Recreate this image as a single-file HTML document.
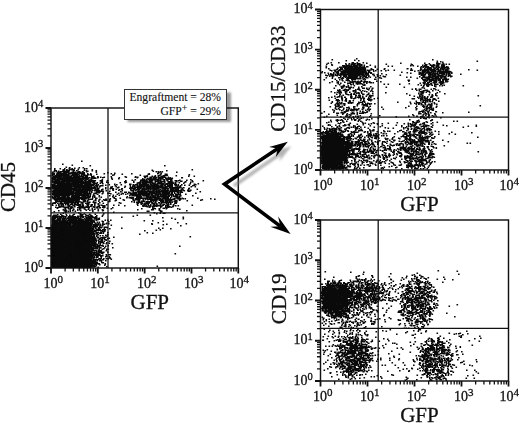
<!DOCTYPE html><html><head><meta charset="utf-8"><title>Flow cytometry</title><style>html,body{margin:0;padding:0;background:#fff;width:520px;height:423px;overflow:hidden}svg{display:block;filter:blur(0.35px)}text{font-family:"Liberation Serif",serif;fill:#111;stroke:#111;stroke-width:0.3px}</style></head><body><svg width="520" height="423" viewBox="0 0 520 423"><defs><clipPath id="cA"><rect x="51.0" y="108.0" width="187.3" height="160.0"/></clipPath><clipPath id="cB"><rect x="320.5" y="9.5" width="188.0" height="160.5"/></clipPath><clipPath id="cC"><rect x="320.5" y="220.0" width="188.0" height="161.0"/></clipPath><filter id="b2" x="-50%" y="-50%" width="200%" height="200%"><feGaussianBlur stdDeviation="2"/></filter></defs><g clip-path="url(#cA)"><g filter="url(#b2)"><ellipse cx="64" cy="186" rx="18" ry="11" fill="#000" fill-opacity="0.55"/><ellipse cx="153" cy="191" rx="14" ry="8" fill="#000" fill-opacity="0.5"/><rect x="45" y="224" width="47" height="50" fill="#000"/></g></g><g clip-path="url(#cB)"><g filter="url(#b2)"><ellipse cx="354.5" cy="70" rx="8" ry="4" fill="#000" fill-opacity="0.5"/><ellipse cx="331" cy="153" rx="12" ry="16" fill="#000" fill-opacity="1"/><ellipse cx="436" cy="73" rx="9" ry="6" fill="#000" fill-opacity="0.3"/></g></g><g clip-path="url(#cC)"><g filter="url(#b2)"><ellipse cx="334" cy="298.5" rx="11" ry="12" fill="#000" fill-opacity="0.8"/></g></g><path d="M51.5 173.3h1.6M51.5 173.8h1.6M51.5 175.8h1.6M51.5 178.3h1.6M51.5 181.3h1.6M51.5 184.8h1.6M51.5 187.3h1.6M51.5 196.8h1.6M51.5 204.8h1.6M51.5 218.3h1.6M51.5 218.8h1.6M51.5 219.3h1.6M51.5 221.3h1.6M51.5 225.8h1.6M51.5 226.8h1.6M51.5 231.8h1.6M51.5 242.8h1.6M51.5 243.8h1.6M51.5 246.3h1.6M51.5 246.8h1.6M51.5 248.8h1.6M51.5 254.8h1.6M51.5 257.8h1.6M51.5 260.8h1.6M52 172.3h1.6M52 172.8h1.6M52 174.8h1.6M52 175.3h1.6M52 177.8h1.6M52 178.8h1.6M52 179.8h1.6M52 181.8h1.6M52 182.3h1.6M52 186.3h1.6M52 187.3h1.6M52 188.3h1.6M52 191.8h1.6M52 193.8h1.6M52 194.3h1.6M52 194.8h1.6M52 197.8h1.6M52 203.3h1.6M52 205.3h1.6M52 216.3h1.6M52 217.3h1.6M52 219.3h1.6M52 220.8h1.6M52 222.8h1.6M52 223.3h1.6M52 224.8h1.6M52 225.3h1.6M52 226.3h1.6M52 227.8h1.6M52 228.3h1.6M52 230.8h1.6M52 231.3h1.6M52 231.8h1.6M52 233.3h1.6M52 235.3h1.6M52 236.3h1.6M52 237.3h1.6M52 238.8h1.6M52 242.3h1.6M52 244.8h1.6M52 246.3h1.6M52 247.3h1.6M52 247.8h1.6M52 248.8h1.6M52 253.3h1.6M52 254.8h1.6M52 256.8h1.6M52 257.8h1.6M52 258.3h1.6M52 259.3h1.6M52 265.3h1.6M52 265.8h1.6M52 266.3h1.6M52.5 176.8h1.6M52.5 184.8h1.6M52.5 185.3h1.6M52.5 186.8h1.6M52.5 187.3h1.6M52.5 187.8h1.6M52.5 190.3h1.6M52.5 190.8h1.6M52.5 193.3h1.6M52.5 198.3h1.6M52.5 198.8h1.6M52.5 220.3h1.6M52.5 221.3h1.6M52.5 222.3h1.6M52.5 222.8h1.6M52.5 223.3h1.6M52.5 224.8h1.6M52.5 225.3h1.6M52.5 225.8h1.6M52.5 226.3h1.6M52.5 226.8h1.6M52.5 228.3h1.6M52.5 228.8h1.6M52.5 229.8h1.6M52.5 230.3h1.6M52.5 234.3h1.6M52.5 236.3h1.6M52.5 238.3h1.6M52.5 240.3h1.6M52.5 243.3h1.6M52.5 245.3h1.6M52.5 246.3h1.6M52.5 246.8h1.6M52.5 248.8h1.6M52.5 250.3h1.6M52.5 250.8h1.6M52.5 254.3h1.6M52.5 256.8h1.6M52.5 257.8h1.6M52.5 260.3h1.6M52.5 260.8h1.6M52.5 265.8h1.6M52.5 267.3h1.6M53 173.8h1.6M53 174.8h1.6M53 178.3h1.6M53 179.8h1.6M53 184.3h1.6M53 184.8h1.6M53 185.3h1.6M53 186.8h1.6M53 187.3h1.6M53 188.3h1.6M53 190.8h1.6M53 192.8h1.6M53 193.3h1.6M53 193.8h1.6M53 197.8h1.6M53 198.3h1.6M53 215.3h1.6M53 216.3h1.6M53 218.3h1.6M53 221.3h1.6M53 222.3h1.6M53 223.8h1.6M53 225.3h1.6M53 225.8h1.6M53 230.8h1.6M53 231.3h1.6M53 231.8h1.6M53 232.3h1.6M53 233.3h1.6M53 234.8h1.6M53 235.3h1.6M53 235.8h1.6M53 238.3h1.6M53 239.3h1.6M53 239.8h1.6M53 240.3h1.6M53 241.3h1.6M53 242.3h1.6M53 242.8h1.6M53 243.3h1.6M53 243.8h1.6M53 244.3h1.6M53 245.3h1.6M53 245.8h1.6M53 253.8h1.6M53 256.8h1.6M53 257.8h1.6M53 259.8h1.6M53 260.8h1.6M53 261.8h1.6M53 262.8h1.6M53 263.8h1.6M53 264.3h1.6M53 264.8h1.6M53 265.8h1.6M53 266.8h1.6M53.5 171.3h1.6M53.5 171.8h1.6M53.5 173.8h1.6M53.5 174.8h1.6M53.5 178.8h1.6M53.5 179.3h1.6M53.5 181.8h1.6M53.5 185.8h1.6M53.5 186.3h1.6M53.5 186.8h1.6M53.5 187.3h1.6M53.5 191.8h1.6M53.5 193.3h1.6M53.5 194.8h1.6M53.5 195.3h1.6M53.5 196.8h1.6M53.5 198.8h1.6M53.5 202.8h1.6M53.5 203.3h1.6M53.5 211.8h1.6M53.5 217.3h1.6M53.5 219.3h1.6M53.5 220.8h1.6M53.5 222.3h1.6M53.5 223.3h1.6M53.5 223.8h1.6M53.5 225.3h1.6M53.5 226.3h1.6M53.5 228.3h1.6M53.5 228.8h1.6M53.5 229.3h1.6M53.5 231.3h1.6M53.5 232.3h1.6M53.5 233.3h1.6M53.5 235.3h1.6M53.5 237.3h1.6M53.5 238.3h1.6M53.5 239.8h1.6M53.5 240.3h1.6M53.5 242.3h1.6M53.5 244.8h1.6M53.5 245.3h1.6M53.5 246.3h1.6M53.5 246.8h1.6M53.5 247.3h1.6M53.5 247.8h1.6M53.5 249.8h1.6M53.5 251.3h1.6M53.5 251.8h1.6M53.5 253.3h1.6M53.5 253.8h1.6M53.5 257.3h1.6M53.5 258.3h1.6M53.5 260.3h1.6M53.5 262.8h1.6M53.5 263.8h1.6M53.5 266.8h1.6M54 168.8h1.6M54 170.3h1.6M54 176.8h1.6M54 177.3h1.6M54 177.8h1.6M54 181.3h1.6M54 182.8h1.6M54 184.8h1.6M54 185.3h1.6M54 187.3h1.6M54 188.3h1.6M54 189.8h1.6M54 190.3h1.6M54 196.3h1.6M54 196.8h1.6M54 197.8h1.6M54 199.3h1.6M54 202.8h1.6M54 215.3h1.6M54 218.8h1.6M54 219.3h1.6M54 219.8h1.6M54 220.3h1.6M54 221.3h1.6M54 221.8h1.6M54 222.8h1.6M54 224.3h1.6M54 224.8h1.6M54 225.8h1.6M54 226.8h1.6M54 227.3h1.6M54 228.3h1.6M54 229.3h1.6M54 229.8h1.6M54 230.8h1.6M54 231.3h1.6M54 232.3h1.6M54 232.8h1.6M54 233.8h1.6M54 234.8h1.6M54 235.8h1.6M54 237.8h1.6M54 240.3h1.6M54 242.3h1.6M54 242.8h1.6M54 243.8h1.6M54 244.8h1.6M54 245.3h1.6M54 245.8h1.6M54 246.3h1.6M54 247.3h1.6M54 250.8h1.6M54 251.8h1.6M54 253.8h1.6M54 254.8h1.6M54 258.8h1.6M54 260.3h1.6M54.5 176.3h1.6M54.5 177.8h1.6M54.5 179.3h1.6M54.5 181.3h1.6M54.5 183.3h1.6M54.5 185.8h1.6M54.5 187.3h1.6M54.5 188.3h1.6M54.5 189.3h1.6M54.5 191.3h1.6M54.5 194.8h1.6M54.5 196.8h1.6M54.5 200.3h1.6M54.5 203.3h1.6M54.5 216.3h1.6M54.5 216.8h1.6M54.5 218.3h1.6M54.5 221.8h1.6M54.5 223.3h1.6M54.5 224.8h1.6M54.5 225.8h1.6M54.5 227.8h1.6M54.5 228.8h1.6M54.5 229.8h1.6M54.5 230.3h1.6M54.5 230.8h1.6M54.5 233.3h1.6M54.5 234.8h1.6M54.5 236.3h1.6M54.5 236.8h1.6M54.5 240.3h1.6M54.5 241.3h1.6M54.5 243.8h1.6M54.5 246.8h1.6M54.5 248.8h1.6M54.5 250.8h1.6M54.5 251.8h1.6M54.5 253.8h1.6M54.5 254.3h1.6M54.5 257.3h1.6M54.5 263.8h1.6M54.5 265.3h1.6M54.5 266.8h1.6M55 175.8h1.6M55 179.3h1.6M55 179.8h1.6M55 180.3h1.6M55 180.8h1.6M55 181.3h1.6M55 186.8h1.6M55 188.3h1.6M55 190.3h1.6M55 191.3h1.6M55 191.8h1.6M55 193.3h1.6M55 194.8h1.6M55 196.8h1.6M55 197.8h1.6M55 198.3h1.6M55 198.8h1.6M55 201.8h1.6M55 207.3h1.6M55 220.8h1.6M55 221.3h1.6M55 223.3h1.6M55 224.3h1.6M55 225.3h1.6M55 226.8h1.6M55 227.8h1.6M55 229.8h1.6M55 230.3h1.6M55 230.8h1.6M55 231.8h1.6M55 232.8h1.6M55 233.3h1.6M55 237.3h1.6M55 237.8h1.6M55 239.3h1.6M55 241.3h1.6M55 242.3h1.6M55 244.3h1.6M55 244.8h1.6M55 245.3h1.6M55 248.8h1.6M55 251.8h1.6M55 253.8h1.6M55 255.3h1.6M55 256.3h1.6M55 258.3h1.6M55 260.3h1.6M55 260.8h1.6M55 261.3h1.6M55 263.8h1.6M55 264.3h1.6M55 264.8h1.6M55 266.8h1.6M55.5 170.8h1.6M55.5 171.3h1.6M55.5 171.8h1.6M55.5 175.8h1.6M55.5 180.8h1.6M55.5 181.8h1.6M55.5 182.3h1.6M55.5 183.3h1.6M55.5 185.8h1.6M55.5 187.3h1.6M55.5 187.8h1.6M55.5 188.8h1.6M55.5 189.3h1.6M55.5 189.8h1.6M55.5 190.3h1.6M55.5 191.8h1.6M55.5 194.8h1.6M55.5 195.3h1.6M55.5 200.8h1.6M55.5 202.3h1.6M55.5 205.3h1.6M55.5 215.3h1.6M55.5 217.3h1.6M55.5 220.8h1.6M55.5 221.8h1.6M55.5 222.8h1.6M55.5 225.3h1.6M55.5 228.3h1.6M55.5 228.8h1.6M55.5 229.8h1.6M55.5 233.3h1.6M55.5 234.8h1.6M55.5 235.8h1.6M55.5 236.8h1.6M55.5 239.3h1.6M55.5 240.8h1.6M55.5 243.3h1.6M55.5 243.8h1.6M55.5 244.3h1.6M55.5 245.3h1.6M55.5 246.8h1.6M55.5 247.3h1.6M55.5 253.8h1.6M55.5 254.8h1.6M55.5 256.3h1.6M55.5 256.8h1.6M55.5 257.3h1.6M55.5 258.3h1.6M55.5 258.8h1.6M55.5 261.8h1.6M55.5 262.3h1.6M55.5 262.8h1.6M55.5 264.3h1.6M55.5 266.3h1.6M56 174.3h1.6M56 177.3h1.6M56 179.3h1.6M56 181.8h1.6M56 183.3h1.6M56 188.3h1.6M56 188.8h1.6M56 189.3h1.6M56 189.8h1.6M56 190.8h1.6M56 192.3h1.6M56 193.3h1.6M56 198.8h1.6M56 199.3h1.6M56 200.3h1.6M56 215.8h1.6M56 220.3h1.6M56 224.3h1.6M56 225.8h1.6M56 227.3h1.6M56 229.8h1.6M56 230.8h1.6M56 233.8h1.6M56 236.3h1.6M56 236.8h1.6M56 240.3h1.6M56 240.8h1.6M56 241.8h1.6M56 243.8h1.6M56 244.8h1.6M56 246.3h1.6M56 246.8h1.6M56 248.3h1.6M56 249.3h1.6M56 252.3h1.6M56 252.8h1.6M56 253.3h1.6M56 255.8h1.6M56 258.3h1.6M56 258.8h1.6M56 259.3h1.6M56 260.8h1.6M56 261.3h1.6M56 262.8h1.6M56 264.3h1.6M56 264.8h1.6M56 265.3h1.6M56 267.3h1.6M56.5 173.8h1.6M56.5 175.3h1.6M56.5 175.8h1.6M56.5 176.8h1.6M56.5 180.8h1.6M56.5 182.3h1.6M56.5 187.3h1.6M56.5 191.3h1.6M56.5 193.8h1.6M56.5 194.8h1.6M56.5 195.3h1.6M56.5 196.8h1.6M56.5 200.8h1.6M56.5 201.3h1.6M56.5 208.3h1.6M56.5 217.8h1.6M56.5 219.8h1.6M56.5 220.3h1.6M56.5 220.8h1.6M56.5 221.8h1.6M56.5 222.3h1.6M56.5 224.8h1.6M56.5 226.3h1.6M56.5 226.8h1.6M56.5 227.8h1.6M56.5 229.3h1.6M56.5 229.8h1.6M56.5 232.3h1.6M56.5 232.8h1.6M56.5 233.3h1.6M56.5 234.3h1.6M56.5 234.8h1.6M56.5 235.8h1.6M56.5 236.3h1.6M56.5 237.8h1.6M56.5 238.8h1.6M56.5 239.3h1.6M56.5 240.8h1.6M56.5 241.3h1.6M56.5 241.8h1.6M56.5 244.8h1.6M56.5 245.8h1.6M56.5 246.8h1.6M56.5 247.8h1.6M56.5 248.3h1.6M56.5 249.8h1.6M56.5 250.8h1.6M56.5 251.3h1.6M56.5 253.8h1.6M56.5 256.8h1.6M56.5 259.8h1.6M56.5 261.8h1.6M56.5 263.8h1.6M56.5 264.3h1.6M56.5 264.8h1.6M56.5 265.3h1.6M56.5 266.3h1.6M56.5 266.8h1.6M57 172.8h1.6M57 174.8h1.6M57 176.3h1.6M57 177.3h1.6M57 177.8h1.6M57 179.3h1.6M57 180.3h1.6M57 180.8h1.6M57 181.8h1.6M57 183.3h1.6M57 183.8h1.6M57 185.3h1.6M57 185.8h1.6M57 187.8h1.6M57 188.3h1.6M57 189.3h1.6M57 189.8h1.6M57 190.3h1.6M57 191.8h1.6M57 192.3h1.6M57 192.8h1.6M57 194.3h1.6M57 197.8h1.6M57 199.3h1.6M57 201.3h1.6M57 203.3h1.6M57 207.8h1.6M57 214.8h1.6M57 216.8h1.6M57 217.8h1.6M57 218.8h1.6M57 220.3h1.6M57 222.3h1.6M57 222.8h1.6M57 223.8h1.6M57 226.8h1.6M57 227.8h1.6M57 230.3h1.6M57 231.3h1.6M57 233.8h1.6M57 235.8h1.6M57 237.8h1.6M57 238.8h1.6M57 239.3h1.6M57 242.3h1.6M57 242.8h1.6M57 243.8h1.6M57 245.3h1.6M57 245.8h1.6M57 246.8h1.6M57 247.8h1.6M57 248.3h1.6M57 248.8h1.6M57 249.8h1.6M57 250.8h1.6M57 251.3h1.6M57 254.3h1.6M57 255.3h1.6M57 257.3h1.6M57 259.8h1.6M57 260.3h1.6M57 261.8h1.6M57 262.8h1.6M57 263.3h1.6M57 263.8h1.6M57 264.8h1.6M57 265.8h1.6M57.5 171.8h1.6M57.5 173.3h1.6M57.5 177.8h1.6M57.5 179.3h1.6M57.5 180.8h1.6M57.5 183.3h1.6M57.5 183.8h1.6M57.5 185.8h1.6M57.5 188.3h1.6M57.5 189.3h1.6M57.5 189.8h1.6M57.5 191.3h1.6M57.5 191.8h1.6M57.5 192.3h1.6M57.5 193.8h1.6M57.5 194.8h1.6M57.5 195.3h1.6M57.5 198.3h1.6M57.5 218.8h1.6M57.5 222.8h1.6M57.5 223.8h1.6M57.5 225.8h1.6M57.5 226.8h1.6M57.5 229.8h1.6M57.5 232.3h1.6M57.5 232.8h1.6M57.5 235.3h1.6M57.5 236.3h1.6M57.5 236.8h1.6M57.5 237.3h1.6M57.5 239.3h1.6M57.5 241.3h1.6M57.5 241.8h1.6M57.5 243.3h1.6M57.5 245.8h1.6M57.5 247.8h1.6M57.5 250.8h1.6M57.5 251.3h1.6M57.5 251.8h1.6M57.5 255.8h1.6M57.5 256.8h1.6M57.5 257.3h1.6M57.5 261.8h1.6M57.5 263.3h1.6M57.5 264.8h1.6M57.5 265.3h1.6M57.5 267.3h1.6M58 171.3h1.6M58 173.3h1.6M58 176.3h1.6M58 176.8h1.6M58 177.3h1.6M58 180.8h1.6M58 182.8h1.6M58 183.3h1.6M58 184.3h1.6M58 186.8h1.6M58 188.8h1.6M58 189.3h1.6M58 189.8h1.6M58 190.3h1.6M58 191.3h1.6M58 191.8h1.6M58 192.8h1.6M58 193.8h1.6M58 194.3h1.6M58 194.8h1.6M58 196.3h1.6M58 197.3h1.6M58 198.8h1.6M58 204.3h1.6M58 205.3h1.6M58 207.3h1.6M58 210.8h1.6M58 216.8h1.6M58 219.8h1.6M58 220.8h1.6M58 223.3h1.6M58 224.8h1.6M58 225.8h1.6M58 227.3h1.6M58 228.3h1.6M58 229.8h1.6M58 230.3h1.6M58 231.3h1.6M58 232.3h1.6M58 232.8h1.6M58 233.8h1.6M58 234.3h1.6M58 234.8h1.6M58 235.8h1.6M58 236.3h1.6M58 240.8h1.6M58 241.3h1.6M58 242.3h1.6M58 243.8h1.6M58 246.8h1.6M58 247.3h1.6M58 248.3h1.6M58 249.3h1.6M58 249.8h1.6M58 250.8h1.6M58 251.3h1.6M58 251.8h1.6M58 252.3h1.6M58 253.3h1.6M58 257.3h1.6M58 257.8h1.6M58 258.8h1.6M58 259.3h1.6M58 259.8h1.6M58 260.3h1.6M58 261.3h1.6M58 262.3h1.6M58 264.3h1.6M58 264.8h1.6M58.5 172.3h1.6M58.5 173.8h1.6M58.5 174.8h1.6M58.5 177.8h1.6M58.5 178.3h1.6M58.5 178.8h1.6M58.5 179.8h1.6M58.5 180.3h1.6M58.5 181.8h1.6M58.5 182.8h1.6M58.5 183.3h1.6M58.5 183.8h1.6M58.5 185.8h1.6M58.5 186.8h1.6M58.5 187.8h1.6M58.5 190.3h1.6M58.5 191.3h1.6M58.5 192.3h1.6M58.5 192.8h1.6M58.5 193.8h1.6M58.5 195.8h1.6M58.5 196.3h1.6M58.5 196.8h1.6M58.5 197.8h1.6M58.5 199.3h1.6M58.5 200.3h1.6M58.5 201.3h1.6M58.5 201.8h1.6M58.5 206.3h1.6M58.5 216.3h1.6M58.5 219.8h1.6M58.5 222.8h1.6M58.5 223.3h1.6M58.5 223.8h1.6M58.5 226.8h1.6M58.5 227.3h1.6M58.5 227.8h1.6M58.5 230.8h1.6M58.5 232.3h1.6M58.5 232.8h1.6M58.5 234.3h1.6M58.5 235.8h1.6M58.5 237.3h1.6M58.5 239.8h1.6M58.5 241.8h1.6M58.5 243.3h1.6M58.5 243.8h1.6M58.5 244.8h1.6M58.5 245.8h1.6M58.5 246.3h1.6M58.5 246.8h1.6M58.5 248.8h1.6M58.5 249.3h1.6M58.5 251.3h1.6M58.5 252.3h1.6M58.5 254.8h1.6M58.5 256.3h1.6M58.5 258.8h1.6M58.5 259.8h1.6M58.5 261.3h1.6M58.5 262.3h1.6M58.5 263.3h1.6M58.5 264.8h1.6M58.5 265.3h1.6M58.5 265.8h1.6M58.5 266.3h1.6M59 172.3h1.6M59 173.3h1.6M59 174.8h1.6M59 175.8h1.6M59 176.3h1.6M59 178.8h1.6M59 179.3h1.6M59 182.3h1.6M59 183.8h1.6M59 184.3h1.6M59 185.8h1.6M59 186.3h1.6M59 186.8h1.6M59 188.3h1.6M59 188.8h1.6M59 191.8h1.6M59 192.8h1.6M59 193.8h1.6M59 195.8h1.6M59 200.3h1.6M59 207.3h1.6M59 217.8h1.6M59 219.3h1.6M59 220.8h1.6M59 221.8h1.6M59 222.8h1.6M59 226.3h1.6M59 228.3h1.6M59 229.3h1.6M59 231.3h1.6M59 232.8h1.6M59 234.3h1.6M59 237.3h1.6M59 238.3h1.6M59 238.8h1.6M59 239.8h1.6M59 240.3h1.6M59 241.8h1.6M59 243.8h1.6M59 246.8h1.6M59 248.3h1.6M59 249.3h1.6M59 251.8h1.6M59 252.8h1.6M59 253.3h1.6M59 255.8h1.6M59 259.3h1.6M59 259.8h1.6M59 260.8h1.6M59 263.8h1.6M59 264.3h1.6M59 264.8h1.6M59 265.3h1.6M59 266.3h1.6M59.5 168.8h1.6M59.5 172.3h1.6M59.5 173.8h1.6M59.5 176.8h1.6M59.5 179.3h1.6M59.5 179.8h1.6M59.5 182.8h1.6M59.5 183.8h1.6M59.5 184.3h1.6M59.5 184.8h1.6M59.5 185.8h1.6M59.5 186.3h1.6M59.5 186.8h1.6M59.5 187.8h1.6M59.5 188.3h1.6M59.5 190.8h1.6M59.5 193.8h1.6M59.5 194.3h1.6M59.5 199.8h1.6M59.5 201.8h1.6M59.5 203.8h1.6M59.5 219.3h1.6M59.5 219.8h1.6M59.5 220.8h1.6M59.5 223.3h1.6M59.5 224.3h1.6M59.5 224.8h1.6M59.5 226.8h1.6M59.5 227.8h1.6M59.5 229.3h1.6M59.5 234.3h1.6M59.5 235.3h1.6M59.5 236.3h1.6M59.5 236.8h1.6M59.5 238.8h1.6M59.5 240.3h1.6M59.5 241.8h1.6M59.5 243.3h1.6M59.5 243.8h1.6M59.5 244.3h1.6M59.5 246.3h1.6M59.5 247.3h1.6M59.5 247.8h1.6M59.5 249.3h1.6M59.5 251.3h1.6M59.5 251.8h1.6M59.5 252.3h1.6M59.5 253.8h1.6M59.5 254.3h1.6M59.5 254.8h1.6M59.5 255.3h1.6M59.5 255.8h1.6M59.5 257.3h1.6M59.5 258.3h1.6M59.5 259.8h1.6M59.5 261.8h1.6M59.5 262.8h1.6M59.5 264.8h1.6M59.5 266.3h1.6M60 171.8h1.6M60 172.8h1.6M60 174.3h1.6M60 177.8h1.6M60 184.8h1.6M60 185.8h1.6M60 186.8h1.6M60 187.8h1.6M60 189.8h1.6M60 190.3h1.6M60 191.8h1.6M60 192.8h1.6M60 193.3h1.6M60 194.3h1.6M60 195.3h1.6M60 197.8h1.6M60 198.3h1.6M60 199.8h1.6M60 202.3h1.6M60 203.3h1.6M60 206.8h1.6M60 214.3h1.6M60 216.8h1.6M60 217.8h1.6M60 222.3h1.6M60 223.8h1.6M60 225.3h1.6M60 226.3h1.6M60 226.8h1.6M60 230.3h1.6M60 231.8h1.6M60 232.3h1.6M60 233.3h1.6M60 233.8h1.6M60 234.8h1.6M60 235.8h1.6M60 236.3h1.6M60 236.8h1.6M60 237.8h1.6M60 239.8h1.6M60 240.3h1.6M60 240.8h1.6M60 242.3h1.6M60 242.8h1.6M60 243.8h1.6M60 244.3h1.6M60 245.3h1.6M60 246.3h1.6M60 246.8h1.6M60 247.3h1.6M60 247.8h1.6M60 248.8h1.6M60 252.8h1.6M60 253.3h1.6M60 258.3h1.6M60 261.3h1.6M60 262.3h1.6M60 263.3h1.6M60 263.8h1.6M60 265.8h1.6M60.5 174.3h1.6M60.5 175.3h1.6M60.5 176.3h1.6M60.5 176.8h1.6M60.5 177.8h1.6M60.5 179.3h1.6M60.5 181.8h1.6M60.5 182.3h1.6M60.5 183.3h1.6M60.5 184.3h1.6M60.5 184.8h1.6M60.5 185.8h1.6M60.5 186.3h1.6M60.5 187.8h1.6M60.5 188.3h1.6M60.5 190.3h1.6M60.5 191.8h1.6M60.5 192.8h1.6M60.5 194.3h1.6M60.5 194.8h1.6M60.5 198.8h1.6M60.5 199.8h1.6M60.5 202.8h1.6M60.5 204.3h1.6M60.5 204.8h1.6M60.5 205.8h1.6M60.5 216.8h1.6M60.5 217.3h1.6M60.5 221.3h1.6M60.5 222.3h1.6M60.5 225.3h1.6M60.5 226.8h1.6M60.5 227.3h1.6M60.5 227.8h1.6M60.5 231.8h1.6M60.5 232.3h1.6M60.5 233.8h1.6M60.5 234.3h1.6M60.5 236.3h1.6M60.5 237.8h1.6M60.5 239.8h1.6M60.5 240.8h1.6M60.5 241.3h1.6M60.5 243.8h1.6M60.5 244.3h1.6M60.5 245.3h1.6M60.5 245.8h1.6M60.5 246.3h1.6M60.5 247.3h1.6M60.5 247.8h1.6M60.5 248.3h1.6M60.5 250.8h1.6M60.5 251.3h1.6M60.5 253.3h1.6M60.5 254.8h1.6M60.5 257.3h1.6M60.5 257.8h1.6M60.5 258.3h1.6M60.5 258.8h1.6M60.5 259.3h1.6M60.5 260.8h1.6M60.5 262.3h1.6M60.5 263.8h1.6M60.5 264.3h1.6M60.5 264.8h1.6M60.5 265.8h1.6M61 178.8h1.6M61 181.3h1.6M61 181.8h1.6M61 183.8h1.6M61 184.3h1.6M61 185.3h1.6M61 186.8h1.6M61 187.3h1.6M61 188.8h1.6M61 189.8h1.6M61 191.8h1.6M61 192.8h1.6M61 193.8h1.6M61 194.3h1.6M61 194.8h1.6M61 195.3h1.6M61 197.3h1.6M61 198.3h1.6M61 198.8h1.6M61 200.3h1.6M61 201.3h1.6M61 202.8h1.6M61 204.3h1.6M61 205.8h1.6M61 215.3h1.6M61 221.3h1.6M61 222.3h1.6M61 223.8h1.6M61 224.8h1.6M61 227.8h1.6M61 228.3h1.6M61 231.8h1.6M61 232.3h1.6M61 234.3h1.6M61 235.3h1.6M61 235.8h1.6M61 236.3h1.6M61 237.3h1.6M61 241.3h1.6M61 243.3h1.6M61 243.8h1.6M61 244.8h1.6M61 245.8h1.6M61 246.3h1.6M61 247.3h1.6M61 247.8h1.6M61 248.3h1.6M61 249.8h1.6M61 250.3h1.6M61 250.8h1.6M61 251.3h1.6M61 251.8h1.6M61 252.3h1.6M61 253.3h1.6M61 253.8h1.6M61 255.8h1.6M61 256.3h1.6M61 257.3h1.6M61 258.8h1.6M61 260.3h1.6M61 261.3h1.6M61 263.3h1.6M61 264.3h1.6M61.5 171.8h1.6M61.5 173.8h1.6M61.5 174.3h1.6M61.5 178.3h1.6M61.5 179.3h1.6M61.5 180.8h1.6M61.5 181.3h1.6M61.5 182.8h1.6M61.5 183.3h1.6M61.5 184.8h1.6M61.5 186.3h1.6M61.5 186.8h1.6M61.5 187.8h1.6M61.5 188.3h1.6M61.5 190.8h1.6M61.5 191.8h1.6M61.5 192.8h1.6M61.5 193.3h1.6M61.5 194.3h1.6M61.5 194.8h1.6M61.5 196.8h1.6M61.5 198.3h1.6M61.5 199.3h1.6M61.5 201.3h1.6M61.5 203.8h1.6M61.5 206.8h1.6M61.5 216.8h1.6M61.5 218.8h1.6M61.5 219.8h1.6M61.5 220.3h1.6M61.5 221.8h1.6M61.5 222.3h1.6M61.5 222.8h1.6M61.5 223.3h1.6M61.5 224.3h1.6M61.5 225.3h1.6M61.5 226.8h1.6M61.5 227.3h1.6M61.5 227.8h1.6M61.5 228.3h1.6M61.5 234.8h1.6M61.5 236.3h1.6M61.5 236.8h1.6M61.5 237.8h1.6M61.5 241.3h1.6M61.5 241.8h1.6M61.5 242.3h1.6M61.5 242.8h1.6M61.5 245.3h1.6M61.5 245.8h1.6M61.5 247.8h1.6M61.5 249.3h1.6M61.5 250.3h1.6M61.5 251.3h1.6M61.5 251.8h1.6M61.5 253.3h1.6M61.5 253.8h1.6M61.5 254.8h1.6M61.5 255.3h1.6M61.5 255.8h1.6M61.5 257.8h1.6M61.5 258.8h1.6M61.5 260.3h1.6M61.5 262.8h1.6M61.5 265.3h1.6M61.5 266.3h1.6M61.5 266.8h1.6M62 164.3h1.6M62 171.3h1.6M62 174.3h1.6M62 175.8h1.6M62 178.3h1.6M62 178.8h1.6M62 179.3h1.6M62 179.8h1.6M62 182.3h1.6M62 182.8h1.6M62 183.3h1.6M62 183.8h1.6M62 185.3h1.6M62 185.8h1.6M62 187.8h1.6M62 188.8h1.6M62 189.3h1.6M62 191.3h1.6M62 191.8h1.6M62 192.3h1.6M62 193.8h1.6M62 196.3h1.6M62 197.3h1.6M62 197.8h1.6M62 198.8h1.6M62 199.8h1.6M62 200.3h1.6M62 203.8h1.6M62 215.8h1.6M62 219.3h1.6M62 219.8h1.6M62 220.8h1.6M62 221.3h1.6M62 221.8h1.6M62 223.3h1.6M62 223.8h1.6M62 224.8h1.6M62 227.3h1.6M62 227.8h1.6M62 228.3h1.6M62 229.3h1.6M62 229.8h1.6M62 231.8h1.6M62 233.3h1.6M62 234.3h1.6M62 234.8h1.6M62 235.8h1.6M62 236.3h1.6M62 238.3h1.6M62 240.8h1.6M62 241.8h1.6M62 242.8h1.6M62 246.3h1.6M62 246.8h1.6M62 247.8h1.6M62 253.3h1.6M62 256.8h1.6M62 259.3h1.6M62 259.8h1.6M62 261.3h1.6M62 261.8h1.6M62 264.3h1.6M62 265.3h1.6M62.5 169.8h1.6M62.5 175.8h1.6M62.5 176.8h1.6M62.5 177.3h1.6M62.5 178.3h1.6M62.5 178.8h1.6M62.5 179.8h1.6M62.5 182.8h1.6M62.5 183.3h1.6M62.5 185.3h1.6M62.5 186.3h1.6M62.5 187.8h1.6M62.5 188.3h1.6M62.5 189.3h1.6M62.5 192.8h1.6M62.5 193.3h1.6M62.5 194.8h1.6M62.5 198.8h1.6M62.5 199.3h1.6M62.5 200.3h1.6M62.5 201.3h1.6M62.5 204.8h1.6M62.5 206.8h1.6M62.5 209.8h1.6M62.5 213.3h1.6M62.5 217.3h1.6M62.5 217.8h1.6M62.5 219.3h1.6M62.5 222.8h1.6M62.5 223.8h1.6M62.5 224.3h1.6M62.5 224.8h1.6M62.5 226.3h1.6M62.5 228.3h1.6M62.5 229.3h1.6M62.5 229.8h1.6M62.5 230.8h1.6M62.5 231.8h1.6M62.5 236.3h1.6M62.5 238.8h1.6M62.5 239.3h1.6M62.5 239.8h1.6M62.5 240.8h1.6M62.5 242.8h1.6M62.5 244.8h1.6M62.5 247.3h1.6M62.5 247.8h1.6M62.5 248.3h1.6M62.5 248.8h1.6M62.5 249.8h1.6M62.5 251.3h1.6M62.5 253.3h1.6M62.5 259.3h1.6M62.5 260.3h1.6M62.5 261.3h1.6M62.5 261.8h1.6M62.5 262.8h1.6M62.5 264.8h1.6M62.5 265.3h1.6M62.5 266.3h1.6M63 172.8h1.6M63 175.3h1.6M63 178.3h1.6M63 180.8h1.6M63 184.3h1.6M63 184.8h1.6M63 185.3h1.6M63 185.8h1.6M63 186.8h1.6M63 187.3h1.6M63 187.8h1.6M63 188.8h1.6M63 189.8h1.6M63 190.8h1.6M63 193.3h1.6M63 196.3h1.6M63 196.8h1.6M63 197.3h1.6M63 198.8h1.6M63 199.8h1.6M63 200.8h1.6M63 206.3h1.6M63 216.3h1.6M63 218.3h1.6M63 220.8h1.6M63 223.8h1.6M63 226.8h1.6M63 227.3h1.6M63 227.8h1.6M63 228.3h1.6M63 229.3h1.6M63 230.8h1.6M63 231.3h1.6M63 232.8h1.6M63 233.3h1.6M63 236.8h1.6M63 237.3h1.6M63 239.8h1.6M63 241.3h1.6M63 244.8h1.6M63 245.8h1.6M63 246.3h1.6M63 246.8h1.6M63 249.3h1.6M63 250.3h1.6M63 252.3h1.6M63 254.8h1.6M63 255.8h1.6M63 258.8h1.6M63 259.3h1.6M63 259.8h1.6M63 260.8h1.6M63 261.8h1.6M63 263.3h1.6M63 263.8h1.6M63 264.3h1.6M63 264.8h1.6M63 265.8h1.6M63 266.3h1.6M63.5 170.3h1.6M63.5 170.8h1.6M63.5 171.3h1.6M63.5 174.3h1.6M63.5 175.3h1.6M63.5 175.8h1.6M63.5 176.8h1.6M63.5 177.8h1.6M63.5 179.3h1.6M63.5 180.8h1.6M63.5 181.8h1.6M63.5 183.3h1.6M63.5 185.3h1.6M63.5 185.8h1.6M63.5 186.3h1.6M63.5 189.3h1.6M63.5 189.8h1.6M63.5 190.8h1.6M63.5 191.8h1.6M63.5 192.3h1.6M63.5 193.3h1.6M63.5 195.3h1.6M63.5 196.8h1.6M63.5 198.8h1.6M63.5 199.3h1.6M63.5 201.3h1.6M63.5 202.3h1.6M63.5 202.8h1.6M63.5 207.8h1.6M63.5 210.8h1.6M63.5 219.3h1.6M63.5 221.8h1.6M63.5 222.3h1.6M63.5 224.3h1.6M63.5 224.8h1.6M63.5 225.8h1.6M63.5 228.8h1.6M63.5 229.3h1.6M63.5 230.3h1.6M63.5 232.3h1.6M63.5 233.3h1.6M63.5 236.3h1.6M63.5 236.8h1.6M63.5 237.3h1.6M63.5 238.3h1.6M63.5 239.8h1.6M63.5 240.3h1.6M63.5 240.8h1.6M63.5 244.3h1.6M63.5 244.8h1.6M63.5 245.8h1.6M63.5 246.3h1.6M63.5 247.8h1.6M63.5 249.3h1.6M63.5 250.8h1.6M63.5 253.3h1.6M63.5 255.8h1.6M63.5 256.3h1.6M63.5 256.8h1.6M63.5 257.3h1.6M63.5 259.3h1.6M63.5 259.8h1.6M63.5 260.3h1.6M63.5 262.8h1.6M63.5 266.3h1.6M63.5 266.8h1.6M64 168.8h1.6M64 175.8h1.6M64 178.3h1.6M64 179.3h1.6M64 181.3h1.6M64 185.8h1.6M64 186.3h1.6M64 188.3h1.6M64 189.3h1.6M64 190.3h1.6M64 191.3h1.6M64 192.8h1.6M64 193.8h1.6M64 195.8h1.6M64 197.8h1.6M64 198.3h1.6M64 200.3h1.6M64 202.3h1.6M64 203.3h1.6M64 210.3h1.6M64 220.8h1.6M64 221.8h1.6M64 222.8h1.6M64 227.8h1.6M64 228.3h1.6M64 229.8h1.6M64 230.3h1.6M64 232.3h1.6M64 232.8h1.6M64 233.3h1.6M64 234.3h1.6M64 235.3h1.6M64 237.3h1.6M64 238.3h1.6M64 238.8h1.6M64 239.3h1.6M64 242.8h1.6M64 243.3h1.6M64 243.8h1.6M64 244.8h1.6M64 245.3h1.6M64 245.8h1.6M64 246.3h1.6M64 246.8h1.6M64 249.8h1.6M64 250.3h1.6M64 250.8h1.6M64 252.8h1.6M64 254.3h1.6M64 255.3h1.6M64 256.8h1.6M64 257.8h1.6M64 259.3h1.6M64 259.8h1.6M64 263.3h1.6M64 263.8h1.6M64 265.3h1.6M64.5 172.3h1.6M64.5 173.8h1.6M64.5 175.3h1.6M64.5 175.8h1.6M64.5 178.3h1.6M64.5 179.8h1.6M64.5 181.3h1.6M64.5 183.8h1.6M64.5 184.3h1.6M64.5 184.8h1.6M64.5 187.3h1.6M64.5 188.3h1.6M64.5 191.3h1.6M64.5 191.8h1.6M64.5 192.8h1.6M64.5 193.8h1.6M64.5 196.3h1.6M64.5 197.8h1.6M64.5 199.3h1.6M64.5 200.3h1.6M64.5 201.8h1.6M64.5 208.3h1.6M64.5 208.8h1.6M64.5 211.8h1.6M64.5 216.8h1.6M64.5 217.3h1.6M64.5 217.8h1.6M64.5 218.3h1.6M64.5 218.8h1.6M64.5 220.8h1.6M64.5 221.3h1.6M64.5 223.8h1.6M64.5 224.3h1.6M64.5 226.3h1.6M64.5 227.3h1.6M64.5 227.8h1.6M64.5 229.8h1.6M64.5 230.8h1.6M64.5 232.8h1.6M64.5 233.3h1.6M64.5 233.8h1.6M64.5 235.8h1.6M64.5 236.3h1.6M64.5 238.3h1.6M64.5 239.3h1.6M64.5 241.8h1.6M64.5 242.8h1.6M64.5 244.8h1.6M64.5 245.3h1.6M64.5 246.8h1.6M64.5 251.8h1.6M64.5 252.3h1.6M64.5 252.8h1.6M64.5 253.8h1.6M64.5 255.8h1.6M64.5 256.3h1.6M64.5 257.8h1.6M64.5 258.3h1.6M64.5 259.3h1.6M64.5 259.8h1.6M64.5 260.3h1.6M64.5 261.3h1.6M64.5 261.8h1.6M64.5 262.8h1.6M64.5 264.3h1.6M64.5 264.8h1.6M64.5 265.3h1.6M64.5 265.8h1.6M64.5 266.3h1.6M65 171.3h1.6M65 173.3h1.6M65 174.3h1.6M65 176.3h1.6M65 176.8h1.6M65 177.3h1.6M65 177.8h1.6M65 178.8h1.6M65 180.3h1.6M65 180.8h1.6M65 181.3h1.6M65 185.3h1.6M65 185.8h1.6M65 187.8h1.6M65 188.8h1.6M65 189.3h1.6M65 190.3h1.6M65 192.3h1.6M65 192.8h1.6M65 194.3h1.6M65 195.8h1.6M65 196.8h1.6M65 197.8h1.6M65 199.8h1.6M65 200.3h1.6M65 200.8h1.6M65 203.3h1.6M65 204.3h1.6M65 204.8h1.6M65 207.3h1.6M65 211.3h1.6M65 212.8h1.6M65 217.3h1.6M65 217.8h1.6M65 221.3h1.6M65 222.3h1.6M65 223.3h1.6M65 224.3h1.6M65 224.8h1.6M65 225.3h1.6M65 226.8h1.6M65 228.3h1.6M65 230.3h1.6M65 230.8h1.6M65 231.3h1.6M65 231.8h1.6M65 232.3h1.6M65 234.3h1.6M65 235.3h1.6M65 236.8h1.6M65 237.3h1.6M65 237.8h1.6M65 239.3h1.6M65 241.8h1.6M65 244.3h1.6M65 246.8h1.6M65 248.8h1.6M65 250.3h1.6M65 251.3h1.6M65 251.8h1.6M65 255.8h1.6M65 256.3h1.6M65 256.8h1.6M65 258.3h1.6M65 258.8h1.6M65 263.3h1.6M65 263.8h1.6M65 264.3h1.6M65 265.3h1.6M65 265.8h1.6M65 266.3h1.6M65.5 167.3h1.6M65.5 173.3h1.6M65.5 174.8h1.6M65.5 176.8h1.6M65.5 178.8h1.6M65.5 179.3h1.6M65.5 182.3h1.6M65.5 186.3h1.6M65.5 187.8h1.6M65.5 189.8h1.6M65.5 190.3h1.6M65.5 192.3h1.6M65.5 193.3h1.6M65.5 193.8h1.6M65.5 194.3h1.6M65.5 195.3h1.6M65.5 198.3h1.6M65.5 198.8h1.6M65.5 199.3h1.6M65.5 200.8h1.6M65.5 201.8h1.6M65.5 203.3h1.6M65.5 210.3h1.6M65.5 211.8h1.6M65.5 214.8h1.6M65.5 219.3h1.6M65.5 222.3h1.6M65.5 223.8h1.6M65.5 224.3h1.6M65.5 224.8h1.6M65.5 226.3h1.6M65.5 226.8h1.6M65.5 227.3h1.6M65.5 228.3h1.6M65.5 231.3h1.6M65.5 232.3h1.6M65.5 232.8h1.6M65.5 233.3h1.6M65.5 233.8h1.6M65.5 236.8h1.6M65.5 238.3h1.6M65.5 239.8h1.6M65.5 242.3h1.6M65.5 243.3h1.6M65.5 243.8h1.6M65.5 244.8h1.6M65.5 246.3h1.6M65.5 246.8h1.6M65.5 247.8h1.6M65.5 248.8h1.6M65.5 253.3h1.6M65.5 253.8h1.6M65.5 254.8h1.6M65.5 255.3h1.6M65.5 256.8h1.6M65.5 259.3h1.6M65.5 260.8h1.6M65.5 261.8h1.6M65.5 262.8h1.6M65.5 263.8h1.6M65.5 264.3h1.6M65.5 265.3h1.6M65.5 265.8h1.6M65.5 266.8h1.6M66 169.8h1.6M66 172.3h1.6M66 175.3h1.6M66 176.3h1.6M66 179.3h1.6M66 182.8h1.6M66 183.8h1.6M66 185.3h1.6M66 186.3h1.6M66 188.3h1.6M66 189.3h1.6M66 189.8h1.6M66 190.3h1.6M66 191.3h1.6M66 192.3h1.6M66 193.3h1.6M66 195.3h1.6M66 198.8h1.6M66 199.8h1.6M66 215.8h1.6M66 221.8h1.6M66 223.8h1.6M66 226.8h1.6M66 227.8h1.6M66 228.3h1.6M66 229.3h1.6M66 229.8h1.6M66 232.3h1.6M66 232.8h1.6M66 233.8h1.6M66 234.8h1.6M66 235.3h1.6M66 236.3h1.6M66 237.3h1.6M66 238.8h1.6M66 239.8h1.6M66 240.3h1.6M66 241.8h1.6M66 242.8h1.6M66 243.8h1.6M66 244.8h1.6M66 245.3h1.6M66 250.3h1.6M66 250.8h1.6M66 252.3h1.6M66 255.3h1.6M66 259.8h1.6M66 263.8h1.6M66 265.8h1.6M66 267.3h1.6M66.5 170.3h1.6M66.5 170.8h1.6M66.5 171.8h1.6M66.5 175.8h1.6M66.5 176.3h1.6M66.5 176.8h1.6M66.5 178.3h1.6M66.5 179.3h1.6M66.5 180.3h1.6M66.5 181.3h1.6M66.5 181.8h1.6M66.5 182.8h1.6M66.5 183.8h1.6M66.5 184.8h1.6M66.5 185.3h1.6M66.5 186.3h1.6M66.5 187.3h1.6M66.5 187.8h1.6M66.5 188.3h1.6M66.5 190.3h1.6M66.5 191.3h1.6M66.5 193.3h1.6M66.5 194.3h1.6M66.5 198.8h1.6M66.5 201.3h1.6M66.5 203.3h1.6M66.5 207.3h1.6M66.5 207.8h1.6M66.5 220.8h1.6M66.5 221.3h1.6M66.5 222.3h1.6M66.5 223.3h1.6M66.5 223.8h1.6M66.5 224.8h1.6M66.5 227.8h1.6M66.5 230.3h1.6M66.5 230.8h1.6M66.5 233.3h1.6M66.5 233.8h1.6M66.5 234.8h1.6M66.5 237.3h1.6M66.5 238.3h1.6M66.5 238.8h1.6M66.5 240.8h1.6M66.5 241.8h1.6M66.5 242.3h1.6M66.5 244.8h1.6M66.5 245.8h1.6M66.5 246.8h1.6M66.5 248.3h1.6M66.5 252.8h1.6M66.5 253.3h1.6M66.5 255.3h1.6M66.5 255.8h1.6M66.5 256.8h1.6M66.5 260.8h1.6M66.5 261.8h1.6M66.5 262.3h1.6M66.5 262.8h1.6M66.5 264.3h1.6M66.5 267.3h1.6M67 170.8h1.6M67 171.8h1.6M67 172.3h1.6M67 174.8h1.6M67 175.3h1.6M67 175.8h1.6M67 177.3h1.6M67 177.8h1.6M67 178.8h1.6M67 180.8h1.6M67 183.3h1.6M67 185.3h1.6M67 186.3h1.6M67 186.8h1.6M67 187.8h1.6M67 190.3h1.6M67 192.3h1.6M67 194.8h1.6M67 196.3h1.6M67 196.8h1.6M67 198.3h1.6M67 199.8h1.6M67 201.8h1.6M67 202.8h1.6M67 203.8h1.6M67 204.8h1.6M67 207.3h1.6M67 218.3h1.6M67 222.3h1.6M67 222.8h1.6M67 224.3h1.6M67 226.8h1.6M67 227.8h1.6M67 228.3h1.6M67 230.3h1.6M67 233.3h1.6M67 234.3h1.6M67 235.3h1.6M67 237.3h1.6M67 237.8h1.6M67 239.3h1.6M67 240.3h1.6M67 240.8h1.6M67 242.3h1.6M67 242.8h1.6M67 243.3h1.6M67 244.3h1.6M67 246.3h1.6M67 246.8h1.6M67 247.3h1.6M67 250.3h1.6M67 250.8h1.6M67 253.3h1.6M67 254.3h1.6M67 256.8h1.6M67 257.3h1.6M67 260.3h1.6M67 260.8h1.6M67 264.3h1.6M67 265.8h1.6M67 267.3h1.6M67.5 170.3h1.6M67.5 172.8h1.6M67.5 173.3h1.6M67.5 174.8h1.6M67.5 177.8h1.6M67.5 178.3h1.6M67.5 178.8h1.6M67.5 179.3h1.6M67.5 179.8h1.6M67.5 180.3h1.6M67.5 183.3h1.6M67.5 185.3h1.6M67.5 185.8h1.6M67.5 187.3h1.6M67.5 187.8h1.6M67.5 189.8h1.6M67.5 190.8h1.6M67.5 191.3h1.6M67.5 192.8h1.6M67.5 194.8h1.6M67.5 195.8h1.6M67.5 200.3h1.6M67.5 203.3h1.6M67.5 203.8h1.6M67.5 206.3h1.6M67.5 207.3h1.6M67.5 211.3h1.6M67.5 217.8h1.6M67.5 219.8h1.6M67.5 220.3h1.6M67.5 222.3h1.6M67.5 223.3h1.6M67.5 223.8h1.6M67.5 224.3h1.6M67.5 226.3h1.6M67.5 227.3h1.6M67.5 227.8h1.6M67.5 228.3h1.6M67.5 228.8h1.6M67.5 229.3h1.6M67.5 229.8h1.6M67.5 231.3h1.6M67.5 232.8h1.6M67.5 236.8h1.6M67.5 237.8h1.6M67.5 238.3h1.6M67.5 238.8h1.6M67.5 241.8h1.6M67.5 242.8h1.6M67.5 244.8h1.6M67.5 247.8h1.6M67.5 249.3h1.6M67.5 250.3h1.6M67.5 251.8h1.6M67.5 252.3h1.6M67.5 254.8h1.6M67.5 255.8h1.6M67.5 256.3h1.6M67.5 258.3h1.6M67.5 258.8h1.6M67.5 260.3h1.6M67.5 261.8h1.6M67.5 262.3h1.6M67.5 262.8h1.6M67.5 263.8h1.6M67.5 265.3h1.6M67.5 265.8h1.6M67.5 266.3h1.6M67.5 266.8h1.6M68 172.3h1.6M68 174.8h1.6M68 177.8h1.6M68 181.3h1.6M68 181.8h1.6M68 183.3h1.6M68 184.3h1.6M68 184.8h1.6M68 185.3h1.6M68 187.8h1.6M68 188.8h1.6M68 191.3h1.6M68 192.3h1.6M68 194.3h1.6M68 194.8h1.6M68 197.3h1.6M68 198.8h1.6M68 200.8h1.6M68 205.3h1.6M68 206.3h1.6M68 208.8h1.6M68 216.8h1.6M68 217.3h1.6M68 218.3h1.6M68 220.3h1.6M68 222.3h1.6M68 223.8h1.6M68 225.8h1.6M68 227.3h1.6M68 229.8h1.6M68 230.3h1.6M68 232.8h1.6M68 233.3h1.6M68 234.3h1.6M68 234.8h1.6M68 235.3h1.6M68 235.8h1.6M68 236.8h1.6M68 240.3h1.6M68 241.3h1.6M68 241.8h1.6M68 242.3h1.6M68 242.8h1.6M68 244.3h1.6M68 246.8h1.6M68 247.3h1.6M68 247.8h1.6M68 248.8h1.6M68 250.8h1.6M68 255.8h1.6M68 256.8h1.6M68 257.3h1.6M68 258.8h1.6M68 259.8h1.6M68 260.8h1.6M68 261.3h1.6M68 264.8h1.6M68 266.8h1.6M68.5 168.3h1.6M68.5 170.8h1.6M68.5 176.3h1.6M68.5 178.3h1.6M68.5 178.8h1.6M68.5 179.8h1.6M68.5 180.3h1.6M68.5 180.8h1.6M68.5 181.8h1.6M68.5 182.8h1.6M68.5 183.8h1.6M68.5 185.3h1.6M68.5 186.3h1.6M68.5 186.8h1.6M68.5 187.3h1.6M68.5 188.8h1.6M68.5 189.3h1.6M68.5 189.8h1.6M68.5 190.3h1.6M68.5 193.3h1.6M68.5 195.3h1.6M68.5 197.3h1.6M68.5 197.8h1.6M68.5 198.3h1.6M68.5 199.8h1.6M68.5 201.8h1.6M68.5 202.3h1.6M68.5 202.8h1.6M68.5 205.8h1.6M68.5 221.8h1.6M68.5 225.8h1.6M68.5 226.8h1.6M68.5 227.8h1.6M68.5 228.3h1.6M68.5 229.3h1.6M68.5 230.8h1.6M68.5 232.3h1.6M68.5 236.8h1.6M68.5 237.8h1.6M68.5 238.3h1.6M68.5 243.8h1.6M68.5 247.8h1.6M68.5 248.3h1.6M68.5 249.3h1.6M68.5 250.3h1.6M68.5 251.3h1.6M68.5 253.3h1.6M68.5 254.8h1.6M68.5 255.3h1.6M68.5 256.8h1.6M68.5 260.3h1.6M69 167.8h1.6M69 169.3h1.6M69 173.3h1.6M69 173.8h1.6M69 178.8h1.6M69 181.3h1.6M69 182.3h1.6M69 182.8h1.6M69 183.3h1.6M69 184.3h1.6M69 184.8h1.6M69 185.8h1.6M69 186.3h1.6M69 187.8h1.6M69 189.8h1.6M69 190.3h1.6M69 191.3h1.6M69 193.3h1.6M69 193.8h1.6M69 194.3h1.6M69 198.8h1.6M69 201.3h1.6M69 202.3h1.6M69 205.3h1.6M69 206.8h1.6M69 215.3h1.6M69 216.3h1.6M69 218.3h1.6M69 219.3h1.6M69 219.8h1.6M69 222.3h1.6M69 222.8h1.6M69 223.8h1.6M69 224.3h1.6M69 228.3h1.6M69 229.8h1.6M69 231.3h1.6M69 233.8h1.6M69 234.8h1.6M69 236.8h1.6M69 237.3h1.6M69 238.3h1.6M69 238.8h1.6M69 239.8h1.6M69 241.3h1.6M69 243.3h1.6M69 243.8h1.6M69 244.3h1.6M69 245.3h1.6M69 246.3h1.6M69 247.3h1.6M69 248.8h1.6M69 249.3h1.6M69 250.8h1.6M69 252.8h1.6M69 258.3h1.6M69 259.3h1.6M69 259.8h1.6M69 265.3h1.6M69 265.8h1.6M69 266.3h1.6M69.5 176.8h1.6M69.5 177.3h1.6M69.5 177.8h1.6M69.5 180.3h1.6M69.5 181.3h1.6M69.5 183.3h1.6M69.5 185.3h1.6M69.5 185.8h1.6M69.5 186.3h1.6M69.5 186.8h1.6M69.5 187.8h1.6M69.5 189.8h1.6M69.5 191.8h1.6M69.5 192.3h1.6M69.5 193.8h1.6M69.5 199.3h1.6M69.5 209.3h1.6M69.5 210.3h1.6M69.5 211.3h1.6M69.5 216.3h1.6M69.5 217.8h1.6M69.5 219.3h1.6M69.5 220.3h1.6M69.5 220.8h1.6M69.5 222.8h1.6M69.5 224.8h1.6M69.5 226.3h1.6M69.5 228.3h1.6M69.5 229.8h1.6M69.5 230.3h1.6M69.5 230.8h1.6M69.5 231.8h1.6M69.5 232.3h1.6M69.5 232.8h1.6M69.5 235.3h1.6M69.5 236.8h1.6M69.5 238.8h1.6M69.5 240.3h1.6M69.5 242.3h1.6M69.5 243.8h1.6M69.5 244.3h1.6M69.5 245.8h1.6M69.5 248.3h1.6M69.5 250.3h1.6M69.5 251.3h1.6M69.5 252.3h1.6M69.5 253.3h1.6M69.5 257.3h1.6M69.5 259.3h1.6M69.5 260.3h1.6M69.5 261.3h1.6M69.5 262.8h1.6M69.5 263.8h1.6M69.5 264.3h1.6M69.5 264.8h1.6M69.5 265.8h1.6M69.5 266.3h1.6M69.5 266.8h1.6M69.5 267.3h1.6M70 173.3h1.6M70 180.8h1.6M70 181.3h1.6M70 183.3h1.6M70 183.8h1.6M70 185.3h1.6M70 185.8h1.6M70 186.3h1.6M70 187.3h1.6M70 187.8h1.6M70 188.3h1.6M70 191.3h1.6M70 193.3h1.6M70 194.3h1.6M70 200.8h1.6M70 202.3h1.6M70 204.3h1.6M70 207.3h1.6M70 207.8h1.6M70 216.8h1.6M70 218.3h1.6M70 221.8h1.6M70 222.8h1.6M70 223.3h1.6M70 224.8h1.6M70 226.8h1.6M70 227.3h1.6M70 228.8h1.6M70 229.3h1.6M70 229.8h1.6M70 230.3h1.6M70 230.8h1.6M70 231.3h1.6M70 232.3h1.6M70 235.3h1.6M70 235.8h1.6M70 236.3h1.6M70 237.8h1.6M70 240.3h1.6M70 240.8h1.6M70 241.3h1.6M70 242.3h1.6M70 243.3h1.6M70 244.8h1.6M70 245.8h1.6M70 246.3h1.6M70 247.8h1.6M70 249.8h1.6M70 250.3h1.6M70 251.3h1.6M70 253.3h1.6M70 258.3h1.6M70 258.8h1.6M70 259.8h1.6M70 264.8h1.6M70 265.8h1.6M70 266.8h1.6M70.5 169.8h1.6M70.5 172.8h1.6M70.5 173.8h1.6M70.5 175.8h1.6M70.5 176.8h1.6M70.5 178.3h1.6M70.5 179.8h1.6M70.5 180.3h1.6M70.5 181.3h1.6M70.5 184.8h1.6M70.5 186.8h1.6M70.5 187.3h1.6M70.5 187.8h1.6M70.5 188.8h1.6M70.5 190.3h1.6M70.5 190.8h1.6M70.5 192.8h1.6M70.5 193.3h1.6M70.5 193.8h1.6M70.5 194.8h1.6M70.5 197.8h1.6M70.5 199.3h1.6M70.5 201.8h1.6M70.5 202.3h1.6M70.5 207.3h1.6M70.5 208.3h1.6M70.5 221.3h1.6M70.5 222.8h1.6M70.5 226.8h1.6M70.5 228.3h1.6M70.5 228.8h1.6M70.5 231.8h1.6M70.5 232.3h1.6M70.5 233.8h1.6M70.5 238.3h1.6M70.5 239.3h1.6M70.5 240.3h1.6M70.5 240.8h1.6M70.5 242.8h1.6M70.5 243.3h1.6M70.5 245.3h1.6M70.5 245.8h1.6M70.5 246.3h1.6M70.5 247.3h1.6M70.5 248.3h1.6M70.5 251.3h1.6M70.5 251.8h1.6M70.5 252.3h1.6M70.5 254.3h1.6M70.5 254.8h1.6M70.5 257.3h1.6M70.5 260.3h1.6M70.5 260.8h1.6M70.5 262.3h1.6M70.5 263.3h1.6M70.5 265.3h1.6M70.5 265.8h1.6M71 169.3h1.6M71 172.8h1.6M71 178.3h1.6M71 179.8h1.6M71 180.3h1.6M71 180.8h1.6M71 181.3h1.6M71 183.3h1.6M71 184.3h1.6M71 186.3h1.6M71 188.3h1.6M71 188.8h1.6M71 189.3h1.6M71 191.3h1.6M71 193.3h1.6M71 193.8h1.6M71 194.8h1.6M71 196.8h1.6M71 198.8h1.6M71 199.8h1.6M71 202.3h1.6M71 203.8h1.6M71 206.8h1.6M71 216.3h1.6M71 218.8h1.6M71 219.3h1.6M71 219.8h1.6M71 220.3h1.6M71 220.8h1.6M71 221.3h1.6M71 227.3h1.6M71 227.8h1.6M71 228.8h1.6M71 230.8h1.6M71 231.3h1.6M71 231.8h1.6M71 235.8h1.6M71 236.3h1.6M71 237.3h1.6M71 237.8h1.6M71 240.8h1.6M71 241.3h1.6M71 242.3h1.6M71 244.3h1.6M71 244.8h1.6M71 246.8h1.6M71 247.8h1.6M71 249.3h1.6M71 251.8h1.6M71 253.8h1.6M71 254.3h1.6M71 256.3h1.6M71 257.3h1.6M71 258.3h1.6M71 262.8h1.6M71 264.3h1.6M71 264.8h1.6M71 265.3h1.6M71 266.3h1.6M71.5 165.3h1.6M71.5 168.8h1.6M71.5 172.3h1.6M71.5 177.3h1.6M71.5 179.3h1.6M71.5 179.8h1.6M71.5 180.8h1.6M71.5 181.3h1.6M71.5 181.8h1.6M71.5 183.3h1.6M71.5 183.8h1.6M71.5 191.3h1.6M71.5 193.8h1.6M71.5 194.8h1.6M71.5 195.3h1.6M71.5 196.3h1.6M71.5 197.3h1.6M71.5 197.8h1.6M71.5 200.8h1.6M71.5 201.3h1.6M71.5 202.8h1.6M71.5 204.3h1.6M71.5 204.8h1.6M71.5 216.3h1.6M71.5 217.8h1.6M71.5 220.8h1.6M71.5 222.8h1.6M71.5 227.3h1.6M71.5 228.3h1.6M71.5 229.3h1.6M71.5 230.8h1.6M71.5 232.3h1.6M71.5 234.3h1.6M71.5 236.3h1.6M71.5 238.3h1.6M71.5 239.3h1.6M71.5 242.3h1.6M71.5 245.8h1.6M71.5 247.3h1.6M71.5 247.8h1.6M71.5 248.3h1.6M71.5 249.3h1.6M71.5 249.8h1.6M71.5 252.3h1.6M71.5 252.8h1.6M71.5 254.3h1.6M71.5 254.8h1.6M71.5 257.3h1.6M71.5 258.3h1.6M71.5 258.8h1.6M71.5 259.3h1.6M71.5 261.3h1.6M71.5 261.8h1.6M71.5 262.3h1.6M71.5 262.8h1.6M71.5 263.3h1.6M72 169.8h1.6M72 172.8h1.6M72 174.3h1.6M72 175.3h1.6M72 178.3h1.6M72 179.3h1.6M72 180.8h1.6M72 182.3h1.6M72 183.8h1.6M72 184.3h1.6M72 186.3h1.6M72 188.3h1.6M72 188.8h1.6M72 189.3h1.6M72 191.3h1.6M72 192.3h1.6M72 193.3h1.6M72 194.3h1.6M72 194.8h1.6M72 199.3h1.6M72 200.3h1.6M72 200.8h1.6M72 207.8h1.6M72 210.8h1.6M72 215.8h1.6M72 216.8h1.6M72 217.8h1.6M72 220.8h1.6M72 221.8h1.6M72 222.3h1.6M72 223.3h1.6M72 223.8h1.6M72 225.8h1.6M72 226.3h1.6M72 226.8h1.6M72 227.3h1.6M72 228.3h1.6M72 229.8h1.6M72 230.3h1.6M72 230.8h1.6M72 231.3h1.6M72 232.3h1.6M72 233.8h1.6M72 234.8h1.6M72 235.8h1.6M72 236.8h1.6M72 237.3h1.6M72 237.8h1.6M72 241.3h1.6M72 241.8h1.6M72 243.8h1.6M72 248.3h1.6M72 248.8h1.6M72 249.3h1.6M72 249.8h1.6M72 250.3h1.6M72 250.8h1.6M72 252.8h1.6M72 254.8h1.6M72 256.8h1.6M72 257.3h1.6M72 258.3h1.6M72 259.8h1.6M72 261.3h1.6M72 261.8h1.6M72 262.3h1.6M72 263.3h1.6M72 264.3h1.6M72 265.3h1.6M72 265.8h1.6M72.5 171.3h1.6M72.5 172.8h1.6M72.5 173.3h1.6M72.5 174.8h1.6M72.5 180.8h1.6M72.5 181.8h1.6M72.5 182.8h1.6M72.5 184.3h1.6M72.5 185.3h1.6M72.5 185.8h1.6M72.5 186.3h1.6M72.5 188.8h1.6M72.5 191.3h1.6M72.5 191.8h1.6M72.5 192.3h1.6M72.5 192.8h1.6M72.5 193.3h1.6M72.5 193.8h1.6M72.5 194.8h1.6M72.5 195.3h1.6M72.5 195.8h1.6M72.5 196.3h1.6M72.5 196.8h1.6M72.5 197.3h1.6M72.5 197.8h1.6M72.5 202.3h1.6M72.5 205.8h1.6M72.5 209.8h1.6M72.5 214.8h1.6M72.5 218.3h1.6M72.5 218.8h1.6M72.5 219.8h1.6M72.5 220.3h1.6M72.5 220.8h1.6M72.5 221.8h1.6M72.5 222.8h1.6M72.5 224.3h1.6M72.5 224.8h1.6M72.5 226.3h1.6M72.5 227.3h1.6M72.5 228.3h1.6M72.5 229.3h1.6M72.5 229.8h1.6M72.5 232.3h1.6M72.5 233.8h1.6M72.5 234.3h1.6M72.5 234.8h1.6M72.5 235.8h1.6M72.5 236.3h1.6M72.5 236.8h1.6M72.5 237.3h1.6M72.5 237.8h1.6M72.5 238.3h1.6M72.5 238.8h1.6M72.5 239.3h1.6M72.5 240.8h1.6M72.5 241.3h1.6M72.5 241.8h1.6M72.5 242.3h1.6M72.5 243.3h1.6M72.5 243.8h1.6M72.5 244.3h1.6M72.5 244.8h1.6M72.5 247.3h1.6M72.5 249.3h1.6M72.5 249.8h1.6M72.5 250.3h1.6M72.5 251.8h1.6M72.5 254.3h1.6M72.5 254.8h1.6M72.5 255.3h1.6M72.5 259.3h1.6M72.5 259.8h1.6M72.5 261.3h1.6M72.5 262.3h1.6M72.5 267.3h1.6M73 169.8h1.6M73 175.3h1.6M73 176.3h1.6M73 177.8h1.6M73 178.8h1.6M73 179.3h1.6M73 179.8h1.6M73 180.8h1.6M73 181.3h1.6M73 181.8h1.6M73 183.3h1.6M73 184.3h1.6M73 184.8h1.6M73 185.3h1.6M73 186.3h1.6M73 188.3h1.6M73 188.8h1.6M73 189.3h1.6M73 189.8h1.6M73 191.8h1.6M73 192.3h1.6M73 192.8h1.6M73 193.3h1.6M73 193.8h1.6M73 195.3h1.6M73 195.8h1.6M73 196.3h1.6M73 197.3h1.6M73 200.8h1.6M73 201.8h1.6M73 209.3h1.6M73 217.8h1.6M73 219.3h1.6M73 220.3h1.6M73 221.8h1.6M73 222.3h1.6M73 222.8h1.6M73 224.8h1.6M73 225.8h1.6M73 226.3h1.6M73 228.3h1.6M73 230.3h1.6M73 231.3h1.6M73 231.8h1.6M73 232.3h1.6M73 233.8h1.6M73 235.8h1.6M73 236.8h1.6M73 239.8h1.6M73 240.8h1.6M73 241.8h1.6M73 242.3h1.6M73 242.8h1.6M73 244.3h1.6M73 244.8h1.6M73 245.8h1.6M73 246.3h1.6M73 249.8h1.6M73 252.3h1.6M73 253.3h1.6M73 253.8h1.6M73 255.3h1.6M73 258.3h1.6M73 259.8h1.6M73 260.3h1.6M73 260.8h1.6M73 261.3h1.6M73 262.3h1.6M73 263.3h1.6M73 264.3h1.6M73 265.8h1.6M73.5 170.3h1.6M73.5 172.3h1.6M73.5 176.8h1.6M73.5 177.3h1.6M73.5 179.3h1.6M73.5 179.8h1.6M73.5 180.8h1.6M73.5 181.3h1.6M73.5 181.8h1.6M73.5 182.8h1.6M73.5 183.3h1.6M73.5 184.8h1.6M73.5 189.3h1.6M73.5 193.3h1.6M73.5 196.8h1.6M73.5 198.3h1.6M73.5 199.3h1.6M73.5 203.3h1.6M73.5 204.8h1.6M73.5 214.3h1.6M73.5 216.8h1.6M73.5 217.3h1.6M73.5 221.3h1.6M73.5 221.8h1.6M73.5 223.8h1.6M73.5 224.3h1.6M73.5 224.8h1.6M73.5 225.3h1.6M73.5 226.3h1.6M73.5 227.3h1.6M73.5 227.8h1.6M73.5 229.8h1.6M73.5 231.3h1.6M73.5 231.8h1.6M73.5 234.8h1.6M73.5 237.3h1.6M73.5 237.8h1.6M73.5 238.3h1.6M73.5 239.8h1.6M73.5 241.3h1.6M73.5 242.3h1.6M73.5 244.3h1.6M73.5 244.8h1.6M73.5 245.8h1.6M73.5 246.8h1.6M73.5 247.8h1.6M73.5 250.8h1.6M73.5 255.3h1.6M73.5 255.8h1.6M73.5 256.8h1.6M73.5 257.3h1.6M73.5 258.3h1.6M73.5 261.3h1.6M73.5 261.8h1.6M73.5 262.8h1.6M73.5 263.8h1.6M73.5 264.3h1.6M73.5 266.3h1.6M74 168.3h1.6M74 172.3h1.6M74 172.8h1.6M74 173.3h1.6M74 173.8h1.6M74 174.8h1.6M74 177.3h1.6M74 177.8h1.6M74 178.8h1.6M74 180.3h1.6M74 182.8h1.6M74 183.8h1.6M74 184.3h1.6M74 185.3h1.6M74 186.8h1.6M74 187.8h1.6M74 188.3h1.6M74 189.3h1.6M74 189.8h1.6M74 190.3h1.6M74 195.8h1.6M74 196.8h1.6M74 197.8h1.6M74 198.3h1.6M74 200.3h1.6M74 202.3h1.6M74 202.8h1.6M74 204.3h1.6M74 205.8h1.6M74 206.8h1.6M74 216.8h1.6M74 220.3h1.6M74 222.3h1.6M74 223.8h1.6M74 224.3h1.6M74 230.8h1.6M74 233.3h1.6M74 234.3h1.6M74 234.8h1.6M74 235.3h1.6M74 236.8h1.6M74 237.8h1.6M74 238.8h1.6M74 240.8h1.6M74 244.8h1.6M74 245.8h1.6M74 246.3h1.6M74 248.8h1.6M74 249.8h1.6M74 251.8h1.6M74 253.3h1.6M74 254.3h1.6M74 255.8h1.6M74 260.3h1.6M74 261.8h1.6M74 264.3h1.6M74 264.8h1.6M74.5 172.3h1.6M74.5 176.3h1.6M74.5 177.3h1.6M74.5 177.8h1.6M74.5 181.3h1.6M74.5 181.8h1.6M74.5 182.3h1.6M74.5 182.8h1.6M74.5 184.8h1.6M74.5 185.8h1.6M74.5 186.8h1.6M74.5 187.8h1.6M74.5 188.8h1.6M74.5 189.8h1.6M74.5 193.3h1.6M74.5 196.3h1.6M74.5 197.3h1.6M74.5 199.3h1.6M74.5 202.8h1.6M74.5 203.3h1.6M74.5 211.3h1.6M74.5 216.8h1.6M74.5 218.3h1.6M74.5 218.8h1.6M74.5 219.3h1.6M74.5 220.8h1.6M74.5 223.8h1.6M74.5 225.3h1.6M74.5 230.8h1.6M74.5 231.3h1.6M74.5 232.3h1.6M74.5 232.8h1.6M74.5 238.8h1.6M74.5 240.8h1.6M74.5 242.8h1.6M74.5 245.3h1.6M74.5 246.3h1.6M74.5 246.8h1.6M74.5 247.8h1.6M74.5 248.3h1.6M74.5 249.3h1.6M74.5 252.8h1.6M74.5 253.8h1.6M74.5 255.3h1.6M74.5 256.8h1.6M74.5 257.8h1.6M74.5 258.3h1.6M74.5 260.3h1.6M74.5 260.8h1.6M75 173.3h1.6M75 175.3h1.6M75 175.8h1.6M75 176.3h1.6M75 178.8h1.6M75 180.3h1.6M75 180.8h1.6M75 181.3h1.6M75 181.8h1.6M75 182.8h1.6M75 183.3h1.6M75 183.8h1.6M75 185.3h1.6M75 186.3h1.6M75 187.8h1.6M75 188.8h1.6M75 192.3h1.6M75 192.8h1.6M75 194.3h1.6M75 196.8h1.6M75 197.8h1.6M75 198.3h1.6M75 199.3h1.6M75 199.8h1.6M75 200.8h1.6M75 204.3h1.6M75 217.8h1.6M75 219.3h1.6M75 219.8h1.6M75 221.3h1.6M75 221.8h1.6M75 223.8h1.6M75 224.8h1.6M75 227.3h1.6M75 227.8h1.6M75 228.3h1.6M75 229.3h1.6M75 232.8h1.6M75 233.8h1.6M75 235.8h1.6M75 236.8h1.6M75 237.8h1.6M75 238.8h1.6M75 239.3h1.6M75 240.8h1.6M75 242.8h1.6M75 244.3h1.6M75 244.8h1.6M75 248.8h1.6M75 250.3h1.6M75 253.8h1.6M75 255.8h1.6M75 256.3h1.6M75 259.8h1.6M75 261.3h1.6M75 262.3h1.6M75 262.8h1.6M75 263.8h1.6M75 264.8h1.6M75 265.3h1.6M75.5 174.3h1.6M75.5 174.8h1.6M75.5 175.8h1.6M75.5 176.8h1.6M75.5 177.8h1.6M75.5 178.3h1.6M75.5 179.8h1.6M75.5 180.3h1.6M75.5 181.8h1.6M75.5 183.8h1.6M75.5 185.3h1.6M75.5 185.8h1.6M75.5 187.8h1.6M75.5 188.8h1.6M75.5 189.8h1.6M75.5 190.8h1.6M75.5 194.3h1.6M75.5 195.3h1.6M75.5 195.8h1.6M75.5 196.3h1.6M75.5 197.8h1.6M75.5 199.8h1.6M75.5 201.8h1.6M75.5 217.8h1.6M75.5 218.3h1.6M75.5 219.8h1.6M75.5 222.3h1.6M75.5 223.3h1.6M75.5 223.8h1.6M75.5 224.8h1.6M75.5 226.3h1.6M75.5 228.3h1.6M75.5 230.8h1.6M75.5 232.3h1.6M75.5 233.3h1.6M75.5 234.3h1.6M75.5 236.3h1.6M75.5 237.3h1.6M75.5 238.8h1.6M75.5 239.8h1.6M75.5 240.8h1.6M75.5 242.3h1.6M75.5 242.8h1.6M75.5 247.8h1.6M75.5 251.3h1.6M75.5 252.3h1.6M75.5 253.8h1.6M75.5 255.8h1.6M75.5 256.3h1.6M75.5 257.8h1.6M75.5 258.3h1.6M75.5 260.3h1.6M75.5 260.8h1.6M75.5 263.3h1.6M75.5 263.8h1.6M75.5 264.3h1.6M75.5 266.8h1.6M76 170.8h1.6M76 173.3h1.6M76 175.8h1.6M76 176.8h1.6M76 178.3h1.6M76 178.8h1.6M76 179.3h1.6M76 180.3h1.6M76 181.3h1.6M76 182.3h1.6M76 182.8h1.6M76 183.3h1.6M76 183.8h1.6M76 184.8h1.6M76 189.3h1.6M76 190.3h1.6M76 192.3h1.6M76 193.3h1.6M76 195.3h1.6M76 196.3h1.6M76 198.3h1.6M76 199.3h1.6M76 200.8h1.6M76 202.3h1.6M76 204.3h1.6M76 204.8h1.6M76 217.8h1.6M76 218.8h1.6M76 220.8h1.6M76 221.8h1.6M76 222.3h1.6M76 222.8h1.6M76 223.3h1.6M76 224.8h1.6M76 226.8h1.6M76 227.3h1.6M76 228.3h1.6M76 228.8h1.6M76 230.3h1.6M76 231.8h1.6M76 232.8h1.6M76 234.8h1.6M76 236.8h1.6M76 237.8h1.6M76 239.8h1.6M76 241.8h1.6M76 246.8h1.6M76 247.3h1.6M76 247.8h1.6M76 248.3h1.6M76 248.8h1.6M76 249.8h1.6M76 251.8h1.6M76 252.3h1.6M76 252.8h1.6M76 253.3h1.6M76 253.8h1.6M76 254.8h1.6M76 255.8h1.6M76 256.3h1.6M76 256.8h1.6M76 257.3h1.6M76 258.8h1.6M76 259.3h1.6M76 260.8h1.6M76 262.3h1.6M76 262.8h1.6M76 264.3h1.6M76 264.8h1.6M76 265.3h1.6M76 266.8h1.6M76.5 172.8h1.6M76.5 173.3h1.6M76.5 174.8h1.6M76.5 175.8h1.6M76.5 176.8h1.6M76.5 177.3h1.6M76.5 177.8h1.6M76.5 179.3h1.6M76.5 180.3h1.6M76.5 180.8h1.6M76.5 183.3h1.6M76.5 183.8h1.6M76.5 184.8h1.6M76.5 185.3h1.6M76.5 187.3h1.6M76.5 189.8h1.6M76.5 190.3h1.6M76.5 190.8h1.6M76.5 194.3h1.6M76.5 198.8h1.6M76.5 201.3h1.6M76.5 205.3h1.6M76.5 217.3h1.6M76.5 222.3h1.6M76.5 223.3h1.6M76.5 224.3h1.6M76.5 224.8h1.6M76.5 225.8h1.6M76.5 227.3h1.6M76.5 228.8h1.6M76.5 230.3h1.6M76.5 230.8h1.6M76.5 231.8h1.6M76.5 236.3h1.6M76.5 236.8h1.6M76.5 237.3h1.6M76.5 237.8h1.6M76.5 238.3h1.6M76.5 238.8h1.6M76.5 239.8h1.6M76.5 240.3h1.6M76.5 241.3h1.6M76.5 241.8h1.6M76.5 243.3h1.6M76.5 249.3h1.6M76.5 254.3h1.6M76.5 255.3h1.6M76.5 257.8h1.6M76.5 262.8h1.6M76.5 263.8h1.6M76.5 265.8h1.6M77 176.3h1.6M77 181.8h1.6M77 186.3h1.6M77 186.8h1.6M77 187.3h1.6M77 190.3h1.6M77 191.3h1.6M77 191.8h1.6M77 192.8h1.6M77 193.3h1.6M77 193.8h1.6M77 194.3h1.6M77 194.8h1.6M77 196.8h1.6M77 199.3h1.6M77 199.8h1.6M77 202.8h1.6M77 203.3h1.6M77 205.3h1.6M77 207.8h1.6M77 209.8h1.6M77 210.3h1.6M77 216.3h1.6M77 221.8h1.6M77 224.8h1.6M77 225.3h1.6M77 226.8h1.6M77 228.3h1.6M77 230.8h1.6M77 231.8h1.6M77 233.8h1.6M77 234.3h1.6M77 236.8h1.6M77 240.3h1.6M77 240.8h1.6M77 244.3h1.6M77 245.3h1.6M77 246.8h1.6M77 247.3h1.6M77 249.8h1.6M77 251.3h1.6M77 251.8h1.6M77 255.8h1.6M77 256.3h1.6M77 257.3h1.6M77 258.3h1.6M77 258.8h1.6M77 259.3h1.6M77 259.8h1.6M77 260.3h1.6M77 260.8h1.6M77 262.8h1.6M77 263.8h1.6M77 265.8h1.6M77 266.3h1.6M77 266.8h1.6M77.5 169.3h1.6M77.5 171.3h1.6M77.5 178.3h1.6M77.5 179.3h1.6M77.5 180.8h1.6M77.5 181.3h1.6M77.5 182.3h1.6M77.5 182.8h1.6M77.5 183.3h1.6M77.5 183.8h1.6M77.5 185.3h1.6M77.5 185.8h1.6M77.5 187.3h1.6M77.5 187.8h1.6M77.5 188.8h1.6M77.5 190.8h1.6M77.5 191.3h1.6M77.5 191.8h1.6M77.5 192.8h1.6M77.5 193.3h1.6M77.5 193.8h1.6M77.5 194.3h1.6M77.5 196.3h1.6M77.5 196.8h1.6M77.5 197.3h1.6M77.5 198.8h1.6M77.5 199.8h1.6M77.5 201.3h1.6M77.5 201.8h1.6M77.5 202.8h1.6M77.5 203.8h1.6M77.5 207.8h1.6M77.5 217.8h1.6M77.5 218.8h1.6M77.5 219.3h1.6M77.5 219.8h1.6M77.5 221.3h1.6M77.5 221.8h1.6M77.5 222.3h1.6M77.5 225.8h1.6M77.5 229.3h1.6M77.5 229.8h1.6M77.5 233.8h1.6M77.5 234.8h1.6M77.5 236.3h1.6M77.5 238.3h1.6M77.5 238.8h1.6M77.5 239.8h1.6M77.5 240.3h1.6M77.5 245.3h1.6M77.5 247.3h1.6M77.5 248.8h1.6M77.5 250.3h1.6M77.5 251.8h1.6M77.5 253.3h1.6M77.5 254.3h1.6M77.5 255.3h1.6M77.5 257.3h1.6M77.5 257.8h1.6M77.5 259.3h1.6M77.5 259.8h1.6M77.5 260.3h1.6M77.5 261.3h1.6M77.5 262.3h1.6M77.5 263.8h1.6M77.5 266.3h1.6M77.5 267.3h1.6M78 172.3h1.6M78 174.3h1.6M78 177.3h1.6M78 180.3h1.6M78 181.8h1.6M78 184.3h1.6M78 184.8h1.6M78 188.3h1.6M78 189.8h1.6M78 190.3h1.6M78 190.8h1.6M78 193.8h1.6M78 196.8h1.6M78 197.8h1.6M78 198.8h1.6M78 199.8h1.6M78 200.3h1.6M78 201.3h1.6M78 201.8h1.6M78 205.8h1.6M78 212.8h1.6M78 216.3h1.6M78 219.8h1.6M78 220.3h1.6M78 220.8h1.6M78 222.3h1.6M78 222.8h1.6M78 223.3h1.6M78 223.8h1.6M78 224.8h1.6M78 225.3h1.6M78 227.3h1.6M78 227.8h1.6M78 229.3h1.6M78 233.3h1.6M78 235.8h1.6M78 236.3h1.6M78 236.8h1.6M78 237.3h1.6M78 238.3h1.6M78 240.8h1.6M78 246.8h1.6M78 247.8h1.6M78 249.8h1.6M78 251.3h1.6M78 254.8h1.6M78 256.3h1.6M78 256.8h1.6M78 257.3h1.6M78 259.8h1.6M78 260.3h1.6M78 261.3h1.6M78 262.8h1.6M78 265.3h1.6M78.5 167.8h1.6M78.5 171.8h1.6M78.5 173.3h1.6M78.5 175.3h1.6M78.5 176.8h1.6M78.5 177.3h1.6M78.5 178.3h1.6M78.5 178.8h1.6M78.5 179.3h1.6M78.5 180.8h1.6M78.5 181.8h1.6M78.5 185.3h1.6M78.5 185.8h1.6M78.5 186.8h1.6M78.5 187.3h1.6M78.5 188.3h1.6M78.5 190.8h1.6M78.5 191.3h1.6M78.5 191.8h1.6M78.5 192.8h1.6M78.5 193.3h1.6M78.5 195.3h1.6M78.5 196.8h1.6M78.5 197.3h1.6M78.5 197.8h1.6M78.5 198.8h1.6M78.5 199.3h1.6M78.5 199.8h1.6M78.5 204.8h1.6M78.5 207.3h1.6M78.5 207.8h1.6M78.5 219.3h1.6M78.5 220.3h1.6M78.5 222.3h1.6M78.5 222.8h1.6M78.5 225.8h1.6M78.5 226.3h1.6M78.5 226.8h1.6M78.5 228.8h1.6M78.5 232.3h1.6M78.5 232.8h1.6M78.5 233.8h1.6M78.5 235.3h1.6M78.5 236.8h1.6M78.5 237.8h1.6M78.5 241.8h1.6M78.5 242.3h1.6M78.5 243.3h1.6M78.5 244.8h1.6M78.5 245.8h1.6M78.5 246.3h1.6M78.5 246.8h1.6M78.5 250.8h1.6M78.5 251.8h1.6M78.5 254.8h1.6M78.5 255.8h1.6M78.5 257.8h1.6M78.5 258.3h1.6M78.5 258.8h1.6M78.5 259.3h1.6M78.5 261.8h1.6M78.5 263.8h1.6M78.5 264.8h1.6M78.5 265.3h1.6M78.5 265.8h1.6M78.5 266.3h1.6M78.5 266.8h1.6M79 176.8h1.6M79 178.8h1.6M79 180.3h1.6M79 181.3h1.6M79 182.3h1.6M79 185.8h1.6M79 186.3h1.6M79 186.8h1.6M79 189.3h1.6M79 193.3h1.6M79 193.8h1.6M79 195.3h1.6M79 198.3h1.6M79 201.8h1.6M79 204.8h1.6M79 206.3h1.6M79 207.8h1.6M79 209.3h1.6M79 209.8h1.6M79 218.8h1.6M79 219.8h1.6M79 221.3h1.6M79 223.3h1.6M79 223.8h1.6M79 225.3h1.6M79 225.8h1.6M79 226.3h1.6M79 226.8h1.6M79 227.3h1.6M79 228.8h1.6M79 231.3h1.6M79 233.3h1.6M79 234.3h1.6M79 235.8h1.6M79 236.3h1.6M79 236.8h1.6M79 237.3h1.6M79 238.3h1.6M79 239.3h1.6M79 240.3h1.6M79 241.3h1.6M79 241.8h1.6M79 242.3h1.6M79 242.8h1.6M79 246.3h1.6M79 246.8h1.6M79 247.3h1.6M79 247.8h1.6M79 249.8h1.6M79 250.3h1.6M79 250.8h1.6M79 251.8h1.6M79 258.8h1.6M79 260.8h1.6M79 261.3h1.6M79 263.3h1.6M79 263.8h1.6M79 264.3h1.6M79 264.8h1.6M79 265.3h1.6M79 266.3h1.6M79.5 176.8h1.6M79.5 180.3h1.6M79.5 182.3h1.6M79.5 182.8h1.6M79.5 183.3h1.6M79.5 183.8h1.6M79.5 184.3h1.6M79.5 186.8h1.6M79.5 188.3h1.6M79.5 189.3h1.6M79.5 189.8h1.6M79.5 192.3h1.6M79.5 193.8h1.6M79.5 194.3h1.6M79.5 197.8h1.6M79.5 205.3h1.6M79.5 205.8h1.6M79.5 213.8h1.6M79.5 214.8h1.6M79.5 217.3h1.6M79.5 222.8h1.6M79.5 223.3h1.6M79.5 223.8h1.6M79.5 226.3h1.6M79.5 226.8h1.6M79.5 227.3h1.6M79.5 230.8h1.6M79.5 232.8h1.6M79.5 234.8h1.6M79.5 236.8h1.6M79.5 237.3h1.6M79.5 237.8h1.6M79.5 238.3h1.6M79.5 239.3h1.6M79.5 241.8h1.6M79.5 243.8h1.6M79.5 246.3h1.6M79.5 246.8h1.6M79.5 248.8h1.6M79.5 249.8h1.6M79.5 252.3h1.6M79.5 253.3h1.6M79.5 253.8h1.6M79.5 254.8h1.6M79.5 255.8h1.6M79.5 256.3h1.6M79.5 256.8h1.6M79.5 257.3h1.6M79.5 261.8h1.6M79.5 265.3h1.6M79.5 266.8h1.6M80 172.3h1.6M80 173.3h1.6M80 176.8h1.6M80 178.8h1.6M80 179.3h1.6M80 179.8h1.6M80 180.3h1.6M80 180.8h1.6M80 181.8h1.6M80 182.8h1.6M80 184.3h1.6M80 187.3h1.6M80 187.8h1.6M80 188.3h1.6M80 188.8h1.6M80 190.3h1.6M80 191.3h1.6M80 193.3h1.6M80 193.8h1.6M80 194.3h1.6M80 195.3h1.6M80 204.3h1.6M80 208.3h1.6M80 210.3h1.6M80 210.8h1.6M80 215.8h1.6M80 216.3h1.6M80 216.8h1.6M80 218.8h1.6M80 221.3h1.6M80 225.3h1.6M80 226.8h1.6M80 227.3h1.6M80 228.3h1.6M80 228.8h1.6M80 229.8h1.6M80 231.3h1.6M80 231.8h1.6M80 232.3h1.6M80 232.8h1.6M80 234.3h1.6M80 235.3h1.6M80 236.3h1.6M80 240.8h1.6M80 243.8h1.6M80 245.8h1.6M80 247.3h1.6M80 248.8h1.6M80 249.8h1.6M80 250.3h1.6M80 251.8h1.6M80 254.3h1.6M80 254.8h1.6M80 257.3h1.6M80 260.3h1.6M80 261.8h1.6M80 262.8h1.6M80 263.3h1.6M80 264.8h1.6M80 265.3h1.6M80 267.3h1.6M80.5 173.8h1.6M80.5 175.8h1.6M80.5 176.3h1.6M80.5 178.3h1.6M80.5 178.8h1.6M80.5 179.3h1.6M80.5 180.3h1.6M80.5 180.8h1.6M80.5 182.8h1.6M80.5 183.3h1.6M80.5 184.8h1.6M80.5 185.8h1.6M80.5 187.8h1.6M80.5 191.8h1.6M80.5 193.3h1.6M80.5 193.8h1.6M80.5 195.3h1.6M80.5 197.3h1.6M80.5 198.8h1.6M80.5 202.3h1.6M80.5 206.8h1.6M80.5 207.3h1.6M80.5 214.3h1.6M80.5 214.8h1.6M80.5 216.3h1.6M80.5 216.8h1.6M80.5 220.3h1.6M80.5 220.8h1.6M80.5 221.8h1.6M80.5 222.3h1.6M80.5 223.3h1.6M80.5 224.8h1.6M80.5 225.8h1.6M80.5 226.3h1.6M80.5 227.3h1.6M80.5 229.3h1.6M80.5 230.3h1.6M80.5 231.3h1.6M80.5 232.8h1.6M80.5 234.3h1.6M80.5 236.3h1.6M80.5 236.8h1.6M80.5 238.3h1.6M80.5 238.8h1.6M80.5 241.3h1.6M80.5 242.8h1.6M80.5 245.3h1.6M80.5 246.8h1.6M80.5 248.3h1.6M80.5 249.8h1.6M80.5 251.8h1.6M80.5 254.3h1.6M80.5 255.8h1.6M80.5 256.3h1.6M80.5 257.3h1.6M80.5 257.8h1.6M80.5 258.3h1.6M80.5 259.3h1.6M80.5 263.8h1.6M80.5 264.3h1.6M80.5 265.8h1.6M81 161.3h1.6M81 173.3h1.6M81 174.8h1.6M81 176.3h1.6M81 179.3h1.6M81 179.8h1.6M81 180.8h1.6M81 181.3h1.6M81 181.8h1.6M81 182.3h1.6M81 183.3h1.6M81 184.3h1.6M81 184.8h1.6M81 185.3h1.6M81 186.3h1.6M81 187.3h1.6M81 187.8h1.6M81 189.8h1.6M81 190.8h1.6M81 194.8h1.6M81 197.3h1.6M81 199.3h1.6M81 202.8h1.6M81 219.8h1.6M81 221.3h1.6M81 221.8h1.6M81 222.8h1.6M81 223.3h1.6M81 224.8h1.6M81 226.3h1.6M81 227.3h1.6M81 228.3h1.6M81 229.8h1.6M81 231.3h1.6M81 235.8h1.6M81 236.8h1.6M81 237.3h1.6M81 239.3h1.6M81 240.3h1.6M81 242.3h1.6M81 246.3h1.6M81 247.8h1.6M81 248.3h1.6M81 248.8h1.6M81 252.3h1.6M81 252.8h1.6M81 253.8h1.6M81 254.3h1.6M81 254.8h1.6M81 257.8h1.6M81 260.3h1.6M81 260.8h1.6M81 261.3h1.6M81 261.8h1.6M81 264.8h1.6M81 266.8h1.6M81.5 174.3h1.6M81.5 179.3h1.6M81.5 180.8h1.6M81.5 183.3h1.6M81.5 184.8h1.6M81.5 186.8h1.6M81.5 195.8h1.6M81.5 196.3h1.6M81.5 197.3h1.6M81.5 197.8h1.6M81.5 198.8h1.6M81.5 205.8h1.6M81.5 215.3h1.6M81.5 216.3h1.6M81.5 217.3h1.6M81.5 217.8h1.6M81.5 221.3h1.6M81.5 221.8h1.6M81.5 225.8h1.6M81.5 226.3h1.6M81.5 229.3h1.6M81.5 231.3h1.6M81.5 232.3h1.6M81.5 233.8h1.6M81.5 236.3h1.6M81.5 237.8h1.6M81.5 241.8h1.6M81.5 242.3h1.6M81.5 243.3h1.6M81.5 244.8h1.6M81.5 246.3h1.6M81.5 246.8h1.6M81.5 248.3h1.6M81.5 249.8h1.6M81.5 250.3h1.6M81.5 250.8h1.6M81.5 251.3h1.6M81.5 252.3h1.6M81.5 254.3h1.6M81.5 254.8h1.6M81.5 255.3h1.6M81.5 256.3h1.6M81.5 259.8h1.6M81.5 260.8h1.6M81.5 261.8h1.6M81.5 263.8h1.6M82 171.8h1.6M82 173.3h1.6M82 174.3h1.6M82 174.8h1.6M82 177.8h1.6M82 179.3h1.6M82 179.8h1.6M82 182.3h1.6M82 183.3h1.6M82 183.8h1.6M82 184.3h1.6M82 184.8h1.6M82 185.3h1.6M82 189.3h1.6M82 189.8h1.6M82 191.3h1.6M82 192.3h1.6M82 192.8h1.6M82 198.3h1.6M82 199.3h1.6M82 199.8h1.6M82 202.3h1.6M82 203.3h1.6M82 204.8h1.6M82 206.3h1.6M82 207.8h1.6M82 214.8h1.6M82 217.8h1.6M82 219.8h1.6M82 222.3h1.6M82 222.8h1.6M82 223.3h1.6M82 223.8h1.6M82 225.8h1.6M82 228.3h1.6M82 229.8h1.6M82 230.8h1.6M82 231.8h1.6M82 238.3h1.6M82 238.8h1.6M82 239.3h1.6M82 240.8h1.6M82 241.8h1.6M82 242.3h1.6M82 242.8h1.6M82 243.3h1.6M82 245.3h1.6M82 245.8h1.6M82 247.8h1.6M82 248.3h1.6M82 248.8h1.6M82 251.8h1.6M82 254.8h1.6M82 255.8h1.6M82 259.3h1.6M82 261.8h1.6M82 263.3h1.6M82 265.8h1.6M82 266.3h1.6M82.5 167.8h1.6M82.5 172.3h1.6M82.5 172.8h1.6M82.5 173.8h1.6M82.5 176.8h1.6M82.5 177.8h1.6M82.5 179.8h1.6M82.5 181.8h1.6M82.5 182.8h1.6M82.5 183.3h1.6M82.5 187.3h1.6M82.5 187.8h1.6M82.5 192.3h1.6M82.5 192.8h1.6M82.5 193.8h1.6M82.5 194.8h1.6M82.5 195.3h1.6M82.5 196.3h1.6M82.5 197.3h1.6M82.5 199.3h1.6M82.5 205.3h1.6M82.5 206.3h1.6M82.5 206.8h1.6M82.5 217.3h1.6M82.5 219.8h1.6M82.5 221.3h1.6M82.5 223.8h1.6M82.5 225.3h1.6M82.5 227.8h1.6M82.5 228.3h1.6M82.5 228.8h1.6M82.5 229.3h1.6M82.5 229.8h1.6M82.5 231.3h1.6M82.5 232.3h1.6M82.5 235.3h1.6M82.5 235.8h1.6M82.5 236.8h1.6M82.5 237.3h1.6M82.5 237.8h1.6M82.5 239.3h1.6M82.5 240.8h1.6M82.5 241.3h1.6M82.5 243.3h1.6M82.5 244.8h1.6M82.5 247.3h1.6M82.5 247.8h1.6M82.5 249.8h1.6M82.5 252.8h1.6M82.5 255.8h1.6M82.5 256.3h1.6M82.5 257.8h1.6M82.5 258.3h1.6M82.5 258.8h1.6M82.5 260.3h1.6M82.5 263.3h1.6M82.5 264.8h1.6M82.5 265.8h1.6M83 175.3h1.6M83 177.8h1.6M83 178.3h1.6M83 185.8h1.6M83 186.3h1.6M83 186.8h1.6M83 187.3h1.6M83 187.8h1.6M83 189.3h1.6M83 189.8h1.6M83 190.3h1.6M83 191.3h1.6M83 193.3h1.6M83 193.8h1.6M83 197.8h1.6M83 199.3h1.6M83 200.8h1.6M83 207.3h1.6M83 216.8h1.6M83 221.3h1.6M83 222.8h1.6M83 223.8h1.6M83 224.8h1.6M83 226.8h1.6M83 228.8h1.6M83 229.8h1.6M83 230.3h1.6M83 232.3h1.6M83 236.3h1.6M83 237.8h1.6M83 238.8h1.6M83 239.8h1.6M83 241.8h1.6M83 242.3h1.6M83 245.8h1.6M83 246.3h1.6M83 246.8h1.6M83 247.8h1.6M83 250.8h1.6M83 251.3h1.6M83 253.8h1.6M83 255.3h1.6M83 256.8h1.6M83 258.8h1.6M83 260.3h1.6M83 260.8h1.6M83 261.8h1.6M83 262.8h1.6M83 264.8h1.6M83.5 170.3h1.6M83.5 172.8h1.6M83.5 173.8h1.6M83.5 182.8h1.6M83.5 185.8h1.6M83.5 186.3h1.6M83.5 187.3h1.6M83.5 188.8h1.6M83.5 189.8h1.6M83.5 190.8h1.6M83.5 191.8h1.6M83.5 193.8h1.6M83.5 195.3h1.6M83.5 197.3h1.6M83.5 198.8h1.6M83.5 201.8h1.6M83.5 208.3h1.6M83.5 208.8h1.6M83.5 213.8h1.6M83.5 222.8h1.6M83.5 223.3h1.6M83.5 224.8h1.6M83.5 225.3h1.6M83.5 227.8h1.6M83.5 228.3h1.6M83.5 229.3h1.6M83.5 229.8h1.6M83.5 231.3h1.6M83.5 231.8h1.6M83.5 232.3h1.6M83.5 232.8h1.6M83.5 233.3h1.6M83.5 235.8h1.6M83.5 237.3h1.6M83.5 237.8h1.6M83.5 238.8h1.6M83.5 239.3h1.6M83.5 241.3h1.6M83.5 241.8h1.6M83.5 243.8h1.6M83.5 245.3h1.6M83.5 247.8h1.6M83.5 248.3h1.6M83.5 251.8h1.6M83.5 252.3h1.6M83.5 255.3h1.6M83.5 255.8h1.6M83.5 256.3h1.6M83.5 257.3h1.6M83.5 259.3h1.6M83.5 259.8h1.6M83.5 260.3h1.6M83.5 261.8h1.6M83.5 262.3h1.6M83.5 262.8h1.6M83.5 264.3h1.6M83.5 266.8h1.6M84 168.8h1.6M84 180.3h1.6M84 182.3h1.6M84 183.3h1.6M84 183.8h1.6M84 184.8h1.6M84 185.8h1.6M84 186.3h1.6M84 187.3h1.6M84 187.8h1.6M84 188.3h1.6M84 188.8h1.6M84 189.3h1.6M84 189.8h1.6M84 190.8h1.6M84 192.3h1.6M84 192.8h1.6M84 195.3h1.6M84 196.3h1.6M84 197.3h1.6M84 199.8h1.6M84 200.8h1.6M84 218.8h1.6M84 221.3h1.6M84 222.8h1.6M84 223.8h1.6M84 226.3h1.6M84 226.8h1.6M84 227.8h1.6M84 228.3h1.6M84 229.3h1.6M84 231.8h1.6M84 234.3h1.6M84 234.8h1.6M84 237.8h1.6M84 238.3h1.6M84 239.8h1.6M84 244.8h1.6M84 247.8h1.6M84 248.3h1.6M84 249.8h1.6M84 250.8h1.6M84 251.3h1.6M84 251.8h1.6M84 253.3h1.6M84 254.8h1.6M84 255.3h1.6M84 256.3h1.6M84 258.8h1.6M84 259.3h1.6M84 260.8h1.6M84 262.3h1.6M84 263.3h1.6M84 263.8h1.6M84 266.3h1.6M84.5 175.3h1.6M84.5 176.8h1.6M84.5 177.3h1.6M84.5 178.3h1.6M84.5 179.3h1.6M84.5 180.8h1.6M84.5 181.3h1.6M84.5 183.3h1.6M84.5 186.8h1.6M84.5 187.8h1.6M84.5 188.3h1.6M84.5 188.8h1.6M84.5 189.3h1.6M84.5 189.8h1.6M84.5 190.8h1.6M84.5 192.3h1.6M84.5 196.8h1.6M84.5 198.8h1.6M84.5 200.8h1.6M84.5 207.3h1.6M84.5 209.3h1.6M84.5 219.8h1.6M84.5 220.3h1.6M84.5 222.8h1.6M84.5 225.3h1.6M84.5 228.8h1.6M84.5 229.3h1.6M84.5 230.8h1.6M84.5 231.3h1.6M84.5 231.8h1.6M84.5 232.8h1.6M84.5 233.3h1.6M84.5 237.3h1.6M84.5 237.8h1.6M84.5 239.3h1.6M84.5 239.8h1.6M84.5 240.3h1.6M84.5 240.8h1.6M84.5 242.8h1.6M84.5 243.3h1.6M84.5 244.8h1.6M84.5 246.8h1.6M84.5 248.3h1.6M84.5 248.8h1.6M84.5 249.3h1.6M84.5 251.3h1.6M84.5 252.3h1.6M84.5 254.8h1.6M84.5 261.8h1.6M84.5 262.3h1.6M84.5 264.8h1.6M84.5 266.8h1.6M85 176.8h1.6M85 179.8h1.6M85 180.3h1.6M85 181.8h1.6M85 182.3h1.6M85 184.8h1.6M85 185.3h1.6M85 187.3h1.6M85 189.8h1.6M85 190.8h1.6M85 192.8h1.6M85 193.8h1.6M85 195.3h1.6M85 198.3h1.6M85 201.3h1.6M85 203.3h1.6M85 214.8h1.6M85 216.8h1.6M85 219.8h1.6M85 220.3h1.6M85 223.8h1.6M85 224.3h1.6M85 225.3h1.6M85 225.8h1.6M85 228.3h1.6M85 228.8h1.6M85 230.3h1.6M85 233.8h1.6M85 235.8h1.6M85 238.3h1.6M85 238.8h1.6M85 243.3h1.6M85 244.3h1.6M85 245.8h1.6M85 247.3h1.6M85 248.8h1.6M85 255.3h1.6M85 255.8h1.6M85 256.8h1.6M85 259.8h1.6M85 260.3h1.6M85 260.8h1.6M85 261.3h1.6M85 263.8h1.6M85 265.3h1.6M85 265.8h1.6M85 267.3h1.6M85.5 170.8h1.6M85.5 176.8h1.6M85.5 177.3h1.6M85.5 178.3h1.6M85.5 178.8h1.6M85.5 179.3h1.6M85.5 182.3h1.6M85.5 183.3h1.6M85.5 184.8h1.6M85.5 186.3h1.6M85.5 186.8h1.6M85.5 189.3h1.6M85.5 189.8h1.6M85.5 190.3h1.6M85.5 194.3h1.6M85.5 197.3h1.6M85.5 197.8h1.6M85.5 198.8h1.6M85.5 206.3h1.6M85.5 210.3h1.6M85.5 215.8h1.6M85.5 217.8h1.6M85.5 219.8h1.6M85.5 221.8h1.6M85.5 223.3h1.6M85.5 223.8h1.6M85.5 224.8h1.6M85.5 226.3h1.6M85.5 227.3h1.6M85.5 227.8h1.6M85.5 228.8h1.6M85.5 229.3h1.6M85.5 229.8h1.6M85.5 231.8h1.6M85.5 232.8h1.6M85.5 233.3h1.6M85.5 236.8h1.6M85.5 237.8h1.6M85.5 238.8h1.6M85.5 239.3h1.6M85.5 243.3h1.6M85.5 243.8h1.6M85.5 244.3h1.6M85.5 245.3h1.6M85.5 247.8h1.6M85.5 248.3h1.6M85.5 248.8h1.6M85.5 249.8h1.6M85.5 253.3h1.6M85.5 254.8h1.6M85.5 255.3h1.6M85.5 256.3h1.6M85.5 256.8h1.6M85.5 257.8h1.6M85.5 259.3h1.6M85.5 259.8h1.6M85.5 260.3h1.6M85.5 262.8h1.6M85.5 263.8h1.6M85.5 266.8h1.6M86 168.8h1.6M86 171.3h1.6M86 171.8h1.6M86 175.8h1.6M86 184.3h1.6M86 184.8h1.6M86 188.3h1.6M86 188.8h1.6M86 191.3h1.6M86 193.3h1.6M86 194.3h1.6M86 194.8h1.6M86 203.3h1.6M86 203.8h1.6M86 207.3h1.6M86 218.3h1.6M86 218.8h1.6M86 220.3h1.6M86 220.8h1.6M86 222.3h1.6M86 222.8h1.6M86 223.3h1.6M86 224.8h1.6M86 225.8h1.6M86 229.3h1.6M86 229.8h1.6M86 230.3h1.6M86 231.3h1.6M86 231.8h1.6M86 234.8h1.6M86 236.8h1.6M86 238.8h1.6M86 239.3h1.6M86 241.8h1.6M86 242.3h1.6M86 244.3h1.6M86 244.8h1.6M86 246.8h1.6M86 247.3h1.6M86 247.8h1.6M86 248.8h1.6M86 249.3h1.6M86 250.3h1.6M86 252.3h1.6M86 255.3h1.6M86 257.3h1.6M86 259.3h1.6M86 260.3h1.6M86 261.3h1.6M86 262.8h1.6M86 265.8h1.6M86 266.8h1.6M86.5 175.3h1.6M86.5 176.8h1.6M86.5 177.3h1.6M86.5 178.3h1.6M86.5 178.8h1.6M86.5 181.3h1.6M86.5 181.8h1.6M86.5 182.3h1.6M86.5 186.8h1.6M86.5 188.3h1.6M86.5 188.8h1.6M86.5 189.3h1.6M86.5 192.3h1.6M86.5 192.8h1.6M86.5 196.3h1.6M86.5 196.8h1.6M86.5 197.8h1.6M86.5 204.3h1.6M86.5 207.3h1.6M86.5 222.8h1.6M86.5 227.8h1.6M86.5 228.3h1.6M86.5 228.8h1.6M86.5 229.3h1.6M86.5 230.3h1.6M86.5 231.3h1.6M86.5 232.8h1.6M86.5 233.8h1.6M86.5 234.8h1.6M86.5 235.3h1.6M86.5 235.8h1.6M86.5 237.3h1.6M86.5 237.8h1.6M86.5 238.3h1.6M86.5 240.3h1.6M86.5 243.8h1.6M86.5 244.8h1.6M86.5 248.3h1.6M86.5 249.8h1.6M86.5 250.3h1.6M86.5 250.8h1.6M86.5 253.8h1.6M86.5 254.3h1.6M86.5 254.8h1.6M86.5 255.8h1.6M86.5 256.8h1.6M86.5 257.8h1.6M86.5 258.3h1.6M86.5 259.3h1.6M86.5 259.8h1.6M86.5 261.3h1.6M86.5 261.8h1.6M86.5 266.8h1.6M87 171.3h1.6M87 173.8h1.6M87 174.3h1.6M87 178.3h1.6M87 179.3h1.6M87 181.8h1.6M87 182.3h1.6M87 182.8h1.6M87 185.8h1.6M87 186.8h1.6M87 187.3h1.6M87 189.3h1.6M87 189.8h1.6M87 190.8h1.6M87 194.3h1.6M87 194.8h1.6M87 200.8h1.6M87 202.3h1.6M87 203.8h1.6M87 204.8h1.6M87 205.8h1.6M87 206.8h1.6M87 215.8h1.6M87 217.8h1.6M87 220.8h1.6M87 221.8h1.6M87 222.3h1.6M87 224.3h1.6M87 225.8h1.6M87 227.8h1.6M87 230.8h1.6M87 234.3h1.6M87 234.8h1.6M87 237.8h1.6M87 238.8h1.6M87 239.8h1.6M87 240.8h1.6M87 243.3h1.6M87 246.3h1.6M87 247.3h1.6M87 250.3h1.6M87 252.3h1.6M87 253.3h1.6M87 253.8h1.6M87 255.8h1.6M87 260.8h1.6M87 261.3h1.6M87 262.3h1.6M87 263.3h1.6M87 263.8h1.6M87 265.3h1.6M87 265.8h1.6M87 266.3h1.6M87.5 174.8h1.6M87.5 178.3h1.6M87.5 184.3h1.6M87.5 185.8h1.6M87.5 186.8h1.6M87.5 187.3h1.6M87.5 187.8h1.6M87.5 193.8h1.6M87.5 194.3h1.6M87.5 194.8h1.6M87.5 196.8h1.6M87.5 198.3h1.6M87.5 199.8h1.6M87.5 205.3h1.6M87.5 206.3h1.6M87.5 207.3h1.6M87.5 209.3h1.6M87.5 215.3h1.6M87.5 217.3h1.6M87.5 217.8h1.6M87.5 218.3h1.6M87.5 219.3h1.6M87.5 219.8h1.6M87.5 221.8h1.6M87.5 222.8h1.6M87.5 224.3h1.6M87.5 225.3h1.6M87.5 227.3h1.6M87.5 230.3h1.6M87.5 230.8h1.6M87.5 231.3h1.6M87.5 233.8h1.6M87.5 234.3h1.6M87.5 235.3h1.6M87.5 236.8h1.6M87.5 237.3h1.6M87.5 237.8h1.6M87.5 238.3h1.6M87.5 238.8h1.6M87.5 239.8h1.6M87.5 240.3h1.6M87.5 241.8h1.6M87.5 242.3h1.6M87.5 242.8h1.6M87.5 243.3h1.6M87.5 244.8h1.6M87.5 245.3h1.6M87.5 246.3h1.6M87.5 246.8h1.6M87.5 247.8h1.6M87.5 248.3h1.6M87.5 248.8h1.6M87.5 249.3h1.6M87.5 250.3h1.6M87.5 252.3h1.6M87.5 253.8h1.6M87.5 255.3h1.6M87.5 258.3h1.6M87.5 260.8h1.6M87.5 264.3h1.6M87.5 265.8h1.6M87.5 266.8h1.6M88 180.3h1.6M88 182.3h1.6M88 182.8h1.6M88 184.3h1.6M88 186.3h1.6M88 186.8h1.6M88 188.8h1.6M88 189.8h1.6M88 190.3h1.6M88 190.8h1.6M88 196.3h1.6M88 199.8h1.6M88 202.8h1.6M88 204.3h1.6M88 206.8h1.6M88 208.3h1.6M88 216.3h1.6M88 220.3h1.6M88 222.8h1.6M88 223.8h1.6M88 224.3h1.6M88 226.3h1.6M88 227.8h1.6M88 228.3h1.6M88 228.8h1.6M88 230.8h1.6M88 231.3h1.6M88 232.8h1.6M88 233.8h1.6M88 234.3h1.6M88 235.3h1.6M88 236.3h1.6M88 237.3h1.6M88 237.8h1.6M88 238.3h1.6M88 239.3h1.6M88 239.8h1.6M88 240.8h1.6M88 242.3h1.6M88 243.3h1.6M88 244.3h1.6M88 245.3h1.6M88 246.3h1.6M88 246.8h1.6M88 247.3h1.6M88 250.8h1.6M88 251.3h1.6M88 252.8h1.6M88 253.3h1.6M88 253.8h1.6M88 255.8h1.6M88 256.8h1.6M88 258.3h1.6M88 260.8h1.6M88 262.8h1.6M88 263.8h1.6M88 266.8h1.6M88.5 177.8h1.6M88.5 180.8h1.6M88.5 182.3h1.6M88.5 184.8h1.6M88.5 185.3h1.6M88.5 185.8h1.6M88.5 186.3h1.6M88.5 187.3h1.6M88.5 189.3h1.6M88.5 189.8h1.6M88.5 192.8h1.6M88.5 193.8h1.6M88.5 199.3h1.6M88.5 207.3h1.6M88.5 217.3h1.6M88.5 217.8h1.6M88.5 219.3h1.6M88.5 219.8h1.6M88.5 220.3h1.6M88.5 222.8h1.6M88.5 224.3h1.6M88.5 224.8h1.6M88.5 225.8h1.6M88.5 226.3h1.6M88.5 227.8h1.6M88.5 228.3h1.6M88.5 230.3h1.6M88.5 230.8h1.6M88.5 231.8h1.6M88.5 233.3h1.6M88.5 234.3h1.6M88.5 237.8h1.6M88.5 239.3h1.6M88.5 240.3h1.6M88.5 241.3h1.6M88.5 241.8h1.6M88.5 247.3h1.6M88.5 249.3h1.6M88.5 249.8h1.6M88.5 250.3h1.6M88.5 254.3h1.6M88.5 255.8h1.6M88.5 256.3h1.6M88.5 257.3h1.6M88.5 258.3h1.6M88.5 259.3h1.6M88.5 259.8h1.6M88.5 261.8h1.6M88.5 262.8h1.6M88.5 263.8h1.6M88.5 265.3h1.6M88.5 267.3h1.6M89 181.8h1.6M89 182.8h1.6M89 188.3h1.6M89 189.3h1.6M89 190.3h1.6M89 191.8h1.6M89 192.3h1.6M89 193.3h1.6M89 196.8h1.6M89 197.3h1.6M89 202.3h1.6M89 210.3h1.6M89 214.3h1.6M89 216.8h1.6M89 217.8h1.6M89 218.3h1.6M89 218.8h1.6M89 219.8h1.6M89 220.8h1.6M89 224.8h1.6M89 225.3h1.6M89 225.8h1.6M89 227.8h1.6M89 228.8h1.6M89 230.8h1.6M89 232.3h1.6M89 234.8h1.6M89 235.8h1.6M89 236.3h1.6M89 239.8h1.6M89 241.3h1.6M89 242.8h1.6M89 244.3h1.6M89 245.8h1.6M89 246.8h1.6M89 251.8h1.6M89 252.3h1.6M89 253.8h1.6M89 255.3h1.6M89 256.3h1.6M89 256.8h1.6M89 257.3h1.6M89 259.3h1.6M89 259.8h1.6M89 262.8h1.6M89 263.3h1.6M89 265.8h1.6M89 266.3h1.6M89 266.8h1.6M89.5 165.8h1.6M89.5 174.8h1.6M89.5 179.8h1.6M89.5 180.3h1.6M89.5 181.8h1.6M89.5 183.3h1.6M89.5 184.3h1.6M89.5 185.8h1.6M89.5 186.8h1.6M89.5 188.8h1.6M89.5 189.3h1.6M89.5 189.8h1.6M89.5 190.8h1.6M89.5 195.3h1.6M89.5 196.3h1.6M89.5 216.3h1.6M89.5 217.8h1.6M89.5 220.8h1.6M89.5 222.3h1.6M89.5 222.8h1.6M89.5 224.3h1.6M89.5 229.3h1.6M89.5 229.8h1.6M89.5 230.3h1.6M89.5 232.3h1.6M89.5 233.8h1.6M89.5 234.3h1.6M89.5 235.3h1.6M89.5 236.3h1.6M89.5 238.3h1.6M89.5 238.8h1.6M89.5 240.3h1.6M89.5 240.8h1.6M89.5 242.8h1.6M89.5 245.3h1.6M89.5 246.3h1.6M89.5 246.8h1.6M89.5 248.3h1.6M89.5 248.8h1.6M89.5 251.8h1.6M89.5 253.3h1.6M89.5 256.3h1.6M89.5 259.8h1.6M89.5 260.3h1.6M89.5 261.8h1.6M89.5 262.3h1.6M89.5 262.8h1.6M89.5 264.3h1.6M89.5 265.8h1.6M89.5 266.3h1.6M89.5 266.8h1.6M89.5 267.3h1.6M90 173.8h1.6M90 181.3h1.6M90 181.8h1.6M90 182.3h1.6M90 183.8h1.6M90 186.3h1.6M90 187.3h1.6M90 190.8h1.6M90 193.8h1.6M90 199.3h1.6M90 206.3h1.6M90 215.3h1.6M90 215.8h1.6M90 216.8h1.6M90 217.8h1.6M90 219.3h1.6M90 221.3h1.6M90 223.3h1.6M90 226.8h1.6M90 230.3h1.6M90 230.8h1.6M90 234.8h1.6M90 235.3h1.6M90 237.3h1.6M90 238.8h1.6M90 239.8h1.6M90 240.3h1.6M90 241.8h1.6M90 242.3h1.6M90 245.8h1.6M90 247.8h1.6M90 248.8h1.6M90 252.3h1.6M90 253.8h1.6M90 254.3h1.6M90 254.8h1.6M90 255.3h1.6M90 256.3h1.6M90 256.8h1.6M90 261.8h1.6M90 265.8h1.6M90.5 174.8h1.6M90.5 175.3h1.6M90.5 177.8h1.6M90.5 179.3h1.6M90.5 180.8h1.6M90.5 181.3h1.6M90.5 184.8h1.6M90.5 187.3h1.6M90.5 187.8h1.6M90.5 188.3h1.6M90.5 189.8h1.6M90.5 204.8h1.6M90.5 219.3h1.6M90.5 221.3h1.6M90.5 222.8h1.6M90.5 223.3h1.6M90.5 225.3h1.6M90.5 225.8h1.6M90.5 227.8h1.6M90.5 228.3h1.6M90.5 229.8h1.6M90.5 230.8h1.6M90.5 233.3h1.6M90.5 234.8h1.6M90.5 235.3h1.6M90.5 237.8h1.6M90.5 238.8h1.6M90.5 239.8h1.6M90.5 242.3h1.6M90.5 242.8h1.6M90.5 244.8h1.6M90.5 245.3h1.6M90.5 247.3h1.6M90.5 248.8h1.6M90.5 249.3h1.6M90.5 249.8h1.6M90.5 250.3h1.6M90.5 250.8h1.6M90.5 251.3h1.6M90.5 253.3h1.6M90.5 254.8h1.6M90.5 258.3h1.6M90.5 259.3h1.6M90.5 259.8h1.6M90.5 264.8h1.6M90.5 266.3h1.6M91 176.8h1.6M91 177.8h1.6M91 180.8h1.6M91 185.8h1.6M91 189.8h1.6M91 191.8h1.6M91 192.3h1.6M91 206.3h1.6M91 215.8h1.6M91 217.8h1.6M91 219.8h1.6M91 220.3h1.6M91 220.8h1.6M91 222.3h1.6M91 224.3h1.6M91 229.3h1.6M91 231.8h1.6M91 232.3h1.6M91 236.3h1.6M91 239.3h1.6M91 240.3h1.6M91 240.8h1.6M91 242.8h1.6M91 243.3h1.6M91 243.8h1.6M91 247.8h1.6M91 248.8h1.6M91 249.3h1.6M91 249.8h1.6M91 251.8h1.6M91 255.3h1.6M91 255.8h1.6M91 256.8h1.6M91 260.8h1.6M91 262.3h1.6M91 263.3h1.6M91 264.3h1.6M91 264.8h1.6M91 265.3h1.6M91 266.8h1.6M91.5 169.8h1.6M91.5 170.8h1.6M91.5 177.8h1.6M91.5 181.3h1.6M91.5 199.3h1.6M91.5 204.8h1.6M91.5 208.3h1.6M91.5 209.8h1.6M91.5 217.3h1.6M91.5 220.3h1.6M91.5 221.3h1.6M91.5 222.8h1.6M91.5 223.3h1.6M91.5 223.8h1.6M91.5 229.3h1.6M91.5 234.3h1.6M91.5 236.3h1.6M91.5 237.8h1.6M91.5 241.3h1.6M91.5 242.8h1.6M91.5 245.8h1.6M91.5 247.8h1.6M91.5 248.8h1.6M91.5 249.3h1.6M91.5 250.3h1.6M91.5 250.8h1.6M91.5 254.8h1.6M91.5 256.8h1.6M91.5 257.8h1.6M91.5 261.8h1.6M91.5 262.8h1.6M91.5 263.8h1.6M91.5 264.3h1.6M91.5 266.3h1.6M92 176.8h1.6M92 177.3h1.6M92 178.3h1.6M92 178.8h1.6M92 180.8h1.6M92 182.3h1.6M92 184.8h1.6M92 185.8h1.6M92 187.8h1.6M92 188.3h1.6M92 190.3h1.6M92 196.8h1.6M92 197.3h1.6M92 197.8h1.6M92 210.3h1.6M92 211.3h1.6M92 216.8h1.6M92 217.3h1.6M92 220.3h1.6M92 221.3h1.6M92 221.8h1.6M92 222.3h1.6M92 226.3h1.6M92 228.3h1.6M92 229.8h1.6M92 231.3h1.6M92 232.8h1.6M92 234.3h1.6M92 237.3h1.6M92 237.8h1.6M92 238.3h1.6M92 238.8h1.6M92 239.3h1.6M92 239.8h1.6M92 241.3h1.6M92 242.3h1.6M92 243.3h1.6M92 244.3h1.6M92 245.3h1.6M92 245.8h1.6M92 247.8h1.6M92 248.3h1.6M92 252.8h1.6M92 254.8h1.6M92 255.8h1.6M92 260.8h1.6M92 265.3h1.6M92 265.8h1.6M92 266.3h1.6M92 266.8h1.6M92.5 181.8h1.6M92.5 183.8h1.6M92.5 187.8h1.6M92.5 195.3h1.6M92.5 202.3h1.6M92.5 217.8h1.6M92.5 221.8h1.6M92.5 226.3h1.6M92.5 226.8h1.6M92.5 227.8h1.6M92.5 231.3h1.6M92.5 232.3h1.6M92.5 233.8h1.6M92.5 236.3h1.6M92.5 239.3h1.6M92.5 240.8h1.6M92.5 241.3h1.6M92.5 241.8h1.6M92.5 242.3h1.6M92.5 243.3h1.6M92.5 243.8h1.6M92.5 245.8h1.6M92.5 248.3h1.6M92.5 248.8h1.6M92.5 249.3h1.6M92.5 250.8h1.6M92.5 252.8h1.6M92.5 253.3h1.6M92.5 253.8h1.6M92.5 254.8h1.6M92.5 257.8h1.6M92.5 258.3h1.6M92.5 259.3h1.6M92.5 261.8h1.6M92.5 265.3h1.6M92.5 265.8h1.6M92.5 266.3h1.6M92.5 266.8h1.6M93 176.3h1.6M93 181.3h1.6M93 183.8h1.6M93 185.8h1.6M93 188.3h1.6M93 194.3h1.6M93 194.8h1.6M93 201.3h1.6M93 206.8h1.6M93 217.8h1.6M93 220.3h1.6M93 220.8h1.6M93 224.8h1.6M93 229.3h1.6M93 231.3h1.6M93 231.8h1.6M93 233.8h1.6M93 234.8h1.6M93 237.8h1.6M93 240.8h1.6M93 241.3h1.6M93 241.8h1.6M93 243.3h1.6M93 244.3h1.6M93 246.8h1.6M93 250.8h1.6M93 255.8h1.6M93 258.3h1.6M93 261.3h1.6M93 263.3h1.6M93 266.3h1.6M93 266.8h1.6M93.5 177.8h1.6M93.5 178.3h1.6M93.5 180.8h1.6M93.5 182.3h1.6M93.5 184.3h1.6M93.5 186.8h1.6M93.5 187.3h1.6M93.5 187.8h1.6M93.5 193.3h1.6M93.5 195.8h1.6M93.5 202.8h1.6M93.5 207.3h1.6M93.5 221.3h1.6M93.5 231.3h1.6M93.5 233.8h1.6M93.5 235.3h1.6M93.5 235.8h1.6M93.5 236.3h1.6M93.5 237.8h1.6M93.5 238.3h1.6M93.5 238.8h1.6M93.5 241.3h1.6M93.5 244.8h1.6M93.5 245.8h1.6M93.5 246.3h1.6M93.5 248.3h1.6M93.5 253.3h1.6M93.5 254.3h1.6M93.5 254.8h1.6M93.5 256.8h1.6M93.5 257.3h1.6M93.5 259.8h1.6M93.5 262.3h1.6M93.5 262.8h1.6M93.5 264.8h1.6M93.5 266.3h1.6M93.5 266.8h1.6M94 177.8h1.6M94 187.3h1.6M94 188.8h1.6M94 190.8h1.6M94 196.3h1.6M94 197.3h1.6M94 203.3h1.6M94 204.3h1.6M94 204.8h1.6M94 206.3h1.6M94 209.3h1.6M94 218.8h1.6M94 222.8h1.6M94 225.3h1.6M94 226.8h1.6M94 230.8h1.6M94 231.8h1.6M94 234.3h1.6M94 237.3h1.6M94 239.3h1.6M94 240.3h1.6M94 242.3h1.6M94 243.3h1.6M94 245.3h1.6M94 248.3h1.6M94 252.3h1.6M94 253.8h1.6M94 260.3h1.6M94 261.3h1.6M94 262.3h1.6M94 263.3h1.6M94.5 178.3h1.6M94.5 180.8h1.6M94.5 183.3h1.6M94.5 187.3h1.6M94.5 187.8h1.6M94.5 189.3h1.6M94.5 189.8h1.6M94.5 193.3h1.6M94.5 200.3h1.6M94.5 214.3h1.6M94.5 217.3h1.6M94.5 217.8h1.6M94.5 218.8h1.6M94.5 224.8h1.6M94.5 225.3h1.6M94.5 225.8h1.6M94.5 227.3h1.6M94.5 230.8h1.6M94.5 238.8h1.6M94.5 242.3h1.6M94.5 243.3h1.6M94.5 244.8h1.6M94.5 245.8h1.6M94.5 246.3h1.6M94.5 250.3h1.6M94.5 261.3h1.6M94.5 261.8h1.6M94.5 262.8h1.6M94.5 263.8h1.6M94.5 264.3h1.6M94.5 266.3h1.6M95 178.3h1.6M95 185.3h1.6M95 198.3h1.6M95 199.8h1.6M95 200.8h1.6M95 202.8h1.6M95 216.8h1.6M95 223.8h1.6M95 224.3h1.6M95 228.3h1.6M95 230.3h1.6M95 231.3h1.6M95 231.8h1.6M95 238.3h1.6M95 238.8h1.6M95 242.8h1.6M95 247.3h1.6M95 255.3h1.6M95 259.8h1.6M95 262.3h1.6M95 263.8h1.6M95.5 170.8h1.6M95.5 172.3h1.6M95.5 185.3h1.6M95.5 186.8h1.6M95.5 190.3h1.6M95.5 192.3h1.6M95.5 193.8h1.6M95.5 207.8h1.6M95.5 216.8h1.6M95.5 219.3h1.6M95.5 220.3h1.6M95.5 225.3h1.6M95.5 226.8h1.6M95.5 232.3h1.6M95.5 233.3h1.6M95.5 240.3h1.6M95.5 241.3h1.6M95.5 246.8h1.6M95.5 248.3h1.6M95.5 252.3h1.6M95.5 252.8h1.6M95.5 254.8h1.6M95.5 257.3h1.6M95.5 259.3h1.6M95.5 262.3h1.6M95.5 262.8h1.6M95.5 263.3h1.6M95.5 264.3h1.6M95.5 265.8h1.6M96 174.3h1.6M96 183.8h1.6M96 186.3h1.6M96 189.3h1.6M96 191.3h1.6M96 198.3h1.6M96 215.8h1.6M96 217.8h1.6M96 225.3h1.6M96 229.3h1.6M96 229.8h1.6M96 235.3h1.6M96 235.8h1.6M96 236.3h1.6M96 244.3h1.6M96 246.3h1.6M96 248.8h1.6M96 250.8h1.6M96 253.8h1.6M96 254.3h1.6M96 254.8h1.6M96 255.3h1.6M96 255.8h1.6M96 263.8h1.6M96.5 182.8h1.6M96.5 187.3h1.6M96.5 188.8h1.6M96.5 190.3h1.6M96.5 206.8h1.6M96.5 207.8h1.6M96.5 222.3h1.6M96.5 224.3h1.6M96.5 225.3h1.6M96.5 226.8h1.6M96.5 229.8h1.6M96.5 230.3h1.6M96.5 233.8h1.6M96.5 244.8h1.6M96.5 246.3h1.6M96.5 247.8h1.6M96.5 248.3h1.6M96.5 248.8h1.6M96.5 253.3h1.6M96.5 254.8h1.6M96.5 257.3h1.6M96.5 260.8h1.6M96.5 262.8h1.6M97 176.8h1.6M97 177.8h1.6M97 185.8h1.6M97 188.3h1.6M97 189.8h1.6M97 192.3h1.6M97 194.3h1.6M97 206.8h1.6M97 207.3h1.6M97 219.8h1.6M97 225.3h1.6M97 229.3h1.6M97 232.8h1.6M97 237.8h1.6M97 246.3h1.6M97 246.8h1.6M97 253.3h1.6M97 254.3h1.6M97 257.3h1.6M97 259.8h1.6M97.5 177.3h1.6M97.5 184.8h1.6M97.5 189.3h1.6M97.5 190.3h1.6M97.5 191.3h1.6M97.5 203.8h1.6M97.5 204.8h1.6M97.5 209.3h1.6M97.5 210.8h1.6M97.5 218.8h1.6M97.5 223.8h1.6M97.5 224.8h1.6M97.5 230.3h1.6M97.5 230.8h1.6M97.5 232.8h1.6M97.5 234.8h1.6M97.5 237.3h1.6M97.5 240.3h1.6M97.5 245.3h1.6M97.5 251.8h1.6M97.5 253.8h1.6M97.5 255.8h1.6M97.5 263.8h1.6M97.5 267.3h1.6M98 188.3h1.6M98 190.3h1.6M98 190.8h1.6M98 201.3h1.6M98 223.8h1.6M98 227.8h1.6M98 230.3h1.6M98 241.8h1.6M98 243.3h1.6M98 250.3h1.6M98 251.3h1.6M98 251.8h1.6M98 252.8h1.6M98 259.3h1.6M98.5 190.8h1.6M98.5 191.8h1.6M98.5 192.8h1.6M98.5 195.8h1.6M98.5 196.8h1.6M98.5 199.8h1.6M98.5 206.3h1.6M98.5 218.3h1.6M98.5 219.3h1.6M98.5 222.3h1.6M98.5 228.8h1.6M98.5 238.8h1.6M98.5 239.3h1.6M98.5 246.3h1.6M98.5 247.8h1.6M98.5 248.3h1.6M98.5 248.8h1.6M98.5 249.3h1.6M98.5 250.8h1.6M98.5 251.8h1.6M98.5 254.3h1.6M98.5 254.8h1.6M98.5 255.3h1.6M98.5 258.8h1.6M98.5 263.8h1.6M98.5 264.3h1.6M99 186.8h1.6M99 191.3h1.6M99 199.3h1.6M99 202.8h1.6M99 205.3h1.6M99 207.8h1.6M99 226.3h1.6M99 227.8h1.6M99 233.3h1.6M99 238.8h1.6M99 241.3h1.6M99 241.8h1.6M99 245.3h1.6M99 252.3h1.6M99 254.8h1.6M99 255.3h1.6M99 258.8h1.6M99 260.8h1.6M99 264.8h1.6M99.5 180.8h1.6M99.5 183.3h1.6M99.5 185.8h1.6M99.5 191.8h1.6M99.5 207.8h1.6M99.5 224.3h1.6M99.5 225.3h1.6M99.5 225.8h1.6M99.5 229.8h1.6M99.5 230.3h1.6M99.5 235.8h1.6M99.5 238.3h1.6M99.5 244.3h1.6M99.5 255.3h1.6M100 177.3h1.6M100 225.3h1.6M100 232.3h1.6M100 238.8h1.6M100 241.3h1.6M100 241.8h1.6M100 242.8h1.6M100 247.8h1.6M100 250.8h1.6M100 251.8h1.6M100 255.8h1.6M100 256.3h1.6M100 259.3h1.6M100.5 182.3h1.6M100.5 191.3h1.6M100.5 197.3h1.6M100.5 227.8h1.6M100.5 230.8h1.6M100.5 232.8h1.6M100.5 233.3h1.6M100.5 237.8h1.6M100.5 240.3h1.6M100.5 241.3h1.6M100.5 245.8h1.6M100.5 250.8h1.6M100.5 251.3h1.6M100.5 253.3h1.6M100.5 257.3h1.6M100.5 258.3h1.6M100.5 260.8h1.6M101 180.8h1.6M101 182.3h1.6M101 185.8h1.6M101 189.8h1.6M101 190.3h1.6M101 205.3h1.6M101 227.3h1.6M101 239.8h1.6M101 255.8h1.6M101 262.3h1.6M101.5 179.8h1.6M101.5 181.3h1.6M101.5 182.8h1.6M101.5 191.3h1.6M101.5 193.8h1.6M101.5 201.3h1.6M101.5 209.8h1.6M101.5 216.3h1.6M101.5 221.3h1.6M101.5 240.3h1.6M101.5 241.8h1.6M101.5 242.3h1.6M101.5 249.3h1.6M101.5 252.3h1.6M101.5 255.8h1.6M101.5 262.8h1.6M102 177.8h1.6M102 183.8h1.6M102 185.8h1.6M102 189.3h1.6M102 193.3h1.6M102 207.3h1.6M102 210.8h1.6M102 215.3h1.6M102 223.3h1.6M102 224.3h1.6M102 225.8h1.6M102 229.8h1.6M102 230.3h1.6M102 231.3h1.6M102 235.8h1.6M102 237.8h1.6M102 238.8h1.6M102 242.8h1.6M102 245.3h1.6M102 245.8h1.6M102 253.3h1.6M102 255.3h1.6M102 255.8h1.6M102 259.8h1.6M102.5 191.3h1.6M102.5 191.8h1.6M102.5 203.3h1.6M102.5 205.8h1.6M102.5 207.3h1.6M102.5 210.3h1.6M102.5 221.8h1.6M102.5 232.8h1.6M102.5 233.3h1.6M102.5 242.8h1.6M102.5 246.3h1.6M102.5 259.8h1.6M102.5 262.8h1.6M103 199.8h1.6M103 207.8h1.6M103 213.8h1.6M103 229.8h1.6M103 231.8h1.6M103 237.8h1.6M103 243.3h1.6M103 248.8h1.6M103 252.3h1.6M103 258.8h1.6M103.5 173.8h1.6M103.5 177.3h1.6M103.5 224.3h1.6M103.5 227.8h1.6M103.5 228.8h1.6M103.5 237.3h1.6M103.5 237.8h1.6M103.5 241.3h1.6M104 200.3h1.6M104 205.8h1.6M104 207.3h1.6M104 227.3h1.6M104 231.3h1.6M104 239.3h1.6M104 247.8h1.6M104 265.3h1.6M104.5 220.3h1.6M104.5 227.3h1.6M104.5 229.8h1.6M104.5 263.8h1.6M104.5 264.3h1.6M105 185.3h1.6M105 187.8h1.6M105 188.8h1.6M105 199.3h1.6M105 235.3h1.6M105 237.3h1.6M105 239.8h1.6M105 246.3h1.6M105 256.8h1.6M105 260.8h1.6M105.5 190.8h1.6M105.5 199.3h1.6M105.5 200.3h1.6M105.5 223.8h1.6M105.5 227.3h1.6M105.5 240.3h1.6M105.5 243.8h1.6M105.5 250.8h1.6M105.5 254.8h1.6M105.5 258.8h1.6M106 182.3h1.6M106 204.8h1.6M106 223.3h1.6M106 242.8h1.6M106 249.3h1.6M106 256.3h1.6M106 266.8h1.6M106.5 180.8h1.6M106.5 208.3h1.6M106.5 227.8h1.6M106.5 236.3h1.6M107 172.8h1.6M107 180.8h1.6M107 193.3h1.6M107 220.3h1.6M107 232.8h1.6M107 234.8h1.6M107 238.8h1.6M107 252.3h1.6M107 258.8h1.6M107.5 182.8h1.6M107.5 245.8h1.6M107.5 249.3h1.6M107.5 258.8h1.6M108 201.8h1.6M108 221.8h1.6M108 223.8h1.6M108 238.3h1.6M108 254.8h1.6M108.5 184.8h1.6M108.5 193.3h1.6M108.5 238.3h1.6M108.5 243.3h1.6M108.5 256.8h1.6M109 191.3h1.6M109 195.8h1.6M109 199.8h1.6M109 201.3h1.6M109 228.8h1.6M109 241.3h1.6M109 257.8h1.6M109.5 188.8h1.6M109.5 198.8h1.6M109.5 254.8h1.6M109.5 258.3h1.6M110 187.3h1.6M110 193.8h1.6M110 220.3h1.6M110.5 173.8h1.6M110.5 176.8h1.6M110.5 208.8h1.6M110.5 225.3h1.6M110.5 259.3h1.6M111 178.3h1.6M111 188.3h1.6M111.5 179.3h1.6M111.5 186.8h1.6M111.5 243.8h1.6M112 175.3h1.6M112 188.8h1.6M112 189.8h1.6M112 196.8h1.6M112 207.8h1.6M112 247.8h1.6M112.5 188.8h1.6M112.5 190.3h1.6M112.5 195.3h1.6M113 197.3h1.6M113 205.3h1.6M113 212.3h1.6M113 237.3h1.6M113.5 174.8h1.6M113.5 197.8h1.6M113.5 198.3h1.6M114 173.3h1.6M114 184.3h1.6M114.5 185.8h1.6M114.5 200.8h1.6M115 192.3h1.6M115 196.3h1.6M115 198.8h1.6M115.5 186.8h1.6M115.5 189.3h1.6M115.5 200.3h1.6M116 184.8h1.6M116.5 194.3h1.6M117 187.8h1.6M117.5 187.8h1.6M118 178.8h1.6M118 187.3h1.6M118 190.3h1.6M118 193.3h1.6M118 205.3h1.6M118.5 177.8h1.6M118.5 195.3h1.6M118.5 202.8h1.6M119 189.8h1.6M119.5 182.8h1.6M119.5 198.3h1.6M120 191.8h1.6M120 203.3h1.6M120.5 184.8h1.6M120.5 194.3h1.6M121 188.8h1.6M121 189.3h1.6M121 217.3h1.6M121 228.3h1.6M121.5 174.3h1.6M121.5 188.8h1.6M121.5 190.8h1.6M121.5 193.3h1.6M122.5 193.8h1.6M122.5 199.8h1.6M123.5 200.3h1.6M124 181.8h1.6M124 187.3h1.6M124 192.3h1.6M124 205.8h1.6M124.5 176.8h1.6M124.5 182.8h1.6M124.5 186.3h1.6M125 180.8h1.6M125 194.3h1.6M125.5 177.3h1.6M125.5 182.3h1.6M125.5 192.3h1.6M126 197.8h1.6M126.5 196.8h1.6M127 193.8h1.6M128 192.3h1.6M128.5 197.8h1.6M129 184.3h1.6M129 188.3h1.6M129 192.8h1.6M129 195.8h1.6M129.5 185.8h1.6M129.5 194.3h1.6M129.5 197.8h1.6M130 184.3h1.6M130 187.3h1.6M130 188.8h1.6M130 189.8h1.6M130 193.3h1.6M130 194.3h1.6M130.5 190.8h1.6M130.5 194.3h1.6M130.5 194.8h1.6M130.5 198.3h1.6M131 173.8h1.6M131 188.3h1.6M131 190.3h1.6M131 190.8h1.6M131 193.8h1.6M131 197.3h1.6M131 201.8h1.6M131.5 180.3h1.6M131.5 187.8h1.6M131.5 193.3h1.6M131.5 194.8h1.6M131.5 195.3h1.6M132 186.3h1.6M132 186.8h1.6M132 193.3h1.6M132 198.8h1.6M132.5 184.8h1.6M132.5 188.8h1.6M132.5 190.8h1.6M132.5 192.3h1.6M132.5 197.3h1.6M132.5 197.8h1.6M132.5 200.3h1.6M132.5 216.3h1.6M133 181.3h1.6M133 182.3h1.6M133 185.8h1.6M133 190.3h1.6M133 192.3h1.6M133 193.8h1.6M133 195.3h1.6M133 199.3h1.6M133 200.3h1.6M133.5 186.8h1.6M133.5 188.3h1.6M133.5 189.3h1.6M133.5 193.3h1.6M133.5 200.8h1.6M133.5 202.3h1.6M134 186.3h1.6M134 187.3h1.6M134 195.8h1.6M134.5 177.3h1.6M134.5 179.8h1.6M134.5 184.8h1.6M134.5 188.3h1.6M134.5 192.8h1.6M134.5 194.3h1.6M135 176.8h1.6M135 187.8h1.6M135 190.3h1.6M135 192.3h1.6M135 194.8h1.6M135 198.8h1.6M135 199.8h1.6M135.5 184.8h1.6M135.5 187.3h1.6M135.5 189.8h1.6M135.5 192.3h1.6M135.5 193.3h1.6M135.5 195.8h1.6M135.5 198.8h1.6M136 195.3h1.6M136 196.3h1.6M136 197.3h1.6M136 198.8h1.6M136 199.8h1.6M136 202.3h1.6M136.5 177.8h1.6M136.5 183.3h1.6M136.5 184.3h1.6M136.5 185.8h1.6M136.5 189.8h1.6M136.5 194.8h1.6M136.5 202.8h1.6M136.5 204.3h1.6M136.5 215.3h1.6M137 177.3h1.6M137 183.3h1.6M137 184.3h1.6M137 187.3h1.6M137 187.8h1.6M137 188.3h1.6M137 191.8h1.6M137 195.3h1.6M137 196.8h1.6M137 197.8h1.6M137 198.8h1.6M137 205.3h1.6M137 209.8h1.6M137.5 182.8h1.6M137.5 186.8h1.6M137.5 189.3h1.6M137.5 189.8h1.6M137.5 190.8h1.6M137.5 192.3h1.6M137.5 192.8h1.6M137.5 193.8h1.6M137.5 194.8h1.6M137.5 195.8h1.6M137.5 197.8h1.6M137.5 199.3h1.6M137.5 200.8h1.6M137.5 202.3h1.6M137.5 203.3h1.6M138 186.3h1.6M138 187.3h1.6M138 189.3h1.6M138 190.3h1.6M138 194.8h1.6M138 195.3h1.6M138 198.8h1.6M138 199.8h1.6M138 200.8h1.6M138.5 182.8h1.6M138.5 185.8h1.6M138.5 188.3h1.6M138.5 188.8h1.6M138.5 189.3h1.6M138.5 191.3h1.6M138.5 192.8h1.6M138.5 194.8h1.6M138.5 196.3h1.6M138.5 199.3h1.6M138.5 199.8h1.6M138.5 200.3h1.6M138.5 200.8h1.6M139 182.8h1.6M139 183.8h1.6M139 184.8h1.6M139 185.8h1.6M139 192.3h1.6M139 192.8h1.6M139 193.8h1.6M139 195.8h1.6M139 196.3h1.6M139 196.8h1.6M139 197.3h1.6M139 198.8h1.6M139 199.3h1.6M139 201.3h1.6M139 202.3h1.6M139 234.3h1.6M139.5 175.3h1.6M139.5 181.8h1.6M139.5 185.3h1.6M139.5 185.8h1.6M139.5 186.8h1.6M139.5 188.3h1.6M139.5 193.3h1.6M139.5 195.3h1.6M140 180.3h1.6M140 182.3h1.6M140 183.8h1.6M140 184.3h1.6M140 187.3h1.6M140 191.3h1.6M140 191.8h1.6M140 196.8h1.6M140 198.3h1.6M140 202.8h1.6M140.5 184.8h1.6M140.5 185.3h1.6M140.5 186.3h1.6M140.5 186.8h1.6M140.5 187.8h1.6M140.5 190.3h1.6M140.5 191.3h1.6M140.5 194.3h1.6M140.5 196.3h1.6M140.5 196.8h1.6M140.5 202.8h1.6M140.5 203.8h1.6M140.5 204.3h1.6M141 184.8h1.6M141 190.8h1.6M141 191.3h1.6M141 191.8h1.6M141 193.3h1.6M141 197.8h1.6M141 198.3h1.6M141 201.3h1.6M141 202.3h1.6M141 203.3h1.6M141 208.8h1.6M141.5 179.8h1.6M141.5 180.3h1.6M141.5 180.8h1.6M141.5 181.3h1.6M141.5 181.8h1.6M141.5 185.3h1.6M141.5 188.8h1.6M141.5 190.3h1.6M141.5 201.3h1.6M141.5 201.8h1.6M142 178.8h1.6M142 181.8h1.6M142 182.8h1.6M142 184.3h1.6M142 186.8h1.6M142 188.8h1.6M142 189.8h1.6M142 191.3h1.6M142 191.8h1.6M142 194.8h1.6M142 201.8h1.6M142 203.8h1.6M142 205.8h1.6M142.5 180.8h1.6M142.5 184.3h1.6M142.5 186.3h1.6M142.5 192.8h1.6M142.5 193.8h1.6M142.5 195.3h1.6M142.5 198.8h1.6M142.5 199.3h1.6M142.5 199.8h1.6M142.5 200.3h1.6M142.5 201.3h1.6M142.5 206.3h1.6M143 180.3h1.6M143 182.3h1.6M143 185.8h1.6M143 186.8h1.6M143 187.8h1.6M143 189.8h1.6M143 192.8h1.6M143 193.8h1.6M143 195.8h1.6M143 198.3h1.6M143 198.8h1.6M143 205.3h1.6M143.5 176.3h1.6M143.5 179.8h1.6M143.5 180.8h1.6M143.5 183.3h1.6M143.5 185.3h1.6M143.5 186.3h1.6M143.5 188.3h1.6M143.5 191.8h1.6M143.5 192.3h1.6M143.5 194.8h1.6M143.5 205.8h1.6M143.5 220.8h1.6M144 177.8h1.6M144 183.8h1.6M144 188.8h1.6M144 189.8h1.6M144 191.3h1.6M144 192.3h1.6M144 194.3h1.6M144 194.8h1.6M144 198.3h1.6M144 201.3h1.6M144 201.8h1.6M144 203.8h1.6M144 230.8h1.6M144.5 177.8h1.6M144.5 181.8h1.6M144.5 182.3h1.6M144.5 184.3h1.6M144.5 184.8h1.6M144.5 193.3h1.6M144.5 194.3h1.6M144.5 195.3h1.6M144.5 195.8h1.6M144.5 203.8h1.6M144.5 204.3h1.6M144.5 206.3h1.6M145 176.3h1.6M145 180.3h1.6M145 183.3h1.6M145 184.3h1.6M145 184.8h1.6M145 185.8h1.6M145 191.8h1.6M145 193.8h1.6M145 198.3h1.6M145 199.3h1.6M145 203.3h1.6M145 204.3h1.6M145 206.3h1.6M145.5 180.8h1.6M145.5 181.3h1.6M145.5 183.8h1.6M145.5 184.8h1.6M145.5 187.3h1.6M145.5 189.3h1.6M145.5 192.8h1.6M145.5 193.8h1.6M145.5 194.8h1.6M145.5 205.3h1.6M146 179.8h1.6M146 180.8h1.6M146 182.8h1.6M146 184.8h1.6M146 188.8h1.6M146 191.8h1.6M146 192.8h1.6M146 194.8h1.6M146 196.3h1.6M146 197.8h1.6M146 201.8h1.6M146 202.8h1.6M146 203.3h1.6M146.5 175.8h1.6M146.5 176.8h1.6M146.5 178.8h1.6M146.5 181.8h1.6M146.5 182.3h1.6M146.5 185.3h1.6M146.5 186.8h1.6M146.5 188.3h1.6M146.5 191.3h1.6M146.5 194.3h1.6M146.5 195.3h1.6M146.5 196.8h1.6M146.5 197.8h1.6M146.5 198.3h1.6M146.5 203.3h1.6M146.5 206.8h1.6M146.5 211.3h1.6M146.5 232.8h1.6M147 181.3h1.6M147 182.3h1.6M147 187.3h1.6M147 187.8h1.6M147 193.3h1.6M147 194.8h1.6M147 196.8h1.6M147 197.8h1.6M147 199.8h1.6M147 201.8h1.6M147 202.3h1.6M147 202.8h1.6M147 203.8h1.6M147.5 174.3h1.6M147.5 182.3h1.6M147.5 184.3h1.6M147.5 189.8h1.6M147.5 191.3h1.6M147.5 195.3h1.6M147.5 196.3h1.6M147.5 196.8h1.6M147.5 197.8h1.6M147.5 203.8h1.6M147.5 205.3h1.6M148 179.3h1.6M148 182.3h1.6M148 185.3h1.6M148 186.8h1.6M148 187.8h1.6M148 188.3h1.6M148 193.8h1.6M148 203.3h1.6M148 205.8h1.6M148 211.3h1.6M148.5 173.8h1.6M148.5 174.3h1.6M148.5 178.3h1.6M148.5 178.8h1.6M148.5 179.8h1.6M148.5 191.3h1.6M148.5 191.8h1.6M148.5 194.3h1.6M148.5 194.8h1.6M148.5 197.3h1.6M148.5 198.8h1.6M148.5 199.3h1.6M148.5 201.8h1.6M148.5 202.8h1.6M148.5 207.3h1.6M149 179.3h1.6M149 179.8h1.6M149 180.3h1.6M149 181.3h1.6M149 182.8h1.6M149 186.3h1.6M149 186.8h1.6M149 191.3h1.6M149 192.8h1.6M149 207.3h1.6M149.5 177.3h1.6M149.5 178.8h1.6M149.5 187.3h1.6M149.5 188.3h1.6M149.5 189.3h1.6M149.5 196.3h1.6M149.5 198.3h1.6M149.5 198.8h1.6M149.5 201.8h1.6M149.5 206.3h1.6M149.5 215.3h1.6M150 177.3h1.6M150 180.8h1.6M150 181.3h1.6M150 181.8h1.6M150 182.3h1.6M150 183.3h1.6M150 184.8h1.6M150 186.8h1.6M150 188.8h1.6M150 189.8h1.6M150 197.8h1.6M150 198.8h1.6M150 200.3h1.6M150 201.3h1.6M150 201.8h1.6M150 204.8h1.6M150.5 177.3h1.6M150.5 178.3h1.6M150.5 178.8h1.6M150.5 179.3h1.6M150.5 182.8h1.6M150.5 184.8h1.6M150.5 188.3h1.6M150.5 191.8h1.6M150.5 193.3h1.6M150.5 193.8h1.6M150.5 194.3h1.6M150.5 201.3h1.6M151 177.8h1.6M151 179.3h1.6M151 180.3h1.6M151 180.8h1.6M151 181.3h1.6M151 182.8h1.6M151 186.3h1.6M151 194.3h1.6M151 195.8h1.6M151 198.8h1.6M151 202.8h1.6M151 209.8h1.6M151 223.8h1.6M151.5 170.3h1.6M151.5 176.3h1.6M151.5 180.3h1.6M151.5 182.3h1.6M151.5 188.3h1.6M151.5 192.3h1.6M151.5 194.8h1.6M151.5 195.8h1.6M151.5 197.3h1.6M151.5 199.3h1.6M151.5 200.3h1.6M151.5 202.8h1.6M151.5 203.3h1.6M151.5 206.3h1.6M151.5 224.3h1.6M152 179.3h1.6M152 183.3h1.6M152 185.3h1.6M152 187.3h1.6M152 188.8h1.6M152 191.3h1.6M152 193.3h1.6M152 199.8h1.6M152 207.3h1.6M152 208.3h1.6M152 220.8h1.6M152 233.3h1.6M152.5 171.3h1.6M152.5 183.3h1.6M152.5 184.8h1.6M152.5 185.3h1.6M152.5 185.8h1.6M152.5 186.8h1.6M152.5 187.8h1.6M152.5 188.8h1.6M152.5 189.3h1.6M152.5 190.8h1.6M152.5 191.3h1.6M152.5 195.8h1.6M152.5 199.8h1.6M152.5 201.3h1.6M152.5 203.3h1.6M152.5 203.8h1.6M152.5 204.3h1.6M152.5 209.8h1.6M153 177.8h1.6M153 179.3h1.6M153 179.8h1.6M153 184.8h1.6M153 187.3h1.6M153 187.8h1.6M153 191.8h1.6M153 192.8h1.6M153 196.3h1.6M153 196.8h1.6M153 197.8h1.6M153 205.8h1.6M153.5 176.8h1.6M153.5 177.8h1.6M153.5 178.8h1.6M153.5 185.8h1.6M153.5 187.3h1.6M153.5 187.8h1.6M153.5 188.3h1.6M153.5 189.8h1.6M153.5 190.8h1.6M153.5 192.8h1.6M153.5 193.3h1.6M153.5 199.8h1.6M153.5 203.3h1.6M153.5 205.3h1.6M153.5 206.3h1.6M153.5 208.3h1.6M153.5 212.8h1.6M154 177.3h1.6M154 183.8h1.6M154 185.3h1.6M154 185.8h1.6M154 186.8h1.6M154 198.3h1.6M154 199.8h1.6M154 200.3h1.6M154 200.8h1.6M154 204.3h1.6M154 206.3h1.6M154.5 175.8h1.6M154.5 178.3h1.6M154.5 178.8h1.6M154.5 179.8h1.6M154.5 180.3h1.6M154.5 180.8h1.6M154.5 182.3h1.6M154.5 186.3h1.6M154.5 189.8h1.6M154.5 194.3h1.6M154.5 194.8h1.6M154.5 196.3h1.6M154.5 197.3h1.6M154.5 198.8h1.6M154.5 200.3h1.6M154.5 200.8h1.6M154.5 202.8h1.6M154.5 208.8h1.6M155 177.3h1.6M155 178.3h1.6M155 179.3h1.6M155 181.3h1.6M155 187.8h1.6M155 189.3h1.6M155 191.8h1.6M155 193.8h1.6M155 194.3h1.6M155 195.3h1.6M155 199.8h1.6M155 202.3h1.6M155 205.8h1.6M155.5 171.8h1.6M155.5 177.8h1.6M155.5 184.3h1.6M155.5 185.3h1.6M155.5 186.3h1.6M155.5 186.8h1.6M155.5 188.3h1.6M155.5 189.8h1.6M155.5 192.3h1.6M155.5 193.3h1.6M155.5 193.8h1.6M155.5 194.3h1.6M155.5 194.8h1.6M155.5 199.3h1.6M155.5 200.3h1.6M155.5 230.3h1.6M156 184.3h1.6M156 184.8h1.6M156 186.3h1.6M156 186.8h1.6M156 188.3h1.6M156 189.8h1.6M156 191.3h1.6M156 194.8h1.6M156 197.3h1.6M156 197.8h1.6M156 199.8h1.6M156 200.8h1.6M156 203.8h1.6M156 205.3h1.6M156 206.3h1.6M156 213.8h1.6M156.5 179.8h1.6M156.5 181.3h1.6M156.5 184.3h1.6M156.5 188.8h1.6M156.5 191.3h1.6M156.5 192.3h1.6M156.5 194.8h1.6M156.5 199.3h1.6M156.5 205.8h1.6M156.5 266.3h1.6M157 173.8h1.6M157 180.3h1.6M157 181.3h1.6M157 183.3h1.6M157 185.3h1.6M157 185.8h1.6M157 187.8h1.6M157 188.8h1.6M157 191.8h1.6M157 192.8h1.6M157 195.3h1.6M157 195.8h1.6M157 196.3h1.6M157 196.8h1.6M157 197.3h1.6M157 197.8h1.6M157 205.3h1.6M157.5 171.8h1.6M157.5 173.3h1.6M157.5 175.8h1.6M157.5 176.8h1.6M157.5 178.3h1.6M157.5 178.8h1.6M157.5 181.8h1.6M157.5 185.8h1.6M157.5 186.8h1.6M157.5 188.3h1.6M157.5 192.3h1.6M157.5 192.8h1.6M157.5 194.3h1.6M157.5 194.8h1.6M157.5 195.8h1.6M157.5 197.8h1.6M157.5 198.8h1.6M157.5 205.8h1.6M157.5 222.8h1.6M158 172.8h1.6M158 177.3h1.6M158 181.8h1.6M158 182.8h1.6M158 186.8h1.6M158 187.3h1.6M158 190.3h1.6M158 190.8h1.6M158 192.3h1.6M158 192.8h1.6M158 193.3h1.6M158 193.8h1.6M158 196.8h1.6M158 197.3h1.6M158 198.8h1.6M158 202.8h1.6M158 228.3h1.6M158.5 180.3h1.6M158.5 183.8h1.6M158.5 186.3h1.6M158.5 187.3h1.6M158.5 191.3h1.6M158.5 191.8h1.6M158.5 193.8h1.6M158.5 200.3h1.6M158.5 202.8h1.6M158.5 205.8h1.6M158.5 208.8h1.6M158.5 210.3h1.6M159 175.3h1.6M159 178.3h1.6M159 182.3h1.6M159 183.3h1.6M159 183.8h1.6M159 186.3h1.6M159 187.8h1.6M159 192.3h1.6M159 193.3h1.6M159 193.8h1.6M159 199.3h1.6M159 199.8h1.6M159 208.8h1.6M159.5 171.8h1.6M159.5 177.3h1.6M159.5 179.3h1.6M159.5 179.8h1.6M159.5 180.3h1.6M159.5 187.3h1.6M159.5 189.8h1.6M159.5 193.8h1.6M159.5 194.3h1.6M159.5 196.3h1.6M159.5 196.8h1.6M159.5 198.8h1.6M159.5 204.3h1.6M159.5 210.8h1.6M159.5 213.3h1.6M159.5 229.8h1.6M160 174.3h1.6M160 179.3h1.6M160 180.3h1.6M160 180.8h1.6M160 185.8h1.6M160 186.3h1.6M160 186.8h1.6M160 191.8h1.6M160 194.8h1.6M160 196.8h1.6M160 199.8h1.6M160 200.3h1.6M160 201.3h1.6M160 204.3h1.6M160 205.8h1.6M160 206.8h1.6M160 207.3h1.6M160 212.3h1.6M160.5 173.3h1.6M160.5 176.3h1.6M160.5 178.8h1.6M160.5 181.8h1.6M160.5 183.3h1.6M160.5 183.8h1.6M160.5 184.8h1.6M160.5 185.8h1.6M160.5 187.3h1.6M160.5 199.8h1.6M160.5 200.8h1.6M160.5 202.8h1.6M160.5 203.3h1.6M161 176.8h1.6M161 177.8h1.6M161 178.8h1.6M161 181.8h1.6M161 183.3h1.6M161 184.3h1.6M161 190.8h1.6M161 191.8h1.6M161 196.8h1.6M161 201.3h1.6M161 201.8h1.6M161 206.3h1.6M161 211.3h1.6M161.5 171.8h1.6M161.5 178.3h1.6M161.5 184.8h1.6M161.5 185.3h1.6M161.5 185.8h1.6M161.5 187.3h1.6M161.5 188.3h1.6M161.5 190.3h1.6M161.5 191.8h1.6M161.5 194.3h1.6M161.5 195.3h1.6M161.5 195.8h1.6M161.5 198.3h1.6M162 184.3h1.6M162 184.8h1.6M162 185.3h1.6M162 185.8h1.6M162 187.3h1.6M162 192.8h1.6M162 196.3h1.6M162 199.3h1.6M162 200.8h1.6M162 202.8h1.6M162 205.3h1.6M162 217.8h1.6M162 228.3h1.6M162.5 175.8h1.6M162.5 177.3h1.6M162.5 179.3h1.6M162.5 181.3h1.6M162.5 183.8h1.6M162.5 188.8h1.6M162.5 190.8h1.6M162.5 192.8h1.6M162.5 196.3h1.6M162.5 200.8h1.6M162.5 202.3h1.6M162.5 204.8h1.6M162.5 205.3h1.6M162.5 208.3h1.6M162.5 213.3h1.6M162.5 221.3h1.6M162.5 224.8h1.6M163 177.3h1.6M163 184.3h1.6M163 187.3h1.6M163 187.8h1.6M163 188.8h1.6M163 191.3h1.6M163 193.8h1.6M163 195.3h1.6M163 195.8h1.6M163 197.3h1.6M163 198.3h1.6M163 200.3h1.6M163.5 175.8h1.6M163.5 176.3h1.6M163.5 177.3h1.6M163.5 179.8h1.6M163.5 181.3h1.6M163.5 182.8h1.6M163.5 187.3h1.6M163.5 188.3h1.6M163.5 190.3h1.6M163.5 194.3h1.6M163.5 195.8h1.6M163.5 202.3h1.6M163.5 204.3h1.6M163.5 208.3h1.6M164 165.8h1.6M164 179.8h1.6M164 181.8h1.6M164 182.3h1.6M164 182.8h1.6M164 185.3h1.6M164 188.8h1.6M164 189.8h1.6M164 191.3h1.6M164 192.3h1.6M164 193.3h1.6M164 193.8h1.6M164 197.8h1.6M164 198.3h1.6M164 198.8h1.6M164 202.3h1.6M164 213.3h1.6M164.5 174.3h1.6M164.5 185.8h1.6M164.5 187.3h1.6M164.5 190.3h1.6M164.5 190.8h1.6M164.5 192.8h1.6M164.5 193.3h1.6M164.5 193.8h1.6M164.5 194.8h1.6M164.5 196.8h1.6M164.5 202.3h1.6M165 175.3h1.6M165 177.3h1.6M165 178.3h1.6M165 184.3h1.6M165 188.8h1.6M165 189.3h1.6M165 191.3h1.6M165 193.8h1.6M165 196.3h1.6M165 197.3h1.6M165 197.8h1.6M165 199.8h1.6M165 200.3h1.6M165 200.8h1.6M165 201.3h1.6M165 202.3h1.6M165 205.8h1.6M165 207.3h1.6M165.5 190.8h1.6M165.5 192.3h1.6M165.5 194.8h1.6M165.5 195.3h1.6M165.5 198.3h1.6M165.5 198.8h1.6M165.5 199.8h1.6M165.5 200.3h1.6M165.5 203.3h1.6M165.5 205.3h1.6M165.5 207.8h1.6M165.5 208.8h1.6M166 170.8h1.6M166 174.3h1.6M166 178.8h1.6M166 179.8h1.6M166 183.8h1.6M166 184.3h1.6M166 186.8h1.6M166 187.3h1.6M166 190.8h1.6M166 193.3h1.6M166 197.8h1.6M166 198.3h1.6M166 200.3h1.6M166 201.8h1.6M166 202.3h1.6M166 205.8h1.6M166 207.8h1.6M166 208.3h1.6M166 224.3h1.6M166.5 175.3h1.6M166.5 179.3h1.6M166.5 180.3h1.6M166.5 180.8h1.6M166.5 188.3h1.6M166.5 191.3h1.6M166.5 191.8h1.6M166.5 193.8h1.6M166.5 194.3h1.6M166.5 194.8h1.6M166.5 196.8h1.6M166.5 200.3h1.6M166.5 201.8h1.6M166.5 204.3h1.6M166.5 204.8h1.6M167 178.8h1.6M167 185.3h1.6M167 186.3h1.6M167 189.3h1.6M167 191.8h1.6M167 199.8h1.6M167 200.3h1.6M167 206.3h1.6M167.5 177.3h1.6M167.5 179.8h1.6M167.5 181.8h1.6M167.5 183.3h1.6M167.5 183.8h1.6M167.5 185.8h1.6M167.5 190.8h1.6M167.5 193.3h1.6M167.5 193.8h1.6M167.5 194.3h1.6M167.5 195.8h1.6M167.5 197.3h1.6M167.5 198.8h1.6M167.5 199.3h1.6M167.5 200.3h1.6M167.5 200.8h1.6M167.5 202.8h1.6M167.5 205.8h1.6M167.5 206.3h1.6M167.5 207.3h1.6M168 182.3h1.6M168 188.3h1.6M168 190.3h1.6M168 194.3h1.6M168 199.8h1.6M168 200.3h1.6M168 204.3h1.6M168 206.3h1.6M168 207.3h1.6M168.5 178.3h1.6M168.5 186.3h1.6M168.5 192.8h1.6M168.5 193.8h1.6M168.5 195.8h1.6M168.5 196.3h1.6M168.5 200.3h1.6M168.5 200.8h1.6M168.5 202.3h1.6M169 178.3h1.6M169 178.8h1.6M169 179.3h1.6M169 181.8h1.6M169 182.8h1.6M169 184.3h1.6M169 185.8h1.6M169 186.3h1.6M169 187.3h1.6M169 191.8h1.6M169 206.8h1.6M169.5 177.8h1.6M169.5 184.3h1.6M169.5 186.8h1.6M169.5 191.8h1.6M169.5 198.8h1.6M169.5 199.8h1.6M169.5 200.3h1.6M169.5 201.8h1.6M170 179.3h1.6M170 180.3h1.6M170 181.3h1.6M170 182.8h1.6M170 184.3h1.6M170 185.8h1.6M170 188.8h1.6M170 189.3h1.6M170 190.3h1.6M170 191.8h1.6M170 194.3h1.6M170 194.8h1.6M170 197.8h1.6M170 200.3h1.6M170 203.3h1.6M170 204.3h1.6M170 228.8h1.6M170.5 179.8h1.6M170.5 183.3h1.6M170.5 184.8h1.6M170.5 187.3h1.6M170.5 189.3h1.6M170.5 191.8h1.6M170.5 195.3h1.6M170.5 207.3h1.6M171 178.8h1.6M171 180.3h1.6M171 181.3h1.6M171 181.8h1.6M171 182.8h1.6M171 185.8h1.6M171 188.3h1.6M171 189.8h1.6M171 190.8h1.6M171 191.8h1.6M171 192.3h1.6M171 193.3h1.6M171 193.8h1.6M171 195.3h1.6M171 196.8h1.6M171 199.8h1.6M171 200.8h1.6M171 218.3h1.6M171.5 178.3h1.6M171.5 183.8h1.6M171.5 184.8h1.6M171.5 186.3h1.6M171.5 187.8h1.6M171.5 190.3h1.6M171.5 191.8h1.6M171.5 192.3h1.6M171.5 193.3h1.6M171.5 194.8h1.6M171.5 202.3h1.6M172 182.3h1.6M172 188.3h1.6M172 199.3h1.6M172 206.8h1.6M172.5 183.3h1.6M172.5 188.8h1.6M172.5 191.3h1.6M172.5 194.8h1.6M172.5 205.3h1.6M172.5 206.3h1.6M173 187.8h1.6M173 189.3h1.6M173 189.8h1.6M173 190.8h1.6M173 196.3h1.6M173 204.8h1.6M173 205.3h1.6M173.5 187.8h1.6M173.5 188.8h1.6M173.5 190.8h1.6M173.5 191.8h1.6M173.5 198.3h1.6M173.5 198.8h1.6M173.5 199.3h1.6M173.5 201.3h1.6M174 184.3h1.6M174 190.8h1.6M174 191.3h1.6M174 193.3h1.6M174 196.3h1.6M174 198.3h1.6M174 203.3h1.6M174.5 180.8h1.6M174.5 182.8h1.6M174.5 185.8h1.6M174.5 187.8h1.6M174.5 188.8h1.6M174.5 190.8h1.6M174.5 200.3h1.6M174.5 201.8h1.6M174.5 202.8h1.6M174.5 219.3h1.6M174.5 253.8h1.6M175 187.8h1.6M175 189.8h1.6M175 190.3h1.6M175 191.3h1.6M175 194.3h1.6M175 194.8h1.6M175 205.8h1.6M175.5 175.8h1.6M175.5 181.8h1.6M175.5 184.3h1.6M175.5 184.8h1.6M175.5 185.3h1.6M175.5 187.3h1.6M175.5 187.8h1.6M175.5 195.8h1.6M175.5 196.8h1.6M175.5 197.8h1.6M175.5 202.8h1.6M175.5 203.3h1.6M176 172.3h1.6M176 180.8h1.6M176 181.8h1.6M176 187.8h1.6M176 188.3h1.6M176 188.8h1.6M176 196.8h1.6M176 200.8h1.6M176 201.8h1.6M176.5 186.3h1.6M176.5 189.8h1.6M176.5 190.8h1.6M176.5 191.3h1.6M176.5 192.3h1.6M176.5 194.3h1.6M176.5 194.8h1.6M176.5 195.8h1.6M176.5 196.8h1.6M176.5 198.3h1.6M176.5 198.8h1.6M177 186.8h1.6M177 189.8h1.6M177 197.3h1.6M177 208.8h1.6M177 222.8h1.6M177.5 184.8h1.6M177.5 185.3h1.6M177.5 187.3h1.6M177.5 187.8h1.6M177.5 189.3h1.6M177.5 190.8h1.6M177.5 193.3h1.6M177.5 193.8h1.6M177.5 205.8h1.6M178 180.8h1.6M178 191.8h1.6M178 194.8h1.6M178 197.3h1.6M178 198.8h1.6M178.5 182.8h1.6M178.5 196.8h1.6M178.5 197.3h1.6M178.5 199.3h1.6M178.5 199.8h1.6M179 180.3h1.6M179 186.8h1.6M179 187.3h1.6M179 187.8h1.6M179 190.8h1.6M179 196.3h1.6M179 200.3h1.6M179 209.3h1.6M179 246.3h1.6M179.5 186.3h1.6M179.5 187.8h1.6M179.5 192.8h1.6M179.5 193.3h1.6M179.5 194.3h1.6M179.5 198.3h1.6M180 181.3h1.6M180 185.8h1.6M180 187.8h1.6M180 192.3h1.6M180 195.8h1.6M180 199.3h1.6M180 225.8h1.6M180.5 189.8h1.6M180.5 191.3h1.6M181 177.8h1.6M181 181.3h1.6M181 184.8h1.6M181.5 177.8h1.6M181.5 188.3h1.6M181.5 189.3h1.6M181.5 192.3h1.6M181.5 198.3h1.6M182 189.8h1.6M182.5 190.3h1.6M182.5 198.8h1.6M182.5 217.3h1.6M182.5 218.8h1.6M183 183.3h1.6M183 187.8h1.6M183.5 190.8h1.6M184 182.3h1.6M184 185.3h1.6M184.5 198.8h1.6M185 181.8h1.6M185 194.3h1.6M185.5 223.8h1.6M186 180.3h1.6M186 210.8h1.6M186.5 200.8h1.6M187 190.3h1.6M187.5 191.3h1.6M188 176.3h1.6M188 188.8h1.6M188 190.3h1.6M188.5 174.8h1.6M188.5 185.3h1.6M188.5 188.3h1.6M189 191.3h1.6M189.5 183.8h1.6M189.5 236.8h1.6M190 179.8h1.6M190 182.3h1.6M190 190.3h1.6M190.5 186.8h1.6M191.5 169.8h1.6M191.5 180.8h1.6M191.5 205.3h1.6M192 181.8h1.6M192 185.8h1.6M192 195.8h1.6M193.5 176.3h1.6M193.5 184.3h1.6M193.5 185.3h1.6M194 184.3h1.6M194.5 186.8h1.6M195 184.8h1.6M195 193.3h1.6M196.5 189.3h1.6M197 198.3h1.6M197.5 183.8h1.6M199.5 191.8h1.6M200 200.3h1.6M201.5 199.8h1.6M202.5 180.8h1.6M210 198.8h1.6M214 199.3h1.6" stroke="#0a0a0a" stroke-width="1.6" fill="none"/><path d="M321 72.8h1.6M321 113.3h1.6M321 132.8h1.6M321 133.8h1.6M321 136.3h1.6M321 137.8h1.6M321 138.3h1.6M321 142.8h1.6M321 146.8h1.6M321 147.3h1.6M321 148.8h1.6M321 150.8h1.6M321 153.3h1.6M321 154.8h1.6M321 158.3h1.6M321 160.8h1.6M321 161.3h1.6M321 163.3h1.6M321.5 71.8h1.6M321.5 134.3h1.6M321.5 137.8h1.6M321.5 138.3h1.6M321.5 139.8h1.6M321.5 143.3h1.6M321.5 145.3h1.6M321.5 146.3h1.6M321.5 147.3h1.6M321.5 151.8h1.6M321.5 152.3h1.6M321.5 156.3h1.6M321.5 158.3h1.6M321.5 158.8h1.6M321.5 159.8h1.6M321.5 160.3h1.6M321.5 161.3h1.6M321.5 161.8h1.6M321.5 162.8h1.6M321.5 163.3h1.6M321.5 167.3h1.6M322 126.3h1.6M322 133.3h1.6M322 134.8h1.6M322 136.8h1.6M322 137.8h1.6M322 139.8h1.6M322 140.8h1.6M322 141.8h1.6M322 142.3h1.6M322 142.8h1.6M322 144.8h1.6M322 146.8h1.6M322 149.3h1.6M322 149.8h1.6M322 150.3h1.6M322 150.8h1.6M322 151.8h1.6M322 152.3h1.6M322 152.8h1.6M322 153.3h1.6M322 155.8h1.6M322 156.8h1.6M322 157.3h1.6M322 157.8h1.6M322 158.3h1.6M322 158.8h1.6M322 159.3h1.6M322 165.3h1.6M322 165.8h1.6M322 168.3h1.6M322.5 131.8h1.6M322.5 138.3h1.6M322.5 139.8h1.6M322.5 141.3h1.6M322.5 141.8h1.6M322.5 143.3h1.6M322.5 143.8h1.6M322.5 145.3h1.6M322.5 145.8h1.6M322.5 147.8h1.6M322.5 148.3h1.6M322.5 148.8h1.6M322.5 150.3h1.6M322.5 152.3h1.6M322.5 154.8h1.6M322.5 155.3h1.6M322.5 157.3h1.6M322.5 157.8h1.6M322.5 159.8h1.6M322.5 160.8h1.6M322.5 161.8h1.6M322.5 162.3h1.6M322.5 165.3h1.6M322.5 166.3h1.6M322.5 166.8h1.6M323 136.3h1.6M323 139.8h1.6M323 140.3h1.6M323 140.8h1.6M323 141.3h1.6M323 141.8h1.6M323 142.3h1.6M323 143.8h1.6M323 145.3h1.6M323 147.3h1.6M323 148.3h1.6M323 149.8h1.6M323 150.8h1.6M323 151.8h1.6M323 152.3h1.6M323 153.8h1.6M323 155.3h1.6M323 155.8h1.6M323 156.3h1.6M323 157.8h1.6M323 158.8h1.6M323 159.3h1.6M323 159.8h1.6M323 160.3h1.6M323 161.3h1.6M323 162.8h1.6M323 163.8h1.6M323 164.3h1.6M323 165.3h1.6M323 165.8h1.6M323 168.8h1.6M323.5 79.8h1.6M323.5 111.8h1.6M323.5 117.3h1.6M323.5 127.8h1.6M323.5 132.8h1.6M323.5 135.3h1.6M323.5 137.8h1.6M323.5 138.3h1.6M323.5 139.3h1.6M323.5 139.8h1.6M323.5 140.3h1.6M323.5 141.3h1.6M323.5 141.8h1.6M323.5 143.8h1.6M323.5 144.8h1.6M323.5 145.8h1.6M323.5 149.8h1.6M323.5 150.3h1.6M323.5 150.8h1.6M323.5 151.3h1.6M323.5 153.3h1.6M323.5 153.8h1.6M323.5 154.8h1.6M323.5 155.3h1.6M323.5 156.8h1.6M323.5 157.8h1.6M323.5 161.3h1.6M323.5 161.8h1.6M323.5 162.3h1.6M323.5 162.8h1.6M323.5 163.3h1.6M323.5 167.8h1.6M324 72.8h1.6M324 129.3h1.6M324 132.8h1.6M324 137.3h1.6M324 138.3h1.6M324 138.8h1.6M324 139.8h1.6M324 142.3h1.6M324 143.8h1.6M324 145.8h1.6M324 146.3h1.6M324 149.8h1.6M324 150.8h1.6M324 151.3h1.6M324 152.8h1.6M324 153.3h1.6M324 153.8h1.6M324 154.3h1.6M324 154.8h1.6M324 155.3h1.6M324 155.8h1.6M324 156.3h1.6M324 157.8h1.6M324 159.3h1.6M324 159.8h1.6M324 160.3h1.6M324 161.3h1.6M324 162.8h1.6M324 163.3h1.6M324 163.8h1.6M324 164.3h1.6M324 165.3h1.6M324 165.8h1.6M324 166.3h1.6M324 166.8h1.6M324 167.8h1.6M324.5 132.8h1.6M324.5 133.8h1.6M324.5 135.8h1.6M324.5 137.3h1.6M324.5 137.8h1.6M324.5 138.8h1.6M324.5 140.3h1.6M324.5 140.8h1.6M324.5 141.3h1.6M324.5 141.8h1.6M324.5 142.8h1.6M324.5 144.3h1.6M324.5 144.8h1.6M324.5 147.3h1.6M324.5 148.3h1.6M324.5 148.8h1.6M324.5 150.3h1.6M324.5 150.8h1.6M324.5 151.3h1.6M324.5 152.8h1.6M324.5 153.3h1.6M324.5 153.8h1.6M324.5 155.8h1.6M324.5 156.3h1.6M324.5 156.8h1.6M324.5 157.3h1.6M324.5 159.3h1.6M324.5 160.3h1.6M324.5 162.3h1.6M324.5 164.3h1.6M324.5 165.8h1.6M324.5 167.3h1.6M324.5 167.8h1.6M324.5 168.3h1.6M324.5 169.3h1.6M325 75.3h1.6M325 131.8h1.6M325 132.3h1.6M325 133.3h1.6M325 135.8h1.6M325 136.3h1.6M325 137.3h1.6M325 138.3h1.6M325 139.3h1.6M325 139.8h1.6M325 141.8h1.6M325 142.3h1.6M325 143.3h1.6M325 143.8h1.6M325 144.8h1.6M325 145.3h1.6M325 148.8h1.6M325 150.3h1.6M325 150.8h1.6M325 152.3h1.6M325 152.8h1.6M325 153.8h1.6M325 154.3h1.6M325 155.8h1.6M325 157.8h1.6M325 158.3h1.6M325 158.8h1.6M325 159.3h1.6M325 159.8h1.6M325 161.3h1.6M325 163.3h1.6M325 163.8h1.6M325 164.3h1.6M325 165.3h1.6M325 168.3h1.6M325.5 66.3h1.6M325.5 66.8h1.6M325.5 67.8h1.6M325.5 77.8h1.6M325.5 133.8h1.6M325.5 136.3h1.6M325.5 137.3h1.6M325.5 137.8h1.6M325.5 139.3h1.6M325.5 140.3h1.6M325.5 140.8h1.6M325.5 141.3h1.6M325.5 142.8h1.6M325.5 144.3h1.6M325.5 144.8h1.6M325.5 146.3h1.6M325.5 147.3h1.6M325.5 147.8h1.6M325.5 148.3h1.6M325.5 148.8h1.6M325.5 149.3h1.6M325.5 150.3h1.6M325.5 150.8h1.6M325.5 151.3h1.6M325.5 152.3h1.6M325.5 154.8h1.6M325.5 155.8h1.6M325.5 157.3h1.6M325.5 160.8h1.6M325.5 161.3h1.6M325.5 162.3h1.6M325.5 162.8h1.6M325.5 163.3h1.6M325.5 163.8h1.6M325.5 164.8h1.6M325.5 167.8h1.6M325.5 168.8h1.6M326 64.3h1.6M326 116.3h1.6M326 122.8h1.6M326 129.8h1.6M326 131.3h1.6M326 133.3h1.6M326 133.8h1.6M326 134.8h1.6M326 135.8h1.6M326 136.3h1.6M326 136.8h1.6M326 137.3h1.6M326 137.8h1.6M326 138.3h1.6M326 138.8h1.6M326 140.3h1.6M326 141.3h1.6M326 142.3h1.6M326 142.8h1.6M326 143.3h1.6M326 143.8h1.6M326 144.3h1.6M326 144.8h1.6M326 145.3h1.6M326 145.8h1.6M326 147.8h1.6M326 148.8h1.6M326 152.3h1.6M326 152.8h1.6M326 155.8h1.6M326 156.8h1.6M326 158.3h1.6M326 159.3h1.6M326 160.8h1.6M326 162.3h1.6M326 166.8h1.6M326 168.3h1.6M326 169.3h1.6M326.5 75.8h1.6M326.5 128.3h1.6M326.5 131.3h1.6M326.5 132.3h1.6M326.5 133.3h1.6M326.5 134.3h1.6M326.5 136.3h1.6M326.5 139.8h1.6M326.5 140.3h1.6M326.5 141.3h1.6M326.5 141.8h1.6M326.5 142.3h1.6M326.5 142.8h1.6M326.5 143.3h1.6M326.5 143.8h1.6M326.5 144.3h1.6M326.5 145.3h1.6M326.5 147.8h1.6M326.5 149.3h1.6M326.5 149.8h1.6M326.5 150.8h1.6M326.5 151.8h1.6M326.5 152.3h1.6M326.5 153.3h1.6M326.5 153.8h1.6M326.5 154.8h1.6M326.5 156.3h1.6M326.5 156.8h1.6M326.5 157.8h1.6M326.5 158.3h1.6M326.5 158.8h1.6M326.5 160.8h1.6M326.5 162.3h1.6M326.5 162.8h1.6M326.5 163.3h1.6M326.5 165.3h1.6M326.5 165.8h1.6M326.5 166.3h1.6M326.5 166.8h1.6M327 135.3h1.6M327 135.8h1.6M327 136.8h1.6M327 137.3h1.6M327 137.8h1.6M327 139.3h1.6M327 142.8h1.6M327 143.3h1.6M327 143.8h1.6M327 145.3h1.6M327 146.3h1.6M327 147.3h1.6M327 149.3h1.6M327 150.8h1.6M327 153.8h1.6M327 154.3h1.6M327 154.8h1.6M327 156.3h1.6M327 157.3h1.6M327 158.3h1.6M327 158.8h1.6M327 159.8h1.6M327 160.3h1.6M327 160.8h1.6M327 161.3h1.6M327 161.8h1.6M327 163.3h1.6M327 163.8h1.6M327 164.3h1.6M327 164.8h1.6M327 165.3h1.6M327 165.8h1.6M327 167.8h1.6M327.5 63.3h1.6M327.5 73.3h1.6M327.5 125.3h1.6M327.5 133.3h1.6M327.5 134.8h1.6M327.5 135.3h1.6M327.5 135.8h1.6M327.5 138.3h1.6M327.5 139.3h1.6M327.5 141.3h1.6M327.5 143.3h1.6M327.5 144.8h1.6M327.5 145.8h1.6M327.5 146.8h1.6M327.5 147.3h1.6M327.5 148.3h1.6M327.5 148.8h1.6M327.5 149.8h1.6M327.5 150.8h1.6M327.5 152.3h1.6M327.5 152.8h1.6M327.5 154.3h1.6M327.5 155.3h1.6M327.5 156.3h1.6M327.5 157.3h1.6M327.5 157.8h1.6M327.5 158.8h1.6M327.5 159.8h1.6M327.5 160.3h1.6M327.5 160.8h1.6M327.5 161.8h1.6M327.5 162.3h1.6M327.5 164.3h1.6M327.5 167.3h1.6M327.5 168.3h1.6M328 68.8h1.6M328 74.8h1.6M328 97.8h1.6M328 114.3h1.6M328 122.3h1.6M328 124.8h1.6M328 131.3h1.6M328 132.8h1.6M328 134.3h1.6M328 137.8h1.6M328 138.3h1.6M328 138.8h1.6M328 141.3h1.6M328 144.3h1.6M328 144.8h1.6M328 148.8h1.6M328 149.8h1.6M328 150.8h1.6M328 151.3h1.6M328 153.3h1.6M328 154.3h1.6M328 155.3h1.6M328 155.8h1.6M328 156.8h1.6M328 157.3h1.6M328 160.3h1.6M328 160.8h1.6M328 161.3h1.6M328 161.8h1.6M328 163.3h1.6M328 165.3h1.6M328 165.8h1.6M328 168.8h1.6M328 169.3h1.6M328.5 100.3h1.6M328.5 128.8h1.6M328.5 131.3h1.6M328.5 133.3h1.6M328.5 133.8h1.6M328.5 134.3h1.6M328.5 134.8h1.6M328.5 137.3h1.6M328.5 137.8h1.6M328.5 138.8h1.6M328.5 139.3h1.6M328.5 139.8h1.6M328.5 140.8h1.6M328.5 142.8h1.6M328.5 143.8h1.6M328.5 144.8h1.6M328.5 145.8h1.6M328.5 146.3h1.6M328.5 147.3h1.6M328.5 148.8h1.6M328.5 149.8h1.6M328.5 152.3h1.6M328.5 152.8h1.6M328.5 153.3h1.6M328.5 154.8h1.6M328.5 155.3h1.6M328.5 156.8h1.6M328.5 157.3h1.6M328.5 158.3h1.6M328.5 159.8h1.6M328.5 160.3h1.6M328.5 160.8h1.6M328.5 161.3h1.6M328.5 163.3h1.6M328.5 163.8h1.6M328.5 164.3h1.6M328.5 165.8h1.6M328.5 166.3h1.6M328.5 167.3h1.6M328.5 167.8h1.6M328.5 168.3h1.6M328.5 168.8h1.6M329 76.3h1.6M329 82.8h1.6M329 129.3h1.6M329 130.8h1.6M329 135.3h1.6M329 136.3h1.6M329 136.8h1.6M329 138.3h1.6M329 139.8h1.6M329 140.8h1.6M329 141.3h1.6M329 141.8h1.6M329 142.3h1.6M329 142.8h1.6M329 143.8h1.6M329 144.3h1.6M329 145.8h1.6M329 146.3h1.6M329 147.8h1.6M329 149.8h1.6M329 150.3h1.6M329 151.3h1.6M329 152.3h1.6M329 153.3h1.6M329 153.8h1.6M329 155.8h1.6M329 156.3h1.6M329 156.8h1.6M329 157.3h1.6M329 158.3h1.6M329 159.3h1.6M329 159.8h1.6M329 162.3h1.6M329 162.8h1.6M329 163.3h1.6M329 164.3h1.6M329 164.8h1.6M329 165.8h1.6M329 166.3h1.6M329 167.3h1.6M329.5 70.3h1.6M329.5 106.8h1.6M329.5 125.3h1.6M329.5 129.8h1.6M329.5 133.8h1.6M329.5 134.3h1.6M329.5 135.3h1.6M329.5 135.8h1.6M329.5 136.3h1.6M329.5 137.3h1.6M329.5 138.3h1.6M329.5 139.8h1.6M329.5 140.3h1.6M329.5 141.3h1.6M329.5 141.8h1.6M329.5 142.8h1.6M329.5 143.3h1.6M329.5 143.8h1.6M329.5 145.3h1.6M329.5 146.8h1.6M329.5 147.3h1.6M329.5 147.8h1.6M329.5 149.3h1.6M329.5 150.8h1.6M329.5 151.8h1.6M329.5 152.3h1.6M329.5 154.3h1.6M329.5 155.3h1.6M329.5 155.8h1.6M329.5 157.8h1.6M329.5 158.3h1.6M329.5 160.8h1.6M329.5 161.8h1.6M329.5 162.3h1.6M329.5 162.8h1.6M329.5 163.8h1.6M329.5 164.8h1.6M329.5 166.3h1.6M329.5 167.3h1.6M330 73.8h1.6M330 74.8h1.6M330 120.3h1.6M330 129.3h1.6M330 130.8h1.6M330 131.8h1.6M330 133.8h1.6M330 135.3h1.6M330 136.3h1.6M330 136.8h1.6M330 137.3h1.6M330 139.8h1.6M330 141.8h1.6M330 143.8h1.6M330 144.3h1.6M330 145.8h1.6M330 146.3h1.6M330 148.3h1.6M330 149.3h1.6M330 150.8h1.6M330 153.3h1.6M330 153.8h1.6M330 154.3h1.6M330 155.3h1.6M330 156.8h1.6M330 157.8h1.6M330 160.3h1.6M330 161.8h1.6M330 162.8h1.6M330 165.3h1.6M330 166.3h1.6M330 167.3h1.6M330.5 62.8h1.6M330.5 91.8h1.6M330.5 103.3h1.6M330.5 121.8h1.6M330.5 132.3h1.6M330.5 132.8h1.6M330.5 134.8h1.6M330.5 136.3h1.6M330.5 137.8h1.6M330.5 139.3h1.6M330.5 140.3h1.6M330.5 140.8h1.6M330.5 141.8h1.6M330.5 142.8h1.6M330.5 143.3h1.6M330.5 143.8h1.6M330.5 145.3h1.6M330.5 146.3h1.6M330.5 147.3h1.6M330.5 148.3h1.6M330.5 148.8h1.6M330.5 149.3h1.6M330.5 150.3h1.6M330.5 150.8h1.6M330.5 152.3h1.6M330.5 155.3h1.6M330.5 156.3h1.6M330.5 157.3h1.6M330.5 158.8h1.6M330.5 159.8h1.6M330.5 160.8h1.6M330.5 161.3h1.6M330.5 162.8h1.6M330.5 163.8h1.6M330.5 164.3h1.6M330.5 165.3h1.6M330.5 165.8h1.6M330.5 168.8h1.6M330.5 169.3h1.6M331 64.8h1.6M331 70.8h1.6M331 74.3h1.6M331 75.8h1.6M331 97.3h1.6M331 126.8h1.6M331 131.3h1.6M331 132.3h1.6M331 133.8h1.6M331 134.3h1.6M331 134.8h1.6M331 135.3h1.6M331 135.8h1.6M331 136.8h1.6M331 137.3h1.6M331 137.8h1.6M331 138.3h1.6M331 138.8h1.6M331 140.8h1.6M331 141.3h1.6M331 141.8h1.6M331 142.3h1.6M331 142.8h1.6M331 144.3h1.6M331 145.3h1.6M331 146.8h1.6M331 148.3h1.6M331 150.3h1.6M331 151.8h1.6M331 152.8h1.6M331 153.3h1.6M331 153.8h1.6M331 154.3h1.6M331 156.8h1.6M331 158.3h1.6M331 161.3h1.6M331 162.3h1.6M331 164.3h1.6M331 167.8h1.6M331 168.3h1.6M331 168.8h1.6M331 169.3h1.6M331.5 59.8h1.6M331.5 65.3h1.6M331.5 74.8h1.6M331.5 75.8h1.6M331.5 78.3h1.6M331.5 81.8h1.6M331.5 101.8h1.6M331.5 102.3h1.6M331.5 128.8h1.6M331.5 129.3h1.6M331.5 131.8h1.6M331.5 132.8h1.6M331.5 133.3h1.6M331.5 134.8h1.6M331.5 136.3h1.6M331.5 136.8h1.6M331.5 138.3h1.6M331.5 138.8h1.6M331.5 139.3h1.6M331.5 143.3h1.6M331.5 144.3h1.6M331.5 144.8h1.6M331.5 145.3h1.6M331.5 145.8h1.6M331.5 146.8h1.6M331.5 147.3h1.6M331.5 148.8h1.6M331.5 150.3h1.6M331.5 151.8h1.6M331.5 152.3h1.6M331.5 155.3h1.6M331.5 157.3h1.6M331.5 159.3h1.6M331.5 160.8h1.6M331.5 161.8h1.6M331.5 162.3h1.6M331.5 163.3h1.6M331.5 163.8h1.6M331.5 164.3h1.6M331.5 164.8h1.6M331.5 165.8h1.6M332 76.8h1.6M332 109.8h1.6M332 128.8h1.6M332 129.3h1.6M332 129.8h1.6M332 133.8h1.6M332 134.8h1.6M332 136.3h1.6M332 136.8h1.6M332 137.8h1.6M332 138.3h1.6M332 139.3h1.6M332 139.8h1.6M332 142.3h1.6M332 143.8h1.6M332 144.3h1.6M332 144.8h1.6M332 145.3h1.6M332 145.8h1.6M332 146.8h1.6M332 147.8h1.6M332 148.3h1.6M332 149.3h1.6M332 149.8h1.6M332 150.3h1.6M332 151.8h1.6M332 152.3h1.6M332 153.3h1.6M332 154.3h1.6M332 155.8h1.6M332 156.3h1.6M332 157.3h1.6M332 157.8h1.6M332 158.8h1.6M332 159.3h1.6M332 160.3h1.6M332 160.8h1.6M332 161.3h1.6M332 162.3h1.6M332 163.3h1.6M332 164.3h1.6M332 166.8h1.6M332 167.8h1.6M332 168.3h1.6M332 169.3h1.6M332.5 130.3h1.6M332.5 132.3h1.6M332.5 133.3h1.6M332.5 133.8h1.6M332.5 134.3h1.6M332.5 137.3h1.6M332.5 137.8h1.6M332.5 138.3h1.6M332.5 138.8h1.6M332.5 139.8h1.6M332.5 140.8h1.6M332.5 141.3h1.6M332.5 141.8h1.6M332.5 143.8h1.6M332.5 144.3h1.6M332.5 145.3h1.6M332.5 145.8h1.6M332.5 146.3h1.6M332.5 146.8h1.6M332.5 147.3h1.6M332.5 148.3h1.6M332.5 148.8h1.6M332.5 149.8h1.6M332.5 150.8h1.6M332.5 151.3h1.6M332.5 152.8h1.6M332.5 153.8h1.6M332.5 156.3h1.6M332.5 156.8h1.6M332.5 157.3h1.6M332.5 159.3h1.6M332.5 161.3h1.6M332.5 163.8h1.6M332.5 164.8h1.6M332.5 165.3h1.6M332.5 165.8h1.6M332.5 166.8h1.6M332.5 168.3h1.6M333 72.8h1.6M333 74.3h1.6M333 75.3h1.6M333 75.8h1.6M333 112.3h1.6M333 128.3h1.6M333 135.3h1.6M333 135.8h1.6M333 136.3h1.6M333 136.8h1.6M333 137.3h1.6M333 137.8h1.6M333 138.3h1.6M333 138.8h1.6M333 143.3h1.6M333 143.8h1.6M333 144.3h1.6M333 144.8h1.6M333 146.8h1.6M333 150.8h1.6M333 152.8h1.6M333 153.3h1.6M333 155.3h1.6M333 155.8h1.6M333 156.8h1.6M333 157.3h1.6M333 157.8h1.6M333 159.3h1.6M333 160.3h1.6M333 162.3h1.6M333 164.3h1.6M333 164.8h1.6M333 165.3h1.6M333 166.8h1.6M333 168.8h1.6M333 169.3h1.6M333.5 70.3h1.6M333.5 88.3h1.6M333.5 110.8h1.6M333.5 131.3h1.6M333.5 132.8h1.6M333.5 133.8h1.6M333.5 134.3h1.6M333.5 135.8h1.6M333.5 136.8h1.6M333.5 137.8h1.6M333.5 138.3h1.6M333.5 138.8h1.6M333.5 140.3h1.6M333.5 141.3h1.6M333.5 142.3h1.6M333.5 144.3h1.6M333.5 144.8h1.6M333.5 146.3h1.6M333.5 146.8h1.6M333.5 148.8h1.6M333.5 149.8h1.6M333.5 150.3h1.6M333.5 150.8h1.6M333.5 152.3h1.6M333.5 153.3h1.6M333.5 154.8h1.6M333.5 155.3h1.6M333.5 156.3h1.6M333.5 156.8h1.6M333.5 157.8h1.6M333.5 158.3h1.6M333.5 159.3h1.6M333.5 159.8h1.6M333.5 161.8h1.6M333.5 163.3h1.6M333.5 164.3h1.6M333.5 165.8h1.6M333.5 166.3h1.6M333.5 166.8h1.6M333.5 168.3h1.6M333.5 168.8h1.6M334 70.8h1.6M334 92.8h1.6M334 96.3h1.6M334 129.3h1.6M334 130.3h1.6M334 131.3h1.6M334 133.8h1.6M334 134.3h1.6M334 134.8h1.6M334 135.8h1.6M334 136.3h1.6M334 136.8h1.6M334 137.3h1.6M334 137.8h1.6M334 139.3h1.6M334 140.3h1.6M334 140.8h1.6M334 141.8h1.6M334 142.8h1.6M334 144.8h1.6M334 145.3h1.6M334 145.8h1.6M334 146.3h1.6M334 146.8h1.6M334 148.3h1.6M334 149.3h1.6M334 150.8h1.6M334 152.3h1.6M334 153.3h1.6M334 153.8h1.6M334 156.3h1.6M334 157.3h1.6M334 157.8h1.6M334 158.8h1.6M334 160.3h1.6M334 161.3h1.6M334 161.8h1.6M334 162.8h1.6M334 163.8h1.6M334 165.8h1.6M334 167.8h1.6M334 168.3h1.6M334.5 71.3h1.6M334.5 79.3h1.6M334.5 98.3h1.6M334.5 104.8h1.6M334.5 105.3h1.6M334.5 108.3h1.6M334.5 108.8h1.6M334.5 128.8h1.6M334.5 129.3h1.6M334.5 130.8h1.6M334.5 132.8h1.6M334.5 133.8h1.6M334.5 134.3h1.6M334.5 134.8h1.6M334.5 135.8h1.6M334.5 136.3h1.6M334.5 136.8h1.6M334.5 137.8h1.6M334.5 138.3h1.6M334.5 138.8h1.6M334.5 140.8h1.6M334.5 142.3h1.6M334.5 144.3h1.6M334.5 145.3h1.6M334.5 145.8h1.6M334.5 146.3h1.6M334.5 147.3h1.6M334.5 147.8h1.6M334.5 148.3h1.6M334.5 150.3h1.6M334.5 150.8h1.6M334.5 152.3h1.6M334.5 153.3h1.6M334.5 153.8h1.6M334.5 154.8h1.6M334.5 155.8h1.6M334.5 156.8h1.6M334.5 157.3h1.6M334.5 160.8h1.6M334.5 162.8h1.6M334.5 163.3h1.6M334.5 163.8h1.6M334.5 165.3h1.6M334.5 167.3h1.6M334.5 167.8h1.6M335 74.3h1.6M335 75.3h1.6M335 85.8h1.6M335 106.8h1.6M335 125.3h1.6M335 130.8h1.6M335 131.8h1.6M335 132.3h1.6M335 136.3h1.6M335 136.8h1.6M335 138.3h1.6M335 138.8h1.6M335 139.8h1.6M335 140.3h1.6M335 140.8h1.6M335 141.8h1.6M335 143.8h1.6M335 144.3h1.6M335 144.8h1.6M335 145.8h1.6M335 146.3h1.6M335 148.8h1.6M335 149.3h1.6M335 149.8h1.6M335 150.3h1.6M335 151.3h1.6M335 151.8h1.6M335 152.3h1.6M335 152.8h1.6M335 154.3h1.6M335 154.8h1.6M335 155.3h1.6M335 156.3h1.6M335 156.8h1.6M335 157.3h1.6M335 157.8h1.6M335 159.8h1.6M335 161.3h1.6M335 161.8h1.6M335 162.3h1.6M335 162.8h1.6M335 164.3h1.6M335 166.8h1.6M335 167.3h1.6M335.5 69.8h1.6M335.5 72.3h1.6M335.5 100.3h1.6M335.5 103.8h1.6M335.5 120.3h1.6M335.5 131.8h1.6M335.5 133.3h1.6M335.5 134.8h1.6M335.5 135.8h1.6M335.5 137.8h1.6M335.5 138.8h1.6M335.5 139.8h1.6M335.5 141.3h1.6M335.5 141.8h1.6M335.5 143.3h1.6M335.5 144.8h1.6M335.5 145.3h1.6M335.5 145.8h1.6M335.5 146.8h1.6M335.5 147.3h1.6M335.5 147.8h1.6M335.5 148.3h1.6M335.5 148.8h1.6M335.5 151.3h1.6M335.5 153.3h1.6M335.5 153.8h1.6M335.5 154.3h1.6M335.5 155.3h1.6M335.5 155.8h1.6M335.5 157.3h1.6M335.5 157.8h1.6M335.5 158.3h1.6M335.5 160.3h1.6M335.5 162.8h1.6M335.5 163.3h1.6M335.5 164.8h1.6M335.5 165.8h1.6M335.5 166.3h1.6M335.5 167.3h1.6M335.5 167.8h1.6M335.5 168.3h1.6M335.5 169.3h1.6M336 80.8h1.6M336 94.3h1.6M336 99.8h1.6M336 106.3h1.6M336 109.3h1.6M336 113.3h1.6M336 128.3h1.6M336 129.8h1.6M336 136.3h1.6M336 136.8h1.6M336 138.3h1.6M336 144.3h1.6M336 144.8h1.6M336 145.3h1.6M336 146.3h1.6M336 147.8h1.6M336 148.3h1.6M336 148.8h1.6M336 149.3h1.6M336 149.8h1.6M336 150.3h1.6M336 150.8h1.6M336 151.3h1.6M336 152.3h1.6M336 153.3h1.6M336 153.8h1.6M336 154.3h1.6M336 157.3h1.6M336 157.8h1.6M336 158.3h1.6M336 159.3h1.6M336 161.8h1.6M336 162.3h1.6M336 165.3h1.6M336 166.3h1.6M336 167.3h1.6M336.5 69.3h1.6M336.5 71.8h1.6M336.5 73.3h1.6M336.5 75.8h1.6M336.5 82.8h1.6M336.5 92.3h1.6M336.5 97.3h1.6M336.5 102.3h1.6M336.5 102.8h1.6M336.5 115.3h1.6M336.5 119.8h1.6M336.5 121.3h1.6M336.5 126.8h1.6M336.5 134.3h1.6M336.5 136.3h1.6M336.5 137.8h1.6M336.5 138.3h1.6M336.5 138.8h1.6M336.5 139.3h1.6M336.5 140.8h1.6M336.5 145.3h1.6M336.5 146.8h1.6M336.5 147.8h1.6M336.5 148.8h1.6M336.5 149.3h1.6M336.5 150.3h1.6M336.5 152.3h1.6M336.5 152.8h1.6M336.5 153.3h1.6M336.5 153.8h1.6M336.5 156.8h1.6M336.5 157.3h1.6M336.5 157.8h1.6M336.5 158.3h1.6M336.5 158.8h1.6M336.5 160.8h1.6M336.5 161.3h1.6M336.5 162.8h1.6M336.5 163.3h1.6M336.5 163.8h1.6M336.5 164.3h1.6M336.5 165.8h1.6M336.5 167.3h1.6M337 68.3h1.6M337 74.3h1.6M337 90.3h1.6M337 101.3h1.6M337 104.3h1.6M337 127.3h1.6M337 133.8h1.6M337 134.3h1.6M337 135.8h1.6M337 136.8h1.6M337 137.3h1.6M337 139.3h1.6M337 139.8h1.6M337 140.8h1.6M337 141.3h1.6M337 142.3h1.6M337 143.3h1.6M337 143.8h1.6M337 145.3h1.6M337 145.8h1.6M337 147.8h1.6M337 148.8h1.6M337 149.3h1.6M337 149.8h1.6M337 150.3h1.6M337 151.3h1.6M337 151.8h1.6M337 154.3h1.6M337 156.3h1.6M337 157.8h1.6M337 158.8h1.6M337 159.3h1.6M337 159.8h1.6M337 160.8h1.6M337 162.3h1.6M337 162.8h1.6M337 164.3h1.6M337 168.3h1.6M337 168.8h1.6M337.5 70.8h1.6M337.5 72.3h1.6M337.5 73.3h1.6M337.5 81.8h1.6M337.5 82.3h1.6M337.5 83.8h1.6M337.5 96.8h1.6M337.5 99.8h1.6M337.5 105.3h1.6M337.5 106.8h1.6M337.5 113.3h1.6M337.5 123.3h1.6M337.5 132.8h1.6M337.5 133.8h1.6M337.5 134.3h1.6M337.5 134.8h1.6M337.5 136.8h1.6M337.5 137.3h1.6M337.5 138.3h1.6M337.5 140.3h1.6M337.5 140.8h1.6M337.5 141.8h1.6M337.5 142.3h1.6M337.5 144.3h1.6M337.5 144.8h1.6M337.5 145.8h1.6M337.5 146.3h1.6M337.5 146.8h1.6M337.5 147.8h1.6M337.5 148.3h1.6M337.5 149.3h1.6M337.5 150.3h1.6M337.5 151.3h1.6M337.5 151.8h1.6M337.5 154.3h1.6M337.5 155.3h1.6M337.5 157.8h1.6M337.5 160.3h1.6M337.5 160.8h1.6M337.5 161.3h1.6M337.5 162.8h1.6M337.5 163.3h1.6M337.5 166.3h1.6M337.5 167.3h1.6M337.5 167.8h1.6M337.5 168.8h1.6M338 62.8h1.6M338 73.8h1.6M338 77.8h1.6M338 90.8h1.6M338 91.8h1.6M338 103.3h1.6M338 103.8h1.6M338 108.8h1.6M338 120.3h1.6M338 128.8h1.6M338 133.3h1.6M338 133.8h1.6M338 134.3h1.6M338 136.3h1.6M338 136.8h1.6M338 138.8h1.6M338 140.8h1.6M338 141.3h1.6M338 141.8h1.6M338 142.8h1.6M338 143.3h1.6M338 144.3h1.6M338 145.3h1.6M338 145.8h1.6M338 146.3h1.6M338 146.8h1.6M338 147.3h1.6M338 147.8h1.6M338 149.8h1.6M338 150.3h1.6M338 150.8h1.6M338 151.8h1.6M338 152.8h1.6M338 153.3h1.6M338 153.8h1.6M338 154.8h1.6M338 155.8h1.6M338 157.3h1.6M338 157.8h1.6M338 158.8h1.6M338 159.8h1.6M338 162.3h1.6M338 162.8h1.6M338 163.3h1.6M338 164.3h1.6M338 167.8h1.6M338 168.3h1.6M338 168.8h1.6M338.5 70.3h1.6M338.5 75.3h1.6M338.5 91.3h1.6M338.5 93.3h1.6M338.5 100.8h1.6M338.5 105.3h1.6M338.5 125.8h1.6M338.5 129.3h1.6M338.5 129.8h1.6M338.5 130.8h1.6M338.5 133.3h1.6M338.5 136.8h1.6M338.5 137.3h1.6M338.5 140.3h1.6M338.5 141.8h1.6M338.5 142.3h1.6M338.5 142.8h1.6M338.5 143.3h1.6M338.5 143.8h1.6M338.5 144.3h1.6M338.5 144.8h1.6M338.5 145.8h1.6M338.5 146.8h1.6M338.5 147.3h1.6M338.5 147.8h1.6M338.5 148.8h1.6M338.5 149.3h1.6M338.5 150.3h1.6M338.5 151.3h1.6M338.5 153.3h1.6M338.5 154.8h1.6M338.5 155.3h1.6M338.5 155.8h1.6M338.5 156.3h1.6M338.5 158.8h1.6M338.5 159.3h1.6M338.5 159.8h1.6M338.5 161.8h1.6M338.5 162.8h1.6M338.5 163.3h1.6M338.5 163.8h1.6M338.5 165.3h1.6M338.5 165.8h1.6M338.5 168.8h1.6M339 67.3h1.6M339 69.8h1.6M339 75.3h1.6M339 79.8h1.6M339 84.8h1.6M339 89.8h1.6M339 92.3h1.6M339 95.3h1.6M339 96.8h1.6M339 102.8h1.6M339 107.3h1.6M339 109.8h1.6M339 123.8h1.6M339 126.8h1.6M339 128.8h1.6M339 129.8h1.6M339 136.3h1.6M339 137.3h1.6M339 138.3h1.6M339 139.3h1.6M339 139.8h1.6M339 141.3h1.6M339 142.8h1.6M339 144.3h1.6M339 145.8h1.6M339 146.3h1.6M339 147.3h1.6M339 149.3h1.6M339 149.8h1.6M339 150.8h1.6M339 151.3h1.6M339 151.8h1.6M339 152.3h1.6M339 152.8h1.6M339 153.8h1.6M339 155.3h1.6M339 158.8h1.6M339 162.8h1.6M339 163.3h1.6M339 164.8h1.6M339 165.3h1.6M339 166.8h1.6M339 167.3h1.6M339 168.3h1.6M339 169.3h1.6M339.5 70.8h1.6M339.5 77.8h1.6M339.5 91.3h1.6M339.5 94.3h1.6M339.5 106.8h1.6M339.5 133.3h1.6M339.5 134.8h1.6M339.5 138.3h1.6M339.5 139.3h1.6M339.5 141.3h1.6M339.5 141.8h1.6M339.5 142.8h1.6M339.5 143.3h1.6M339.5 145.3h1.6M339.5 148.3h1.6M339.5 150.3h1.6M339.5 150.8h1.6M339.5 151.3h1.6M339.5 151.8h1.6M339.5 152.8h1.6M339.5 153.8h1.6M339.5 154.3h1.6M339.5 154.8h1.6M339.5 155.3h1.6M339.5 157.3h1.6M339.5 157.8h1.6M339.5 158.3h1.6M339.5 159.3h1.6M339.5 159.8h1.6M339.5 161.3h1.6M339.5 162.3h1.6M339.5 162.8h1.6M339.5 163.3h1.6M339.5 163.8h1.6M339.5 164.3h1.6M339.5 164.8h1.6M339.5 165.3h1.6M339.5 166.8h1.6M340 68.3h1.6M340 69.3h1.6M340 73.8h1.6M340 76.3h1.6M340 77.8h1.6M340 83.3h1.6M340 91.3h1.6M340 103.8h1.6M340 107.3h1.6M340 116.8h1.6M340 120.3h1.6M340 122.8h1.6M340 130.3h1.6M340 132.3h1.6M340 132.8h1.6M340 135.8h1.6M340 136.3h1.6M340 138.8h1.6M340 139.8h1.6M340 140.3h1.6M340 140.8h1.6M340 141.8h1.6M340 142.8h1.6M340 144.8h1.6M340 145.3h1.6M340 145.8h1.6M340 147.3h1.6M340 147.8h1.6M340 148.8h1.6M340 149.3h1.6M340 150.8h1.6M340 152.3h1.6M340 152.8h1.6M340 153.3h1.6M340 154.3h1.6M340 155.3h1.6M340 156.3h1.6M340 157.3h1.6M340 157.8h1.6M340 159.3h1.6M340 161.3h1.6M340 161.8h1.6M340 162.3h1.6M340 162.8h1.6M340 164.3h1.6M340.5 67.3h1.6M340.5 71.8h1.6M340.5 72.8h1.6M340.5 74.3h1.6M340.5 74.8h1.6M340.5 86.8h1.6M340.5 92.8h1.6M340.5 112.8h1.6M340.5 127.8h1.6M340.5 130.3h1.6M340.5 134.8h1.6M340.5 136.8h1.6M340.5 138.8h1.6M340.5 141.3h1.6M340.5 142.8h1.6M340.5 143.3h1.6M340.5 144.3h1.6M340.5 145.3h1.6M340.5 145.8h1.6M340.5 146.8h1.6M340.5 147.8h1.6M340.5 149.8h1.6M340.5 151.3h1.6M340.5 152.3h1.6M340.5 152.8h1.6M340.5 154.3h1.6M340.5 155.3h1.6M340.5 157.8h1.6M340.5 159.8h1.6M340.5 161.3h1.6M340.5 162.8h1.6M340.5 163.3h1.6M340.5 163.8h1.6M340.5 164.3h1.6M340.5 167.8h1.6M340.5 168.8h1.6M341 67.3h1.6M341 71.3h1.6M341 73.8h1.6M341 78.8h1.6M341 88.3h1.6M341 96.3h1.6M341 97.3h1.6M341 98.8h1.6M341 102.8h1.6M341 103.8h1.6M341 110.8h1.6M341 119.8h1.6M341 131.8h1.6M341 134.8h1.6M341 135.3h1.6M341 136.3h1.6M341 139.3h1.6M341 139.8h1.6M341 140.3h1.6M341 141.3h1.6M341 142.8h1.6M341 143.3h1.6M341 143.8h1.6M341 144.8h1.6M341 145.8h1.6M341 146.3h1.6M341 147.8h1.6M341 148.3h1.6M341 148.8h1.6M341 149.3h1.6M341 150.3h1.6M341 150.8h1.6M341 151.8h1.6M341 154.8h1.6M341 155.3h1.6M341 155.8h1.6M341 157.8h1.6M341 160.8h1.6M341 161.3h1.6M341 161.8h1.6M341 162.3h1.6M341 162.8h1.6M341 163.3h1.6M341 164.3h1.6M341 164.8h1.6M341 165.3h1.6M341 166.3h1.6M341 167.3h1.6M341.5 68.3h1.6M341.5 69.3h1.6M341.5 72.8h1.6M341.5 73.3h1.6M341.5 79.3h1.6M341.5 80.3h1.6M341.5 86.3h1.6M341.5 98.3h1.6M341.5 99.8h1.6M341.5 100.8h1.6M341.5 106.3h1.6M341.5 106.8h1.6M341.5 112.8h1.6M341.5 134.3h1.6M341.5 136.8h1.6M341.5 138.8h1.6M341.5 141.3h1.6M341.5 142.3h1.6M341.5 143.8h1.6M341.5 144.8h1.6M341.5 146.3h1.6M341.5 147.8h1.6M341.5 148.3h1.6M341.5 148.8h1.6M341.5 149.3h1.6M341.5 150.8h1.6M341.5 151.3h1.6M341.5 152.8h1.6M341.5 153.3h1.6M341.5 155.3h1.6M341.5 157.3h1.6M341.5 158.3h1.6M341.5 159.8h1.6M341.5 162.3h1.6M341.5 162.8h1.6M341.5 167.3h1.6M341.5 167.8h1.6M341.5 168.3h1.6M341.5 168.8h1.6M342 65.8h1.6M342 71.3h1.6M342 72.8h1.6M342 73.8h1.6M342 74.3h1.6M342 77.8h1.6M342 80.8h1.6M342 86.8h1.6M342 87.8h1.6M342 114.3h1.6M342 120.8h1.6M342 121.8h1.6M342 131.3h1.6M342 135.3h1.6M342 136.8h1.6M342 138.8h1.6M342 139.3h1.6M342 142.8h1.6M342 143.8h1.6M342 144.8h1.6M342 145.3h1.6M342 146.3h1.6M342 146.8h1.6M342 148.3h1.6M342 150.8h1.6M342 151.3h1.6M342 152.3h1.6M342 152.8h1.6M342 153.3h1.6M342 155.8h1.6M342 156.3h1.6M342 156.8h1.6M342 157.3h1.6M342 159.3h1.6M342 159.8h1.6M342 160.3h1.6M342 164.8h1.6M342 166.3h1.6M342 168.3h1.6M342.5 70.8h1.6M342.5 72.3h1.6M342.5 75.3h1.6M342.5 78.3h1.6M342.5 90.3h1.6M342.5 95.3h1.6M342.5 109.8h1.6M342.5 125.8h1.6M342.5 131.3h1.6M342.5 132.3h1.6M342.5 136.3h1.6M342.5 138.8h1.6M342.5 139.3h1.6M342.5 140.3h1.6M342.5 140.8h1.6M342.5 141.3h1.6M342.5 142.3h1.6M342.5 142.8h1.6M342.5 143.3h1.6M342.5 143.8h1.6M342.5 145.3h1.6M342.5 145.8h1.6M342.5 146.8h1.6M342.5 147.3h1.6M342.5 148.3h1.6M342.5 149.3h1.6M342.5 150.3h1.6M342.5 150.8h1.6M342.5 151.8h1.6M342.5 153.3h1.6M342.5 153.8h1.6M342.5 154.3h1.6M342.5 155.8h1.6M342.5 156.3h1.6M342.5 156.8h1.6M342.5 157.3h1.6M342.5 157.8h1.6M342.5 158.3h1.6M342.5 158.8h1.6M342.5 159.3h1.6M342.5 167.8h1.6M342.5 168.8h1.6M343 67.3h1.6M343 70.3h1.6M343 70.8h1.6M343 72.3h1.6M343 73.3h1.6M343 74.8h1.6M343 76.3h1.6M343 85.3h1.6M343 86.8h1.6M343 103.8h1.6M343 108.3h1.6M343 108.8h1.6M343 113.3h1.6M343 118.3h1.6M343 122.3h1.6M343 125.8h1.6M343 138.3h1.6M343 138.8h1.6M343 139.8h1.6M343 140.8h1.6M343 142.3h1.6M343 142.8h1.6M343 143.3h1.6M343 145.8h1.6M343 146.3h1.6M343 147.3h1.6M343 148.3h1.6M343 148.8h1.6M343 150.8h1.6M343 151.8h1.6M343 152.8h1.6M343 153.3h1.6M343 153.8h1.6M343 154.8h1.6M343 155.8h1.6M343 156.3h1.6M343 156.8h1.6M343 157.8h1.6M343 158.3h1.6M343 167.3h1.6M343 168.8h1.6M343.5 65.8h1.6M343.5 67.3h1.6M343.5 70.3h1.6M343.5 72.8h1.6M343.5 75.3h1.6M343.5 76.3h1.6M343.5 85.8h1.6M343.5 90.3h1.6M343.5 105.3h1.6M343.5 111.8h1.6M343.5 131.8h1.6M343.5 136.8h1.6M343.5 137.8h1.6M343.5 138.3h1.6M343.5 139.3h1.6M343.5 140.3h1.6M343.5 140.8h1.6M343.5 143.3h1.6M343.5 143.8h1.6M343.5 144.3h1.6M343.5 146.3h1.6M343.5 146.8h1.6M343.5 147.3h1.6M343.5 148.3h1.6M343.5 148.8h1.6M343.5 150.3h1.6M343.5 152.3h1.6M343.5 152.8h1.6M343.5 153.8h1.6M343.5 154.3h1.6M343.5 154.8h1.6M343.5 155.3h1.6M343.5 155.8h1.6M343.5 156.3h1.6M343.5 157.8h1.6M343.5 159.3h1.6M343.5 159.8h1.6M343.5 160.8h1.6M343.5 161.3h1.6M343.5 161.8h1.6M343.5 163.3h1.6M343.5 166.3h1.6M343.5 166.8h1.6M344 68.3h1.6M344 70.3h1.6M344 71.3h1.6M344 71.8h1.6M344 72.3h1.6M344 72.8h1.6M344 73.8h1.6M344 75.3h1.6M344 82.3h1.6M344 89.8h1.6M344 90.3h1.6M344 97.3h1.6M344 103.8h1.6M344 104.8h1.6M344 124.8h1.6M344 125.8h1.6M344 129.3h1.6M344 142.3h1.6M344 144.3h1.6M344 147.3h1.6M344 149.3h1.6M344 149.8h1.6M344 153.3h1.6M344 153.8h1.6M344 154.3h1.6M344 155.3h1.6M344 159.3h1.6M344 160.8h1.6M344 165.3h1.6M344 167.3h1.6M344 167.8h1.6M344.5 67.3h1.6M344.5 67.8h1.6M344.5 68.8h1.6M344.5 69.3h1.6M344.5 70.3h1.6M344.5 71.8h1.6M344.5 72.3h1.6M344.5 74.8h1.6M344.5 77.3h1.6M344.5 89.3h1.6M344.5 91.8h1.6M344.5 97.3h1.6M344.5 100.8h1.6M344.5 112.3h1.6M344.5 119.3h1.6M344.5 125.3h1.6M344.5 131.3h1.6M344.5 141.8h1.6M344.5 142.8h1.6M344.5 143.3h1.6M344.5 143.8h1.6M344.5 144.3h1.6M344.5 146.3h1.6M344.5 147.3h1.6M344.5 149.8h1.6M344.5 151.3h1.6M344.5 152.3h1.6M344.5 152.8h1.6M344.5 153.8h1.6M344.5 154.3h1.6M344.5 155.3h1.6M344.5 156.8h1.6M344.5 157.8h1.6M344.5 158.3h1.6M344.5 158.8h1.6M344.5 161.8h1.6M345 63.8h1.6M345 66.3h1.6M345 67.8h1.6M345 68.3h1.6M345 70.8h1.6M345 71.8h1.6M345 72.3h1.6M345 73.3h1.6M345 74.3h1.6M345 75.3h1.6M345 76.3h1.6M345 89.8h1.6M345 93.3h1.6M345 99.3h1.6M345 100.8h1.6M345 111.3h1.6M345 116.3h1.6M345 125.3h1.6M345 130.3h1.6M345 137.3h1.6M345 142.8h1.6M345 145.8h1.6M345 146.3h1.6M345 147.3h1.6M345 148.3h1.6M345 149.3h1.6M345 150.3h1.6M345 151.3h1.6M345 151.8h1.6M345 152.8h1.6M345 154.8h1.6M345 155.8h1.6M345 157.3h1.6M345 159.3h1.6M345 160.8h1.6M345 161.8h1.6M345 162.3h1.6M345 162.8h1.6M345 167.8h1.6M345 168.8h1.6M345.5 60.8h1.6M345.5 64.8h1.6M345.5 65.8h1.6M345.5 66.8h1.6M345.5 70.8h1.6M345.5 72.8h1.6M345.5 74.8h1.6M345.5 75.8h1.6M345.5 80.3h1.6M345.5 86.8h1.6M345.5 94.3h1.6M345.5 98.8h1.6M345.5 100.3h1.6M345.5 101.3h1.6M345.5 116.3h1.6M345.5 128.8h1.6M345.5 138.8h1.6M345.5 139.3h1.6M345.5 142.8h1.6M345.5 143.3h1.6M345.5 144.3h1.6M345.5 150.3h1.6M345.5 151.3h1.6M345.5 153.8h1.6M345.5 154.3h1.6M345.5 154.8h1.6M345.5 155.3h1.6M345.5 156.8h1.6M345.5 158.3h1.6M345.5 159.3h1.6M345.5 162.3h1.6M346 69.3h1.6M346 78.3h1.6M346 86.8h1.6M346 87.3h1.6M346 89.8h1.6M346 90.3h1.6M346 91.8h1.6M346 94.3h1.6M346 107.8h1.6M346 109.8h1.6M346 110.8h1.6M346 111.3h1.6M346 114.8h1.6M346 121.3h1.6M346 138.8h1.6M346 141.8h1.6M346 143.8h1.6M346 145.8h1.6M346 149.3h1.6M346 151.3h1.6M346 151.8h1.6M346 152.3h1.6M346 154.3h1.6M346 154.8h1.6M346 156.3h1.6M346 156.8h1.6M346 158.8h1.6M346 159.8h1.6M346 161.3h1.6M346 163.8h1.6M346 167.3h1.6M346.5 66.8h1.6M346.5 67.3h1.6M346.5 67.8h1.6M346.5 68.8h1.6M346.5 70.3h1.6M346.5 71.3h1.6M346.5 71.8h1.6M346.5 74.8h1.6M346.5 77.3h1.6M346.5 79.3h1.6M346.5 79.8h1.6M346.5 110.8h1.6M346.5 113.8h1.6M346.5 115.8h1.6M346.5 127.8h1.6M346.5 136.8h1.6M346.5 138.3h1.6M346.5 140.3h1.6M346.5 141.3h1.6M346.5 142.3h1.6M346.5 142.8h1.6M346.5 143.8h1.6M346.5 144.3h1.6M346.5 146.8h1.6M346.5 147.3h1.6M346.5 147.8h1.6M346.5 148.3h1.6M346.5 150.3h1.6M346.5 151.3h1.6M346.5 152.3h1.6M346.5 152.8h1.6M346.5 160.3h1.6M346.5 162.3h1.6M346.5 169.3h1.6M347 65.8h1.6M347 66.3h1.6M347 67.3h1.6M347 68.3h1.6M347 68.8h1.6M347 70.3h1.6M347 73.3h1.6M347 74.3h1.6M347 80.8h1.6M347 83.3h1.6M347 83.8h1.6M347 119.3h1.6M347 130.8h1.6M347 138.3h1.6M347 139.8h1.6M347 141.3h1.6M347 142.8h1.6M347 144.8h1.6M347 145.3h1.6M347 147.3h1.6M347 147.8h1.6M347 149.8h1.6M347 151.8h1.6M347 154.3h1.6M347 155.3h1.6M347 157.8h1.6M347 165.8h1.6M347.5 66.8h1.6M347.5 69.3h1.6M347.5 71.3h1.6M347.5 71.8h1.6M347.5 72.3h1.6M347.5 73.3h1.6M347.5 73.8h1.6M347.5 77.8h1.6M347.5 78.3h1.6M347.5 79.8h1.6M347.5 85.8h1.6M347.5 90.3h1.6M347.5 94.8h1.6M347.5 102.8h1.6M347.5 107.8h1.6M347.5 110.8h1.6M347.5 117.3h1.6M347.5 124.8h1.6M347.5 127.8h1.6M347.5 131.3h1.6M347.5 134.8h1.6M347.5 135.3h1.6M347.5 136.8h1.6M347.5 138.3h1.6M347.5 140.8h1.6M347.5 144.3h1.6M347.5 149.8h1.6M347.5 151.8h1.6M347.5 154.3h1.6M347.5 162.3h1.6M348 65.3h1.6M348 65.8h1.6M348 66.8h1.6M348 67.3h1.6M348 68.8h1.6M348 69.8h1.6M348 75.3h1.6M348 76.3h1.6M348 78.3h1.6M348 87.3h1.6M348 89.3h1.6M348 103.3h1.6M348 107.3h1.6M348 109.8h1.6M348 127.8h1.6M348 140.3h1.6M348 141.8h1.6M348 144.8h1.6M348 145.8h1.6M348 146.8h1.6M348 147.3h1.6M348 148.8h1.6M348 149.3h1.6M348 150.8h1.6M348 151.8h1.6M348 154.3h1.6M348 155.8h1.6M348 156.8h1.6M348 166.3h1.6M348.5 63.8h1.6M348.5 65.8h1.6M348.5 67.3h1.6M348.5 68.3h1.6M348.5 68.8h1.6M348.5 70.8h1.6M348.5 71.3h1.6M348.5 71.8h1.6M348.5 72.3h1.6M348.5 72.8h1.6M348.5 74.3h1.6M348.5 74.8h1.6M348.5 77.3h1.6M348.5 80.8h1.6M348.5 83.3h1.6M348.5 101.3h1.6M348.5 102.8h1.6M348.5 108.3h1.6M348.5 114.8h1.6M348.5 117.8h1.6M348.5 124.3h1.6M348.5 125.8h1.6M348.5 128.3h1.6M348.5 134.3h1.6M348.5 135.8h1.6M348.5 142.3h1.6M348.5 142.8h1.6M348.5 143.3h1.6M348.5 146.3h1.6M348.5 148.3h1.6M348.5 155.3h1.6M348.5 155.8h1.6M348.5 166.8h1.6M349 66.3h1.6M349 66.8h1.6M349 67.8h1.6M349 69.8h1.6M349 70.3h1.6M349 71.3h1.6M349 72.3h1.6M349 73.3h1.6M349 74.3h1.6M349 74.8h1.6M349 75.8h1.6M349 76.3h1.6M349 76.8h1.6M349 78.3h1.6M349 83.3h1.6M349 87.8h1.6M349 92.3h1.6M349 100.8h1.6M349 116.8h1.6M349 136.8h1.6M349 137.8h1.6M349 138.3h1.6M349 140.3h1.6M349 142.3h1.6M349 146.3h1.6M349 147.3h1.6M349 150.8h1.6M349 151.3h1.6M349 151.8h1.6M349 152.8h1.6M349 153.8h1.6M349 154.8h1.6M349 156.8h1.6M349 157.3h1.6M349.5 67.3h1.6M349.5 68.3h1.6M349.5 71.3h1.6M349.5 72.3h1.6M349.5 73.3h1.6M349.5 81.8h1.6M349.5 82.8h1.6M349.5 88.8h1.6M349.5 94.8h1.6M349.5 101.3h1.6M349.5 123.3h1.6M349.5 137.3h1.6M349.5 139.8h1.6M349.5 144.8h1.6M349.5 145.8h1.6M349.5 148.3h1.6M349.5 163.8h1.6M349.5 164.8h1.6M349.5 166.8h1.6M350 66.8h1.6M350 67.3h1.6M350 69.8h1.6M350 70.3h1.6M350 70.8h1.6M350 71.3h1.6M350 72.3h1.6M350 73.8h1.6M350 75.3h1.6M350 76.3h1.6M350 77.3h1.6M350 84.3h1.6M350 87.3h1.6M350 96.8h1.6M350 97.8h1.6M350 102.8h1.6M350 110.3h1.6M350 115.3h1.6M350 133.8h1.6M350 143.3h1.6M350 143.8h1.6M350 144.3h1.6M350 147.3h1.6M350.5 64.3h1.6M350.5 65.8h1.6M350.5 68.8h1.6M350.5 69.3h1.6M350.5 70.3h1.6M350.5 70.8h1.6M350.5 71.3h1.6M350.5 74.3h1.6M350.5 74.8h1.6M350.5 76.8h1.6M350.5 78.3h1.6M350.5 84.8h1.6M350.5 87.3h1.6M350.5 93.8h1.6M350.5 94.3h1.6M350.5 95.8h1.6M350.5 102.8h1.6M350.5 103.3h1.6M350.5 109.3h1.6M350.5 113.3h1.6M350.5 113.8h1.6M350.5 118.3h1.6M350.5 127.3h1.6M350.5 131.8h1.6M350.5 136.3h1.6M350.5 138.8h1.6M350.5 144.3h1.6M350.5 145.3h1.6M350.5 146.8h1.6M350.5 149.8h1.6M350.5 150.3h1.6M350.5 154.3h1.6M350.5 156.8h1.6M350.5 157.3h1.6M351 64.3h1.6M351 66.8h1.6M351 67.8h1.6M351 69.8h1.6M351 70.3h1.6M351 71.8h1.6M351 72.3h1.6M351 73.3h1.6M351 74.3h1.6M351 75.3h1.6M351 75.8h1.6M351 77.8h1.6M351 79.3h1.6M351 82.3h1.6M351 96.8h1.6M351 98.3h1.6M351 110.8h1.6M351 119.8h1.6M351 132.8h1.6M351 134.8h1.6M351 141.3h1.6M351 141.8h1.6M351 142.8h1.6M351 144.3h1.6M351 146.3h1.6M351 147.8h1.6M351 153.8h1.6M351 154.8h1.6M351 160.8h1.6M351 163.3h1.6M351.5 62.8h1.6M351.5 64.8h1.6M351.5 66.8h1.6M351.5 67.3h1.6M351.5 67.8h1.6M351.5 69.3h1.6M351.5 69.8h1.6M351.5 71.3h1.6M351.5 72.3h1.6M351.5 72.8h1.6M351.5 73.8h1.6M351.5 74.8h1.6M351.5 75.8h1.6M351.5 77.8h1.6M351.5 78.8h1.6M351.5 79.8h1.6M351.5 81.3h1.6M351.5 81.8h1.6M351.5 102.8h1.6M351.5 132.3h1.6M351.5 142.3h1.6M351.5 149.3h1.6M351.5 151.3h1.6M351.5 154.8h1.6M351.5 156.8h1.6M352 63.8h1.6M352 64.8h1.6M352 68.3h1.6M352 68.8h1.6M352 69.3h1.6M352 70.3h1.6M352 72.3h1.6M352 72.8h1.6M352 74.3h1.6M352 75.8h1.6M352 76.8h1.6M352 77.8h1.6M352 79.3h1.6M352 81.8h1.6M352 102.8h1.6M352 109.8h1.6M352 112.8h1.6M352 113.8h1.6M352 141.8h1.6M352 143.8h1.6M352 144.3h1.6M352 144.8h1.6M352 150.8h1.6M352 151.8h1.6M352 152.8h1.6M352 154.3h1.6M352 157.8h1.6M352 164.3h1.6M352.5 62.8h1.6M352.5 64.3h1.6M352.5 68.3h1.6M352.5 69.8h1.6M352.5 70.3h1.6M352.5 71.8h1.6M352.5 72.3h1.6M352.5 72.8h1.6M352.5 73.3h1.6M352.5 74.3h1.6M352.5 74.8h1.6M352.5 75.8h1.6M352.5 78.8h1.6M352.5 81.8h1.6M352.5 82.3h1.6M352.5 82.8h1.6M352.5 84.3h1.6M352.5 87.8h1.6M352.5 90.8h1.6M352.5 91.3h1.6M352.5 100.8h1.6M352.5 110.8h1.6M352.5 116.8h1.6M352.5 117.3h1.6M352.5 127.3h1.6M352.5 135.8h1.6M352.5 136.3h1.6M352.5 139.3h1.6M352.5 145.8h1.6M352.5 149.3h1.6M352.5 150.3h1.6M353 65.8h1.6M353 66.3h1.6M353 68.8h1.6M353 70.3h1.6M353 70.8h1.6M353 71.3h1.6M353 71.8h1.6M353 72.3h1.6M353 74.3h1.6M353 76.3h1.6M353 76.8h1.6M353 78.3h1.6M353 78.8h1.6M353 81.8h1.6M353 94.3h1.6M353 98.8h1.6M353 106.8h1.6M353 107.3h1.6M353 107.8h1.6M353 110.8h1.6M353 113.3h1.6M353 117.8h1.6M353 118.8h1.6M353 125.8h1.6M353 131.8h1.6M353 132.3h1.6M353 145.8h1.6M353 150.8h1.6M353 152.3h1.6M353 153.3h1.6M353 154.8h1.6M353.5 65.8h1.6M353.5 66.3h1.6M353.5 67.8h1.6M353.5 69.3h1.6M353.5 70.8h1.6M353.5 73.3h1.6M353.5 74.8h1.6M353.5 76.3h1.6M353.5 77.3h1.6M353.5 79.8h1.6M353.5 85.8h1.6M353.5 93.3h1.6M353.5 93.8h1.6M353.5 109.3h1.6M353.5 113.8h1.6M353.5 132.8h1.6M353.5 134.3h1.6M353.5 145.8h1.6M353.5 148.8h1.6M353.5 149.3h1.6M353.5 149.8h1.6M353.5 153.8h1.6M353.5 154.3h1.6M353.5 158.3h1.6M353.5 158.8h1.6M353.5 163.8h1.6M353.5 165.3h1.6M353.5 169.3h1.6M354 60.3h1.6M354 63.8h1.6M354 64.8h1.6M354 65.3h1.6M354 66.3h1.6M354 66.8h1.6M354 68.3h1.6M354 68.8h1.6M354 71.3h1.6M354 72.8h1.6M354 73.3h1.6M354 75.3h1.6M354 77.3h1.6M354 78.3h1.6M354 79.3h1.6M354 90.8h1.6M354 94.3h1.6M354 98.3h1.6M354 106.8h1.6M354 108.8h1.6M354 120.3h1.6M354 131.3h1.6M354 144.8h1.6M354 145.3h1.6M354 148.8h1.6M354 153.8h1.6M354 160.3h1.6M354 161.8h1.6M354 164.3h1.6M354 167.8h1.6M354.5 63.8h1.6M354.5 66.3h1.6M354.5 68.8h1.6M354.5 70.3h1.6M354.5 71.3h1.6M354.5 74.3h1.6M354.5 75.8h1.6M354.5 76.3h1.6M354.5 76.8h1.6M354.5 77.3h1.6M354.5 77.8h1.6M354.5 79.3h1.6M354.5 79.8h1.6M354.5 81.8h1.6M354.5 92.3h1.6M354.5 109.8h1.6M354.5 119.8h1.6M354.5 120.3h1.6M354.5 126.3h1.6M354.5 127.8h1.6M354.5 132.3h1.6M354.5 138.3h1.6M354.5 141.8h1.6M354.5 142.3h1.6M354.5 143.8h1.6M354.5 144.8h1.6M354.5 145.8h1.6M354.5 154.8h1.6M354.5 159.8h1.6M354.5 163.8h1.6M354.5 166.3h1.6M355 67.8h1.6M355 68.3h1.6M355 69.8h1.6M355 70.3h1.6M355 71.8h1.6M355 73.8h1.6M355 75.3h1.6M355 77.3h1.6M355 77.8h1.6M355 89.8h1.6M355 91.3h1.6M355 91.8h1.6M355 95.8h1.6M355 97.3h1.6M355 97.8h1.6M355 116.3h1.6M355 119.8h1.6M355 128.8h1.6M355 130.3h1.6M355 148.3h1.6M355 154.3h1.6M355 155.8h1.6M355 157.3h1.6M355 157.8h1.6M355.5 65.8h1.6M355.5 66.3h1.6M355.5 66.8h1.6M355.5 67.8h1.6M355.5 69.3h1.6M355.5 71.8h1.6M355.5 72.3h1.6M355.5 73.3h1.6M355.5 74.3h1.6M355.5 75.8h1.6M355.5 78.3h1.6M355.5 82.3h1.6M355.5 83.8h1.6M355.5 95.3h1.6M355.5 138.8h1.6M355.5 141.8h1.6M355.5 143.3h1.6M355.5 148.3h1.6M355.5 149.3h1.6M355.5 162.3h1.6M355.5 162.8h1.6M355.5 168.8h1.6M356 58.8h1.6M356 66.8h1.6M356 67.3h1.6M356 67.8h1.6M356 68.8h1.6M356 69.3h1.6M356 71.3h1.6M356 72.3h1.6M356 73.3h1.6M356 73.8h1.6M356 74.8h1.6M356 75.3h1.6M356 76.8h1.6M356 78.3h1.6M356 93.3h1.6M356 109.3h1.6M356 110.8h1.6M356 127.8h1.6M356 132.3h1.6M356 141.8h1.6M356 143.8h1.6M356 149.3h1.6M356 156.3h1.6M356.5 62.8h1.6M356.5 64.3h1.6M356.5 65.3h1.6M356.5 65.8h1.6M356.5 66.8h1.6M356.5 68.8h1.6M356.5 69.8h1.6M356.5 70.8h1.6M356.5 72.3h1.6M356.5 72.8h1.6M356.5 73.3h1.6M356.5 75.3h1.6M356.5 76.8h1.6M356.5 78.8h1.6M356.5 81.8h1.6M356.5 82.3h1.6M356.5 82.8h1.6M356.5 104.8h1.6M356.5 105.3h1.6M356.5 105.8h1.6M356.5 112.8h1.6M356.5 114.3h1.6M356.5 118.3h1.6M356.5 124.3h1.6M356.5 127.8h1.6M356.5 128.8h1.6M356.5 137.3h1.6M356.5 144.3h1.6M356.5 145.8h1.6M356.5 146.3h1.6M356.5 153.3h1.6M356.5 154.8h1.6M356.5 167.8h1.6M357 64.3h1.6M357 65.8h1.6M357 66.3h1.6M357 67.8h1.6M357 69.3h1.6M357 69.8h1.6M357 70.8h1.6M357 74.8h1.6M357 75.8h1.6M357 78.8h1.6M357 84.3h1.6M357 89.3h1.6M357 97.3h1.6M357 103.8h1.6M357 109.8h1.6M357 116.3h1.6M357 126.8h1.6M357 132.3h1.6M357 142.3h1.6M357 148.8h1.6M357 149.3h1.6M357 153.8h1.6M357 155.8h1.6M357 164.3h1.6M357.5 63.8h1.6M357.5 64.8h1.6M357.5 68.3h1.6M357.5 69.8h1.6M357.5 70.8h1.6M357.5 71.3h1.6M357.5 72.3h1.6M357.5 72.8h1.6M357.5 73.3h1.6M357.5 78.8h1.6M357.5 81.3h1.6M357.5 83.3h1.6M357.5 92.8h1.6M357.5 116.3h1.6M357.5 117.8h1.6M357.5 121.3h1.6M357.5 136.8h1.6M357.5 139.8h1.6M357.5 141.3h1.6M357.5 149.3h1.6M357.5 155.8h1.6M357.5 156.8h1.6M357.5 161.8h1.6M357.5 164.3h1.6M357.5 165.8h1.6M357.5 166.8h1.6M358 60.8h1.6M358 64.8h1.6M358 67.8h1.6M358 69.8h1.6M358 71.3h1.6M358 71.8h1.6M358 72.8h1.6M358 73.3h1.6M358 74.3h1.6M358 75.3h1.6M358 82.3h1.6M358 87.3h1.6M358 88.3h1.6M358 93.8h1.6M358 95.8h1.6M358 97.8h1.6M358 102.3h1.6M358 103.8h1.6M358 108.8h1.6M358 120.3h1.6M358 126.3h1.6M358 130.8h1.6M358 135.3h1.6M358 135.8h1.6M358 140.8h1.6M358 142.3h1.6M358 143.8h1.6M358 145.3h1.6M358 148.8h1.6M358 151.3h1.6M358.5 63.8h1.6M358.5 67.8h1.6M358.5 69.3h1.6M358.5 69.8h1.6M358.5 70.8h1.6M358.5 71.3h1.6M358.5 72.8h1.6M358.5 75.3h1.6M358.5 78.3h1.6M358.5 89.3h1.6M358.5 89.8h1.6M358.5 93.3h1.6M358.5 102.8h1.6M358.5 119.8h1.6M358.5 126.3h1.6M358.5 128.8h1.6M358.5 135.8h1.6M358.5 140.3h1.6M358.5 141.3h1.6M358.5 143.3h1.6M358.5 145.3h1.6M358.5 147.8h1.6M358.5 150.3h1.6M358.5 153.3h1.6M358.5 157.3h1.6M358.5 160.3h1.6M359 63.8h1.6M359 66.3h1.6M359 66.8h1.6M359 68.8h1.6M359 69.8h1.6M359 70.3h1.6M359 71.3h1.6M359 71.8h1.6M359 72.8h1.6M359 73.3h1.6M359 74.8h1.6M359 75.8h1.6M359 78.8h1.6M359 83.8h1.6M359 95.3h1.6M359 96.3h1.6M359 113.3h1.6M359 119.3h1.6M359 130.8h1.6M359 136.8h1.6M359 138.3h1.6M359 140.3h1.6M359 145.3h1.6M359 146.3h1.6M359 149.3h1.6M359 168.3h1.6M359.5 64.8h1.6M359.5 65.8h1.6M359.5 66.8h1.6M359.5 67.8h1.6M359.5 68.8h1.6M359.5 69.3h1.6M359.5 70.8h1.6M359.5 71.3h1.6M359.5 71.8h1.6M359.5 72.8h1.6M359.5 73.8h1.6M359.5 74.8h1.6M359.5 77.3h1.6M359.5 77.8h1.6M359.5 81.8h1.6M359.5 82.8h1.6M359.5 90.3h1.6M359.5 95.8h1.6M359.5 97.3h1.6M359.5 111.3h1.6M359.5 115.8h1.6M359.5 135.3h1.6M359.5 143.8h1.6M359.5 144.3h1.6M359.5 146.8h1.6M359.5 152.8h1.6M359.5 154.3h1.6M360 66.3h1.6M360 72.3h1.6M360 73.3h1.6M360 73.8h1.6M360 74.8h1.6M360 76.8h1.6M360 78.8h1.6M360 98.3h1.6M360 100.3h1.6M360 102.3h1.6M360 121.3h1.6M360 127.3h1.6M360 130.3h1.6M360 134.8h1.6M360 139.8h1.6M360 142.8h1.6M360 145.8h1.6M360 151.8h1.6M360 156.3h1.6M360 165.3h1.6M360.5 65.8h1.6M360.5 68.8h1.6M360.5 69.3h1.6M360.5 70.3h1.6M360.5 70.8h1.6M360.5 71.3h1.6M360.5 73.8h1.6M360.5 74.8h1.6M360.5 80.8h1.6M360.5 83.8h1.6M360.5 91.8h1.6M360.5 98.8h1.6M360.5 113.3h1.6M360.5 118.3h1.6M360.5 129.3h1.6M360.5 134.3h1.6M360.5 137.8h1.6M360.5 157.8h1.6M360.5 160.8h1.6M361 64.8h1.6M361 65.8h1.6M361 67.8h1.6M361 68.8h1.6M361 69.8h1.6M361 70.3h1.6M361 71.8h1.6M361 72.8h1.6M361 73.3h1.6M361 74.3h1.6M361 74.8h1.6M361 81.3h1.6M361 86.8h1.6M361 93.3h1.6M361 113.3h1.6M361 130.3h1.6M361 140.8h1.6M361.5 68.3h1.6M361.5 69.3h1.6M361.5 69.8h1.6M361.5 70.8h1.6M361.5 71.8h1.6M361.5 73.3h1.6M361.5 73.8h1.6M361.5 75.3h1.6M361.5 75.8h1.6M361.5 102.8h1.6M361.5 104.8h1.6M361.5 109.3h1.6M361.5 122.3h1.6M361.5 130.8h1.6M361.5 136.3h1.6M361.5 140.8h1.6M361.5 142.8h1.6M361.5 143.3h1.6M361.5 143.8h1.6M361.5 144.3h1.6M361.5 154.8h1.6M361.5 161.8h1.6M361.5 162.3h1.6M361.5 163.8h1.6M362 67.3h1.6M362 67.8h1.6M362 68.8h1.6M362 70.8h1.6M362 72.8h1.6M362 73.3h1.6M362 77.8h1.6M362 84.3h1.6M362 88.3h1.6M362 90.8h1.6M362 94.3h1.6M362 96.3h1.6M362 97.8h1.6M362 101.8h1.6M362 103.8h1.6M362 104.8h1.6M362 107.3h1.6M362 111.3h1.6M362 111.8h1.6M362 122.8h1.6M362 151.3h1.6M362 154.8h1.6M362 156.3h1.6M362 158.8h1.6M362.5 62.8h1.6M362.5 67.8h1.6M362.5 69.8h1.6M362.5 71.3h1.6M362.5 71.8h1.6M362.5 73.3h1.6M362.5 74.8h1.6M362.5 76.8h1.6M362.5 79.3h1.6M362.5 85.3h1.6M362.5 108.8h1.6M362.5 113.3h1.6M362.5 117.8h1.6M362.5 123.8h1.6M362.5 124.8h1.6M362.5 140.3h1.6M362.5 140.8h1.6M362.5 141.3h1.6M362.5 144.8h1.6M362.5 146.3h1.6M362.5 146.8h1.6M362.5 152.3h1.6M363 67.8h1.6M363 68.8h1.6M363 69.3h1.6M363 69.8h1.6M363 70.8h1.6M363 71.3h1.6M363 72.8h1.6M363 73.3h1.6M363 73.8h1.6M363 74.8h1.6M363 75.8h1.6M363 76.3h1.6M363 82.3h1.6M363 94.3h1.6M363 98.8h1.6M363 100.3h1.6M363 105.8h1.6M363 107.8h1.6M363 112.3h1.6M363 139.3h1.6M363 141.3h1.6M363 144.3h1.6M363 146.8h1.6M363 149.3h1.6M363 149.8h1.6M363 154.3h1.6M363 160.3h1.6M363 162.3h1.6M363 167.8h1.6M363.5 65.3h1.6M363.5 66.3h1.6M363.5 67.8h1.6M363.5 68.8h1.6M363.5 72.8h1.6M363.5 81.3h1.6M363.5 81.8h1.6M363.5 82.8h1.6M363.5 88.3h1.6M363.5 98.3h1.6M363.5 101.3h1.6M363.5 104.8h1.6M363.5 132.3h1.6M363.5 140.3h1.6M363.5 141.3h1.6M363.5 144.8h1.6M363.5 151.3h1.6M363.5 151.8h1.6M363.5 154.8h1.6M363.5 156.8h1.6M363.5 157.8h1.6M363.5 165.3h1.6M364 67.8h1.6M364 68.8h1.6M364 69.8h1.6M364 70.8h1.6M364 72.3h1.6M364 72.8h1.6M364 75.3h1.6M364 76.8h1.6M364 78.8h1.6M364 84.8h1.6M364 85.3h1.6M364 91.3h1.6M364 102.3h1.6M364 127.3h1.6M364 137.3h1.6M364 139.3h1.6M364 139.8h1.6M364 141.8h1.6M364 142.8h1.6M364 152.3h1.6M364 160.3h1.6M364.5 68.3h1.6M364.5 68.8h1.6M364.5 70.3h1.6M364.5 72.8h1.6M364.5 79.8h1.6M364.5 105.8h1.6M364.5 112.8h1.6M364.5 123.3h1.6M364.5 131.8h1.6M364.5 142.8h1.6M364.5 145.3h1.6M364.5 149.8h1.6M364.5 153.3h1.6M365 70.3h1.6M365 71.8h1.6M365 74.3h1.6M365 76.3h1.6M365 77.3h1.6M365 81.8h1.6M365 103.8h1.6M365 104.8h1.6M365 105.8h1.6M365 110.3h1.6M365 143.8h1.6M365 146.3h1.6M365 152.3h1.6M365 154.3h1.6M365 157.3h1.6M365 160.8h1.6M365.5 72.3h1.6M365.5 73.3h1.6M365.5 74.3h1.6M365.5 76.8h1.6M365.5 77.3h1.6M365.5 96.3h1.6M365.5 120.3h1.6M365.5 141.8h1.6M365.5 143.8h1.6M365.5 144.3h1.6M365.5 146.8h1.6M365.5 152.3h1.6M366 63.3h1.6M366 66.8h1.6M366 73.8h1.6M366 75.3h1.6M366 77.8h1.6M366 83.3h1.6M366 88.3h1.6M366 91.8h1.6M366 105.8h1.6M366 112.3h1.6M366 135.8h1.6M366 155.8h1.6M366 160.3h1.6M366 162.3h1.6M366.5 74.8h1.6M366.5 81.8h1.6M366.5 89.3h1.6M366.5 94.8h1.6M366.5 104.8h1.6M366.5 105.3h1.6M366.5 106.3h1.6M366.5 111.8h1.6M366.5 119.3h1.6M366.5 144.3h1.6M366.5 146.3h1.6M366.5 149.8h1.6M366.5 156.3h1.6M366.5 157.3h1.6M366.5 160.3h1.6M366.5 164.8h1.6M367 66.8h1.6M367 70.3h1.6M367 77.8h1.6M367 99.3h1.6M367 103.3h1.6M367 109.8h1.6M367 131.8h1.6M367 132.8h1.6M367 140.3h1.6M367 140.8h1.6M367 151.3h1.6M367 151.8h1.6M367 156.3h1.6M367 157.8h1.6M367 161.3h1.6M367.5 70.8h1.6M367.5 72.8h1.6M367.5 73.3h1.6M367.5 74.3h1.6M367.5 94.3h1.6M367.5 108.8h1.6M367.5 128.3h1.6M367.5 134.3h1.6M367.5 134.8h1.6M367.5 137.3h1.6M367.5 142.3h1.6M367.5 142.8h1.6M367.5 145.3h1.6M367.5 146.8h1.6M367.5 147.8h1.6M367.5 152.3h1.6M367.5 164.8h1.6M368 71.8h1.6M368 75.8h1.6M368 76.3h1.6M368 89.8h1.6M368 93.3h1.6M368 97.8h1.6M368 100.3h1.6M368 107.3h1.6M368 124.3h1.6M368 135.8h1.6M368 143.3h1.6M368 146.3h1.6M368 151.8h1.6M368 155.3h1.6M368.5 71.3h1.6M368.5 82.3h1.6M368.5 88.3h1.6M368.5 96.3h1.6M368.5 98.8h1.6M368.5 99.8h1.6M368.5 100.3h1.6M368.5 103.8h1.6M368.5 110.8h1.6M368.5 119.8h1.6M368.5 138.8h1.6M368.5 143.3h1.6M368.5 145.3h1.6M368.5 158.8h1.6M368.5 166.3h1.6M369 70.3h1.6M369 72.3h1.6M369 81.8h1.6M369 95.3h1.6M369 99.8h1.6M369 100.3h1.6M369 104.3h1.6M369 109.3h1.6M369 116.8h1.6M369 129.8h1.6M369 133.8h1.6M369 135.3h1.6M369 139.8h1.6M369 150.3h1.6M369 151.8h1.6M369 157.3h1.6M369 161.8h1.6M369.5 65.3h1.6M369.5 77.3h1.6M369.5 82.8h1.6M369.5 106.3h1.6M369.5 109.3h1.6M369.5 125.8h1.6M369.5 130.8h1.6M369.5 133.8h1.6M369.5 134.8h1.6M369.5 136.8h1.6M369.5 148.8h1.6M369.5 150.8h1.6M369.5 163.8h1.6M369.5 165.8h1.6M370 73.3h1.6M370 86.8h1.6M370 91.3h1.6M370 96.8h1.6M370 97.3h1.6M370 99.3h1.6M370 100.8h1.6M370 115.8h1.6M370 132.3h1.6M370 144.8h1.6M370 147.8h1.6M370 150.3h1.6M370 163.3h1.6M370.5 68.8h1.6M370.5 69.8h1.6M370.5 72.8h1.6M370.5 73.3h1.6M370.5 82.8h1.6M370.5 95.8h1.6M370.5 103.8h1.6M370.5 113.8h1.6M370.5 123.8h1.6M370.5 134.3h1.6M370.5 135.3h1.6M370.5 150.3h1.6M370.5 150.8h1.6M370.5 151.3h1.6M370.5 153.3h1.6M370.5 158.8h1.6M370.5 163.3h1.6M371 69.3h1.6M371 90.3h1.6M371 99.8h1.6M371 118.8h1.6M371 137.3h1.6M371 140.3h1.6M371 141.8h1.6M371 143.8h1.6M371 146.8h1.6M371 152.8h1.6M371 155.8h1.6M371 162.3h1.6M371.5 88.8h1.6M371.5 130.8h1.6M371.5 137.8h1.6M371.5 151.3h1.6M372 74.3h1.6M372 88.3h1.6M372 91.8h1.6M372 93.8h1.6M372 95.8h1.6M372 130.3h1.6M372 142.8h1.6M372 144.8h1.6M372 151.8h1.6M372 153.3h1.6M372 163.8h1.6M372.5 69.8h1.6M372.5 74.3h1.6M372.5 74.8h1.6M372.5 82.8h1.6M372.5 122.8h1.6M372.5 135.8h1.6M372.5 144.3h1.6M372.5 148.3h1.6M372.5 148.8h1.6M372.5 152.3h1.6M373 71.3h1.6M373 74.3h1.6M373 129.8h1.6M373 130.8h1.6M373 134.3h1.6M373 149.8h1.6M373 156.8h1.6M373 160.8h1.6M373.5 75.8h1.6M373.5 98.8h1.6M373.5 123.3h1.6M373.5 127.3h1.6M373.5 145.3h1.6M373.5 146.3h1.6M373.5 150.8h1.6M373.5 153.8h1.6M373.5 155.8h1.6M373.5 157.8h1.6M374 79.3h1.6M374 103.8h1.6M374 135.8h1.6M374 138.3h1.6M374 150.3h1.6M374.5 66.3h1.6M374.5 67.3h1.6M374.5 137.3h1.6M374.5 141.8h1.6M374.5 146.8h1.6M374.5 149.3h1.6M374.5 155.8h1.6M374.5 164.3h1.6M375 70.8h1.6M375 77.3h1.6M375 79.3h1.6M375 133.8h1.6M375 135.8h1.6M375 152.3h1.6M375 165.3h1.6M375.5 135.3h1.6M375.5 137.3h1.6M375.5 138.8h1.6M375.5 152.8h1.6M375.5 154.8h1.6M375.5 161.8h1.6M375.5 162.3h1.6M376 81.3h1.6M376 133.8h1.6M376 150.8h1.6M376 161.3h1.6M376.5 69.3h1.6M376.5 74.8h1.6M376.5 123.8h1.6M376.5 131.8h1.6M376.5 135.8h1.6M376.5 136.8h1.6M376.5 142.3h1.6M376.5 155.3h1.6M376.5 160.3h1.6M377 75.3h1.6M377 76.3h1.6M377 98.3h1.6M377 124.3h1.6M377 141.3h1.6M377 143.8h1.6M377 144.3h1.6M377 150.3h1.6M377.5 118.3h1.6M377.5 136.8h1.6M377.5 141.3h1.6M377.5 142.3h1.6M378 134.8h1.6M378 138.3h1.6M378 147.8h1.6M378 155.3h1.6M378.5 155.8h1.6M378.5 163.3h1.6M379 77.8h1.6M379 115.8h1.6M379 140.8h1.6M379 156.3h1.6M379 161.8h1.6M379.5 75.8h1.6M379.5 126.8h1.6M379.5 150.3h1.6M379.5 157.3h1.6M379.5 160.3h1.6M379.5 162.8h1.6M380 81.8h1.6M380 146.8h1.6M380 163.3h1.6M380 165.3h1.6M380.5 70.8h1.6M380.5 78.3h1.6M380.5 132.8h1.6M380.5 162.8h1.6M380.5 168.3h1.6M381 73.8h1.6M381 107.3h1.6M381 135.8h1.6M381 146.3h1.6M381.5 123.8h1.6M381.5 125.8h1.6M381.5 143.3h1.6M381.5 144.3h1.6M381.5 150.8h1.6M381.5 154.8h1.6M381.5 161.8h1.6M381.5 167.8h1.6M382 141.8h1.6M382 151.3h1.6M382 155.3h1.6M382.5 76.3h1.6M382.5 109.3h1.6M382.5 133.8h1.6M382.5 145.3h1.6M382.5 147.8h1.6M382.5 156.8h1.6M382.5 158.3h1.6M382.5 168.8h1.6M383 130.8h1.6M383 133.8h1.6M383 135.8h1.6M383 147.8h1.6M383 159.3h1.6M383.5 69.3h1.6M383.5 76.8h1.6M383.5 84.3h1.6M383.5 131.8h1.6M383.5 141.8h1.6M383.5 145.8h1.6M383.5 150.3h1.6M383.5 152.8h1.6M383.5 159.3h1.6M383.5 161.8h1.6M383.5 167.3h1.6M384 68.8h1.6M384 131.8h1.6M384 149.8h1.6M384 155.3h1.6M384 157.8h1.6M384.5 76.8h1.6M384.5 127.8h1.6M384.5 138.3h1.6M384.5 142.3h1.6M384.5 147.3h1.6M384.5 148.3h1.6M384.5 149.8h1.6M384.5 163.3h1.6M385 70.8h1.6M385 92.8h1.6M385 139.3h1.6M385 153.3h1.6M385 153.8h1.6M385 156.3h1.6M385 160.8h1.6M385.5 64.3h1.6M385.5 74.8h1.6M385.5 87.3h1.6M385.5 133.8h1.6M385.5 150.3h1.6M385.5 155.8h1.6M386 135.8h1.6M386 139.3h1.6M386 143.3h1.6M386 156.8h1.6M386 157.8h1.6M386.5 138.8h1.6M386.5 141.3h1.6M386.5 148.8h1.6M386.5 157.3h1.6M386.5 159.8h1.6M387 131.3h1.6M387 138.8h1.6M387 145.8h1.6M387.5 66.3h1.6M387.5 70.3h1.6M387.5 84.3h1.6M387.5 123.3h1.6M387.5 128.3h1.6M388 148.8h1.6M388 155.3h1.6M388.5 149.8h1.6M388.5 153.8h1.6M388.5 156.8h1.6M388.5 163.8h1.6M388.5 166.8h1.6M389 131.3h1.6M389 140.3h1.6M389 146.3h1.6M389 147.3h1.6M389 148.8h1.6M389 155.8h1.6M389 160.8h1.6M389.5 144.3h1.6M389.5 147.8h1.6M389.5 148.8h1.6M389.5 149.8h1.6M389.5 155.3h1.6M390 149.8h1.6M390.5 141.8h1.6M390.5 145.3h1.6M390.5 151.3h1.6M390.5 159.3h1.6M390.5 162.3h1.6M391 166.3h1.6M391.5 66.3h1.6M391.5 138.8h1.6M391.5 139.3h1.6M391.5 162.8h1.6M392 137.8h1.6M392 142.3h1.6M392 145.8h1.6M392 152.3h1.6M392.5 128.3h1.6M392.5 155.3h1.6M392.5 163.3h1.6M393 140.3h1.6M393 145.3h1.6M393 150.8h1.6M393 152.8h1.6M393 158.3h1.6M393 164.8h1.6M393.5 70.3h1.6M393.5 136.8h1.6M393.5 140.8h1.6M393.5 145.3h1.6M393.5 149.8h1.6M393.5 151.8h1.6M393.5 154.3h1.6M394 133.8h1.6M394 140.3h1.6M394.5 158.8h1.6M394.5 165.3h1.6M395 167.8h1.6M395.5 116.8h1.6M395.5 125.3h1.6M395.5 144.3h1.6M395.5 150.3h1.6M395.5 157.3h1.6M396 145.3h1.6M396 153.8h1.6M396 167.3h1.6M396.5 122.8h1.6M396.5 143.8h1.6M396.5 154.8h1.6M397 102.3h1.6M397 131.8h1.6M397 148.8h1.6M397 151.8h1.6M397.5 151.8h1.6M398 138.3h1.6M398 145.3h1.6M398 149.8h1.6M398 152.3h1.6M398.5 141.3h1.6M398.5 144.3h1.6M398.5 152.3h1.6M398.5 153.3h1.6M398.5 165.3h1.6M399 84.3h1.6M399 130.8h1.6M399 138.8h1.6M399 145.3h1.6M399 156.3h1.6M399 161.3h1.6M399.5 75.3h1.6M399.5 143.8h1.6M399.5 147.3h1.6M399.5 148.8h1.6M399.5 155.8h1.6M399.5 162.3h1.6M400 63.3h1.6M400 150.3h1.6M400 152.8h1.6M400 153.3h1.6M400 156.8h1.6M400 165.3h1.6M400.5 130.3h1.6M400.5 136.8h1.6M400.5 141.8h1.6M400.5 148.8h1.6M400.5 153.8h1.6M400.5 156.3h1.6M400.5 164.3h1.6M401 72.3h1.6M401 125.8h1.6M401 126.8h1.6M401 143.8h1.6M401 147.3h1.6M401 154.8h1.6M401 159.3h1.6M401 168.8h1.6M402 131.8h1.6M402 136.3h1.6M402 141.3h1.6M402 148.3h1.6M402.5 135.3h1.6M402.5 144.3h1.6M402.5 144.8h1.6M402.5 145.8h1.6M402.5 146.3h1.6M402.5 147.8h1.6M402.5 149.8h1.6M403 127.8h1.6M403 128.8h1.6M403 131.8h1.6M403 136.3h1.6M403 136.8h1.6M403.5 87.3h1.6M403.5 123.8h1.6M403.5 134.3h1.6M403.5 140.8h1.6M403.5 147.8h1.6M403.5 148.3h1.6M403.5 161.8h1.6M404 133.3h1.6M404 149.3h1.6M404 150.3h1.6M404 156.3h1.6M404 157.8h1.6M404 162.8h1.6M404.5 133.3h1.6M404.5 136.8h1.6M404.5 138.3h1.6M404.5 139.3h1.6M404.5 142.8h1.6M404.5 148.8h1.6M404.5 151.8h1.6M404.5 156.3h1.6M404.5 158.3h1.6M404.5 158.8h1.6M404.5 159.3h1.6M405 107.8h1.6M405 127.8h1.6M405 132.8h1.6M405 134.3h1.6M405 138.3h1.6M405 141.8h1.6M405 142.8h1.6M405 143.8h1.6M405 147.8h1.6M405 149.3h1.6M405 150.3h1.6M405 156.8h1.6M405 162.3h1.6M405.5 138.3h1.6M405.5 139.3h1.6M405.5 146.3h1.6M405.5 149.8h1.6M405.5 151.3h1.6M405.5 152.3h1.6M405.5 160.3h1.6M406 77.3h1.6M406 93.8h1.6M406 126.8h1.6M406 130.8h1.6M406 133.3h1.6M406 133.8h1.6M406 135.3h1.6M406 136.8h1.6M406 138.3h1.6M406 139.3h1.6M406 140.3h1.6M406 142.3h1.6M406 150.8h1.6M406 151.3h1.6M406 151.8h1.6M406 156.8h1.6M406 158.3h1.6M406 162.3h1.6M406 165.3h1.6M406 167.3h1.6M406.5 68.8h1.6M406.5 72.8h1.6M406.5 138.8h1.6M406.5 144.8h1.6M406.5 152.8h1.6M406.5 155.8h1.6M406.5 156.8h1.6M406.5 166.3h1.6M406.5 166.8h1.6M407 68.8h1.6M407 128.8h1.6M407 141.8h1.6M407 148.8h1.6M407 155.8h1.6M407 156.8h1.6M407 157.3h1.6M407 160.8h1.6M407 161.3h1.6M407 161.8h1.6M407.5 80.3h1.6M407.5 123.3h1.6M407.5 124.8h1.6M407.5 128.3h1.6M407.5 129.8h1.6M407.5 135.8h1.6M407.5 142.8h1.6M407.5 147.8h1.6M407.5 148.3h1.6M407.5 148.8h1.6M407.5 149.8h1.6M407.5 151.3h1.6M407.5 156.8h1.6M407.5 157.3h1.6M407.5 163.8h1.6M407.5 165.3h1.6M407.5 166.8h1.6M407.5 167.8h1.6M408 81.3h1.6M408 106.3h1.6M408 116.3h1.6M408 126.3h1.6M408 132.3h1.6M408 135.8h1.6M408 136.3h1.6M408 139.3h1.6M408 143.8h1.6M408 149.3h1.6M408 150.3h1.6M408 153.3h1.6M408 166.3h1.6M408.5 80.3h1.6M408.5 83.8h1.6M408.5 133.3h1.6M408.5 133.8h1.6M408.5 140.3h1.6M408.5 147.3h1.6M408.5 148.8h1.6M408.5 149.3h1.6M408.5 152.3h1.6M408.5 152.8h1.6M408.5 153.3h1.6M408.5 158.3h1.6M408.5 162.3h1.6M408.5 165.8h1.6M409 95.3h1.6M409 119.8h1.6M409 132.8h1.6M409 135.3h1.6M409 137.8h1.6M409 143.8h1.6M409 156.3h1.6M409 157.8h1.6M409 160.3h1.6M409 163.8h1.6M409.5 102.3h1.6M409.5 123.8h1.6M409.5 131.8h1.6M409.5 134.8h1.6M409.5 137.3h1.6M409.5 137.8h1.6M409.5 139.3h1.6M409.5 140.8h1.6M409.5 142.3h1.6M409.5 143.3h1.6M409.5 144.3h1.6M409.5 154.3h1.6M409.5 159.3h1.6M409.5 163.8h1.6M409.5 164.8h1.6M409.5 166.3h1.6M410 65.8h1.6M410 70.3h1.6M410 73.3h1.6M410 77.3h1.6M410 103.8h1.6M410 124.8h1.6M410 126.8h1.6M410 134.3h1.6M410 136.3h1.6M410 142.8h1.6M410 146.3h1.6M410 148.8h1.6M410 153.8h1.6M410 155.3h1.6M410 157.8h1.6M410 158.3h1.6M410 159.8h1.6M410 161.8h1.6M410.5 64.3h1.6M410.5 68.8h1.6M410.5 126.8h1.6M410.5 129.3h1.6M410.5 139.3h1.6M410.5 139.8h1.6M410.5 142.8h1.6M410.5 143.3h1.6M410.5 144.3h1.6M410.5 147.8h1.6M410.5 148.8h1.6M410.5 150.3h1.6M410.5 151.8h1.6M410.5 154.3h1.6M410.5 156.3h1.6M410.5 158.3h1.6M410.5 163.3h1.6M410.5 166.3h1.6M410.5 167.3h1.6M411 125.3h1.6M411 128.8h1.6M411 141.8h1.6M411 146.3h1.6M411 148.8h1.6M411 153.8h1.6M411 155.3h1.6M411 155.8h1.6M411 156.3h1.6M411 161.3h1.6M411 164.8h1.6M411 166.8h1.6M411 167.8h1.6M411 168.3h1.6M411.5 64.8h1.6M411.5 70.3h1.6M411.5 89.3h1.6M411.5 98.8h1.6M411.5 124.3h1.6M411.5 135.3h1.6M411.5 139.8h1.6M411.5 141.3h1.6M411.5 141.8h1.6M411.5 143.3h1.6M411.5 143.8h1.6M411.5 148.3h1.6M411.5 149.3h1.6M411.5 150.8h1.6M411.5 158.8h1.6M411.5 161.3h1.6M411.5 165.8h1.6M411.5 166.8h1.6M412 114.8h1.6M412 121.8h1.6M412 125.8h1.6M412 140.8h1.6M412 145.8h1.6M412 148.8h1.6M412 149.8h1.6M412 153.8h1.6M412 155.3h1.6M412 157.3h1.6M412.5 65.8h1.6M412.5 98.8h1.6M412.5 121.8h1.6M412.5 122.8h1.6M412.5 131.8h1.6M412.5 134.3h1.6M412.5 135.8h1.6M412.5 140.8h1.6M412.5 142.3h1.6M412.5 142.8h1.6M412.5 148.8h1.6M412.5 151.8h1.6M412.5 154.8h1.6M412.5 159.3h1.6M412.5 166.3h1.6M413 115.8h1.6M413 125.3h1.6M413 130.3h1.6M413 148.8h1.6M413 149.3h1.6M413 151.3h1.6M413 153.3h1.6M413 158.3h1.6M413.5 96.3h1.6M413.5 98.8h1.6M413.5 122.8h1.6M413.5 124.8h1.6M413.5 126.8h1.6M413.5 128.8h1.6M413.5 132.3h1.6M413.5 132.8h1.6M413.5 135.3h1.6M413.5 136.8h1.6M413.5 139.8h1.6M413.5 140.3h1.6M413.5 140.8h1.6M413.5 148.8h1.6M413.5 165.3h1.6M413.5 166.8h1.6M414 71.3h1.6M414 103.3h1.6M414 128.8h1.6M414 130.3h1.6M414 131.8h1.6M414 141.8h1.6M414 142.8h1.6M414 144.3h1.6M414 147.3h1.6M414 151.3h1.6M414 151.8h1.6M414 155.8h1.6M414 158.3h1.6M414 160.3h1.6M414 160.8h1.6M414 168.8h1.6M414.5 123.3h1.6M414.5 125.3h1.6M414.5 127.3h1.6M414.5 134.3h1.6M414.5 141.3h1.6M414.5 142.3h1.6M414.5 144.3h1.6M414.5 144.8h1.6M414.5 150.8h1.6M414.5 160.8h1.6M414.5 164.8h1.6M414.5 165.3h1.6M414.5 167.3h1.6M414.5 167.8h1.6M415 88.8h1.6M415 89.3h1.6M415 107.8h1.6M415 123.8h1.6M415 127.3h1.6M415 130.3h1.6M415 131.8h1.6M415 136.8h1.6M415 137.8h1.6M415 150.3h1.6M415 151.8h1.6M415 154.3h1.6M415 155.3h1.6M415 160.8h1.6M415 161.8h1.6M415 168.3h1.6M415.5 101.3h1.6M415.5 104.3h1.6M415.5 109.8h1.6M415.5 122.3h1.6M415.5 123.8h1.6M415.5 129.3h1.6M415.5 129.8h1.6M415.5 141.8h1.6M415.5 144.3h1.6M415.5 150.3h1.6M415.5 152.3h1.6M415.5 153.3h1.6M415.5 157.8h1.6M415.5 158.3h1.6M415.5 158.8h1.6M415.5 161.3h1.6M415.5 163.3h1.6M415.5 164.3h1.6M416 90.3h1.6M416 102.8h1.6M416 106.3h1.6M416 108.8h1.6M416 116.3h1.6M416 126.8h1.6M416 134.8h1.6M416 138.3h1.6M416 143.3h1.6M416 145.3h1.6M416 145.8h1.6M416 148.8h1.6M416 151.8h1.6M416 152.8h1.6M416 153.3h1.6M416 156.8h1.6M416 158.8h1.6M416 161.8h1.6M416 165.3h1.6M416.5 78.3h1.6M416.5 116.3h1.6M416.5 120.8h1.6M416.5 127.8h1.6M416.5 130.8h1.6M416.5 135.3h1.6M416.5 142.3h1.6M416.5 145.3h1.6M416.5 146.8h1.6M416.5 148.8h1.6M416.5 149.3h1.6M416.5 154.3h1.6M416.5 158.3h1.6M416.5 168.8h1.6M417 66.3h1.6M417 97.3h1.6M417 122.3h1.6M417 128.8h1.6M417 130.8h1.6M417 134.8h1.6M417 141.8h1.6M417 151.8h1.6M417 154.3h1.6M417 159.3h1.6M417 164.8h1.6M417.5 70.8h1.6M417.5 84.8h1.6M417.5 102.8h1.6M417.5 127.3h1.6M417.5 139.8h1.6M417.5 141.8h1.6M417.5 144.3h1.6M417.5 145.8h1.6M417.5 154.8h1.6M417.5 160.3h1.6M417.5 161.3h1.6M417.5 165.8h1.6M417.5 166.8h1.6M417.5 167.8h1.6M418 93.3h1.6M418 93.8h1.6M418 98.3h1.6M418 104.3h1.6M418 113.3h1.6M418 113.8h1.6M418 120.3h1.6M418 128.3h1.6M418 132.8h1.6M418 140.8h1.6M418 141.8h1.6M418 149.3h1.6M418 152.8h1.6M418 157.8h1.6M418 160.8h1.6M418 161.3h1.6M418 165.3h1.6M418.5 72.8h1.6M418.5 73.3h1.6M418.5 74.3h1.6M418.5 89.3h1.6M418.5 90.3h1.6M418.5 90.8h1.6M418.5 103.8h1.6M418.5 111.8h1.6M418.5 113.8h1.6M418.5 121.8h1.6M418.5 128.3h1.6M418.5 133.3h1.6M418.5 135.3h1.6M418.5 136.3h1.6M418.5 137.8h1.6M418.5 138.8h1.6M418.5 145.3h1.6M418.5 147.3h1.6M418.5 150.8h1.6M418.5 154.8h1.6M418.5 157.3h1.6M418.5 163.3h1.6M419 72.3h1.6M419 76.8h1.6M419 95.3h1.6M419 96.8h1.6M419 102.8h1.6M419 124.8h1.6M419 128.8h1.6M419 131.8h1.6M419 132.3h1.6M419 136.3h1.6M419 136.8h1.6M419 148.3h1.6M419 154.8h1.6M419 159.8h1.6M419 160.8h1.6M419 161.8h1.6M419 164.8h1.6M419.5 70.3h1.6M419.5 72.8h1.6M419.5 83.3h1.6M419.5 91.8h1.6M419.5 96.3h1.6M419.5 111.8h1.6M419.5 124.8h1.6M419.5 130.8h1.6M419.5 132.3h1.6M419.5 134.3h1.6M419.5 136.3h1.6M419.5 137.3h1.6M419.5 140.3h1.6M419.5 141.8h1.6M419.5 142.3h1.6M419.5 143.3h1.6M419.5 144.3h1.6M419.5 144.8h1.6M419.5 149.3h1.6M419.5 153.8h1.6M419.5 156.8h1.6M419.5 159.3h1.6M419.5 160.3h1.6M419.5 161.3h1.6M419.5 162.3h1.6M419.5 166.3h1.6M420 67.3h1.6M420 68.8h1.6M420 72.8h1.6M420 73.8h1.6M420 89.3h1.6M420 94.3h1.6M420 98.3h1.6M420 99.3h1.6M420 100.8h1.6M420 113.8h1.6M420 116.8h1.6M420 118.3h1.6M420 124.3h1.6M420 134.3h1.6M420 134.8h1.6M420 138.8h1.6M420 140.3h1.6M420 142.3h1.6M420 143.8h1.6M420 145.8h1.6M420 159.3h1.6M420 165.3h1.6M420 168.8h1.6M420.5 74.3h1.6M420.5 74.8h1.6M420.5 75.3h1.6M420.5 85.3h1.6M420.5 92.8h1.6M420.5 99.3h1.6M420.5 103.8h1.6M420.5 104.8h1.6M420.5 126.8h1.6M420.5 129.3h1.6M420.5 130.3h1.6M420.5 131.3h1.6M420.5 132.8h1.6M420.5 133.3h1.6M420.5 138.8h1.6M420.5 140.3h1.6M420.5 150.8h1.6M420.5 151.3h1.6M420.5 151.8h1.6M420.5 152.3h1.6M420.5 153.8h1.6M420.5 156.8h1.6M420.5 157.3h1.6M420.5 162.3h1.6M420.5 162.8h1.6M421 66.8h1.6M421 69.3h1.6M421 75.3h1.6M421 78.3h1.6M421 91.8h1.6M421 92.3h1.6M421 93.3h1.6M421 94.8h1.6M421 97.3h1.6M421 104.3h1.6M421 111.3h1.6M421 116.8h1.6M421 129.8h1.6M421 137.8h1.6M421 141.3h1.6M421 150.8h1.6M421 158.8h1.6M421 160.8h1.6M421 161.8h1.6M421 163.8h1.6M421.5 70.8h1.6M421.5 71.3h1.6M421.5 71.8h1.6M421.5 73.8h1.6M421.5 74.3h1.6M421.5 77.8h1.6M421.5 87.8h1.6M421.5 91.3h1.6M421.5 92.3h1.6M421.5 96.3h1.6M421.5 98.3h1.6M421.5 102.3h1.6M421.5 116.3h1.6M421.5 126.3h1.6M421.5 132.3h1.6M421.5 132.8h1.6M421.5 136.3h1.6M421.5 136.8h1.6M421.5 138.3h1.6M421.5 140.3h1.6M421.5 140.8h1.6M421.5 141.8h1.6M421.5 142.8h1.6M421.5 144.3h1.6M421.5 146.3h1.6M421.5 150.3h1.6M421.5 150.8h1.6M421.5 154.3h1.6M421.5 155.3h1.6M421.5 158.3h1.6M421.5 160.3h1.6M421.5 162.8h1.6M421.5 163.3h1.6M421.5 164.3h1.6M422 65.3h1.6M422 71.3h1.6M422 72.3h1.6M422 73.8h1.6M422 74.3h1.6M422 77.3h1.6M422 79.3h1.6M422 93.3h1.6M422 95.3h1.6M422 96.8h1.6M422 97.3h1.6M422 99.8h1.6M422 106.3h1.6M422 112.3h1.6M422 116.3h1.6M422 123.8h1.6M422 128.8h1.6M422 131.8h1.6M422 133.3h1.6M422 139.3h1.6M422 142.3h1.6M422 143.8h1.6M422 145.8h1.6M422 153.3h1.6M422 157.3h1.6M422 158.8h1.6M422 165.8h1.6M422.5 67.3h1.6M422.5 70.8h1.6M422.5 74.3h1.6M422.5 75.8h1.6M422.5 79.8h1.6M422.5 82.8h1.6M422.5 86.8h1.6M422.5 91.3h1.6M422.5 92.8h1.6M422.5 101.3h1.6M422.5 105.3h1.6M422.5 110.3h1.6M422.5 110.8h1.6M422.5 114.8h1.6M422.5 117.8h1.6M422.5 123.3h1.6M422.5 139.3h1.6M422.5 148.8h1.6M422.5 149.3h1.6M422.5 150.3h1.6M422.5 152.3h1.6M422.5 156.3h1.6M422.5 160.8h1.6M422.5 163.3h1.6M422.5 168.8h1.6M423 66.8h1.6M423 70.3h1.6M423 70.8h1.6M423 71.8h1.6M423 72.8h1.6M423 73.8h1.6M423 79.8h1.6M423 80.3h1.6M423 83.3h1.6M423 85.8h1.6M423 90.8h1.6M423 91.8h1.6M423 102.3h1.6M423 106.3h1.6M423 107.3h1.6M423 111.8h1.6M423 114.3h1.6M423 118.3h1.6M423 125.8h1.6M423 126.8h1.6M423 137.8h1.6M423 140.3h1.6M423 140.8h1.6M423 143.3h1.6M423 148.8h1.6M423 151.8h1.6M423 160.3h1.6M423 165.3h1.6M423.5 69.8h1.6M423.5 74.8h1.6M423.5 75.3h1.6M423.5 76.8h1.6M423.5 77.3h1.6M423.5 80.8h1.6M423.5 82.3h1.6M423.5 84.8h1.6M423.5 88.3h1.6M423.5 98.3h1.6M423.5 100.3h1.6M423.5 117.3h1.6M423.5 122.8h1.6M423.5 124.3h1.6M423.5 127.8h1.6M423.5 128.3h1.6M423.5 130.8h1.6M423.5 131.8h1.6M423.5 132.3h1.6M423.5 133.3h1.6M423.5 146.8h1.6M423.5 147.3h1.6M423.5 147.8h1.6M423.5 148.8h1.6M423.5 149.8h1.6M423.5 159.8h1.6M423.5 166.3h1.6M424 63.3h1.6M424 65.3h1.6M424 68.8h1.6M424 69.3h1.6M424 70.3h1.6M424 70.8h1.6M424 71.8h1.6M424 72.3h1.6M424 77.8h1.6M424 80.3h1.6M424 83.3h1.6M424 96.8h1.6M424 102.8h1.6M424 106.8h1.6M424 109.3h1.6M424 126.3h1.6M424 129.8h1.6M424 133.8h1.6M424 137.3h1.6M424 139.3h1.6M424 140.3h1.6M424 144.3h1.6M424 148.8h1.6M424 151.3h1.6M424 154.3h1.6M424 167.8h1.6M424.5 66.8h1.6M424.5 71.3h1.6M424.5 74.8h1.6M424.5 77.3h1.6M424.5 79.8h1.6M424.5 82.3h1.6M424.5 90.3h1.6M424.5 99.8h1.6M424.5 103.3h1.6M424.5 104.8h1.6M424.5 110.8h1.6M424.5 112.8h1.6M424.5 113.3h1.6M424.5 118.8h1.6M424.5 134.8h1.6M424.5 140.8h1.6M424.5 152.3h1.6M424.5 155.3h1.6M424.5 159.3h1.6M424.5 160.8h1.6M424.5 164.3h1.6M425 64.8h1.6M425 66.3h1.6M425 67.8h1.6M425 73.3h1.6M425 77.3h1.6M425 80.3h1.6M425 98.3h1.6M425 101.3h1.6M425 102.3h1.6M425 115.3h1.6M425 125.3h1.6M425 132.8h1.6M425 134.8h1.6M425 138.3h1.6M425 141.8h1.6M425 150.8h1.6M425 151.8h1.6M425 153.3h1.6M425 153.8h1.6M425 156.8h1.6M425.5 65.8h1.6M425.5 66.3h1.6M425.5 67.8h1.6M425.5 69.8h1.6M425.5 70.8h1.6M425.5 78.3h1.6M425.5 81.3h1.6M425.5 84.3h1.6M425.5 92.3h1.6M425.5 108.3h1.6M425.5 113.8h1.6M425.5 118.8h1.6M425.5 121.8h1.6M425.5 126.8h1.6M425.5 136.8h1.6M425.5 137.3h1.6M425.5 151.8h1.6M425.5 152.8h1.6M425.5 153.3h1.6M425.5 158.8h1.6M425.5 160.8h1.6M426 64.8h1.6M426 66.8h1.6M426 69.8h1.6M426 70.8h1.6M426 72.8h1.6M426 77.8h1.6M426 78.3h1.6M426 85.3h1.6M426 90.3h1.6M426 98.3h1.6M426 98.8h1.6M426 100.8h1.6M426 106.8h1.6M426 109.3h1.6M426 110.8h1.6M426 125.3h1.6M426 129.3h1.6M426 129.8h1.6M426 133.3h1.6M426 140.3h1.6M426 153.3h1.6M426 162.3h1.6M426 162.8h1.6M426 163.8h1.6M426.5 66.8h1.6M426.5 71.3h1.6M426.5 72.8h1.6M426.5 77.3h1.6M426.5 78.3h1.6M426.5 78.8h1.6M426.5 80.3h1.6M426.5 83.8h1.6M426.5 85.3h1.6M426.5 86.3h1.6M426.5 90.3h1.6M426.5 90.8h1.6M426.5 98.3h1.6M426.5 100.3h1.6M426.5 100.8h1.6M426.5 105.3h1.6M426.5 106.3h1.6M426.5 108.3h1.6M426.5 108.8h1.6M426.5 117.3h1.6M426.5 122.3h1.6M426.5 125.8h1.6M426.5 128.8h1.6M426.5 130.8h1.6M426.5 137.8h1.6M426.5 140.8h1.6M426.5 141.8h1.6M426.5 146.8h1.6M426.5 168.8h1.6M427 67.8h1.6M427 69.3h1.6M427 72.3h1.6M427 82.3h1.6M427 91.3h1.6M427 96.8h1.6M427 101.8h1.6M427 111.8h1.6M427 129.3h1.6M427 136.3h1.6M427 137.3h1.6M427 138.8h1.6M427 147.3h1.6M427 147.8h1.6M427 158.3h1.6M427 162.3h1.6M427.5 66.8h1.6M427.5 67.8h1.6M427.5 69.8h1.6M427.5 70.3h1.6M427.5 71.3h1.6M427.5 73.3h1.6M427.5 77.8h1.6M427.5 78.8h1.6M427.5 84.3h1.6M427.5 86.3h1.6M427.5 99.8h1.6M427.5 112.8h1.6M427.5 113.8h1.6M427.5 114.3h1.6M427.5 128.3h1.6M427.5 129.8h1.6M427.5 146.8h1.6M427.5 156.8h1.6M427.5 157.3h1.6M427.5 167.3h1.6M428 71.8h1.6M428 72.8h1.6M428 74.8h1.6M428 76.8h1.6M428 79.8h1.6M428 82.8h1.6M428 84.8h1.6M428 91.3h1.6M428 104.3h1.6M428 104.8h1.6M428 107.8h1.6M428 111.8h1.6M428 114.3h1.6M428 115.8h1.6M428 116.3h1.6M428 117.3h1.6M428 125.8h1.6M428 129.3h1.6M428 140.8h1.6M428 141.8h1.6M428 143.3h1.6M428 144.3h1.6M428 149.3h1.6M428 155.3h1.6M428.5 63.8h1.6M428.5 67.8h1.6M428.5 68.8h1.6M428.5 72.3h1.6M428.5 73.8h1.6M428.5 75.3h1.6M428.5 76.8h1.6M428.5 78.3h1.6M428.5 79.3h1.6M428.5 82.3h1.6M428.5 84.8h1.6M428.5 91.8h1.6M428.5 94.8h1.6M428.5 99.8h1.6M428.5 100.3h1.6M428.5 104.3h1.6M428.5 108.3h1.6M428.5 110.3h1.6M428.5 115.3h1.6M428.5 117.8h1.6M428.5 132.3h1.6M428.5 136.8h1.6M428.5 142.3h1.6M428.5 143.3h1.6M428.5 144.3h1.6M428.5 149.8h1.6M428.5 157.8h1.6M428.5 160.3h1.6M428.5 161.8h1.6M428.5 165.8h1.6M429 69.3h1.6M429 74.8h1.6M429 80.3h1.6M429 81.3h1.6M429 92.8h1.6M429 99.3h1.6M429 101.3h1.6M429 104.3h1.6M429 104.8h1.6M429 107.3h1.6M429 128.8h1.6M429 130.3h1.6M429 134.3h1.6M429 153.8h1.6M429 156.3h1.6M429 156.8h1.6M429.5 64.8h1.6M429.5 67.8h1.6M429.5 68.8h1.6M429.5 70.3h1.6M429.5 74.3h1.6M429.5 74.8h1.6M429.5 80.3h1.6M429.5 99.8h1.6M429.5 101.8h1.6M429.5 104.8h1.6M429.5 105.8h1.6M429.5 109.3h1.6M429.5 136.3h1.6M429.5 151.3h1.6M429.5 152.3h1.6M429.5 154.8h1.6M429.5 159.8h1.6M429.5 163.3h1.6M429.5 164.3h1.6M430 65.3h1.6M430 67.8h1.6M430 68.3h1.6M430 72.3h1.6M430 72.8h1.6M430 75.8h1.6M430 77.3h1.6M430 79.3h1.6M430 79.8h1.6M430 80.8h1.6M430 83.8h1.6M430 97.3h1.6M430 112.8h1.6M430 120.8h1.6M430 133.8h1.6M430 140.3h1.6M430 150.8h1.6M430 155.3h1.6M430 157.8h1.6M430 163.3h1.6M430.5 68.8h1.6M430.5 69.8h1.6M430.5 72.8h1.6M430.5 74.8h1.6M430.5 79.8h1.6M430.5 81.3h1.6M430.5 83.3h1.6M430.5 84.8h1.6M430.5 89.3h1.6M430.5 107.3h1.6M430.5 108.3h1.6M430.5 109.3h1.6M430.5 123.8h1.6M430.5 126.8h1.6M430.5 129.8h1.6M430.5 132.3h1.6M430.5 146.3h1.6M430.5 153.3h1.6M430.5 157.8h1.6M430.5 162.8h1.6M431 65.8h1.6M431 66.8h1.6M431 70.8h1.6M431 71.3h1.6M431 74.8h1.6M431 77.3h1.6M431 79.8h1.6M431 96.3h1.6M431 97.3h1.6M431 103.8h1.6M431 104.3h1.6M431 105.8h1.6M431 109.3h1.6M431 120.3h1.6M431 132.3h1.6M431 135.3h1.6M431 137.8h1.6M431 144.3h1.6M431 146.3h1.6M431 149.8h1.6M431 153.8h1.6M431 157.3h1.6M431.5 66.3h1.6M431.5 66.8h1.6M431.5 70.3h1.6M431.5 71.3h1.6M431.5 74.3h1.6M431.5 77.3h1.6M431.5 77.8h1.6M431.5 78.3h1.6M431.5 80.3h1.6M431.5 85.3h1.6M431.5 94.8h1.6M431.5 96.3h1.6M431.5 96.8h1.6M431.5 101.8h1.6M431.5 110.3h1.6M431.5 115.8h1.6M431.5 119.8h1.6M431.5 127.3h1.6M431.5 138.3h1.6M431.5 142.3h1.6M431.5 151.8h1.6M431.5 154.3h1.6M431.5 154.8h1.6M431.5 157.8h1.6M431.5 161.8h1.6M432 59.8h1.6M432 65.3h1.6M432 69.8h1.6M432 70.8h1.6M432 73.3h1.6M432 75.8h1.6M432 77.3h1.6M432 78.3h1.6M432 80.3h1.6M432 90.8h1.6M432 95.8h1.6M432 100.3h1.6M432 122.8h1.6M432 125.3h1.6M432 134.3h1.6M432 146.8h1.6M432 153.8h1.6M432 154.3h1.6M432 156.8h1.6M432.5 66.3h1.6M432.5 70.8h1.6M432.5 72.8h1.6M432.5 73.8h1.6M432.5 75.8h1.6M432.5 76.8h1.6M432.5 78.8h1.6M432.5 82.8h1.6M432.5 98.8h1.6M432.5 108.3h1.6M432.5 109.8h1.6M432.5 110.3h1.6M432.5 141.8h1.6M432.5 146.8h1.6M432.5 153.8h1.6M433 64.8h1.6M433 65.8h1.6M433 66.3h1.6M433 67.8h1.6M433 69.8h1.6M433 70.3h1.6M433 70.8h1.6M433 71.3h1.6M433 73.8h1.6M433 75.8h1.6M433 79.8h1.6M433 80.8h1.6M433 82.8h1.6M433 88.8h1.6M433 99.3h1.6M433 116.3h1.6M433 138.3h1.6M433 147.8h1.6M433 154.3h1.6M433.5 65.3h1.6M433.5 68.8h1.6M433.5 69.3h1.6M433.5 75.3h1.6M433.5 75.8h1.6M433.5 80.8h1.6M433.5 82.3h1.6M433.5 98.8h1.6M433.5 102.8h1.6M433.5 143.8h1.6M433.5 157.3h1.6M434 65.3h1.6M434 73.3h1.6M434 74.8h1.6M434 75.3h1.6M434 75.8h1.6M434 76.8h1.6M434 78.8h1.6M434 80.8h1.6M434 83.8h1.6M434 85.3h1.6M434 86.3h1.6M434 88.8h1.6M434 103.8h1.6M434 113.8h1.6M434 136.8h1.6M434 161.8h1.6M434.5 68.3h1.6M434.5 70.3h1.6M434.5 71.8h1.6M434.5 74.3h1.6M434.5 78.3h1.6M434.5 82.3h1.6M434.5 99.3h1.6M434.5 114.8h1.6M434.5 131.3h1.6M435 73.8h1.6M435 75.8h1.6M435 78.8h1.6M435 79.3h1.6M435 82.3h1.6M435 86.8h1.6M435 89.8h1.6M435 93.8h1.6M435 95.3h1.6M435 111.8h1.6M435 144.3h1.6M435.5 66.8h1.6M435.5 67.3h1.6M435.5 76.8h1.6M435.5 79.8h1.6M435.5 81.3h1.6M435.5 82.8h1.6M435.5 84.8h1.6M435.5 100.3h1.6M435.5 107.3h1.6M435.5 111.8h1.6M435.5 116.3h1.6M435.5 147.8h1.6M435.5 148.3h1.6M436 63.3h1.6M436 65.3h1.6M436 69.3h1.6M436 73.8h1.6M436 77.8h1.6M436 78.8h1.6M436 79.8h1.6M436 80.8h1.6M436 95.8h1.6M436 104.3h1.6M436 106.3h1.6M436.5 61.3h1.6M436.5 62.8h1.6M436.5 64.8h1.6M436.5 66.3h1.6M436.5 69.8h1.6M436.5 71.8h1.6M436.5 92.8h1.6M436.5 122.3h1.6M437 63.3h1.6M437 68.3h1.6M437 73.3h1.6M437 74.8h1.6M437 76.8h1.6M437 78.3h1.6M437 84.3h1.6M437.5 63.8h1.6M437.5 65.8h1.6M437.5 67.8h1.6M437.5 68.3h1.6M437.5 68.8h1.6M437.5 75.8h1.6M437.5 76.8h1.6M437.5 77.8h1.6M437.5 78.3h1.6M437.5 78.8h1.6M437.5 90.3h1.6M437.5 98.3h1.6M438 64.8h1.6M438 67.3h1.6M438 70.3h1.6M438 71.3h1.6M438 74.8h1.6M438 75.3h1.6M438 75.8h1.6M438 76.8h1.6M438 78.8h1.6M438 80.3h1.6M438 101.3h1.6M438 131.8h1.6M438 134.3h1.6M438.5 67.3h1.6M438.5 71.8h1.6M438.5 78.8h1.6M438.5 82.3h1.6M439 63.8h1.6M439 72.8h1.6M439 73.3h1.6M439 75.8h1.6M439 85.8h1.6M439 91.8h1.6M439.5 70.3h1.6M439.5 71.8h1.6M439.5 75.8h1.6M439.5 79.8h1.6M439.5 80.8h1.6M439.5 82.3h1.6M439.5 83.3h1.6M440 61.8h1.6M440 68.8h1.6M440 69.3h1.6M440 70.8h1.6M440 71.3h1.6M440 72.3h1.6M440 72.8h1.6M440 76.3h1.6M440 77.8h1.6M440 81.8h1.6M440 84.3h1.6M440 117.8h1.6M440.5 67.3h1.6M440.5 68.3h1.6M440.5 72.3h1.6M440.5 73.3h1.6M440.5 75.3h1.6M440.5 75.8h1.6M440.5 76.3h1.6M440.5 78.3h1.6M440.5 83.3h1.6M440.5 84.3h1.6M441 65.3h1.6M441 66.3h1.6M441 77.8h1.6M441.5 64.3h1.6M441.5 67.3h1.6M441.5 68.8h1.6M441.5 71.8h1.6M441.5 72.3h1.6M441.5 74.3h1.6M441.5 75.8h1.6M441.5 81.8h1.6M441.5 85.8h1.6M442 62.3h1.6M442 65.3h1.6M442 65.8h1.6M442 68.3h1.6M442 69.3h1.6M442 69.8h1.6M442 73.3h1.6M442 75.3h1.6M442 76.8h1.6M442 79.8h1.6M442 81.3h1.6M442 82.3h1.6M442 83.8h1.6M442 112.8h1.6M442 140.3h1.6M442.5 63.8h1.6M442.5 65.8h1.6M442.5 67.3h1.6M442.5 68.3h1.6M442.5 68.8h1.6M442.5 69.3h1.6M442.5 72.8h1.6M442.5 79.3h1.6M442.5 79.8h1.6M442.5 80.8h1.6M442.5 81.8h1.6M442.5 82.8h1.6M442.5 125.3h1.6M443 64.3h1.6M443 67.3h1.6M443 69.8h1.6M443 70.3h1.6M443 71.3h1.6M443 74.8h1.6M443 76.8h1.6M443 79.3h1.6M443 82.8h1.6M443.5 65.3h1.6M443.5 66.8h1.6M443.5 67.8h1.6M443.5 71.8h1.6M443.5 73.3h1.6M443.5 74.3h1.6M443.5 76.8h1.6M443.5 78.3h1.6M443.5 79.3h1.6M443.5 85.3h1.6M443.5 145.8h1.6M444 67.3h1.6M444 68.8h1.6M444 73.3h1.6M444 74.8h1.6M444 93.8h1.6M444.5 71.8h1.6M444.5 72.3h1.6M444.5 76.8h1.6M444.5 79.8h1.6M445 67.8h1.6M445 69.8h1.6M445 70.8h1.6M445 71.8h1.6M445 77.8h1.6M445 79.3h1.6M445 81.3h1.6M445 81.8h1.6M445.5 64.3h1.6M445.5 72.3h1.6M445.5 75.8h1.6M445.5 78.8h1.6M445.5 79.8h1.6M446 66.8h1.6M446 67.8h1.6M446 71.3h1.6M446 73.3h1.6M446 74.3h1.6M446 79.8h1.6M446 125.8h1.6M446.5 69.3h1.6M446.5 70.8h1.6M446.5 81.3h1.6M446.5 81.8h1.6M447 67.8h1.6M447 70.3h1.6M447 72.3h1.6M447 72.8h1.6M447 81.3h1.6M447.5 67.3h1.6M447.5 68.8h1.6M447.5 72.8h1.6M447.5 76.3h1.6M447.5 79.3h1.6M447.5 141.8h1.6M448 68.8h1.6M448 71.8h1.6M448 72.8h1.6M448 73.8h1.6M448 74.8h1.6M448 75.3h1.6M448.5 64.3h1.6M448.5 71.3h1.6M448.5 72.3h1.6M448.5 74.3h1.6M448.5 133.8h1.6M449 71.8h1.6M449 73.8h1.6M449 75.8h1.6M449.5 71.8h1.6M449.5 75.3h1.6M450 76.8h1.6M450.5 72.3h1.6M451 72.8h1.6M451 73.3h1.6M451 76.3h1.6M451 132.3h1.6M453 121.3h1.6M454.5 134.3h1.6M456.5 121.3h1.6M460 74.3h1.6M462.5 85.8h1.6M462.5 127.3h1.6M466.5 143.3h1.6M467.5 126.3h1.6M468 69.8h1.6M468 112.3h1.6M469.5 143.3h1.6M471 132.8h1.6M475.5 125.3h1.6M475.5 126.3h1.6M476.5 61.3h1.6M476.5 70.3h1.6M477 137.3h1.6M477.5 95.8h1.6M477.5 151.8h1.6M479.5 105.8h1.6" stroke="#0a0a0a" stroke-width="1.6" fill="none"/><path d="M321 284.3h1.6M321 292.3h1.6M321 292.8h1.6M321 293.3h1.6M321 295.3h1.6M321 297.3h1.6M321 298.3h1.6M321 301.3h1.6M321 308.8h1.6M321.5 284.3h1.6M321.5 286.8h1.6M321.5 287.3h1.6M321.5 288.3h1.6M321.5 289.8h1.6M321.5 291.3h1.6M321.5 292.3h1.6M321.5 295.8h1.6M321.5 296.3h1.6M321.5 297.8h1.6M321.5 298.8h1.6M321.5 302.3h1.6M321.5 303.3h1.6M321.5 306.8h1.6M321.5 307.8h1.6M321.5 310.8h1.6M321.5 317.3h1.6M321.5 323.3h1.6M322 286.8h1.6M322 288.8h1.6M322 290.3h1.6M322 291.3h1.6M322 294.8h1.6M322 295.3h1.6M322 297.8h1.6M322 308.8h1.6M322 309.3h1.6M322 340.3h1.6M322.5 286.8h1.6M322.5 288.8h1.6M322.5 289.8h1.6M322.5 292.8h1.6M322.5 294.3h1.6M322.5 295.8h1.6M322.5 298.3h1.6M322.5 298.8h1.6M322.5 300.3h1.6M322.5 300.8h1.6M322.5 304.8h1.6M322.5 310.3h1.6M322.5 318.3h1.6M322.5 319.8h1.6M322.5 336.8h1.6M322.5 340.3h1.6M322.5 350.3h1.6M323 291.3h1.6M323 293.8h1.6M323 294.3h1.6M323 295.3h1.6M323 295.8h1.6M323 299.8h1.6M323 300.3h1.6M323 301.3h1.6M323 302.3h1.6M323 303.8h1.6M323 304.8h1.6M323 306.3h1.6M323 306.8h1.6M323 308.3h1.6M323 310.3h1.6M323 310.8h1.6M323 318.3h1.6M323 325.3h1.6M323 354.3h1.6M323 363.8h1.6M323.5 286.8h1.6M323.5 289.3h1.6M323.5 291.8h1.6M323.5 292.3h1.6M323.5 293.3h1.6M323.5 295.8h1.6M323.5 298.8h1.6M323.5 299.3h1.6M323.5 300.8h1.6M323.5 301.3h1.6M323.5 301.8h1.6M323.5 302.3h1.6M323.5 305.8h1.6M323.5 306.8h1.6M323.5 307.8h1.6M323.5 311.8h1.6M323.5 321.8h1.6M323.5 329.3h1.6M323.5 352.3h1.6M323.5 370.3h1.6M324 279.3h1.6M324 287.3h1.6M324 288.3h1.6M324 289.8h1.6M324 291.3h1.6M324 293.8h1.6M324 294.3h1.6M324 297.3h1.6M324 298.8h1.6M324 299.8h1.6M324 301.3h1.6M324 302.8h1.6M324 303.8h1.6M324 304.8h1.6M324 305.3h1.6M324 305.8h1.6M324 306.8h1.6M324 311.3h1.6M324 311.8h1.6M324 312.8h1.6M324 334.3h1.6M324.5 271.8h1.6M324.5 286.8h1.6M324.5 288.3h1.6M324.5 289.3h1.6M324.5 289.8h1.6M324.5 291.3h1.6M324.5 291.8h1.6M324.5 293.8h1.6M324.5 294.3h1.6M324.5 294.8h1.6M324.5 295.3h1.6M324.5 295.8h1.6M324.5 296.8h1.6M324.5 297.3h1.6M324.5 300.8h1.6M324.5 301.8h1.6M324.5 302.8h1.6M324.5 303.3h1.6M324.5 305.8h1.6M324.5 306.3h1.6M324.5 307.3h1.6M324.5 308.8h1.6M324.5 309.3h1.6M324.5 350.8h1.6M325 283.8h1.6M325 286.8h1.6M325 288.3h1.6M325 289.3h1.6M325 292.3h1.6M325 293.8h1.6M325 294.3h1.6M325 294.8h1.6M325 296.8h1.6M325 298.3h1.6M325 298.8h1.6M325 301.3h1.6M325 302.3h1.6M325 303.8h1.6M325 304.8h1.6M325 305.3h1.6M325 305.8h1.6M325 306.3h1.6M325 306.8h1.6M325 307.8h1.6M325 308.8h1.6M325 309.3h1.6M325 309.8h1.6M325 310.3h1.6M325 310.8h1.6M325 312.8h1.6M325 313.3h1.6M325 323.8h1.6M325 346.3h1.6M325 362.3h1.6M325.5 288.8h1.6M325.5 290.3h1.6M325.5 292.3h1.6M325.5 293.3h1.6M325.5 294.8h1.6M325.5 296.3h1.6M325.5 296.8h1.6M325.5 297.3h1.6M325.5 298.3h1.6M325.5 299.3h1.6M325.5 299.8h1.6M325.5 300.3h1.6M325.5 300.8h1.6M325.5 303.3h1.6M325.5 304.3h1.6M325.5 304.8h1.6M325.5 307.3h1.6M325.5 307.8h1.6M325.5 308.3h1.6M325.5 309.8h1.6M325.5 312.3h1.6M325.5 319.8h1.6M325.5 320.8h1.6M326 285.3h1.6M326 287.8h1.6M326 288.3h1.6M326 293.8h1.6M326 294.3h1.6M326 296.3h1.6M326 297.8h1.6M326 298.3h1.6M326 302.8h1.6M326 305.3h1.6M326 306.8h1.6M326 307.8h1.6M326 310.8h1.6M326 315.3h1.6M326.5 288.3h1.6M326.5 290.3h1.6M326.5 291.3h1.6M326.5 291.8h1.6M326.5 292.3h1.6M326.5 293.8h1.6M326.5 294.8h1.6M326.5 297.8h1.6M326.5 299.8h1.6M326.5 302.8h1.6M326.5 304.3h1.6M326.5 306.3h1.6M326.5 307.3h1.6M326.5 308.3h1.6M326.5 308.8h1.6M326.5 310.8h1.6M326.5 338.8h1.6M326.5 349.8h1.6M327 281.3h1.6M327 282.8h1.6M327 283.8h1.6M327 285.8h1.6M327 286.8h1.6M327 287.8h1.6M327 288.8h1.6M327 289.8h1.6M327 290.8h1.6M327 291.8h1.6M327 292.3h1.6M327 294.3h1.6M327 296.3h1.6M327 297.3h1.6M327 298.3h1.6M327 298.8h1.6M327 299.8h1.6M327 301.3h1.6M327 302.3h1.6M327 304.3h1.6M327 304.8h1.6M327 305.8h1.6M327 306.3h1.6M327 306.8h1.6M327 307.8h1.6M327 310.8h1.6M327 311.3h1.6M327 360.3h1.6M327 368.8h1.6M327.5 282.3h1.6M327.5 283.3h1.6M327.5 284.3h1.6M327.5 288.3h1.6M327.5 288.8h1.6M327.5 289.3h1.6M327.5 291.3h1.6M327.5 292.8h1.6M327.5 294.3h1.6M327.5 294.8h1.6M327.5 296.8h1.6M327.5 298.8h1.6M327.5 299.8h1.6M327.5 301.3h1.6M327.5 302.3h1.6M327.5 302.8h1.6M327.5 303.8h1.6M327.5 304.3h1.6M327.5 304.8h1.6M327.5 305.3h1.6M327.5 306.3h1.6M327.5 312.8h1.6M327.5 313.3h1.6M327.5 314.8h1.6M327.5 315.8h1.6M327.5 336.3h1.6M327.5 355.8h1.6M328 284.3h1.6M328 286.8h1.6M328 287.8h1.6M328 288.8h1.6M328 289.3h1.6M328 290.3h1.6M328 290.8h1.6M328 291.8h1.6M328 292.8h1.6M328 294.3h1.6M328 296.3h1.6M328 296.8h1.6M328 297.3h1.6M328 298.8h1.6M328 300.3h1.6M328 300.8h1.6M328 302.8h1.6M328 303.3h1.6M328 305.3h1.6M328 305.8h1.6M328 308.3h1.6M328 308.8h1.6M328 309.3h1.6M328 310.3h1.6M328 311.3h1.6M328 312.8h1.6M328 326.3h1.6M328 331.8h1.6M328.5 281.3h1.6M328.5 285.3h1.6M328.5 286.3h1.6M328.5 286.8h1.6M328.5 290.8h1.6M328.5 291.8h1.6M328.5 295.3h1.6M328.5 295.8h1.6M328.5 296.3h1.6M328.5 298.8h1.6M328.5 299.8h1.6M328.5 301.3h1.6M328.5 303.3h1.6M328.5 304.3h1.6M328.5 305.3h1.6M328.5 306.3h1.6M328.5 306.8h1.6M328.5 308.8h1.6M328.5 309.3h1.6M328.5 309.8h1.6M328.5 310.8h1.6M328.5 316.3h1.6M328.5 319.3h1.6M328.5 321.8h1.6M328.5 341.8h1.6M328.5 346.3h1.6M329 285.3h1.6M329 286.3h1.6M329 287.8h1.6M329 288.3h1.6M329 288.8h1.6M329 289.3h1.6M329 289.8h1.6M329 290.3h1.6M329 290.8h1.6M329 291.3h1.6M329 292.8h1.6M329 293.8h1.6M329 294.3h1.6M329 294.8h1.6M329 295.8h1.6M329 297.3h1.6M329 297.8h1.6M329 298.3h1.6M329 298.8h1.6M329 303.3h1.6M329 304.3h1.6M329 304.8h1.6M329 306.3h1.6M329 306.8h1.6M329 307.3h1.6M329 308.3h1.6M329 308.8h1.6M329 310.3h1.6M329 330.3h1.6M329 366.8h1.6M329.5 284.8h1.6M329.5 286.3h1.6M329.5 286.8h1.6M329.5 287.8h1.6M329.5 289.3h1.6M329.5 290.3h1.6M329.5 291.8h1.6M329.5 292.8h1.6M329.5 293.8h1.6M329.5 295.3h1.6M329.5 295.8h1.6M329.5 296.3h1.6M329.5 296.8h1.6M329.5 297.3h1.6M329.5 298.8h1.6M329.5 299.8h1.6M329.5 300.8h1.6M329.5 302.8h1.6M329.5 303.3h1.6M329.5 303.8h1.6M329.5 305.3h1.6M329.5 305.8h1.6M329.5 306.8h1.6M329.5 309.3h1.6M329.5 310.8h1.6M329.5 312.3h1.6M329.5 313.3h1.6M329.5 313.8h1.6M329.5 323.8h1.6M329.5 354.3h1.6M329.5 372.8h1.6M329.5 373.3h1.6M330 283.3h1.6M330 285.3h1.6M330 286.3h1.6M330 287.8h1.6M330 289.8h1.6M330 290.3h1.6M330 290.8h1.6M330 291.8h1.6M330 292.8h1.6M330 293.8h1.6M330 294.3h1.6M330 295.3h1.6M330 295.8h1.6M330 297.3h1.6M330 299.3h1.6M330 302.3h1.6M330 303.8h1.6M330 304.3h1.6M330 305.3h1.6M330 305.8h1.6M330 307.3h1.6M330 307.8h1.6M330 308.8h1.6M330 311.8h1.6M330 313.3h1.6M330 323.8h1.6M330 364.3h1.6M330 372.8h1.6M330.5 286.3h1.6M330.5 287.3h1.6M330.5 289.3h1.6M330.5 290.8h1.6M330.5 291.8h1.6M330.5 292.3h1.6M330.5 292.8h1.6M330.5 293.8h1.6M330.5 294.3h1.6M330.5 294.8h1.6M330.5 295.3h1.6M330.5 295.8h1.6M330.5 297.8h1.6M330.5 298.8h1.6M330.5 299.3h1.6M330.5 300.8h1.6M330.5 301.8h1.6M330.5 302.3h1.6M330.5 302.8h1.6M330.5 303.3h1.6M330.5 303.8h1.6M330.5 307.3h1.6M330.5 308.3h1.6M330.5 310.3h1.6M330.5 311.8h1.6M330.5 315.3h1.6M330.5 315.8h1.6M330.5 316.3h1.6M330.5 351.3h1.6M330.5 367.3h1.6M331 283.3h1.6M331 285.3h1.6M331 285.8h1.6M331 286.3h1.6M331 287.3h1.6M331 288.3h1.6M331 290.3h1.6M331 292.3h1.6M331 293.8h1.6M331 294.3h1.6M331 294.8h1.6M331 299.3h1.6M331 302.3h1.6M331 303.3h1.6M331 303.8h1.6M331 305.8h1.6M331 306.3h1.6M331 306.8h1.6M331 307.3h1.6M331 307.8h1.6M331 309.3h1.6M331 309.8h1.6M331 311.3h1.6M331 313.3h1.6M331 313.8h1.6M331 317.8h1.6M331 321.3h1.6M331 324.3h1.6M331 357.8h1.6M331 376.8h1.6M331.5 285.3h1.6M331.5 285.8h1.6M331.5 287.3h1.6M331.5 289.8h1.6M331.5 290.8h1.6M331.5 292.3h1.6M331.5 293.3h1.6M331.5 294.3h1.6M331.5 295.3h1.6M331.5 296.8h1.6M331.5 297.8h1.6M331.5 298.3h1.6M331.5 298.8h1.6M331.5 299.8h1.6M331.5 301.3h1.6M331.5 302.8h1.6M331.5 304.3h1.6M331.5 304.8h1.6M331.5 306.3h1.6M331.5 307.8h1.6M331.5 309.3h1.6M331.5 313.3h1.6M331.5 313.8h1.6M331.5 314.3h1.6M331.5 314.8h1.6M331.5 315.8h1.6M331.5 336.8h1.6M331.5 346.3h1.6M332 280.3h1.6M332 281.8h1.6M332 284.3h1.6M332 285.8h1.6M332 286.3h1.6M332 288.8h1.6M332 289.3h1.6M332 289.8h1.6M332 292.3h1.6M332 292.8h1.6M332 293.3h1.6M332 294.8h1.6M332 296.3h1.6M332 297.3h1.6M332 298.8h1.6M332 302.8h1.6M332 304.8h1.6M332 305.8h1.6M332 306.3h1.6M332 307.3h1.6M332 307.8h1.6M332 308.3h1.6M332 309.8h1.6M332 312.8h1.6M332 313.3h1.6M332 315.8h1.6M332 334.3h1.6M332.5 288.3h1.6M332.5 289.3h1.6M332.5 289.8h1.6M332.5 290.3h1.6M332.5 293.3h1.6M332.5 294.8h1.6M332.5 295.3h1.6M332.5 296.3h1.6M332.5 297.8h1.6M332.5 298.8h1.6M332.5 299.3h1.6M332.5 300.3h1.6M332.5 301.3h1.6M332.5 302.8h1.6M332.5 304.3h1.6M332.5 305.8h1.6M332.5 306.8h1.6M332.5 307.8h1.6M332.5 308.3h1.6M332.5 308.8h1.6M332.5 309.8h1.6M332.5 316.3h1.6M332.5 317.3h1.6M332.5 331.3h1.6M332.5 337.8h1.6M332.5 344.8h1.6M332.5 362.8h1.6M333 277.3h1.6M333 283.3h1.6M333 285.8h1.6M333 288.3h1.6M333 289.8h1.6M333 290.3h1.6M333 292.8h1.6M333 293.3h1.6M333 293.8h1.6M333 295.3h1.6M333 296.8h1.6M333 297.3h1.6M333 297.8h1.6M333 298.3h1.6M333 299.3h1.6M333 300.3h1.6M333 301.8h1.6M333 302.3h1.6M333 303.3h1.6M333 303.8h1.6M333 304.8h1.6M333 305.3h1.6M333 305.8h1.6M333 306.3h1.6M333 306.8h1.6M333 307.3h1.6M333 308.3h1.6M333 309.8h1.6M333 311.3h1.6M333 311.8h1.6M333 312.8h1.6M333 315.3h1.6M333 316.8h1.6M333.5 282.8h1.6M333.5 285.3h1.6M333.5 286.3h1.6M333.5 286.8h1.6M333.5 288.3h1.6M333.5 288.8h1.6M333.5 289.8h1.6M333.5 290.3h1.6M333.5 290.8h1.6M333.5 291.3h1.6M333.5 292.3h1.6M333.5 294.3h1.6M333.5 295.3h1.6M333.5 295.8h1.6M333.5 296.3h1.6M333.5 299.3h1.6M333.5 301.3h1.6M333.5 301.8h1.6M333.5 302.3h1.6M333.5 303.3h1.6M333.5 304.3h1.6M333.5 305.8h1.6M333.5 307.3h1.6M333.5 308.3h1.6M333.5 308.8h1.6M333.5 310.3h1.6M333.5 310.8h1.6M333.5 311.3h1.6M333.5 312.8h1.6M333.5 315.8h1.6M333.5 317.8h1.6M333.5 318.8h1.6M333.5 323.8h1.6M333.5 332.8h1.6M333.5 340.8h1.6M333.5 360.3h1.6M333.5 364.3h1.6M334 281.3h1.6M334 287.8h1.6M334 288.3h1.6M334 288.8h1.6M334 289.3h1.6M334 290.3h1.6M334 290.8h1.6M334 291.3h1.6M334 292.3h1.6M334 293.3h1.6M334 293.8h1.6M334 294.3h1.6M334 295.8h1.6M334 298.3h1.6M334 299.8h1.6M334 300.8h1.6M334 301.3h1.6M334 301.8h1.6M334 303.8h1.6M334 304.8h1.6M334 305.8h1.6M334 307.8h1.6M334 308.8h1.6M334 309.8h1.6M334 310.8h1.6M334 311.3h1.6M334 311.8h1.6M334 315.3h1.6M334 352.3h1.6M334 363.3h1.6M334.5 282.8h1.6M334.5 283.8h1.6M334.5 285.8h1.6M334.5 288.3h1.6M334.5 288.8h1.6M334.5 290.8h1.6M334.5 291.3h1.6M334.5 293.8h1.6M334.5 294.3h1.6M334.5 297.8h1.6M334.5 298.3h1.6M334.5 299.8h1.6M334.5 301.8h1.6M334.5 303.8h1.6M334.5 304.3h1.6M334.5 305.3h1.6M334.5 306.3h1.6M334.5 307.3h1.6M334.5 308.8h1.6M334.5 309.8h1.6M334.5 310.8h1.6M334.5 311.3h1.6M334.5 312.8h1.6M334.5 316.8h1.6M334.5 317.3h1.6M334.5 320.8h1.6M334.5 336.3h1.6M334.5 345.8h1.6M335 283.3h1.6M335 288.3h1.6M335 288.8h1.6M335 289.8h1.6M335 290.3h1.6M335 292.8h1.6M335 294.8h1.6M335 295.3h1.6M335 296.3h1.6M335 296.8h1.6M335 297.8h1.6M335 298.8h1.6M335 300.3h1.6M335 301.8h1.6M335 303.3h1.6M335 303.8h1.6M335 305.8h1.6M335 306.3h1.6M335 307.3h1.6M335 308.3h1.6M335 309.3h1.6M335 310.3h1.6M335 310.8h1.6M335 312.3h1.6M335 313.8h1.6M335 317.8h1.6M335 352.3h1.6M335 352.8h1.6M335 356.3h1.6M335 367.8h1.6M335.5 285.3h1.6M335.5 286.3h1.6M335.5 290.8h1.6M335.5 291.8h1.6M335.5 292.3h1.6M335.5 293.3h1.6M335.5 293.8h1.6M335.5 294.3h1.6M335.5 294.8h1.6M335.5 298.8h1.6M335.5 299.8h1.6M335.5 300.8h1.6M335.5 301.3h1.6M335.5 301.8h1.6M335.5 302.3h1.6M335.5 302.8h1.6M335.5 305.3h1.6M335.5 306.8h1.6M335.5 307.8h1.6M335.5 308.8h1.6M335.5 309.3h1.6M335.5 310.3h1.6M335.5 310.8h1.6M335.5 313.8h1.6M335.5 314.8h1.6M335.5 316.3h1.6M335.5 340.3h1.6M335.5 346.3h1.6M335.5 359.3h1.6M335.5 366.8h1.6M336 284.8h1.6M336 291.3h1.6M336 291.8h1.6M336 293.3h1.6M336 294.3h1.6M336 295.8h1.6M336 297.3h1.6M336 299.3h1.6M336 301.8h1.6M336 302.8h1.6M336 308.3h1.6M336 309.3h1.6M336 309.8h1.6M336 311.3h1.6M336 311.8h1.6M336 312.3h1.6M336 315.8h1.6M336 319.3h1.6M336 320.3h1.6M336 346.3h1.6M336 355.3h1.6M336 358.3h1.6M336 360.8h1.6M336 361.8h1.6M336 364.3h1.6M336 371.8h1.6M336.5 285.3h1.6M336.5 287.3h1.6M336.5 287.8h1.6M336.5 290.3h1.6M336.5 290.8h1.6M336.5 291.3h1.6M336.5 291.8h1.6M336.5 292.3h1.6M336.5 292.8h1.6M336.5 293.8h1.6M336.5 294.3h1.6M336.5 295.3h1.6M336.5 295.8h1.6M336.5 296.8h1.6M336.5 297.8h1.6M336.5 298.8h1.6M336.5 299.3h1.6M336.5 299.8h1.6M336.5 300.3h1.6M336.5 301.8h1.6M336.5 302.3h1.6M336.5 302.8h1.6M336.5 305.3h1.6M336.5 305.8h1.6M336.5 306.8h1.6M336.5 307.8h1.6M336.5 308.8h1.6M336.5 309.8h1.6M336.5 311.8h1.6M336.5 312.3h1.6M336.5 313.3h1.6M336.5 313.8h1.6M336.5 315.8h1.6M336.5 349.3h1.6M336.5 349.8h1.6M336.5 353.8h1.6M336.5 374.8h1.6M337 283.8h1.6M337 284.3h1.6M337 287.3h1.6M337 290.3h1.6M337 292.8h1.6M337 293.8h1.6M337 295.3h1.6M337 296.3h1.6M337 297.3h1.6M337 297.8h1.6M337 299.3h1.6M337 299.8h1.6M337 301.3h1.6M337 301.8h1.6M337 302.8h1.6M337 303.8h1.6M337 308.3h1.6M337 308.8h1.6M337 309.3h1.6M337 309.8h1.6M337 312.3h1.6M337 313.8h1.6M337 315.3h1.6M337 339.8h1.6M337 345.3h1.6M337 353.3h1.6M337 353.8h1.6M337 365.3h1.6M337 366.8h1.6M337.5 282.8h1.6M337.5 283.8h1.6M337.5 285.3h1.6M337.5 286.8h1.6M337.5 289.8h1.6M337.5 290.8h1.6M337.5 291.3h1.6M337.5 292.3h1.6M337.5 293.3h1.6M337.5 296.8h1.6M337.5 297.8h1.6M337.5 298.3h1.6M337.5 299.8h1.6M337.5 300.3h1.6M337.5 301.3h1.6M337.5 301.8h1.6M337.5 302.8h1.6M337.5 303.8h1.6M337.5 304.3h1.6M337.5 304.8h1.6M337.5 306.8h1.6M337.5 307.8h1.6M337.5 308.8h1.6M337.5 310.3h1.6M337.5 311.3h1.6M337.5 312.8h1.6M337.5 313.8h1.6M337.5 315.3h1.6M337.5 316.8h1.6M337.5 322.8h1.6M337.5 337.3h1.6M337.5 352.3h1.6M337.5 355.3h1.6M337.5 357.3h1.6M338 282.3h1.6M338 282.8h1.6M338 285.3h1.6M338 286.3h1.6M338 286.8h1.6M338 289.3h1.6M338 290.8h1.6M338 292.3h1.6M338 292.8h1.6M338 293.3h1.6M338 296.3h1.6M338 296.8h1.6M338 297.3h1.6M338 298.3h1.6M338 298.8h1.6M338 299.8h1.6M338 300.8h1.6M338 301.3h1.6M338 302.3h1.6M338 302.8h1.6M338 304.3h1.6M338 305.3h1.6M338 305.8h1.6M338 307.3h1.6M338 308.8h1.6M338 309.8h1.6M338 312.3h1.6M338 313.3h1.6M338 313.8h1.6M338 315.3h1.6M338 315.8h1.6M338 319.8h1.6M338 322.8h1.6M338 330.3h1.6M338 336.3h1.6M338 340.3h1.6M338 341.3h1.6M338 346.3h1.6M338 353.3h1.6M338 356.8h1.6M338 363.3h1.6M338 379.3h1.6M338.5 281.3h1.6M338.5 281.8h1.6M338.5 286.8h1.6M338.5 287.3h1.6M338.5 287.8h1.6M338.5 288.8h1.6M338.5 289.3h1.6M338.5 289.8h1.6M338.5 291.3h1.6M338.5 291.8h1.6M338.5 292.8h1.6M338.5 294.3h1.6M338.5 296.8h1.6M338.5 297.3h1.6M338.5 299.3h1.6M338.5 300.3h1.6M338.5 301.3h1.6M338.5 301.8h1.6M338.5 302.8h1.6M338.5 303.3h1.6M338.5 304.3h1.6M338.5 304.8h1.6M338.5 305.8h1.6M338.5 306.8h1.6M338.5 307.3h1.6M338.5 308.8h1.6M338.5 309.3h1.6M338.5 313.3h1.6M338.5 314.3h1.6M338.5 316.3h1.6M338.5 322.8h1.6M338.5 332.3h1.6M338.5 333.8h1.6M338.5 352.8h1.6M338.5 357.8h1.6M338.5 359.3h1.6M338.5 364.8h1.6M339 280.8h1.6M339 282.8h1.6M339 285.3h1.6M339 286.3h1.6M339 287.8h1.6M339 288.3h1.6M339 288.8h1.6M339 290.8h1.6M339 291.3h1.6M339 291.8h1.6M339 292.3h1.6M339 293.8h1.6M339 294.8h1.6M339 295.3h1.6M339 295.8h1.6M339 296.3h1.6M339 296.8h1.6M339 298.3h1.6M339 300.8h1.6M339 303.8h1.6M339 304.8h1.6M339 305.8h1.6M339 307.3h1.6M339 307.8h1.6M339 309.3h1.6M339 311.3h1.6M339 311.8h1.6M339 312.3h1.6M339 312.8h1.6M339 314.3h1.6M339 315.3h1.6M339 339.3h1.6M339 340.8h1.6M339 346.8h1.6M339 347.8h1.6M339 348.8h1.6M339 352.3h1.6M339 352.8h1.6M339 356.3h1.6M339 360.3h1.6M339 363.8h1.6M339 368.3h1.6M339 368.8h1.6M339.5 283.8h1.6M339.5 285.8h1.6M339.5 286.3h1.6M339.5 287.8h1.6M339.5 288.3h1.6M339.5 288.8h1.6M339.5 289.3h1.6M339.5 289.8h1.6M339.5 290.3h1.6M339.5 291.8h1.6M339.5 293.3h1.6M339.5 295.3h1.6M339.5 297.3h1.6M339.5 297.8h1.6M339.5 298.3h1.6M339.5 298.8h1.6M339.5 299.3h1.6M339.5 299.8h1.6M339.5 300.3h1.6M339.5 301.3h1.6M339.5 301.8h1.6M339.5 305.3h1.6M339.5 305.8h1.6M339.5 306.3h1.6M339.5 306.8h1.6M339.5 312.8h1.6M339.5 314.8h1.6M339.5 315.3h1.6M339.5 315.8h1.6M339.5 317.3h1.6M339.5 317.8h1.6M339.5 327.3h1.6M339.5 341.3h1.6M339.5 344.8h1.6M339.5 345.3h1.6M339.5 347.3h1.6M339.5 347.8h1.6M339.5 359.8h1.6M339.5 361.3h1.6M339.5 363.8h1.6M339.5 366.3h1.6M340 284.3h1.6M340 287.3h1.6M340 288.8h1.6M340 290.3h1.6M340 291.3h1.6M340 292.8h1.6M340 295.3h1.6M340 296.8h1.6M340 299.3h1.6M340 300.3h1.6M340 301.8h1.6M340 305.8h1.6M340 306.3h1.6M340 307.3h1.6M340 307.8h1.6M340 311.8h1.6M340 313.3h1.6M340 314.3h1.6M340 314.8h1.6M340 315.8h1.6M340 340.3h1.6M340 343.8h1.6M340 344.3h1.6M340 345.3h1.6M340 351.3h1.6M340 352.3h1.6M340 356.3h1.6M340 359.8h1.6M340 362.8h1.6M340 367.3h1.6M340 372.3h1.6M340.5 280.3h1.6M340.5 283.3h1.6M340.5 283.8h1.6M340.5 285.8h1.6M340.5 286.3h1.6M340.5 286.8h1.6M340.5 287.3h1.6M340.5 288.8h1.6M340.5 289.8h1.6M340.5 290.8h1.6M340.5 293.3h1.6M340.5 294.8h1.6M340.5 297.3h1.6M340.5 298.3h1.6M340.5 298.8h1.6M340.5 300.3h1.6M340.5 303.3h1.6M340.5 305.3h1.6M340.5 307.8h1.6M340.5 308.3h1.6M340.5 309.8h1.6M340.5 311.3h1.6M340.5 312.3h1.6M340.5 312.8h1.6M340.5 313.3h1.6M340.5 315.3h1.6M340.5 317.3h1.6M340.5 348.3h1.6M340.5 350.3h1.6M340.5 359.3h1.6M340.5 361.8h1.6M340.5 366.3h1.6M341 286.3h1.6M341 286.8h1.6M341 288.3h1.6M341 288.8h1.6M341 289.8h1.6M341 290.3h1.6M341 290.8h1.6M341 292.3h1.6M341 293.3h1.6M341 293.8h1.6M341 294.3h1.6M341 295.3h1.6M341 298.3h1.6M341 300.3h1.6M341 302.3h1.6M341 303.3h1.6M341 304.3h1.6M341 304.8h1.6M341 305.3h1.6M341 306.8h1.6M341 307.8h1.6M341 314.3h1.6M341 315.3h1.6M341 321.3h1.6M341 321.8h1.6M341 325.8h1.6M341 327.8h1.6M341 328.3h1.6M341 336.8h1.6M341 346.3h1.6M341 346.8h1.6M341 355.3h1.6M341 363.3h1.6M341 364.3h1.6M341.5 285.8h1.6M341.5 288.3h1.6M341.5 288.8h1.6M341.5 289.3h1.6M341.5 290.8h1.6M341.5 291.3h1.6M341.5 292.8h1.6M341.5 293.3h1.6M341.5 293.8h1.6M341.5 297.3h1.6M341.5 301.8h1.6M341.5 302.3h1.6M341.5 302.8h1.6M341.5 304.8h1.6M341.5 305.8h1.6M341.5 306.3h1.6M341.5 307.3h1.6M341.5 307.8h1.6M341.5 308.3h1.6M341.5 309.3h1.6M341.5 311.3h1.6M341.5 311.8h1.6M341.5 313.8h1.6M341.5 315.8h1.6M341.5 319.3h1.6M341.5 324.3h1.6M341.5 347.3h1.6M341.5 352.8h1.6M341.5 354.3h1.6M341.5 355.3h1.6M341.5 355.8h1.6M341.5 358.3h1.6M341.5 363.8h1.6M341.5 365.3h1.6M341.5 366.8h1.6M341.5 369.3h1.6M342 284.8h1.6M342 287.3h1.6M342 290.8h1.6M342 291.8h1.6M342 292.3h1.6M342 294.3h1.6M342 296.3h1.6M342 296.8h1.6M342 297.3h1.6M342 297.8h1.6M342 298.3h1.6M342 298.8h1.6M342 299.8h1.6M342 302.8h1.6M342 303.3h1.6M342 304.3h1.6M342 304.8h1.6M342 305.8h1.6M342 306.3h1.6M342 307.8h1.6M342 308.3h1.6M342 308.8h1.6M342 310.8h1.6M342 311.8h1.6M342 315.8h1.6M342 320.3h1.6M342 328.8h1.6M342 345.3h1.6M342 349.8h1.6M342 350.8h1.6M342 355.3h1.6M342 361.8h1.6M342 362.8h1.6M342 366.3h1.6M342 368.8h1.6M342 374.3h1.6M342 375.3h1.6M342.5 285.8h1.6M342.5 287.8h1.6M342.5 289.3h1.6M342.5 290.8h1.6M342.5 291.3h1.6M342.5 291.8h1.6M342.5 292.8h1.6M342.5 293.8h1.6M342.5 294.8h1.6M342.5 296.3h1.6M342.5 296.8h1.6M342.5 298.3h1.6M342.5 298.8h1.6M342.5 300.8h1.6M342.5 302.3h1.6M342.5 303.3h1.6M342.5 304.3h1.6M342.5 304.8h1.6M342.5 305.8h1.6M342.5 306.3h1.6M342.5 306.8h1.6M342.5 307.8h1.6M342.5 309.8h1.6M342.5 312.8h1.6M342.5 323.3h1.6M342.5 338.8h1.6M342.5 340.8h1.6M342.5 342.3h1.6M342.5 346.8h1.6M342.5 356.8h1.6M342.5 360.3h1.6M342.5 368.3h1.6M342.5 371.8h1.6M342.5 372.8h1.6M343 282.8h1.6M343 283.8h1.6M343 287.3h1.6M343 288.3h1.6M343 292.3h1.6M343 292.8h1.6M343 295.3h1.6M343 298.3h1.6M343 299.8h1.6M343 300.8h1.6M343 301.3h1.6M343 301.8h1.6M343 302.3h1.6M343 302.8h1.6M343 305.3h1.6M343 306.8h1.6M343 307.8h1.6M343 310.8h1.6M343 311.3h1.6M343 312.3h1.6M343 313.8h1.6M343 314.3h1.6M343 316.8h1.6M343 322.3h1.6M343 341.8h1.6M343 353.3h1.6M343 353.8h1.6M343 360.8h1.6M343 361.8h1.6M343 365.3h1.6M343 365.8h1.6M343 366.3h1.6M343 371.3h1.6M343.5 282.8h1.6M343.5 288.3h1.6M343.5 288.8h1.6M343.5 289.8h1.6M343.5 290.3h1.6M343.5 292.3h1.6M343.5 292.8h1.6M343.5 294.3h1.6M343.5 294.8h1.6M343.5 295.8h1.6M343.5 297.3h1.6M343.5 297.8h1.6M343.5 298.3h1.6M343.5 298.8h1.6M343.5 299.3h1.6M343.5 299.8h1.6M343.5 301.3h1.6M343.5 302.3h1.6M343.5 303.3h1.6M343.5 303.8h1.6M343.5 304.3h1.6M343.5 304.8h1.6M343.5 305.8h1.6M343.5 306.3h1.6M343.5 314.8h1.6M343.5 316.8h1.6M343.5 326.3h1.6M343.5 332.3h1.6M343.5 336.8h1.6M343.5 345.8h1.6M343.5 352.8h1.6M343.5 362.8h1.6M343.5 371.8h1.6M344 285.8h1.6M344 289.8h1.6M344 291.8h1.6M344 293.3h1.6M344 293.8h1.6M344 294.3h1.6M344 294.8h1.6M344 295.3h1.6M344 295.8h1.6M344 298.8h1.6M344 299.3h1.6M344 299.8h1.6M344 300.3h1.6M344 300.8h1.6M344 301.8h1.6M344 302.3h1.6M344 302.8h1.6M344 303.3h1.6M344 304.8h1.6M344 305.3h1.6M344 306.3h1.6M344 308.3h1.6M344 308.8h1.6M344 313.3h1.6M344 330.8h1.6M344 339.8h1.6M344 346.3h1.6M344 347.8h1.6M344 348.8h1.6M344 354.3h1.6M344 355.3h1.6M344 356.3h1.6M344 367.3h1.6M344 368.3h1.6M344 374.8h1.6M344.5 284.3h1.6M344.5 286.8h1.6M344.5 287.3h1.6M344.5 289.3h1.6M344.5 290.3h1.6M344.5 290.8h1.6M344.5 293.3h1.6M344.5 293.8h1.6M344.5 295.3h1.6M344.5 296.3h1.6M344.5 297.3h1.6M344.5 298.3h1.6M344.5 300.3h1.6M344.5 300.8h1.6M344.5 301.3h1.6M344.5 301.8h1.6M344.5 302.8h1.6M344.5 303.8h1.6M344.5 304.3h1.6M344.5 305.3h1.6M344.5 309.8h1.6M344.5 310.8h1.6M344.5 311.3h1.6M344.5 311.8h1.6M344.5 313.8h1.6M344.5 314.8h1.6M344.5 316.8h1.6M344.5 324.3h1.6M344.5 324.8h1.6M344.5 337.8h1.6M344.5 341.8h1.6M344.5 342.3h1.6M344.5 347.8h1.6M344.5 349.8h1.6M344.5 351.3h1.6M344.5 352.3h1.6M344.5 357.8h1.6M344.5 363.3h1.6M344.5 366.8h1.6M344.5 371.3h1.6M345 283.8h1.6M345 284.8h1.6M345 286.3h1.6M345 287.8h1.6M345 289.3h1.6M345 290.3h1.6M345 292.3h1.6M345 292.8h1.6M345 293.3h1.6M345 294.3h1.6M345 294.8h1.6M345 295.3h1.6M345 295.8h1.6M345 298.3h1.6M345 299.3h1.6M345 300.3h1.6M345 301.3h1.6M345 301.8h1.6M345 304.8h1.6M345 306.3h1.6M345 306.8h1.6M345 307.8h1.6M345 308.3h1.6M345 314.8h1.6M345 317.8h1.6M345 322.8h1.6M345 324.8h1.6M345 326.3h1.6M345 326.8h1.6M345 347.8h1.6M345 355.3h1.6M345 357.3h1.6M345 359.8h1.6M345 375.8h1.6M345 376.8h1.6M345.5 287.3h1.6M345.5 287.8h1.6M345.5 288.3h1.6M345.5 288.8h1.6M345.5 291.3h1.6M345.5 291.8h1.6M345.5 292.3h1.6M345.5 295.3h1.6M345.5 296.3h1.6M345.5 297.3h1.6M345.5 299.3h1.6M345.5 300.8h1.6M345.5 303.3h1.6M345.5 303.8h1.6M345.5 305.3h1.6M345.5 306.3h1.6M345.5 307.8h1.6M345.5 310.3h1.6M345.5 311.3h1.6M345.5 313.8h1.6M345.5 314.8h1.6M345.5 315.3h1.6M345.5 316.8h1.6M345.5 321.3h1.6M345.5 333.3h1.6M345.5 339.3h1.6M345.5 344.8h1.6M345.5 350.3h1.6M345.5 353.3h1.6M345.5 353.8h1.6M345.5 357.8h1.6M345.5 358.8h1.6M345.5 359.3h1.6M345.5 359.8h1.6M345.5 360.3h1.6M345.5 362.3h1.6M345.5 364.3h1.6M345.5 364.8h1.6M345.5 369.3h1.6M345.5 370.3h1.6M345.5 377.3h1.6M346 285.8h1.6M346 286.3h1.6M346 288.8h1.6M346 289.8h1.6M346 290.3h1.6M346 291.3h1.6M346 292.3h1.6M346 293.3h1.6M346 297.3h1.6M346 299.3h1.6M346 300.3h1.6M346 301.8h1.6M346 303.8h1.6M346 304.3h1.6M346 305.3h1.6M346 306.3h1.6M346 311.8h1.6M346 317.3h1.6M346 321.8h1.6M346 331.3h1.6M346 341.3h1.6M346 342.8h1.6M346 343.3h1.6M346 344.3h1.6M346 347.8h1.6M346 350.3h1.6M346 355.3h1.6M346 362.3h1.6M346 364.8h1.6M346 371.8h1.6M346 372.3h1.6M346.5 284.3h1.6M346.5 290.3h1.6M346.5 291.3h1.6M346.5 293.3h1.6M346.5 294.8h1.6M346.5 297.3h1.6M346.5 297.8h1.6M346.5 299.8h1.6M346.5 300.3h1.6M346.5 301.3h1.6M346.5 302.8h1.6M346.5 303.8h1.6M346.5 304.3h1.6M346.5 306.8h1.6M346.5 307.8h1.6M346.5 308.3h1.6M346.5 308.8h1.6M346.5 309.8h1.6M346.5 317.3h1.6M346.5 322.3h1.6M346.5 336.8h1.6M346.5 341.8h1.6M346.5 342.8h1.6M346.5 343.3h1.6M346.5 344.3h1.6M346.5 347.8h1.6M346.5 348.3h1.6M346.5 353.8h1.6M346.5 357.3h1.6M346.5 363.3h1.6M346.5 364.8h1.6M346.5 368.3h1.6M347 283.3h1.6M347 286.3h1.6M347 289.8h1.6M347 291.3h1.6M347 292.3h1.6M347 293.8h1.6M347 294.3h1.6M347 295.3h1.6M347 295.8h1.6M347 300.3h1.6M347 302.3h1.6M347 302.8h1.6M347 303.3h1.6M347 303.8h1.6M347 304.3h1.6M347 305.8h1.6M347 308.8h1.6M347 310.8h1.6M347 315.3h1.6M347 317.3h1.6M347 318.3h1.6M347 319.8h1.6M347 335.3h1.6M347 343.8h1.6M347 345.3h1.6M347 351.3h1.6M347 352.3h1.6M347 353.8h1.6M347 354.3h1.6M347 356.8h1.6M347 357.8h1.6M347 358.8h1.6M347 360.8h1.6M347 365.3h1.6M347 368.8h1.6M347 369.8h1.6M347 371.3h1.6M347.5 282.8h1.6M347.5 288.3h1.6M347.5 289.3h1.6M347.5 290.8h1.6M347.5 291.3h1.6M347.5 292.8h1.6M347.5 293.8h1.6M347.5 294.8h1.6M347.5 303.3h1.6M347.5 304.8h1.6M347.5 310.3h1.6M347.5 311.8h1.6M347.5 315.3h1.6M347.5 315.8h1.6M347.5 316.3h1.6M347.5 340.8h1.6M347.5 350.3h1.6M347.5 353.8h1.6M347.5 360.3h1.6M347.5 360.8h1.6M347.5 363.3h1.6M347.5 365.3h1.6M347.5 365.8h1.6M347.5 367.8h1.6M347.5 370.8h1.6M347.5 371.8h1.6M347.5 376.3h1.6M347.5 377.8h1.6M348 288.8h1.6M348 291.8h1.6M348 293.8h1.6M348 294.3h1.6M348 295.3h1.6M348 296.3h1.6M348 297.3h1.6M348 304.3h1.6M348 311.3h1.6M348 317.8h1.6M348 326.8h1.6M348 337.8h1.6M348 340.3h1.6M348 345.3h1.6M348 352.8h1.6M348 357.8h1.6M348 360.3h1.6M348 360.8h1.6M348 363.3h1.6M348 366.3h1.6M348 367.8h1.6M348 373.3h1.6M348 374.8h1.6M348.5 282.8h1.6M348.5 287.3h1.6M348.5 290.8h1.6M348.5 294.8h1.6M348.5 295.3h1.6M348.5 299.8h1.6M348.5 300.3h1.6M348.5 300.8h1.6M348.5 301.8h1.6M348.5 308.8h1.6M348.5 312.3h1.6M348.5 321.8h1.6M348.5 324.8h1.6M348.5 337.8h1.6M348.5 343.8h1.6M348.5 348.3h1.6M348.5 348.8h1.6M348.5 351.3h1.6M348.5 356.8h1.6M348.5 358.3h1.6M348.5 361.3h1.6M348.5 361.8h1.6M348.5 363.8h1.6M348.5 364.8h1.6M348.5 369.3h1.6M348.5 371.8h1.6M348.5 374.3h1.6M349 284.8h1.6M349 288.3h1.6M349 291.8h1.6M349 292.3h1.6M349 293.3h1.6M349 293.8h1.6M349 294.3h1.6M349 295.3h1.6M349 295.8h1.6M349 296.8h1.6M349 300.8h1.6M349 302.8h1.6M349 303.8h1.6M349 307.3h1.6M349 310.3h1.6M349 311.8h1.6M349 313.3h1.6M349 318.3h1.6M349 334.3h1.6M349 339.3h1.6M349 340.8h1.6M349 348.8h1.6M349 351.8h1.6M349 353.8h1.6M349 357.8h1.6M349 364.3h1.6M349 364.8h1.6M349 365.8h1.6M349 366.3h1.6M349 367.3h1.6M349 368.3h1.6M349 371.3h1.6M349 374.3h1.6M349 375.3h1.6M349.5 280.3h1.6M349.5 286.3h1.6M349.5 294.3h1.6M349.5 295.3h1.6M349.5 296.3h1.6M349.5 297.3h1.6M349.5 299.3h1.6M349.5 300.3h1.6M349.5 305.8h1.6M349.5 307.3h1.6M349.5 321.3h1.6M349.5 325.3h1.6M349.5 330.8h1.6M349.5 333.3h1.6M349.5 337.3h1.6M349.5 342.3h1.6M349.5 343.3h1.6M349.5 344.3h1.6M349.5 345.3h1.6M349.5 346.3h1.6M349.5 347.8h1.6M349.5 348.8h1.6M349.5 349.8h1.6M349.5 352.8h1.6M349.5 353.3h1.6M349.5 353.8h1.6M349.5 356.3h1.6M349.5 356.8h1.6M349.5 359.8h1.6M349.5 369.3h1.6M349.5 379.3h1.6M350 272.3h1.6M350 281.8h1.6M350 284.3h1.6M350 285.3h1.6M350 291.8h1.6M350 292.3h1.6M350 292.8h1.6M350 293.3h1.6M350 293.8h1.6M350 294.3h1.6M350 295.3h1.6M350 296.3h1.6M350 297.3h1.6M350 298.3h1.6M350 298.8h1.6M350 303.3h1.6M350 329.8h1.6M350 341.3h1.6M350 341.8h1.6M350 344.3h1.6M350 344.8h1.6M350 345.8h1.6M350 348.3h1.6M350 350.3h1.6M350 352.3h1.6M350 353.8h1.6M350 356.8h1.6M350 360.3h1.6M350 361.3h1.6M350 366.3h1.6M350 368.3h1.6M350 369.3h1.6M350 370.8h1.6M350 371.3h1.6M350 371.8h1.6M350 373.8h1.6M350.5 284.3h1.6M350.5 286.3h1.6M350.5 291.3h1.6M350.5 292.3h1.6M350.5 299.8h1.6M350.5 300.3h1.6M350.5 302.3h1.6M350.5 327.3h1.6M350.5 337.8h1.6M350.5 338.3h1.6M350.5 341.3h1.6M350.5 342.8h1.6M350.5 348.8h1.6M350.5 351.3h1.6M350.5 351.8h1.6M350.5 353.8h1.6M350.5 356.3h1.6M350.5 361.8h1.6M350.5 362.3h1.6M350.5 366.8h1.6M350.5 367.3h1.6M350.5 371.8h1.6M350.5 372.3h1.6M350.5 373.8h1.6M350.5 374.8h1.6M351 285.8h1.6M351 286.8h1.6M351 287.8h1.6M351 288.8h1.6M351 289.3h1.6M351 289.8h1.6M351 290.8h1.6M351 292.3h1.6M351 293.8h1.6M351 295.3h1.6M351 296.8h1.6M351 298.8h1.6M351 299.8h1.6M351 304.8h1.6M351 305.8h1.6M351 307.8h1.6M351 311.3h1.6M351 317.8h1.6M351 322.3h1.6M351 343.8h1.6M351 346.8h1.6M351 347.3h1.6M351 349.3h1.6M351 350.8h1.6M351 351.3h1.6M351 351.8h1.6M351 352.8h1.6M351 357.3h1.6M351 359.8h1.6M351 364.8h1.6M351 366.8h1.6M351 368.3h1.6M351 370.8h1.6M351 371.3h1.6M351 378.8h1.6M351.5 282.8h1.6M351.5 285.3h1.6M351.5 287.3h1.6M351.5 290.8h1.6M351.5 291.3h1.6M351.5 294.8h1.6M351.5 295.8h1.6M351.5 302.8h1.6M351.5 303.8h1.6M351.5 307.8h1.6M351.5 314.8h1.6M351.5 332.8h1.6M351.5 333.3h1.6M351.5 334.3h1.6M351.5 341.3h1.6M351.5 343.8h1.6M351.5 344.3h1.6M351.5 345.3h1.6M351.5 350.3h1.6M351.5 351.3h1.6M351.5 355.3h1.6M351.5 356.3h1.6M351.5 360.8h1.6M351.5 362.8h1.6M351.5 363.8h1.6M351.5 375.8h1.6M351.5 376.3h1.6M351.5 376.8h1.6M352 285.8h1.6M352 289.8h1.6M352 291.8h1.6M352 294.3h1.6M352 296.3h1.6M352 296.8h1.6M352 301.8h1.6M352 304.8h1.6M352 336.8h1.6M352 338.3h1.6M352 345.8h1.6M352 347.8h1.6M352 348.3h1.6M352 350.8h1.6M352 352.3h1.6M352 353.3h1.6M352 353.8h1.6M352 354.3h1.6M352 364.3h1.6M352 364.8h1.6M352 369.3h1.6M352 370.3h1.6M352 372.3h1.6M352 375.3h1.6M352 375.8h1.6M352.5 281.3h1.6M352.5 282.8h1.6M352.5 291.3h1.6M352.5 292.8h1.6M352.5 297.8h1.6M352.5 298.8h1.6M352.5 315.8h1.6M352.5 316.8h1.6M352.5 322.3h1.6M352.5 323.3h1.6M352.5 327.8h1.6M352.5 330.8h1.6M352.5 340.3h1.6M352.5 341.8h1.6M352.5 347.3h1.6M352.5 348.3h1.6M352.5 350.8h1.6M352.5 352.8h1.6M352.5 355.3h1.6M352.5 356.8h1.6M352.5 359.3h1.6M352.5 361.3h1.6M352.5 366.8h1.6M352.5 369.3h1.6M353 281.8h1.6M353 284.3h1.6M353 284.8h1.6M353 287.8h1.6M353 291.8h1.6M353 297.3h1.6M353 300.3h1.6M353 309.3h1.6M353 310.3h1.6M353 310.8h1.6M353 312.8h1.6M353 315.8h1.6M353 345.3h1.6M353 346.3h1.6M353 347.3h1.6M353 348.3h1.6M353 351.8h1.6M353 352.3h1.6M353 354.8h1.6M353 356.3h1.6M353 360.3h1.6M353 363.8h1.6M353 370.3h1.6M353 370.8h1.6M353 371.3h1.6M353.5 288.8h1.6M353.5 289.8h1.6M353.5 292.3h1.6M353.5 296.3h1.6M353.5 298.3h1.6M353.5 300.3h1.6M353.5 306.3h1.6M353.5 307.3h1.6M353.5 314.8h1.6M353.5 339.8h1.6M353.5 345.8h1.6M353.5 347.3h1.6M353.5 348.8h1.6M353.5 350.8h1.6M353.5 353.8h1.6M353.5 355.8h1.6M353.5 356.3h1.6M353.5 356.8h1.6M353.5 360.3h1.6M353.5 360.8h1.6M353.5 361.3h1.6M353.5 362.8h1.6M353.5 364.3h1.6M353.5 364.8h1.6M353.5 366.8h1.6M353.5 367.8h1.6M353.5 369.3h1.6M353.5 369.8h1.6M353.5 374.3h1.6M353.5 377.3h1.6M354 281.3h1.6M354 292.8h1.6M354 293.8h1.6M354 299.8h1.6M354 300.3h1.6M354 300.8h1.6M354 302.8h1.6M354 304.3h1.6M354 305.3h1.6M354 306.8h1.6M354 325.8h1.6M354 339.3h1.6M354 344.8h1.6M354 346.3h1.6M354 348.3h1.6M354 348.8h1.6M354 349.8h1.6M354 353.3h1.6M354 357.8h1.6M354 358.8h1.6M354 359.8h1.6M354 361.3h1.6M354 363.3h1.6M354 365.3h1.6M354 365.8h1.6M354 366.8h1.6M354.5 281.3h1.6M354.5 289.3h1.6M354.5 293.8h1.6M354.5 295.8h1.6M354.5 296.3h1.6M354.5 296.8h1.6M354.5 319.8h1.6M354.5 321.8h1.6M354.5 337.3h1.6M354.5 340.3h1.6M354.5 342.3h1.6M354.5 342.8h1.6M354.5 348.3h1.6M354.5 348.8h1.6M354.5 351.3h1.6M354.5 351.8h1.6M354.5 353.3h1.6M354.5 358.3h1.6M354.5 360.8h1.6M354.5 361.3h1.6M354.5 361.8h1.6M354.5 367.3h1.6M354.5 372.8h1.6M354.5 373.3h1.6M354.5 378.8h1.6M355 286.3h1.6M355 289.3h1.6M355 297.3h1.6M355 299.8h1.6M355 302.8h1.6M355 303.3h1.6M355 304.3h1.6M355 307.8h1.6M355 315.3h1.6M355 336.8h1.6M355 338.8h1.6M355 339.8h1.6M355 344.3h1.6M355 345.8h1.6M355 347.3h1.6M355 348.8h1.6M355 349.8h1.6M355 350.8h1.6M355 353.3h1.6M355 357.3h1.6M355 362.3h1.6M355 362.8h1.6M355 363.3h1.6M355 363.8h1.6M355 368.8h1.6M355 369.8h1.6M355 370.8h1.6M355 372.8h1.6M355.5 276.8h1.6M355.5 278.3h1.6M355.5 281.8h1.6M355.5 285.3h1.6M355.5 285.8h1.6M355.5 287.3h1.6M355.5 296.3h1.6M355.5 297.3h1.6M355.5 299.8h1.6M355.5 301.3h1.6M355.5 302.3h1.6M355.5 303.3h1.6M355.5 308.3h1.6M355.5 318.3h1.6M355.5 321.3h1.6M355.5 334.3h1.6M355.5 334.8h1.6M355.5 335.8h1.6M355.5 340.3h1.6M355.5 341.3h1.6M355.5 343.3h1.6M355.5 344.8h1.6M355.5 346.3h1.6M355.5 347.3h1.6M355.5 348.8h1.6M355.5 350.8h1.6M355.5 356.3h1.6M355.5 356.8h1.6M355.5 357.8h1.6M355.5 361.3h1.6M355.5 362.3h1.6M355.5 365.3h1.6M355.5 369.8h1.6M356 285.3h1.6M356 286.3h1.6M356 287.8h1.6M356 291.8h1.6M356 293.3h1.6M356 294.8h1.6M356 295.3h1.6M356 295.8h1.6M356 297.3h1.6M356 298.8h1.6M356 312.8h1.6M356 326.8h1.6M356 330.8h1.6M356 339.3h1.6M356 341.3h1.6M356 342.8h1.6M356 345.3h1.6M356 355.3h1.6M356 358.8h1.6M356 362.3h1.6M356 362.8h1.6M356 363.3h1.6M356 364.8h1.6M356 368.8h1.6M356 370.3h1.6M356 372.8h1.6M356 375.3h1.6M356.5 279.3h1.6M356.5 280.3h1.6M356.5 281.8h1.6M356.5 292.8h1.6M356.5 294.3h1.6M356.5 295.3h1.6M356.5 295.8h1.6M356.5 297.3h1.6M356.5 297.8h1.6M356.5 298.8h1.6M356.5 299.3h1.6M356.5 301.3h1.6M356.5 303.8h1.6M356.5 309.3h1.6M356.5 312.8h1.6M356.5 314.3h1.6M356.5 323.3h1.6M356.5 324.8h1.6M356.5 325.3h1.6M356.5 343.3h1.6M356.5 346.3h1.6M356.5 354.3h1.6M356.5 355.8h1.6M356.5 359.8h1.6M356.5 360.3h1.6M356.5 360.8h1.6M356.5 363.3h1.6M356.5 369.3h1.6M356.5 370.8h1.6M357 281.3h1.6M357 287.3h1.6M357 290.8h1.6M357 296.3h1.6M357 296.8h1.6M357 310.3h1.6M357 322.8h1.6M357 324.8h1.6M357 329.8h1.6M357 337.3h1.6M357 339.8h1.6M357 341.8h1.6M357 347.3h1.6M357 347.8h1.6M357 348.8h1.6M357 350.3h1.6M357 360.8h1.6M357 361.8h1.6M357 364.8h1.6M357 368.8h1.6M357 369.3h1.6M357.5 276.3h1.6M357.5 280.3h1.6M357.5 281.3h1.6M357.5 287.3h1.6M357.5 288.3h1.6M357.5 293.3h1.6M357.5 295.3h1.6M357.5 297.3h1.6M357.5 298.8h1.6M357.5 301.3h1.6M357.5 302.8h1.6M357.5 305.3h1.6M357.5 307.8h1.6M357.5 310.3h1.6M357.5 315.3h1.6M357.5 319.3h1.6M357.5 324.3h1.6M357.5 328.8h1.6M357.5 332.8h1.6M357.5 334.8h1.6M357.5 338.8h1.6M357.5 341.3h1.6M357.5 341.8h1.6M357.5 351.3h1.6M357.5 354.8h1.6M357.5 355.3h1.6M357.5 358.3h1.6M357.5 359.3h1.6M357.5 364.3h1.6M357.5 365.3h1.6M357.5 366.3h1.6M357.5 369.8h1.6M358 284.3h1.6M358 285.3h1.6M358 286.8h1.6M358 289.8h1.6M358 294.3h1.6M358 297.8h1.6M358 298.3h1.6M358 301.3h1.6M358 302.8h1.6M358 306.8h1.6M358 314.3h1.6M358 319.3h1.6M358 345.3h1.6M358 352.3h1.6M358 353.8h1.6M358 355.3h1.6M358 359.3h1.6M358 369.3h1.6M358 371.3h1.6M358.5 275.8h1.6M358.5 279.3h1.6M358.5 282.8h1.6M358.5 290.3h1.6M358.5 292.8h1.6M358.5 293.8h1.6M358.5 295.8h1.6M358.5 299.3h1.6M358.5 302.8h1.6M358.5 325.3h1.6M358.5 343.8h1.6M358.5 344.8h1.6M358.5 348.3h1.6M358.5 353.3h1.6M358.5 359.3h1.6M358.5 360.3h1.6M358.5 367.8h1.6M359 282.3h1.6M359 287.8h1.6M359 290.3h1.6M359 291.8h1.6M359 294.3h1.6M359 294.8h1.6M359 296.3h1.6M359 297.8h1.6M359 298.8h1.6M359 300.8h1.6M359 312.8h1.6M359 330.8h1.6M359 331.3h1.6M359 345.8h1.6M359 347.8h1.6M359 350.3h1.6M359 354.3h1.6M359 356.8h1.6M359 358.8h1.6M359 360.3h1.6M359 361.8h1.6M359 362.3h1.6M359 363.3h1.6M359 366.8h1.6M359 368.3h1.6M359 370.3h1.6M359 375.3h1.6M359 378.3h1.6M359.5 281.3h1.6M359.5 288.8h1.6M359.5 291.3h1.6M359.5 293.3h1.6M359.5 294.8h1.6M359.5 297.3h1.6M359.5 309.3h1.6M359.5 322.8h1.6M359.5 334.8h1.6M359.5 348.8h1.6M359.5 349.8h1.6M359.5 350.8h1.6M359.5 352.8h1.6M359.5 353.3h1.6M359.5 354.3h1.6M359.5 356.3h1.6M359.5 358.8h1.6M359.5 359.3h1.6M359.5 362.8h1.6M359.5 364.8h1.6M359.5 365.3h1.6M359.5 365.8h1.6M359.5 367.3h1.6M359.5 367.8h1.6M359.5 368.3h1.6M359.5 370.8h1.6M359.5 374.8h1.6M360 292.3h1.6M360 293.3h1.6M360 296.3h1.6M360 298.3h1.6M360 302.3h1.6M360 304.3h1.6M360 304.8h1.6M360 307.3h1.6M360 310.8h1.6M360 320.8h1.6M360 346.8h1.6M360 348.8h1.6M360 350.3h1.6M360 350.8h1.6M360 356.3h1.6M360 357.8h1.6M360 361.3h1.6M360 361.8h1.6M360 362.8h1.6M360 364.3h1.6M360 369.8h1.6M360.5 279.8h1.6M360.5 283.8h1.6M360.5 285.8h1.6M360.5 286.8h1.6M360.5 290.3h1.6M360.5 292.8h1.6M360.5 296.3h1.6M360.5 298.8h1.6M360.5 311.3h1.6M360.5 324.8h1.6M360.5 341.3h1.6M360.5 342.3h1.6M360.5 343.8h1.6M360.5 345.3h1.6M360.5 347.3h1.6M360.5 347.8h1.6M360.5 351.3h1.6M360.5 352.3h1.6M360.5 353.8h1.6M360.5 354.3h1.6M360.5 355.8h1.6M360.5 357.8h1.6M360.5 358.8h1.6M360.5 362.3h1.6M360.5 364.3h1.6M360.5 365.3h1.6M360.5 366.8h1.6M360.5 367.8h1.6M361 282.8h1.6M361 287.8h1.6M361 290.3h1.6M361 293.8h1.6M361 294.8h1.6M361 295.8h1.6M361 298.8h1.6M361 299.8h1.6M361 304.8h1.6M361 306.3h1.6M361 317.3h1.6M361 335.8h1.6M361 337.8h1.6M361 339.8h1.6M361 344.3h1.6M361 345.8h1.6M361 348.3h1.6M361 348.8h1.6M361 350.3h1.6M361 350.8h1.6M361 352.8h1.6M361 355.3h1.6M361 357.3h1.6M361 357.8h1.6M361 358.8h1.6M361 365.3h1.6M361 365.8h1.6M361 370.8h1.6M361.5 284.8h1.6M361.5 288.3h1.6M361.5 290.3h1.6M361.5 290.8h1.6M361.5 294.8h1.6M361.5 295.3h1.6M361.5 295.8h1.6M361.5 304.3h1.6M361.5 305.8h1.6M361.5 321.3h1.6M361.5 346.8h1.6M361.5 347.8h1.6M361.5 348.3h1.6M361.5 353.8h1.6M361.5 361.8h1.6M361.5 362.3h1.6M361.5 370.8h1.6M361.5 374.8h1.6M362 279.8h1.6M362 280.3h1.6M362 282.8h1.6M362 285.3h1.6M362 287.3h1.6M362 288.3h1.6M362 295.3h1.6M362 295.8h1.6M362 304.8h1.6M362 308.8h1.6M362 310.8h1.6M362 311.8h1.6M362 339.3h1.6M362 340.8h1.6M362 341.3h1.6M362 344.3h1.6M362 346.8h1.6M362 348.8h1.6M362 351.3h1.6M362 353.8h1.6M362 357.8h1.6M362 359.8h1.6M362 365.3h1.6M362 366.3h1.6M362.5 274.3h1.6M362.5 285.8h1.6M362.5 286.3h1.6M362.5 294.8h1.6M362.5 296.8h1.6M362.5 300.8h1.6M362.5 303.8h1.6M362.5 304.8h1.6M362.5 305.3h1.6M362.5 306.3h1.6M362.5 322.3h1.6M362.5 323.3h1.6M362.5 341.8h1.6M362.5 344.8h1.6M362.5 352.8h1.6M362.5 359.3h1.6M362.5 360.3h1.6M362.5 364.8h1.6M362.5 365.3h1.6M362.5 369.8h1.6M362.5 371.8h1.6M363 272.3h1.6M363 286.3h1.6M363 290.3h1.6M363 298.3h1.6M363 299.3h1.6M363 299.8h1.6M363 300.3h1.6M363 300.8h1.6M363 302.8h1.6M363 303.8h1.6M363 306.3h1.6M363 306.8h1.6M363 312.8h1.6M363 314.8h1.6M363 346.8h1.6M363 347.8h1.6M363 355.8h1.6M363 357.3h1.6M363 357.8h1.6M363 360.8h1.6M363 362.8h1.6M363 364.8h1.6M363 367.3h1.6M363 371.8h1.6M363.5 290.8h1.6M363.5 293.8h1.6M363.5 294.3h1.6M363.5 294.8h1.6M363.5 297.8h1.6M363.5 298.3h1.6M363.5 299.8h1.6M363.5 309.3h1.6M363.5 319.8h1.6M363.5 322.8h1.6M363.5 327.8h1.6M363.5 339.8h1.6M363.5 341.8h1.6M363.5 347.8h1.6M363.5 353.3h1.6M363.5 355.3h1.6M363.5 358.8h1.6M363.5 364.8h1.6M363.5 365.8h1.6M363.5 368.3h1.6M363.5 369.3h1.6M363.5 377.8h1.6M364 279.8h1.6M364 280.3h1.6M364 281.3h1.6M364 288.3h1.6M364 291.3h1.6M364 295.8h1.6M364 299.3h1.6M364 300.3h1.6M364 304.3h1.6M364 328.3h1.6M364 332.8h1.6M364 333.8h1.6M364 344.8h1.6M364 352.3h1.6M364 355.3h1.6M364 359.3h1.6M364 360.3h1.6M364 370.8h1.6M364.5 282.3h1.6M364.5 283.3h1.6M364.5 284.3h1.6M364.5 288.8h1.6M364.5 291.3h1.6M364.5 295.3h1.6M364.5 301.3h1.6M364.5 302.8h1.6M364.5 303.3h1.6M364.5 303.8h1.6M364.5 321.8h1.6M364.5 340.3h1.6M364.5 344.3h1.6M364.5 346.8h1.6M364.5 348.3h1.6M364.5 349.8h1.6M364.5 352.8h1.6M364.5 353.3h1.6M364.5 355.3h1.6M364.5 361.3h1.6M364.5 361.8h1.6M364.5 362.8h1.6M365 278.8h1.6M365 279.8h1.6M365 284.8h1.6M365 287.8h1.6M365 288.3h1.6M365 289.8h1.6M365 292.8h1.6M365 297.8h1.6M365 307.3h1.6M365 313.3h1.6M365 326.8h1.6M365 334.8h1.6M365 347.8h1.6M365 350.3h1.6M365 351.8h1.6M365 354.8h1.6M365 355.8h1.6M365 358.3h1.6M365 360.8h1.6M365 363.8h1.6M365 366.8h1.6M365 374.3h1.6M365.5 282.3h1.6M365.5 287.8h1.6M365.5 289.8h1.6M365.5 290.3h1.6M365.5 290.8h1.6M365.5 292.3h1.6M365.5 296.8h1.6M365.5 300.3h1.6M365.5 305.8h1.6M365.5 308.3h1.6M365.5 308.8h1.6M365.5 331.3h1.6M365.5 341.8h1.6M365.5 346.3h1.6M365.5 350.8h1.6M365.5 351.3h1.6M365.5 351.8h1.6M365.5 353.8h1.6M365.5 358.8h1.6M365.5 363.8h1.6M365.5 365.3h1.6M365.5 367.8h1.6M366 286.8h1.6M366 288.3h1.6M366 288.8h1.6M366 289.8h1.6M366 301.3h1.6M366 301.8h1.6M366 303.3h1.6M366 315.8h1.6M366 339.3h1.6M366 344.8h1.6M366 347.8h1.6M366 348.3h1.6M366 355.3h1.6M366 355.8h1.6M366 362.8h1.6M366 365.8h1.6M366 371.3h1.6M366.5 282.3h1.6M366.5 282.8h1.6M366.5 284.3h1.6M366.5 285.8h1.6M366.5 287.3h1.6M366.5 288.8h1.6M366.5 290.8h1.6M366.5 291.8h1.6M366.5 292.3h1.6M366.5 293.3h1.6M366.5 301.3h1.6M366.5 301.8h1.6M366.5 304.3h1.6M366.5 312.8h1.6M366.5 314.8h1.6M366.5 335.8h1.6M366.5 342.3h1.6M366.5 349.8h1.6M366.5 353.8h1.6M366.5 360.3h1.6M366.5 364.8h1.6M366.5 371.8h1.6M367 281.8h1.6M367 288.8h1.6M367 289.3h1.6M367 291.8h1.6M367 294.3h1.6M367 297.3h1.6M367 298.8h1.6M367 334.8h1.6M367 339.3h1.6M367 347.3h1.6M367 349.8h1.6M367 351.3h1.6M367 355.3h1.6M367 356.8h1.6M367 357.3h1.6M367 360.3h1.6M367.5 280.8h1.6M367.5 283.8h1.6M367.5 284.3h1.6M367.5 285.8h1.6M367.5 290.3h1.6M367.5 291.8h1.6M367.5 296.8h1.6M367.5 300.3h1.6M367.5 301.3h1.6M367.5 302.3h1.6M367.5 304.3h1.6M367.5 317.3h1.6M367.5 343.3h1.6M367.5 350.3h1.6M367.5 356.8h1.6M367.5 358.3h1.6M368 285.8h1.6M368 287.8h1.6M368 290.3h1.6M368 296.3h1.6M368 301.3h1.6M368 301.8h1.6M368 305.3h1.6M368 317.3h1.6M368 343.3h1.6M368 346.3h1.6M368 367.8h1.6M368 370.3h1.6M368.5 289.3h1.6M368.5 291.8h1.6M368.5 295.8h1.6M368.5 297.8h1.6M368.5 303.8h1.6M368.5 306.3h1.6M368.5 307.8h1.6M368.5 312.8h1.6M368.5 347.3h1.6M368.5 354.3h1.6M368.5 355.3h1.6M368.5 357.3h1.6M368.5 360.3h1.6M368.5 361.8h1.6M368.5 362.3h1.6M369 283.8h1.6M369 284.3h1.6M369 284.8h1.6M369 287.3h1.6M369 290.3h1.6M369 295.8h1.6M369 306.8h1.6M369 307.8h1.6M369 359.3h1.6M369 361.3h1.6M369 365.8h1.6M369.5 280.8h1.6M369.5 288.3h1.6M369.5 288.8h1.6M369.5 294.8h1.6M369.5 297.3h1.6M369.5 314.8h1.6M369.5 353.3h1.6M370 284.8h1.6M370 287.8h1.6M370 291.3h1.6M370 293.8h1.6M370 294.8h1.6M370 295.3h1.6M370 298.8h1.6M370 300.3h1.6M370 308.8h1.6M370 311.8h1.6M370 321.3h1.6M370 346.8h1.6M370 353.3h1.6M370 355.8h1.6M370 358.8h1.6M370 359.3h1.6M370 360.3h1.6M370 367.3h1.6M370.5 279.3h1.6M370.5 282.8h1.6M370.5 286.8h1.6M370.5 287.3h1.6M370.5 287.8h1.6M370.5 291.3h1.6M370.5 294.3h1.6M370.5 301.8h1.6M370.5 304.8h1.6M370.5 307.8h1.6M370.5 312.8h1.6M370.5 318.3h1.6M370.5 320.3h1.6M370.5 341.8h1.6M370.5 348.8h1.6M370.5 376.8h1.6M371 275.8h1.6M371 286.3h1.6M371 287.8h1.6M371 288.3h1.6M371 290.3h1.6M371 291.3h1.6M371 293.8h1.6M371 295.3h1.6M371 296.8h1.6M371 302.8h1.6M371 308.3h1.6M371 321.8h1.6M371 323.8h1.6M371 324.3h1.6M371 348.3h1.6M371 349.3h1.6M371 353.8h1.6M371 370.8h1.6M371.5 275.8h1.6M371.5 280.8h1.6M371.5 281.3h1.6M371.5 283.8h1.6M371.5 286.8h1.6M371.5 288.3h1.6M371.5 289.8h1.6M371.5 290.3h1.6M371.5 292.3h1.6M371.5 293.3h1.6M371.5 299.8h1.6M371.5 311.8h1.6M371.5 340.3h1.6M371.5 341.3h1.6M371.5 358.3h1.6M371.5 358.8h1.6M372 277.3h1.6M372 284.3h1.6M372 284.8h1.6M372 285.3h1.6M372 297.8h1.6M372 299.3h1.6M372 301.8h1.6M372 309.8h1.6M372 348.3h1.6M372 352.8h1.6M372 355.8h1.6M372 360.8h1.6M372.5 284.3h1.6M372.5 289.3h1.6M372.5 289.8h1.6M372.5 290.8h1.6M372.5 294.3h1.6M372.5 297.8h1.6M372.5 301.8h1.6M372.5 323.8h1.6M373 283.8h1.6M373 288.3h1.6M373 294.8h1.6M373 295.3h1.6M373 296.8h1.6M373 297.8h1.6M373 298.8h1.6M373 299.3h1.6M373 300.3h1.6M373 309.8h1.6M373 310.3h1.6M373 321.8h1.6M373 324.3h1.6M373.5 279.8h1.6M373.5 285.3h1.6M373.5 286.8h1.6M373.5 290.3h1.6M373.5 291.8h1.6M373.5 292.3h1.6M373.5 293.3h1.6M373.5 297.3h1.6M373.5 300.3h1.6M373.5 302.8h1.6M373.5 376.8h1.6M374 282.8h1.6M374 291.3h1.6M374 294.8h1.6M374 296.8h1.6M374 297.8h1.6M374 298.3h1.6M374 299.8h1.6M374 303.3h1.6M374 314.3h1.6M374 321.8h1.6M374 322.8h1.6M374 348.3h1.6M374.5 287.8h1.6M374.5 290.3h1.6M374.5 290.8h1.6M374.5 299.8h1.6M374.5 301.3h1.6M374.5 303.3h1.6M374.5 316.3h1.6M374.5 319.8h1.6M374.5 355.3h1.6M375 283.3h1.6M375 287.8h1.6M375 289.3h1.6M375 290.3h1.6M375 294.3h1.6M375 295.8h1.6M375 298.8h1.6M375 299.8h1.6M375 300.8h1.6M375 302.8h1.6M375 337.3h1.6M375 347.8h1.6M375.5 286.3h1.6M375.5 287.3h1.6M375.5 288.3h1.6M375.5 288.8h1.6M375.5 293.3h1.6M375.5 298.3h1.6M375.5 298.8h1.6M375.5 299.8h1.6M375.5 300.3h1.6M375.5 302.8h1.6M375.5 310.3h1.6M375.5 331.8h1.6M376 286.3h1.6M376 291.3h1.6M376 293.8h1.6M376 361.3h1.6M376.5 283.3h1.6M376.5 285.3h1.6M376.5 285.8h1.6M376.5 296.8h1.6M376.5 298.8h1.6M376.5 299.3h1.6M376.5 299.8h1.6M376.5 301.8h1.6M376.5 306.3h1.6M376.5 310.8h1.6M376.5 311.8h1.6M376.5 319.3h1.6M376.5 375.8h1.6M377 288.3h1.6M377 296.8h1.6M377 301.8h1.6M377 359.3h1.6M377.5 284.3h1.6M377.5 289.3h1.6M377.5 291.8h1.6M377.5 293.8h1.6M377.5 295.8h1.6M377.5 351.3h1.6M377.5 354.8h1.6M378 280.8h1.6M378 290.8h1.6M378 291.8h1.6M378 296.8h1.6M378 297.8h1.6M378 298.8h1.6M378 299.8h1.6M378 300.8h1.6M378.5 286.8h1.6M378.5 288.8h1.6M378.5 292.8h1.6M378.5 293.8h1.6M378.5 297.8h1.6M378.5 299.3h1.6M378.5 341.3h1.6M378.5 348.3h1.6M379 287.8h1.6M379 293.3h1.6M379 297.8h1.6M379 298.3h1.6M379 318.8h1.6M380 291.3h1.6M380 300.3h1.6M380 358.3h1.6M380 359.8h1.6M380 376.8h1.6M380.5 284.8h1.6M380.5 292.8h1.6M380.5 293.3h1.6M380.5 300.8h1.6M381 283.8h1.6M381 296.8h1.6M381 326.8h1.6M381 378.3h1.6M381.5 287.3h1.6M381.5 289.8h1.6M381.5 290.3h1.6M381.5 293.8h1.6M381.5 300.3h1.6M381.5 365.3h1.6M382 285.8h1.6M382 289.3h1.6M382 292.8h1.6M382 293.3h1.6M382 295.8h1.6M382 299.3h1.6M382 308.3h1.6M382 330.8h1.6M382 345.8h1.6M382.5 287.8h1.6M382.5 293.8h1.6M383 292.3h1.6M383 299.8h1.6M383 315.8h1.6M383 338.8h1.6M383 347.8h1.6M383.5 284.3h1.6M383.5 289.3h1.6M383.5 314.8h1.6M384 282.8h1.6M384 290.8h1.6M384 297.3h1.6M384 319.8h1.6M384.5 295.3h1.6M384.5 300.3h1.6M384.5 321.8h1.6M384.5 365.3h1.6M385 285.3h1.6M385 344.3h1.6M385.5 291.8h1.6M385.5 297.8h1.6M385.5 312.3h1.6M385.5 331.3h1.6M386 291.3h1.6M386 294.3h1.6M386 303.8h1.6M386 310.3h1.6M386.5 290.8h1.6M387 339.3h1.6M387 371.3h1.6M387.5 288.8h1.6M388 294.3h1.6M388 294.8h1.6M388 295.3h1.6M388 297.8h1.6M388 300.3h1.6M388 308.3h1.6M388 340.8h1.6M388 353.8h1.6M388.5 276.8h1.6M388.5 283.8h1.6M388.5 293.3h1.6M388.5 295.3h1.6M388.5 298.8h1.6M388.5 317.8h1.6M389 287.8h1.6M389 291.8h1.6M389 358.3h1.6M389 360.3h1.6M389.5 300.8h1.6M389.5 329.8h1.6M390 273.8h1.6M390 279.3h1.6M390 298.3h1.6M390 318.8h1.6M390.5 279.8h1.6M390.5 282.8h1.6M390.5 285.8h1.6M390.5 306.3h1.6M391 351.3h1.6M391 374.8h1.6M391.5 288.3h1.6M391.5 300.3h1.6M391.5 301.3h1.6M391.5 362.8h1.6M392 289.3h1.6M392 297.8h1.6M392 343.3h1.6M392.5 281.3h1.6M392.5 375.3h1.6M393 286.3h1.6M393 299.8h1.6M393 356.3h1.6M393.5 285.8h1.6M393.5 357.3h1.6M394 343.3h1.6M394.5 291.8h1.6M394.5 300.3h1.6M394.5 365.3h1.6M395 284.8h1.6M395 289.8h1.6M395.5 296.8h1.6M395.5 300.8h1.6M396 334.3h1.6M396 344.3h1.6M396.5 348.3h1.6M397 299.3h1.6M397.5 288.8h1.6M397.5 293.3h1.6M397.5 312.3h1.6M397.5 319.8h1.6M397.5 367.8h1.6M398 299.3h1.6M398 311.3h1.6M398 320.3h1.6M398 359.8h1.6M398.5 324.8h1.6M398.5 354.3h1.6M398.5 358.8h1.6M399 287.3h1.6M399 311.3h1.6M399 312.3h1.6M399 370.8h1.6M399.5 283.8h1.6M399.5 303.8h1.6M399.5 310.8h1.6M399.5 311.3h1.6M399.5 320.3h1.6M399.5 323.8h1.6M400 295.8h1.6M400 297.8h1.6M400 301.8h1.6M400.5 280.3h1.6M400.5 310.8h1.6M400.5 312.3h1.6M400.5 314.3h1.6M400.5 314.8h1.6M400.5 347.8h1.6M401 286.3h1.6M401 294.8h1.6M401 296.3h1.6M401 305.8h1.6M401 307.3h1.6M401 310.3h1.6M401 314.3h1.6M401.5 277.8h1.6M401.5 287.8h1.6M401.5 291.8h1.6M401.5 300.3h1.6M401.5 301.8h1.6M401.5 315.3h1.6M402 285.3h1.6M402 291.8h1.6M402 298.3h1.6M402 299.8h1.6M402 309.8h1.6M402 349.3h1.6M402.5 293.8h1.6M402.5 302.3h1.6M402.5 313.3h1.6M402.5 314.3h1.6M402.5 315.8h1.6M402.5 318.8h1.6M402.5 362.8h1.6M402.5 369.3h1.6M403 279.3h1.6M403 284.8h1.6M403 286.3h1.6M403 294.8h1.6M403 304.8h1.6M403 308.8h1.6M403 310.3h1.6M403 315.8h1.6M403.5 293.8h1.6M403.5 295.8h1.6M403.5 297.8h1.6M403.5 304.3h1.6M403.5 304.8h1.6M403.5 305.8h1.6M403.5 307.3h1.6M403.5 308.8h1.6M403.5 311.3h1.6M403.5 328.3h1.6M404 304.3h1.6M404 311.8h1.6M404 323.8h1.6M404 365.3h1.6M404.5 290.3h1.6M404.5 295.8h1.6M404.5 296.8h1.6M404.5 298.3h1.6M404.5 299.3h1.6M404.5 303.8h1.6M404.5 305.8h1.6M404.5 314.8h1.6M404.5 325.8h1.6M404.5 380.3h1.6M405 292.8h1.6M405 304.8h1.6M405 307.3h1.6M405 317.8h1.6M405 332.8h1.6M405.5 277.8h1.6M405.5 286.3h1.6M405.5 288.8h1.6M405.5 292.3h1.6M405.5 294.8h1.6M405.5 297.8h1.6M405.5 308.8h1.6M405.5 318.3h1.6M405.5 328.3h1.6M405.5 377.3h1.6M406 276.3h1.6M406 289.3h1.6M406 293.3h1.6M406 294.8h1.6M406 297.8h1.6M406 301.3h1.6M406 302.8h1.6M406 309.8h1.6M406 317.8h1.6M406 320.3h1.6M406 320.8h1.6M406 368.8h1.6M406 379.3h1.6M406.5 284.8h1.6M406.5 286.3h1.6M406.5 288.8h1.6M406.5 289.8h1.6M406.5 290.8h1.6M406.5 298.3h1.6M406.5 299.8h1.6M406.5 300.3h1.6M406.5 303.3h1.6M406.5 312.3h1.6M406.5 313.3h1.6M406.5 315.8h1.6M406.5 331.8h1.6M407 288.3h1.6M407 290.8h1.6M407 292.8h1.6M407 294.3h1.6M407 296.8h1.6M407 299.3h1.6M407 302.8h1.6M407 305.8h1.6M407 306.3h1.6M407 307.3h1.6M407 312.3h1.6M407 318.8h1.6M407 378.3h1.6M407.5 285.8h1.6M407.5 289.8h1.6M407.5 294.3h1.6M407.5 297.3h1.6M407.5 297.8h1.6M407.5 298.8h1.6M407.5 301.8h1.6M407.5 307.3h1.6M407.5 310.8h1.6M407.5 316.3h1.6M407.5 320.3h1.6M407.5 320.8h1.6M408 281.3h1.6M408 291.8h1.6M408 292.3h1.6M408 298.8h1.6M408 299.3h1.6M408 300.3h1.6M408 301.8h1.6M408 307.3h1.6M408 312.8h1.6M408 313.8h1.6M408 318.8h1.6M408 321.3h1.6M408 328.3h1.6M408 371.3h1.6M408.5 282.8h1.6M408.5 284.3h1.6M408.5 286.8h1.6M408.5 288.3h1.6M408.5 288.8h1.6M408.5 290.8h1.6M408.5 300.3h1.6M408.5 302.3h1.6M408.5 305.3h1.6M408.5 310.8h1.6M408.5 316.3h1.6M408.5 318.3h1.6M408.5 323.3h1.6M408.5 370.8h1.6M409 295.8h1.6M409 298.3h1.6M409 298.8h1.6M409 305.8h1.6M409 311.8h1.6M409 312.3h1.6M409 313.3h1.6M409.5 287.3h1.6M409.5 287.8h1.6M409.5 288.3h1.6M409.5 291.3h1.6M409.5 292.8h1.6M409.5 293.8h1.6M409.5 298.8h1.6M409.5 299.8h1.6M409.5 313.3h1.6M409.5 319.3h1.6M409.5 325.3h1.6M409.5 342.3h1.6M409.5 352.3h1.6M410 281.8h1.6M410 284.3h1.6M410 288.3h1.6M410 290.8h1.6M410 291.8h1.6M410 293.8h1.6M410 298.3h1.6M410 300.3h1.6M410 300.8h1.6M410 302.8h1.6M410 305.3h1.6M410 311.8h1.6M410 315.3h1.6M410 319.8h1.6M410 345.8h1.6M410.5 291.3h1.6M410.5 291.8h1.6M410.5 293.8h1.6M410.5 298.3h1.6M410.5 305.3h1.6M410.5 313.3h1.6M410.5 320.8h1.6M410.5 325.3h1.6M410.5 325.8h1.6M411 278.8h1.6M411 286.3h1.6M411 288.3h1.6M411 291.3h1.6M411 293.8h1.6M411 299.3h1.6M411 301.3h1.6M411 301.8h1.6M411 304.3h1.6M411 306.8h1.6M411 308.3h1.6M411 311.3h1.6M411 317.8h1.6M411 323.3h1.6M411 368.3h1.6M411.5 275.3h1.6M411.5 280.3h1.6M411.5 289.3h1.6M411.5 290.3h1.6M411.5 297.3h1.6M411.5 299.8h1.6M411.5 302.8h1.6M411.5 308.8h1.6M411.5 310.3h1.6M411.5 312.8h1.6M411.5 315.8h1.6M411.5 316.3h1.6M411.5 320.8h1.6M411.5 323.8h1.6M411.5 335.3h1.6M411.5 368.8h1.6M412 294.8h1.6M412 295.3h1.6M412 296.8h1.6M412 299.8h1.6M412 300.8h1.6M412 301.3h1.6M412 301.8h1.6M412 303.8h1.6M412 304.3h1.6M412 305.3h1.6M412 307.3h1.6M412 312.8h1.6M412 313.3h1.6M412 314.3h1.6M412 315.3h1.6M412.5 281.3h1.6M412.5 291.3h1.6M412.5 294.8h1.6M412.5 296.8h1.6M412.5 306.3h1.6M412.5 325.8h1.6M412.5 335.3h1.6M412.5 359.8h1.6M413 291.3h1.6M413 305.8h1.6M413 307.8h1.6M413 308.8h1.6M413 309.8h1.6M413 314.3h1.6M413 330.8h1.6M413 344.3h1.6M413 360.8h1.6M413 361.3h1.6M413 365.3h1.6M413.5 274.8h1.6M413.5 278.8h1.6M413.5 283.8h1.6M413.5 292.3h1.6M413.5 294.3h1.6M413.5 298.3h1.6M413.5 299.3h1.6M413.5 301.8h1.6M413.5 312.3h1.6M413.5 319.3h1.6M414 276.8h1.6M414 288.3h1.6M414 299.3h1.6M414 301.3h1.6M414 302.8h1.6M414 307.8h1.6M414 308.8h1.6M414 325.8h1.6M414 327.8h1.6M414 337.8h1.6M414 361.8h1.6M414.5 276.3h1.6M414.5 281.8h1.6M414.5 287.3h1.6M414.5 302.8h1.6M414.5 306.8h1.6M414.5 307.3h1.6M414.5 307.8h1.6M414.5 317.8h1.6M414.5 322.3h1.6M414.5 322.8h1.6M414.5 334.3h1.6M414.5 341.8h1.6M415 286.8h1.6M415 290.3h1.6M415 296.3h1.6M415 296.8h1.6M415 298.3h1.6M415 300.3h1.6M415 309.3h1.6M415 311.8h1.6M415 314.3h1.6M415 321.8h1.6M415.5 278.8h1.6M415.5 282.3h1.6M415.5 283.8h1.6M415.5 291.8h1.6M415.5 295.3h1.6M415.5 299.3h1.6M415.5 300.3h1.6M415.5 304.3h1.6M415.5 305.3h1.6M415.5 309.3h1.6M415.5 310.8h1.6M415.5 312.3h1.6M415.5 313.3h1.6M415.5 320.3h1.6M415.5 321.3h1.6M415.5 324.3h1.6M415.5 355.8h1.6M416 277.8h1.6M416 278.8h1.6M416 280.3h1.6M416 282.8h1.6M416 287.8h1.6M416 288.3h1.6M416 291.8h1.6M416 293.3h1.6M416 295.8h1.6M416 299.3h1.6M416 302.3h1.6M416 304.3h1.6M416 304.8h1.6M416 312.3h1.6M416 319.8h1.6M416 321.8h1.6M416 322.3h1.6M416 358.3h1.6M416 379.8h1.6M416.5 273.3h1.6M416.5 277.3h1.6M416.5 284.3h1.6M416.5 292.3h1.6M416.5 295.3h1.6M416.5 297.8h1.6M416.5 298.3h1.6M416.5 300.3h1.6M416.5 301.3h1.6M416.5 304.3h1.6M416.5 304.8h1.6M416.5 306.8h1.6M416.5 313.3h1.6M416.5 326.3h1.6M416.5 347.3h1.6M416.5 359.8h1.6M416.5 375.3h1.6M417 279.8h1.6M417 280.8h1.6M417 281.8h1.6M417 284.8h1.6M417 287.8h1.6M417 288.3h1.6M417 299.3h1.6M417 301.8h1.6M417 305.8h1.6M417 307.3h1.6M417 309.8h1.6M417 310.3h1.6M417 313.3h1.6M417 316.3h1.6M417 319.3h1.6M417 320.8h1.6M417 322.3h1.6M417 324.3h1.6M417 369.3h1.6M417.5 281.8h1.6M417.5 283.8h1.6M417.5 285.3h1.6M417.5 297.8h1.6M417.5 301.8h1.6M417.5 305.3h1.6M417.5 312.8h1.6M417.5 327.8h1.6M417.5 331.3h1.6M417.5 349.3h1.6M418 279.8h1.6M418 285.8h1.6M418 287.3h1.6M418 289.3h1.6M418 291.3h1.6M418 295.3h1.6M418 297.8h1.6M418 298.8h1.6M418 300.8h1.6M418 302.3h1.6M418 303.8h1.6M418 306.3h1.6M418 313.8h1.6M418 321.3h1.6M418 329.8h1.6M418 355.8h1.6M418.5 280.8h1.6M418.5 283.8h1.6M418.5 284.3h1.6M418.5 287.8h1.6M418.5 288.3h1.6M418.5 289.8h1.6M418.5 293.3h1.6M418.5 293.8h1.6M418.5 295.8h1.6M418.5 296.8h1.6M418.5 297.3h1.6M418.5 298.3h1.6M418.5 302.8h1.6M418.5 303.8h1.6M418.5 305.8h1.6M418.5 348.3h1.6M418.5 364.3h1.6M419 275.3h1.6M419 282.8h1.6M419 286.8h1.6M419 290.3h1.6M419 291.3h1.6M419 298.8h1.6M419 302.3h1.6M419 309.3h1.6M419 312.3h1.6M419 314.8h1.6M419 316.3h1.6M419 358.8h1.6M419 360.3h1.6M419 362.8h1.6M419 368.3h1.6M419.5 281.3h1.6M419.5 287.8h1.6M419.5 289.8h1.6M419.5 297.3h1.6M419.5 302.8h1.6M419.5 304.8h1.6M419.5 305.3h1.6M419.5 305.8h1.6M419.5 307.8h1.6M419.5 312.3h1.6M419.5 316.8h1.6M419.5 318.8h1.6M419.5 321.8h1.6M419.5 329.8h1.6M419.5 352.3h1.6M419.5 356.8h1.6M419.5 363.3h1.6M419.5 365.3h1.6M419.5 370.8h1.6M420 278.3h1.6M420 282.8h1.6M420 286.8h1.6M420 287.8h1.6M420 289.3h1.6M420 292.3h1.6M420 293.3h1.6M420 293.8h1.6M420 297.3h1.6M420 300.3h1.6M420 302.8h1.6M420 304.8h1.6M420 306.3h1.6M420 310.8h1.6M420 311.8h1.6M420 315.8h1.6M420 318.3h1.6M420 321.8h1.6M420 323.3h1.6M420 350.8h1.6M420 359.3h1.6M420 359.8h1.6M420.5 276.3h1.6M420.5 292.8h1.6M420.5 293.3h1.6M420.5 298.3h1.6M420.5 301.8h1.6M420.5 305.8h1.6M420.5 307.3h1.6M420.5 308.3h1.6M420.5 310.8h1.6M420.5 311.8h1.6M420.5 312.3h1.6M420.5 315.8h1.6M420.5 333.3h1.6M420.5 343.8h1.6M420.5 346.3h1.6M420.5 356.3h1.6M420.5 377.8h1.6M421 276.8h1.6M421 291.8h1.6M421 295.8h1.6M421 302.3h1.6M421 304.8h1.6M421 305.3h1.6M421 308.3h1.6M421 312.3h1.6M421 314.8h1.6M421 326.8h1.6M421 343.8h1.6M421 360.8h1.6M421 366.3h1.6M421 366.8h1.6M421 367.3h1.6M421.5 281.8h1.6M421.5 282.3h1.6M421.5 288.8h1.6M421.5 291.3h1.6M421.5 292.8h1.6M421.5 296.8h1.6M421.5 297.3h1.6M421.5 297.8h1.6M421.5 298.3h1.6M421.5 303.8h1.6M421.5 304.3h1.6M421.5 305.3h1.6M421.5 312.3h1.6M421.5 317.3h1.6M421.5 317.8h1.6M421.5 321.8h1.6M421.5 347.3h1.6M421.5 349.3h1.6M421.5 351.3h1.6M421.5 354.8h1.6M421.5 355.8h1.6M421.5 356.3h1.6M421.5 357.3h1.6M421.5 374.8h1.6M422 276.8h1.6M422 292.8h1.6M422 293.8h1.6M422 295.8h1.6M422 303.3h1.6M422 304.3h1.6M422 306.3h1.6M422 308.3h1.6M422 309.8h1.6M422 311.3h1.6M422 315.8h1.6M422 319.3h1.6M422 324.3h1.6M422 326.8h1.6M422 348.3h1.6M422 355.8h1.6M422 356.8h1.6M422 361.3h1.6M422 364.8h1.6M422 365.8h1.6M422 368.3h1.6M422 370.8h1.6M422.5 286.8h1.6M422.5 289.3h1.6M422.5 291.3h1.6M422.5 301.3h1.6M422.5 303.3h1.6M422.5 304.8h1.6M422.5 305.8h1.6M422.5 308.3h1.6M422.5 308.8h1.6M422.5 313.8h1.6M422.5 317.3h1.6M422.5 320.8h1.6M422.5 327.3h1.6M422.5 349.3h1.6M422.5 351.3h1.6M422.5 352.3h1.6M422.5 357.8h1.6M422.5 360.3h1.6M422.5 363.3h1.6M422.5 365.3h1.6M422.5 374.8h1.6M423 289.3h1.6M423 291.3h1.6M423 291.8h1.6M423 294.3h1.6M423 295.8h1.6M423 297.8h1.6M423 303.3h1.6M423 306.3h1.6M423 308.3h1.6M423 308.8h1.6M423 317.3h1.6M423 317.8h1.6M423 319.3h1.6M423 345.3h1.6M423 355.8h1.6M423 356.8h1.6M423 358.3h1.6M423 359.3h1.6M423 366.8h1.6M423 369.3h1.6M423.5 278.3h1.6M423.5 282.8h1.6M423.5 286.3h1.6M423.5 289.3h1.6M423.5 289.8h1.6M423.5 297.8h1.6M423.5 298.8h1.6M423.5 312.8h1.6M423.5 313.8h1.6M423.5 314.3h1.6M423.5 325.3h1.6M423.5 325.8h1.6M423.5 345.3h1.6M423.5 354.3h1.6M423.5 355.8h1.6M423.5 356.8h1.6M423.5 357.3h1.6M423.5 358.8h1.6M423.5 373.8h1.6M424 286.8h1.6M424 288.3h1.6M424 289.8h1.6M424 290.8h1.6M424 293.3h1.6M424 299.8h1.6M424 303.8h1.6M424 309.3h1.6M424 311.3h1.6M424 313.8h1.6M424 318.8h1.6M424 320.3h1.6M424 320.8h1.6M424 321.3h1.6M424 350.3h1.6M424 350.8h1.6M424 353.3h1.6M424 357.3h1.6M424 358.8h1.6M424 370.8h1.6M424 374.3h1.6M424.5 282.8h1.6M424.5 284.3h1.6M424.5 293.8h1.6M424.5 294.8h1.6M424.5 298.3h1.6M424.5 300.3h1.6M424.5 301.3h1.6M424.5 303.3h1.6M424.5 308.8h1.6M424.5 313.8h1.6M424.5 315.8h1.6M424.5 319.8h1.6M424.5 341.8h1.6M424.5 344.8h1.6M424.5 350.8h1.6M424.5 356.8h1.6M424.5 359.3h1.6M424.5 361.3h1.6M424.5 363.3h1.6M424.5 365.8h1.6M425 278.8h1.6M425 281.8h1.6M425 285.8h1.6M425 287.8h1.6M425 299.3h1.6M425 302.3h1.6M425 304.3h1.6M425 306.3h1.6M425 307.8h1.6M425 313.8h1.6M425 316.8h1.6M425 331.8h1.6M425 348.8h1.6M425 351.3h1.6M425 352.3h1.6M425 354.3h1.6M425 355.3h1.6M425 359.3h1.6M425 362.8h1.6M425 366.8h1.6M425 368.8h1.6M425 370.3h1.6M425 371.8h1.6M425 372.8h1.6M425.5 279.3h1.6M425.5 290.3h1.6M425.5 299.3h1.6M425.5 300.3h1.6M425.5 300.8h1.6M425.5 305.3h1.6M425.5 314.3h1.6M425.5 321.3h1.6M425.5 330.8h1.6M425.5 342.3h1.6M425.5 349.8h1.6M425.5 351.3h1.6M425.5 353.3h1.6M425.5 354.3h1.6M425.5 354.8h1.6M425.5 355.3h1.6M425.5 356.8h1.6M425.5 360.3h1.6M425.5 364.3h1.6M425.5 364.8h1.6M425.5 369.8h1.6M425.5 370.8h1.6M425.5 371.8h1.6M426 283.8h1.6M426 287.8h1.6M426 293.3h1.6M426 296.3h1.6M426 310.8h1.6M426 313.3h1.6M426 313.8h1.6M426 314.3h1.6M426 321.3h1.6M426 322.8h1.6M426 340.8h1.6M426 343.8h1.6M426 348.8h1.6M426 354.8h1.6M426 355.3h1.6M426 358.8h1.6M426 361.3h1.6M426 367.3h1.6M426 367.8h1.6M426 368.3h1.6M426 369.3h1.6M426 371.3h1.6M426 371.8h1.6M426 372.3h1.6M426 372.8h1.6M426 375.8h1.6M426.5 291.8h1.6M426.5 294.8h1.6M426.5 312.8h1.6M426.5 320.3h1.6M426.5 349.3h1.6M426.5 356.3h1.6M426.5 356.8h1.6M426.5 359.3h1.6M426.5 360.8h1.6M426.5 361.8h1.6M426.5 362.3h1.6M426.5 365.8h1.6M426.5 368.3h1.6M426.5 369.3h1.6M426.5 375.3h1.6M426.5 376.8h1.6M426.5 377.3h1.6M427 281.3h1.6M427 282.3h1.6M427 286.3h1.6M427 288.3h1.6M427 292.3h1.6M427 297.8h1.6M427 302.3h1.6M427 302.8h1.6M427 304.8h1.6M427 307.8h1.6M427 308.8h1.6M427 324.8h1.6M427 344.8h1.6M427 347.8h1.6M427 351.8h1.6M427 352.3h1.6M427 355.3h1.6M427 358.3h1.6M427 360.3h1.6M427 362.3h1.6M427 364.8h1.6M427 365.8h1.6M427 370.3h1.6M427 370.8h1.6M427 373.8h1.6M427 376.8h1.6M427.5 277.8h1.6M427.5 289.3h1.6M427.5 294.8h1.6M427.5 296.8h1.6M427.5 297.8h1.6M427.5 299.8h1.6M427.5 303.3h1.6M427.5 304.3h1.6M427.5 308.8h1.6M427.5 311.3h1.6M427.5 324.3h1.6M427.5 339.3h1.6M427.5 347.8h1.6M427.5 348.3h1.6M427.5 349.8h1.6M427.5 351.3h1.6M427.5 353.3h1.6M427.5 366.3h1.6M427.5 372.8h1.6M428 283.8h1.6M428 292.3h1.6M428 296.3h1.6M428 303.3h1.6M428 308.8h1.6M428 309.3h1.6M428 310.8h1.6M428 312.3h1.6M428 341.3h1.6M428 345.3h1.6M428 352.3h1.6M428 356.8h1.6M428 357.8h1.6M428 361.3h1.6M428 364.3h1.6M428 364.8h1.6M428 365.3h1.6M428 366.8h1.6M428 367.3h1.6M428 374.3h1.6M428.5 287.8h1.6M428.5 293.3h1.6M428.5 300.8h1.6M428.5 304.8h1.6M428.5 308.8h1.6M428.5 309.8h1.6M428.5 311.3h1.6M428.5 315.3h1.6M428.5 318.8h1.6M428.5 319.8h1.6M428.5 338.3h1.6M428.5 353.3h1.6M428.5 355.3h1.6M428.5 360.8h1.6M428.5 363.3h1.6M428.5 365.8h1.6M428.5 372.8h1.6M429 282.8h1.6M429 284.8h1.6M429 288.8h1.6M429 291.8h1.6M429 293.3h1.6M429 306.8h1.6M429 307.8h1.6M429 311.8h1.6M429 313.8h1.6M429 314.3h1.6M429 314.8h1.6M429 316.3h1.6M429 321.8h1.6M429 345.8h1.6M429 348.8h1.6M429 349.8h1.6M429 360.3h1.6M429 363.8h1.6M429 365.8h1.6M429 367.3h1.6M429 373.3h1.6M429 375.8h1.6M429 377.8h1.6M429 378.3h1.6M429 380.3h1.6M429.5 287.8h1.6M429.5 295.8h1.6M429.5 297.3h1.6M429.5 306.8h1.6M429.5 308.3h1.6M429.5 311.8h1.6M429.5 313.3h1.6M429.5 314.8h1.6M429.5 346.8h1.6M429.5 350.8h1.6M429.5 354.3h1.6M429.5 354.8h1.6M429.5 358.3h1.6M429.5 359.3h1.6M429.5 363.3h1.6M429.5 363.8h1.6M429.5 364.3h1.6M429.5 365.3h1.6M429.5 370.8h1.6M429.5 372.8h1.6M430 295.8h1.6M430 297.8h1.6M430 300.8h1.6M430 307.8h1.6M430 308.3h1.6M430 309.3h1.6M430 312.8h1.6M430 313.3h1.6M430 319.3h1.6M430 347.8h1.6M430 348.3h1.6M430 357.3h1.6M430 359.8h1.6M430 361.3h1.6M430 365.3h1.6M430 366.3h1.6M430 366.8h1.6M430 369.8h1.6M430 370.3h1.6M430 370.8h1.6M430 379.8h1.6M430.5 284.8h1.6M430.5 285.3h1.6M430.5 291.3h1.6M430.5 296.3h1.6M430.5 300.8h1.6M430.5 309.3h1.6M430.5 338.8h1.6M430.5 339.8h1.6M430.5 341.3h1.6M430.5 345.3h1.6M430.5 348.8h1.6M430.5 349.8h1.6M430.5 355.3h1.6M430.5 362.3h1.6M430.5 364.3h1.6M430.5 374.3h1.6M431 286.8h1.6M431 290.3h1.6M431 295.3h1.6M431 298.3h1.6M431 299.3h1.6M431 301.8h1.6M431 339.3h1.6M431 343.3h1.6M431 346.3h1.6M431 346.8h1.6M431 348.3h1.6M431 354.3h1.6M431 358.3h1.6M431 359.8h1.6M431 366.3h1.6M431 377.8h1.6M431 380.3h1.6M431.5 308.8h1.6M431.5 314.3h1.6M431.5 319.8h1.6M431.5 339.8h1.6M431.5 341.3h1.6M431.5 342.3h1.6M431.5 344.8h1.6M431.5 349.8h1.6M431.5 350.3h1.6M431.5 358.8h1.6M431.5 359.3h1.6M431.5 363.3h1.6M431.5 364.3h1.6M431.5 367.3h1.6M432 296.8h1.6M432 341.8h1.6M432 344.3h1.6M432 345.3h1.6M432 345.8h1.6M432 358.3h1.6M432 369.8h1.6M432 371.3h1.6M432 372.3h1.6M432 378.3h1.6M432.5 292.3h1.6M432.5 310.8h1.6M432.5 344.3h1.6M432.5 347.3h1.6M432.5 347.8h1.6M432.5 348.8h1.6M432.5 352.3h1.6M432.5 359.8h1.6M432.5 360.8h1.6M432.5 361.3h1.6M432.5 365.8h1.6M432.5 370.8h1.6M432.5 374.8h1.6M433 287.3h1.6M433 300.3h1.6M433 304.3h1.6M433 306.8h1.6M433 340.8h1.6M433 347.8h1.6M433 348.3h1.6M433 349.3h1.6M433 349.8h1.6M433 354.8h1.6M433 355.8h1.6M433 359.3h1.6M433 360.8h1.6M433 361.8h1.6M433 368.8h1.6M433 369.3h1.6M433 370.3h1.6M433 372.3h1.6M433.5 290.8h1.6M433.5 292.3h1.6M433.5 296.3h1.6M433.5 303.3h1.6M433.5 307.8h1.6M433.5 341.8h1.6M433.5 347.8h1.6M433.5 348.8h1.6M433.5 350.3h1.6M433.5 350.8h1.6M433.5 352.3h1.6M433.5 354.8h1.6M433.5 359.3h1.6M433.5 367.8h1.6M433.5 370.8h1.6M434 291.3h1.6M434 297.3h1.6M434 298.8h1.6M434 304.3h1.6M434 308.3h1.6M434 345.3h1.6M434 352.8h1.6M434 353.3h1.6M434 353.8h1.6M434 354.3h1.6M434 355.3h1.6M434 356.3h1.6M434 358.3h1.6M434 364.8h1.6M434 365.3h1.6M434 377.8h1.6M434.5 289.8h1.6M434.5 358.8h1.6M434.5 359.3h1.6M434.5 359.8h1.6M434.5 362.3h1.6M434.5 362.8h1.6M434.5 364.3h1.6M434.5 366.8h1.6M434.5 369.3h1.6M434.5 373.8h1.6M434.5 374.3h1.6M435 296.8h1.6M435 298.8h1.6M435 305.8h1.6M435 344.3h1.6M435 351.8h1.6M435 353.3h1.6M435 358.8h1.6M435 365.3h1.6M435 367.3h1.6M435 377.8h1.6M435.5 345.3h1.6M435.5 349.3h1.6M435.5 350.3h1.6M435.5 351.8h1.6M435.5 354.3h1.6M435.5 361.3h1.6M435.5 376.3h1.6M435.5 379.3h1.6M436 292.3h1.6M436 297.8h1.6M436 303.8h1.6M436 307.8h1.6M436 345.3h1.6M436 346.8h1.6M436 347.8h1.6M436 348.8h1.6M436 350.3h1.6M436 351.8h1.6M436 355.3h1.6M436 356.3h1.6M436 361.8h1.6M436 364.3h1.6M436 369.8h1.6M436 370.3h1.6M436 370.8h1.6M436 374.3h1.6M436 376.8h1.6M436 379.8h1.6M436.5 279.3h1.6M436.5 293.8h1.6M436.5 333.3h1.6M436.5 344.3h1.6M436.5 349.8h1.6M436.5 352.3h1.6M436.5 352.8h1.6M436.5 353.8h1.6M436.5 359.3h1.6M436.5 361.8h1.6M436.5 363.8h1.6M436.5 365.8h1.6M436.5 366.3h1.6M437 300.8h1.6M437 305.3h1.6M437 338.3h1.6M437 340.8h1.6M437 342.8h1.6M437 345.8h1.6M437 354.3h1.6M437 354.8h1.6M437 369.8h1.6M437 371.3h1.6M437 373.3h1.6M437 374.3h1.6M437 375.3h1.6M437 377.8h1.6M437.5 270.8h1.6M437.5 338.3h1.6M437.5 338.8h1.6M437.5 339.3h1.6M437.5 340.8h1.6M437.5 341.8h1.6M437.5 342.8h1.6M437.5 345.8h1.6M437.5 348.8h1.6M437.5 354.3h1.6M437.5 357.8h1.6M437.5 362.3h1.6M437.5 367.8h1.6M437.5 370.3h1.6M437.5 371.3h1.6M437.5 377.3h1.6M438 337.8h1.6M438 338.3h1.6M438 339.8h1.6M438 343.3h1.6M438 349.3h1.6M438 351.8h1.6M438 358.8h1.6M438 378.3h1.6M438.5 339.8h1.6M438.5 341.8h1.6M438.5 342.3h1.6M438.5 344.8h1.6M438.5 350.3h1.6M438.5 354.3h1.6M438.5 356.3h1.6M438.5 358.3h1.6M438.5 358.8h1.6M438.5 359.3h1.6M438.5 360.3h1.6M438.5 361.3h1.6M438.5 369.8h1.6M438.5 370.3h1.6M438.5 371.3h1.6M438.5 372.8h1.6M438.5 376.8h1.6M438.5 378.8h1.6M439 344.8h1.6M439 347.3h1.6M439 348.3h1.6M439 357.8h1.6M439 360.3h1.6M439 364.3h1.6M439 365.3h1.6M439 370.3h1.6M439 370.8h1.6M439 371.3h1.6M439 376.8h1.6M439 378.8h1.6M439.5 336.3h1.6M439.5 341.8h1.6M439.5 344.8h1.6M439.5 362.3h1.6M439.5 365.3h1.6M439.5 372.3h1.6M439.5 372.8h1.6M439.5 373.3h1.6M439.5 377.8h1.6M439.5 379.8h1.6M440 344.8h1.6M440 345.3h1.6M440 353.8h1.6M440 360.3h1.6M440 361.8h1.6M440 362.3h1.6M440 367.8h1.6M440 370.8h1.6M440 372.3h1.6M440.5 342.3h1.6M440.5 347.8h1.6M440.5 348.8h1.6M440.5 350.3h1.6M440.5 355.8h1.6M440.5 359.3h1.6M440.5 371.3h1.6M440.5 375.8h1.6M440.5 379.8h1.6M441 351.8h1.6M441 353.3h1.6M441 358.3h1.6M441 359.8h1.6M441 363.3h1.6M441 363.8h1.6M441 366.3h1.6M441 366.8h1.6M441 368.8h1.6M441 369.8h1.6M441 371.3h1.6M441 372.8h1.6M441 376.8h1.6M441.5 341.8h1.6M441.5 343.8h1.6M441.5 344.8h1.6M441.5 346.8h1.6M441.5 347.3h1.6M441.5 347.8h1.6M441.5 359.8h1.6M441.5 361.8h1.6M441.5 364.8h1.6M441.5 366.3h1.6M441.5 369.8h1.6M441.5 372.8h1.6M441.5 374.8h1.6M441.5 375.3h1.6M441.5 375.8h1.6M442 282.3h1.6M442 343.3h1.6M442 346.3h1.6M442 347.3h1.6M442 349.3h1.6M442 350.8h1.6M442 352.8h1.6M442 360.8h1.6M442 364.3h1.6M442 364.8h1.6M442 366.8h1.6M442 369.8h1.6M442 372.3h1.6M442.5 343.3h1.6M442.5 347.8h1.6M442.5 351.3h1.6M442.5 353.8h1.6M442.5 356.3h1.6M442.5 369.8h1.6M442.5 372.8h1.6M442.5 375.8h1.6M442.5 378.8h1.6M443 277.3h1.6M443 338.3h1.6M443 345.8h1.6M443 350.3h1.6M443 353.3h1.6M443 358.3h1.6M443 365.8h1.6M443 367.8h1.6M443 376.8h1.6M443.5 347.3h1.6M443.5 349.8h1.6M443.5 351.3h1.6M443.5 353.8h1.6M443.5 365.3h1.6M443.5 373.3h1.6M444 279.3h1.6M444 343.3h1.6M444 349.3h1.6M444 350.3h1.6M444 352.8h1.6M444 358.3h1.6M444 358.8h1.6M444 360.3h1.6M444 360.8h1.6M444 362.8h1.6M444 378.3h1.6M444.5 349.8h1.6M444.5 365.8h1.6M445 350.8h1.6M445 360.8h1.6M445 373.8h1.6M445 375.3h1.6M445 378.8h1.6M445.5 349.8h1.6M445.5 353.8h1.6M445.5 355.3h1.6M445.5 361.8h1.6M445.5 364.8h1.6M445.5 380.3h1.6M446 313.3h1.6M446 341.3h1.6M446 353.3h1.6M446 353.8h1.6M446 355.3h1.6M446 358.8h1.6M446 359.3h1.6M446 363.3h1.6M446.5 352.8h1.6M446.5 366.3h1.6M446.5 372.8h1.6M447 347.3h1.6M447 347.8h1.6M447 350.3h1.6M447 353.8h1.6M447 354.8h1.6M447 360.8h1.6M447 368.3h1.6M447 371.3h1.6M447 372.8h1.6M447.5 351.3h1.6M447.5 353.3h1.6M447.5 357.8h1.6M447.5 358.8h1.6M447.5 359.3h1.6M447.5 366.3h1.6M447.5 369.8h1.6M447.5 372.3h1.6M447.5 375.3h1.6M448 342.8h1.6M448 347.8h1.6M448 349.8h1.6M448 358.8h1.6M448 360.8h1.6M448 361.8h1.6M448 363.3h1.6M448 364.8h1.6M448 365.3h1.6M448 373.8h1.6M448.5 306.3h1.6M448.5 333.3h1.6M448.5 354.3h1.6M449 339.8h1.6M449 345.8h1.6M449 350.3h1.6M449 352.3h1.6M449.5 361.3h1.6M449.5 364.3h1.6M450 344.3h1.6M450 355.3h1.6M450 360.3h1.6M450 366.3h1.6M450 371.3h1.6M450.5 358.3h1.6M450.5 366.8h1.6M450.5 374.8h1.6M451 354.3h1.6M451 355.3h1.6M451 356.3h1.6M451 371.3h1.6M451.5 359.8h1.6M451.5 368.3h1.6M452 279.8h1.6M452 353.8h1.6M452 355.8h1.6M452 364.8h1.6M452.5 372.3h1.6M453.5 334.3h1.6M453.5 365.3h1.6M454 316.8h1.6M455 346.3h1.6M455.5 333.8h1.6M455.5 348.3h1.6M455.5 351.8h1.6M455.5 367.3h1.6M456 354.8h1.6M456.5 271.3h1.6M456.5 304.8h1.6M456.5 350.8h1.6M457 354.8h1.6M457 359.8h1.6M458 274.3h1.6M458 333.8h1.6M458 357.8h1.6M458.5 336.3h1.6M459.5 333.3h1.6M459.5 346.8h1.6M459.5 347.3h1.6M460 337.3h1.6M460 362.8h1.6M460.5 335.8h1.6M460.5 337.3h1.6M461 351.8h1.6M461.5 362.3h1.6M462 334.8h1.6M462 354.3h1.6M463 361.3h1.6M463.5 364.3h1.6M465.5 378.3h1.6M466 331.3h1.6M466 370.3h1.6M467 333.8h1.6M467 375.8h1.6M468.5 340.8h1.6M469 365.3h1.6M471.5 345.3h1.6M471.5 365.8h1.6M472.5 375.3h1.6M473.5 378.3h1.6M474 338.8h1.6M474 370.3h1.6M475.5 359.8h1.6M475.5 371.8h1.6M476 361.8h1.6M477.5 373.3h1.6M478.5 341.3h1.6M479 336.3h1.6M480 338.3h1.6" stroke="#0a0a0a" stroke-width="1.6" fill="none"/><rect x="127.5" y="92.5" width="103.5" height="29.5" fill="#999" filter="url(#bl)"/><rect x="51.0" y="108.0" width="187.3" height="160.0" fill="none" stroke="#111" stroke-width="1.45"/><path d="M108.0 108.0V268.0M51.0 212.8H238.3" stroke="#111" stroke-width="1.3" fill="none"/><path d="M65.10 268.0v3.5M51.0 255.96h-3.5M73.34 268.0v3.5M51.0 248.92h-3.5M79.19 268.0v3.5M51.0 243.92h-3.5M83.73 268.0v3.5M51.0 240.04h-3.5M87.44 268.0v3.5M51.0 236.87h-3.5M90.57 268.0v3.5M51.0 234.20h-3.5M93.29 268.0v3.5M51.0 231.88h-3.5M95.68 268.0v3.5M51.0 229.83h-3.5M111.92 268.0v3.5M51.0 215.96h-3.5M120.17 268.0v3.5M51.0 208.92h-3.5M126.02 268.0v3.5M51.0 203.92h-3.5M130.55 268.0v3.5M51.0 200.04h-3.5M134.26 268.0v3.5M51.0 196.87h-3.5M137.40 268.0v3.5M51.0 194.20h-3.5M140.11 268.0v3.5M51.0 191.88h-3.5M142.51 268.0v3.5M51.0 189.83h-3.5M158.75 268.0v3.5M51.0 175.96h-3.5M166.99 268.0v3.5M51.0 168.92h-3.5M172.84 268.0v3.5M51.0 163.92h-3.5M177.38 268.0v3.5M51.0 160.04h-3.5M181.09 268.0v3.5M51.0 156.87h-3.5M184.22 268.0v3.5M51.0 154.20h-3.5M186.94 268.0v3.5M51.0 151.88h-3.5M189.33 268.0v3.5M51.0 149.83h-3.5M205.57 268.0v3.5M51.0 135.96h-3.5M213.82 268.0v3.5M51.0 128.92h-3.5M219.67 268.0v3.5M51.0 123.92h-3.5M224.20 268.0v3.5M51.0 120.04h-3.5M227.91 268.0v3.5M51.0 116.87h-3.5M231.05 268.0v3.5M51.0 114.20h-3.5M233.76 268.0v3.5M51.0 111.88h-3.5M236.16 268.0v3.5M51.0 109.83h-3.5" stroke="#111" stroke-width="1.3" fill="none"/><path d="M51.00 268.0v5.5M51.0 268.00h-5.5M97.83 268.0v5.5M51.0 228.00h-5.5M144.65 268.0v5.5M51.0 188.00h-5.5M191.48 268.0v5.5M51.0 148.00h-5.5M238.30 268.0v5.5M51.0 108.00h-5.5" stroke="#111" stroke-width="1.8" fill="none"/><text x="43.4" y="287.6" font-size="14">10<tspan font-size="11" dy="-4.8">0</tspan></text><text x="24.0" y="271.6" font-size="14">10<tspan font-size="10.5" dy="-4.6">0</tspan></text><text x="90.2" y="287.6" font-size="14">10<tspan font-size="11" dy="-4.8">1</tspan></text><text x="24.0" y="231.6" font-size="14">10<tspan font-size="10.5" dy="-4.6">1</tspan></text><text x="137.1" y="287.6" font-size="14">10<tspan font-size="11" dy="-4.8">2</tspan></text><text x="24.0" y="191.6" font-size="14">10<tspan font-size="10.5" dy="-4.6">2</tspan></text><text x="183.9" y="287.6" font-size="14">10<tspan font-size="11" dy="-4.8">3</tspan></text><text x="24.0" y="151.6" font-size="14">10<tspan font-size="10.5" dy="-4.6">3</tspan></text><text x="229.4" y="287.6" font-size="14">10<tspan font-size="11" dy="-4.8">4</tspan></text><text x="24.0" y="111.6" font-size="14">10<tspan font-size="10.5" dy="-4.6">4</tspan></text><rect x="320.5" y="9.5" width="188.0" height="160.5" fill="none" stroke="#111" stroke-width="1.45"/><path d="M378.2 9.5V170.0M320.5 117.2H508.5" stroke="#111" stroke-width="1.3" fill="none"/><path d="M334.65 170.0v3.5M320.5 157.92h-3.5M342.92 170.0v3.5M320.5 150.86h-3.5M348.80 170.0v3.5M320.5 145.84h-3.5M353.35 170.0v3.5M320.5 141.95h-3.5M357.07 170.0v3.5M320.5 138.78h-3.5M360.22 170.0v3.5M320.5 136.09h-3.5M362.95 170.0v3.5M320.5 133.76h-3.5M365.35 170.0v3.5M320.5 131.71h-3.5M381.65 170.0v3.5M320.5 117.80h-3.5M389.92 170.0v3.5M320.5 110.73h-3.5M395.80 170.0v3.5M320.5 105.72h-3.5M400.35 170.0v3.5M320.5 101.83h-3.5M404.07 170.0v3.5M320.5 98.65h-3.5M407.22 170.0v3.5M320.5 95.97h-3.5M409.95 170.0v3.5M320.5 93.64h-3.5M412.35 170.0v3.5M320.5 91.59h-3.5M428.65 170.0v3.5M320.5 77.67h-3.5M436.92 170.0v3.5M320.5 70.61h-3.5M442.80 170.0v3.5M320.5 65.59h-3.5M447.35 170.0v3.5M320.5 61.70h-3.5M451.07 170.0v3.5M320.5 58.53h-3.5M454.22 170.0v3.5M320.5 55.84h-3.5M456.95 170.0v3.5M320.5 53.51h-3.5M459.35 170.0v3.5M320.5 51.46h-3.5M475.65 170.0v3.5M320.5 37.55h-3.5M483.92 170.0v3.5M320.5 30.48h-3.5M489.80 170.0v3.5M320.5 25.47h-3.5M494.35 170.0v3.5M320.5 21.58h-3.5M498.07 170.0v3.5M320.5 18.40h-3.5M501.22 170.0v3.5M320.5 15.72h-3.5M503.95 170.0v3.5M320.5 13.39h-3.5M506.35 170.0v3.5M320.5 11.34h-3.5" stroke="#111" stroke-width="1.3" fill="none"/><path d="M320.50 170.0v5.5M320.5 170.00h-5.5M367.50 170.0v5.5M320.5 129.88h-5.5M414.50 170.0v5.5M320.5 89.75h-5.5M461.50 170.0v5.5M320.5 49.62h-5.5M508.50 170.0v5.5M320.5 9.50h-5.5" stroke="#111" stroke-width="1.8" fill="none"/><text x="312.9" y="189.6" font-size="14">10<tspan font-size="11" dy="-4.8">0</tspan></text><text x="293.5" y="173.6" font-size="14">10<tspan font-size="10.5" dy="-4.6">0</tspan></text><text x="359.9" y="189.6" font-size="14">10<tspan font-size="11" dy="-4.8">1</tspan></text><text x="293.5" y="133.5" font-size="14">10<tspan font-size="10.5" dy="-4.6">1</tspan></text><text x="406.9" y="189.6" font-size="14">10<tspan font-size="11" dy="-4.8">2</tspan></text><text x="293.5" y="93.3" font-size="14">10<tspan font-size="10.5" dy="-4.6">2</tspan></text><text x="453.9" y="189.6" font-size="14">10<tspan font-size="11" dy="-4.8">3</tspan></text><text x="293.5" y="53.2" font-size="14">10<tspan font-size="10.5" dy="-4.6">3</tspan></text><text x="499.6" y="189.6" font-size="14">10<tspan font-size="11" dy="-4.8">4</tspan></text><text x="293.5" y="13.1" font-size="14">10<tspan font-size="10.5" dy="-4.6">4</tspan></text><rect x="320.5" y="220.0" width="188.0" height="161.0" fill="none" stroke="#111" stroke-width="1.45"/><path d="M378.2 220.0V381.0M320.5 328.4H508.5" stroke="#111" stroke-width="1.3" fill="none"/><path d="M334.65 381.0v3.5M320.5 368.88h-3.5M342.92 381.0v3.5M320.5 361.80h-3.5M348.80 381.0v3.5M320.5 356.77h-3.5M353.35 381.0v3.5M320.5 352.87h-3.5M357.07 381.0v3.5M320.5 349.68h-3.5M360.22 381.0v3.5M320.5 346.98h-3.5M362.95 381.0v3.5M320.5 344.65h-3.5M365.35 381.0v3.5M320.5 342.59h-3.5M381.65 381.0v3.5M320.5 328.63h-3.5M389.92 381.0v3.5M320.5 321.55h-3.5M395.80 381.0v3.5M320.5 316.52h-3.5M400.35 381.0v3.5M320.5 312.62h-3.5M404.07 381.0v3.5M320.5 309.43h-3.5M407.22 381.0v3.5M320.5 306.73h-3.5M409.95 381.0v3.5M320.5 304.40h-3.5M412.35 381.0v3.5M320.5 302.34h-3.5M428.65 381.0v3.5M320.5 288.38h-3.5M436.92 381.0v3.5M320.5 281.30h-3.5M442.80 381.0v3.5M320.5 276.27h-3.5M447.35 381.0v3.5M320.5 272.37h-3.5M451.07 381.0v3.5M320.5 269.18h-3.5M454.22 381.0v3.5M320.5 266.48h-3.5M456.95 381.0v3.5M320.5 264.15h-3.5M459.35 381.0v3.5M320.5 262.09h-3.5M475.65 381.0v3.5M320.5 248.13h-3.5M483.92 381.0v3.5M320.5 241.05h-3.5M489.80 381.0v3.5M320.5 236.02h-3.5M494.35 381.0v3.5M320.5 232.12h-3.5M498.07 381.0v3.5M320.5 228.93h-3.5M501.22 381.0v3.5M320.5 226.23h-3.5M503.95 381.0v3.5M320.5 223.90h-3.5M506.35 381.0v3.5M320.5 221.84h-3.5" stroke="#111" stroke-width="1.3" fill="none"/><path d="M320.50 381.0v5.5M320.5 381.00h-5.5M367.50 381.0v5.5M320.5 340.75h-5.5M414.50 381.0v5.5M320.5 300.50h-5.5M461.50 381.0v5.5M320.5 260.25h-5.5M508.50 381.0v5.5M320.5 220.00h-5.5" stroke="#111" stroke-width="1.8" fill="none"/><text x="312.9" y="400.6" font-size="14">10<tspan font-size="11" dy="-4.8">0</tspan></text><text x="293.5" y="384.6" font-size="14">10<tspan font-size="10.5" dy="-4.6">0</tspan></text><text x="359.9" y="400.6" font-size="14">10<tspan font-size="11" dy="-4.8">1</tspan></text><text x="293.5" y="344.4" font-size="14">10<tspan font-size="10.5" dy="-4.6">1</tspan></text><text x="406.9" y="400.6" font-size="14">10<tspan font-size="11" dy="-4.8">2</tspan></text><text x="293.5" y="304.1" font-size="14">10<tspan font-size="10.5" dy="-4.6">2</tspan></text><text x="453.9" y="400.6" font-size="14">10<tspan font-size="11" dy="-4.8">3</tspan></text><text x="293.5" y="263.9" font-size="14">10<tspan font-size="10.5" dy="-4.6">3</tspan></text><text x="499.6" y="400.6" font-size="14">10<tspan font-size="11" dy="-4.8">4</tspan></text><text x="293.5" y="223.6" font-size="14">10<tspan font-size="10.5" dy="-4.6">4</tspan></text><text x="130.5" y="308.6" font-size="21">GFP</text><text x="400.2" y="210.6" font-size="21">GFP</text><text x="400.2" y="422.1" font-size="21">GFP</text><text transform="translate(15.2 187) rotate(-90)" text-anchor="middle" font-size="21">CD45</text><text transform="translate(284.8 78.6) rotate(-90)" text-anchor="middle" font-size="21">CD15/CD33</text><text transform="translate(285.5 298.8) rotate(-90)" text-anchor="middle" font-size="21.3">CD19</text><rect x="124.5" y="89.5" width="102" height="30" fill="#fff" stroke="#333" stroke-width="1"/><text x="221" y="101.2" text-anchor="end" font-size="11.6" style="stroke-width:0.12px">Engraftment = 28%</text><text x="221" y="115.2" text-anchor="end" font-size="11.6" style="stroke-width:0.12px">GFP<tspan font-size="10" dy="-4.5">+</tspan><tspan dy="4.5"> = 29%</tspan></text><defs><filter id="bl" x="-20%" y="-20%" width="140%" height="140%"><feGaussianBlur stdDeviation="1"/></filter><filter id="bl2" x="-20%" y="-20%" width="140%" height="140%"><feGaussianBlur stdDeviation="1.3"/></filter></defs><g transform="translate(3.5 4.5)" filter="url(#bl2)" opacity="0.55"><path d="M230.5 181.2L277.83 148.48" stroke="#777" stroke-width="3.6" fill="none"/><path d="M287.8 141.8L275.77 157.08L277.83 148.48L269.09 147.11Z" fill="#777"/></g><path d="M277.83 148.48L224.5 184.2L280.22 226.18" stroke="#000" stroke-width="3.6" fill="none" stroke-linejoin="miter" stroke-miterlimit="10"/><path d="M287.8 141.8L275.77 157.08L277.83 148.48L269.09 147.11Z" fill="#000"/><path d="M290.6 234.0L270.32 226.86L280.22 226.18L278.14 216.47Z" fill="#000"/></svg></body></html>
